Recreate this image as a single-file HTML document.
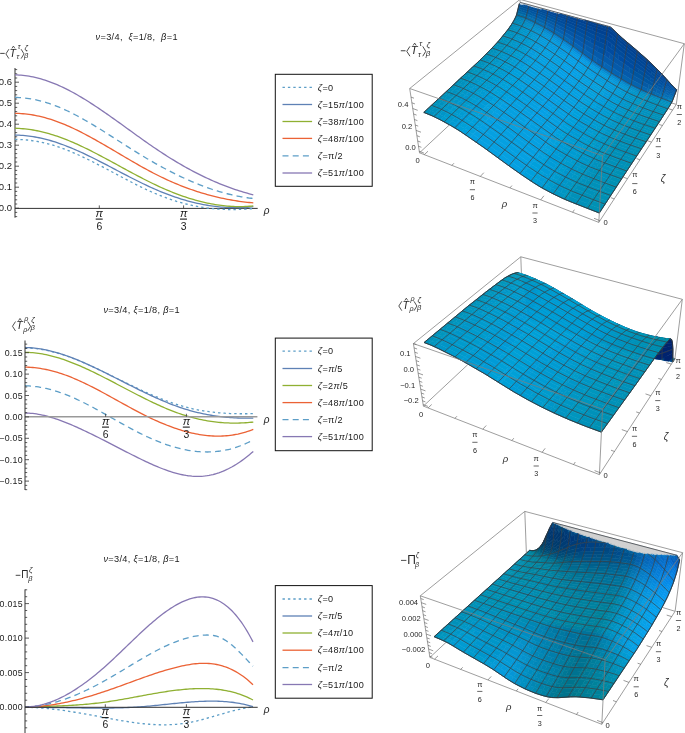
<!DOCTYPE html>
<html><head><meta charset="utf-8"><style>
html,body{margin:0;padding:0;background:#fff;width:685px;height:733px;overflow:hidden}
svg{display:block;will-change:transform}
text{font-family:"Liberation Sans",sans-serif}
</style></head><body>
<svg width="685" height="733" viewBox="0 0 685 733">
<rect width="685" height="733" fill="#fff"/>
<style>path[class]{stroke-width:.6px}.c0{fill:#ebebeb;stroke:#ebebeb}.c1{fill:#004191;stroke:#004191}.c2{fill:#00418c;stroke:#00418c}.c3{fill:#004696;stroke:#004696}.c4{fill:#004b9b;stroke:#004b9b}.c5{fill:#0050a0;stroke:#0050a0}.c6{fill:#004ba0;stroke:#004ba0}.c7{fill:#004691;stroke:#004691}.c8{fill:#00469b;stroke:#00469b}.c9{fill:#004b91;stroke:#004b91}.ca{fill:#004b96;stroke:#004b96}.cb{fill:#004196;stroke:#004196}.cc{fill:#0555a5;stroke:#0555a5}.cd{fill:#055aa5;stroke:#055aa5}.ce{fill:#005096;stroke:#005096}.cf{fill:#00509b;stroke:#00509b}.c10{fill:#0055a5;stroke:#0055a5}.c11{fill:#055faa;stroke:#055faa}.c12{fill:#00559b;stroke:#00559b}.c13{fill:#0055a0;stroke:#0055a0}.c14{fill:#0564af;stroke:#0564af}.c15{fill:#005a9b;stroke:#005a9b}.c16{fill:#005aa0;stroke:#005aa0}.c17{fill:#005aa5;stroke:#005aa5}.c18{fill:#0550a5;stroke:#0550a5}.c19{fill:#056eb4;stroke:#056eb4}.c1a{fill:#0064a0;stroke:#0064a0}.c1b{fill:#0064a5;stroke:#0064a5}.c1c{fill:#0064aa;stroke:#0064aa}.c1d{fill:#0564aa;stroke:#0564aa}.c1e{fill:#055faf;stroke:#055faf}.c1f{fill:#055aaf;stroke:#055aaf}.c20{fill:#055aaa;stroke:#055aaa}.c21{fill:#055fa5;stroke:#055fa5}.c22{fill:#0569af;stroke:#0569af}.c23{fill:#0573b9;stroke:#0573b9}.c24{fill:#006ea5;stroke:#006ea5}.c25{fill:#006eaa;stroke:#006eaa}.c26{fill:#056eaf;stroke:#056eaf}.c27{fill:#0569b4;stroke:#0569b4}.c28{fill:#0564b4;stroke:#0564b4}.c29{fill:#0578b9;stroke:#0578b9}.c2a{fill:#0582be;stroke:#0582be}.c2b{fill:#0073aa;stroke:#0073aa}.c2c{fill:#0078af;stroke:#0078af}.c2d{fill:#0578b4;stroke:#0578b4}.c2e{fill:#0578be;stroke:#0578be}.c2f{fill:#0578c3;stroke:#0578c3}.c30{fill:#0578c8;stroke:#0578c8}.c31{fill:#0573c3;stroke:#0573c3}.c32{fill:#0573be;stroke:#0573be}.c33{fill:#0573b4;stroke:#0573b4}.c34{fill:#057db9;stroke:#057db9}.c35{fill:#0582b9;stroke:#0582b9}.c36{fill:#0587be;stroke:#0587be}.c37{fill:#007daf;stroke:#007daf}.c38{fill:#007db4;stroke:#007db4}.c39{fill:#0582c3;stroke:#0582c3}.c3a{fill:#0587c3;stroke:#0587c3}.c3b{fill:#0587c8;stroke:#0587c8}.c3c{fill:#0587cd;stroke:#0587cd}.c3d{fill:#0587d2;stroke:#0587d2}.c3e{fill:#0587d7;stroke:#0587d7}.c3f{fill:#0087be;stroke:#0087be}.c40{fill:#008cbe;stroke:#008cbe}.c41{fill:#0082b4;stroke:#0082b4}.c42{fill:#0087b9;stroke:#0087b9}.c43{fill:#058cc3;stroke:#058cc3}.c44{fill:#058cc8;stroke:#058cc8}.c45{fill:#058ccd;stroke:#058ccd}.c46{fill:#0591d2;stroke:#0591d2}.c47{fill:#0591d7;stroke:#0591d7}.c48{fill:#0591dc;stroke:#0591dc}.c49{fill:#0596dc;stroke:#0596dc}.c4a{fill:#0596e1;stroke:#0596e1}.c4b{fill:#0596d7;stroke:#0596d7}.c4c{fill:#0591cd;stroke:#0591cd}.c4d{fill:#0591c8;stroke:#0591c8}.c4e{fill:#0091c3;stroke:#0091c3}.c4f{fill:#0091be;stroke:#0091be}.c50{fill:#0087b4;stroke:#0087b4}.c51{fill:#0596d2;stroke:#0596d2}.c52{fill:#059be1;stroke:#059be1}.c53{fill:#059bdc;stroke:#059bdc}.c54{fill:#0596cd;stroke:#0596cd}.c55{fill:#0096c8;stroke:#0096c8}.c56{fill:#0091c8;stroke:#0091c8}.c57{fill:#008cb9;stroke:#008cb9}.c58{fill:#008cc3;stroke:#008cc3}.c59{fill:#059be6;stroke:#059be6}.c5a{fill:#059bd7;stroke:#059bd7}.c5b{fill:#0096cd;stroke:#0096cd}.c5c{fill:#0096c3;stroke:#0096c3}.c5d{fill:#05a0e6;stroke:#05a0e6}.c5e{fill:#0091b9;stroke:#0091b9}.c5f{fill:#05a0e1;stroke:#05a0e1}.c60{fill:#009bd2;stroke:#009bd2}.c61{fill:#059bd2;stroke:#059bd2}.c62{fill:#05a0dc;stroke:#05a0dc}.c63{fill:#009bd7;stroke:#009bd7}.c64{fill:#0096be;stroke:#0096be}.c65{fill:#009bdc;stroke:#009bdc}.c66{fill:#0091b4;stroke:#0091b4}.c67{fill:#009bcd;stroke:#009bcd}.c68{fill:#00a0dc;stroke:#00a0dc}.c69{fill:#00a0d7;stroke:#00a0d7}.c6a{fill:#00a0e1;stroke:#00a0e1}.c6b{fill:#009bc8;stroke:#009bc8}.c6c{fill:#0078a5;stroke:#0078a5}.c6d{fill:#005a91;stroke:#005a91}.c6e{fill:#0096b9;stroke:#0096b9}.c6f{fill:#004182;stroke:#004182}.c70{fill:#00236e;stroke:#00236e}.c71{fill:#004682;stroke:#004682}.c72{fill:#005f96;stroke:#005f96}.c73{fill:#005f91;stroke:#005f91}.c74{fill:#00417d;stroke:#00417d}.c75{fill:#006496;stroke:#006496}.c76{fill:#00649b;stroke:#00649b}.c77{fill:#0069a0;stroke:#0069a0}.c78{fill:#0069a5;stroke:#0069a5}.c79{fill:#007da0;stroke:#007da0}.c7a{fill:#009baf;stroke:#009baf}.c7b{fill:#00a0be;stroke:#00a0be}.c7c{fill:#00a0c3;stroke:#00a0c3}.c7d{fill:#00a5c8;stroke:#00a5c8}.c7e{fill:#00a5cd;stroke:#00a5cd}.c7f{fill:#00a5d2;stroke:#00a5d2}.c80{fill:#00aad2;stroke:#00aad2}.c81{fill:#00aad7;stroke:#00aad7}.c82{fill:#00aadc;stroke:#00aadc}.c83{fill:#00aacd;stroke:#00aacd}.c84{fill:#00a0b9;stroke:#00a0b9}.c85{fill:#009bb9;stroke:#009bb9}.c86{fill:#009bb4;stroke:#009bb4}.c87{fill:#0096af;stroke:#0096af}.c88{fill:#0091aa;stroke:#0091aa}.c89{fill:#009bbe;stroke:#009bbe}.c8a{fill:#00a0c8;stroke:#00a0c8}.c8b{fill:#00a0cd;stroke:#00a0cd}.c8c{fill:#00a5d7;stroke:#00a5d7}.c8d{fill:#0096b4;stroke:#0096b4}.c8e{fill:#0091af;stroke:#0091af}.c8f{fill:#009bc3;stroke:#009bc3}.c90{fill:#00a0d2;stroke:#00a0d2}.c91{fill:#00829b;stroke:#00829b}.c92{fill:#006e87;stroke:#006e87}.c93{fill:#00556e;stroke:#00556e}.c94{fill:#004164;stroke:#004164}.c95{fill:#003764;stroke:#003764}.c96{fill:#003769;stroke:#003769}.c97{fill:#003773;stroke:#003773}.c98{fill:#d0d0d0;stroke:#d0d0d0}.c99{fill:#056ec8;stroke:#056ec8}.c9a{fill:#0082a0;stroke:#0082a0}.c9b{fill:#00738c;stroke:#00738c}.c9c{fill:#005573;stroke:#005573}.c9d{fill:#004664;stroke:#004664}.c9e{fill:#003c64;stroke:#003c64}.c9f{fill:#004b82;stroke:#004b82}.ca0{fill:#0078b9;stroke:#0078b9}.ca1{fill:#055fb9;stroke:#055fb9}.ca2{fill:#0087a0;stroke:#0087a0}.ca3{fill:#005a78;stroke:#005a78}.ca4{fill:#004669;stroke:#004669}.ca5{fill:#00376e;stroke:#00376e}.ca6{fill:#005087;stroke:#005087}.ca7{fill:#055ab9;stroke:#055ab9}.ca8{fill:#007891;stroke:#007891}.ca9{fill:#00647d;stroke:#00647d}.caa{fill:#004b6e;stroke:#004b6e}.cab{fill:#004169;stroke:#004169}.cac{fill:#003c69;stroke:#003c69}.cad{fill:#003c73;stroke:#003c73}.cae{fill:#005f8c;stroke:#005f8c}.caf{fill:#0082c3;stroke:#0082c3}.cb0{fill:#0569be;stroke:#0569be}.cb1{fill:#055fbe;stroke:#055fbe}.cb2{fill:#0087a5;stroke:#0087a5}.cb3{fill:#007d96;stroke:#007d96}.cb4{fill:#006982;stroke:#006982}.cb5{fill:#004678;stroke:#004678}.cb6{fill:#006491;stroke:#006491}.cb7{fill:#0564c8;stroke:#0564c8}.cb8{fill:#00416e;stroke:#00416e}.cb9{fill:#003c6e;stroke:#003c6e}.cba{fill:#0569c3;stroke:#0569c3}.cbb{fill:#0569cd;stroke:#0569cd}.cbc{fill:#0573d2;stroke:#0573d2}.cbd{fill:#008ca5;stroke:#008ca5}.cbe{fill:#007391;stroke:#007391}.cbf{fill:#006482;stroke:#006482}.cc0{fill:#005073;stroke:#005073}.cc1{fill:#00466e;stroke:#00466e}.cc2{fill:#003c78;stroke:#003c78}.cc3{fill:#00558c;stroke:#00558c}.cc4{fill:#0569c8;stroke:#0569c8}.cc5{fill:#0578dc;stroke:#0578dc}.cc6{fill:#008caa;stroke:#008caa}.cc7{fill:#007896;stroke:#007896}.cc8{fill:#006987;stroke:#006987}.cc9{fill:#005a7d;stroke:#005a7d}.cca{fill:#004b73;stroke:#004b73}.ccb{fill:#004673;stroke:#004673}.ccc{fill:#056ecd;stroke:#056ecd}.ccd{fill:#0578d7;stroke:#0578d7}.cce{fill:#057de1;stroke:#057de1}.ccf{fill:#00557d;stroke:#00557d}.cd0{fill:#005078;stroke:#005078}.cd1{fill:#003778;stroke:#003778}.cd2{fill:#00508c;stroke:#00508c}.cd3{fill:#006ea0;stroke:#006ea0}.cd4{fill:#057dbe;stroke:#057dbe}.cd5{fill:#056ec3;stroke:#056ec3}.cd6{fill:#0582e1;stroke:#0582e1}.cd7{fill:#006e8c;stroke:#006e8c}.cd8{fill:#006487;stroke:#006487}.cd9{fill:#004173;stroke:#004173}.cda{fill:#003c7d;stroke:#003c7d}.cdb{fill:#004687;stroke:#004687}.cdc{fill:#004b8c;stroke:#004b8c}.cdd{fill:#005591;stroke:#005591}.cde{fill:#0073a5;stroke:#0073a5}.cdf{fill:#056ebe;stroke:#056ebe}.ce0{fill:#057ddc;stroke:#057ddc}.ce1{fill:#0582e6;stroke:#0582e6}.ce2{fill:#005f82;stroke:#005f82}.ce3{fill:#004b78;stroke:#004b78}.ce4{fill:#004178;stroke:#004178}.ce5{fill:#005a96;stroke:#005a96}.ce6{fill:#00699b;stroke:#00699b}.ce7{fill:#007daa;stroke:#007daa}.ce8{fill:#0569b9;stroke:#0569b9}.ce9{fill:#0587e6;stroke:#0587e6}.cea{fill:#008caf;stroke:#008caf}.ceb{fill:#005a82;stroke:#005a82}.cec{fill:#004b87;stroke:#004b87}.ced{fill:#005f9b;stroke:#005f9b}.cee{fill:#0564b9;stroke:#0564b9}.cef{fill:#0573c8;stroke:#0573c8}.cf0{fill:#0578d2;stroke:#0578d2}.cf1{fill:#006e91;stroke:#006e91}.cf2{fill:#00698c;stroke:#00698c}.cf3{fill:#005f87;stroke:#005f87}.cf4{fill:#004b7d;stroke:#004b7d}.cf5{fill:#0573cd;stroke:#0573cd}.cf6{fill:#057dd7;stroke:#057dd7}.cf7{fill:#0582dc;stroke:#0582dc}.cf8{fill:#058ceb;stroke:#058ceb}.cf9{fill:#007396;stroke:#007396}.cfa{fill:#005582;stroke:#005582}.cfb{fill:#005082;stroke:#005082}.cfc{fill:#0578cd;stroke:#0578cd}.cfd{fill:#0587e1;stroke:#0587e1}.cfe{fill:#058ce6;stroke:#058ce6}.cff{fill:#0591eb;stroke:#0591eb}.c100{fill:#007d9b;stroke:#007d9b}.c101{fill:#005a87;stroke:#005a87}.c102{fill:#005587;stroke:#005587}.c103{fill:#056eb9;stroke:#056eb9}.c104{fill:#057dd2;stroke:#057dd2}.c105{fill:#005a8c;stroke:#005a8c}.c106{fill:#0569aa;stroke:#0569aa}.c107{fill:#057dcd;stroke:#057dcd}.c108{fill:#0582d2;stroke:#0582d2}.c109{fill:#0587dc;stroke:#0587dc}.c10a{fill:#058ce1;stroke:#058ce1}.c10b{fill:#0591e6;stroke:#0591e6}.c10c{fill:#0596eb;stroke:#0596eb}.c10d{fill:#00648c;stroke:#00648c}.c10e{fill:#057dc3;stroke:#057dc3}.c10f{fill:#006991;stroke:#006991}.c110{fill:#0573af;stroke:#0573af}.c111{fill:#057dc8;stroke:#057dc8}.c112{fill:#0582cd;stroke:#0582cd}.c113{fill:#058cdc;stroke:#058cdc}.c114{fill:#0596f0;stroke:#0596f0}.c115{fill:#00789b;stroke:#00789b}.c116{fill:#006e96;stroke:#006e96}.c117{fill:#006996;stroke:#006996}.c118{fill:#006e9b;stroke:#006e9b}.c119{fill:#0582c8;stroke:#0582c8}.c11a{fill:#058cd7;stroke:#058cd7}.c11b{fill:#0591e1;stroke:#0591e1}.c11c{fill:#059bf0;stroke:#059bf0}.c11d{fill:#058cd2;stroke:#058cd2}.c11e{fill:#0596e6;stroke:#0596e6}.c11f{fill:#059beb;stroke:#059beb}.c120{fill:#00739b;stroke:#00739b}.c121{fill:#05a0f0;stroke:#05a0f0}.c122{fill:#0082a5;stroke:#0082a5}.c123{fill:#0087aa;stroke:#0087aa}.c124{fill:#0078a0;stroke:#0078a0}.c125{fill:#05a0eb;stroke:#05a0eb}.c126{fill:#007da5;stroke:#007da5}.c127{fill:#0082af;stroke:#0082af}.c128{fill:#0087af;stroke:#0087af}.c129{fill:#008cb4;stroke:#008cb4}.c12a{fill:#0082aa;stroke:#0082aa}.c12b{fill:#0073a0;stroke:#0073a0}.c12c{fill:#0096d2;stroke:#0096d2}.c12d{fill:#00788c;stroke:#00788c}.c12e{fill:#007d91;stroke:#007d91}.c12f{fill:#008296;stroke:#008296}.c130{fill:#00879b;stroke:#00879b}</style>
<path class="c0" d="M520.2 2.6l3.7 1 3.7 1 3.7 1 3.7 1 3.8 1 3.8 1 3.8 1.1 3.8 1 3.8 1 3.9 1.1 3.8 1 3.9 1.1 3.9 1 3.9 1.1 4 1.1 3.9 1 .1-.1-3.9-1.1-4-1-3.9-1.1-3.9-1-3.9-1.1-3.8-1-3.9-1.1-3.8-1-3.8-1.1-3.8-1-3.8-1-3.8-1-3.7-1-3.7-1.1-3.7-1-3.7-1z"/>
<path class="c1" d="M584.5 20l.8 .3 0-.1z"/>
<path class="c0" d="M581.3 19.1l3.2 .9 .8 .2 .1-.1-4-1.1z"/>
<path class="c1" d="M585.3 20.3l4 1.2 0-.2-4-1.1z"/>
<path class="c0" d="M589.3 21.3l.1-.1-4-1.1-.1 .1z"/>
<path class="c1" d="M589.3 21.5l4 1.2 0-.4-4-1z"/>
<path class="c0" d="M593.3 22.3l.1 0-4-1.1-.1 .1z"/>
<path class="c2" d="M593.3 22.7l4 1.3 .1-.6-4.1-1.1z"/>
<path class="c0" d="M597.4 23.4l0 0-4-1.1-.1 0z"/>
<path class="c2" d="M597.3 24l4 1.2 .1-.7-4-1.1z"/>
<path class="c0" d="M601.4 24.5l.1 0-4.1-1.1 0 0z"/>
<path class="c2" d="M601.3 25.2l4.1 1.3 .1-.9-4.1-1.1z"/>
<path class="c0" d="M605.5 25.6l0 0-4-1.1-.1 0z"/>
<path class="c2" d="M605.4 26.5l4.1 1.2 .1-1-4.1-1.1z"/>
<path class="c0" d="M609.6 26.7l0 0-4.1-1.1 0 0z"/>
<path class="c1" d="M609.5 27.7l4 3.3 .1-1.1-3.9-3.2-.1 0z"/>
<path class="c0" d="M609.7 26.7l-.1 0 0 0z"/>
<path class="c1" d="M613.5 31l3.9 3.7 4 3.7 3.9 3.4 4 3.3 4 3.3 4 3.4 3.9 3.5 4 3.4 4 3.6 3.9 3.8 4 3.8 .1-.7-3.9-3.8-4-3.9-3.9-3.6-4-3.5-4-3.5-3.9-3.4-4-3.3-4-3.4-4-3.4-3.9-3.7-4-3.8z"/>
<path class="c3" d="M657.1 69.9l3.9 3.8 3.9 4.2 .1-.5-3.9-4.3-3.9-3.9z"/>
<path class="c4" d="M664.9 77.9l3.8 4.3 3.9 4.2 .1-.4-3.8-4.3-3.9-4.3z"/>
<path class="c5" d="M672.6 86.4l3.9 3.7 .2-.3-4-3.8z"/>
<path class="c0" d="M520 2.8l3.7 1 3.7 1 3.7 1 3.7 1.1 3.8 1 3.8 1 3.8 1 3.8 1.1 3.8 1 3.9 1 .2-.2-3.9-1.1-3.8-1-3.8-1-3.8-1.1-3.8-1-3.8-1-3.7-1-3.7-1-3.7-1-3.7-1z"/>
<path class="c1" d="M559.7 13.6l1.8 .6 0-.1z"/>
<path class="c0" d="M557.7 13l2 .6 1.8 .5 .2-.3-3.8-1z"/>
<path class="c1" d="M561.5 14.2l3.9 1.3 .1-.4-4-1z"/>
<path class="c0" d="M565.5 15.1l.1-.2-3.9-1.1-.2 .3z"/>
<path class="c1" d="M565.4 15.5l3.9 1.2 .1-.6-3.9-1z"/>
<path class="c0" d="M569.4 16.1l.1-.2-3.9-1-.1 .2z"/>
<path class="c1" d="M569.3 16.7l3.9 1.3 .2-.9-4-1z"/>
<path class="c0" d="M573.4 17.1l0-.1-3.9-1.1-.1 .2z"/>
<path class="c1" d="M573.2 18l3.9 1.3 .2-1.2-3.9-1z"/>
<path class="c0" d="M577.3 18.1l.1 0-4-1.1 0 .1z"/>
<path class="c1" d="M577.1 19.3l4 1.3 .2-1.4-4-1.1z"/>
<path class="c0" d="M581.3 19.2l0-.1-3.9-1-.1 0z"/>
<path class="c1" d="M581.1 20.6l3.9 1.3 .3-1.6-.8-.3-3.2-.8z"/>
<path class="c0" d="M584.5 20l-3.2-.9 0 .1z"/>
<path class="c1" d="M585 21.9l4 1.4 4 1.3 4 1.3 4.1 1.4 .2-2.1-4-1.2-4-1.3-4-1.2-4-1.2z"/>
<path class="c2" d="M601.1 27.3l4 1.3 .3-2.1-4.1-1.3z"/>
<path class="c1" d="M605.1 28.6l4.1 1.3 4 3.2 3.9 3.7 3.9 3.6 4 3.3 4 3.3 4 3.3 3.9 3.3 4 3.4 4 3.3 4 3.5 3.9 3.7 .3-1.4-3.9-3.8-4-3.6-4-3.4-3.9-3.5-4-3.4-4-3.3-4-3.3-3.9-3.4-4-3.7-3.9-3.7-4-3.3-4.1-1.2z"/>
<path class="c3" d="M652.8 67.5l3.9 3.7 4 3.6 3.9 4.1 .3-1-3.9-4.2-3.9-3.8-4-3.8z"/>
<path class="c4" d="M664.6 78.9l3.9 4.1 .2-.8-3.8-4.3z"/>
<path class="c6" d="M668.5 83l3.8 4.1 .3-.7-3.9-4.2z"/>
<path class="c5" d="M672.3 87.1l4 3.6 .2-.6-3.9-3.7z"/>
<path class="c0" d="M519.7 3.2l3.7 1 3.7 1 3.7 1 3.8 1 3.7 1 .3-.3-3.8-1-3.7-1.1-3.7-1-3.7-1-3.7-1z"/>
<path class="c3" d="M541.5 9.1l.6 .2 0-.1z"/>
<path class="c0" d="M538.3 8.2l3.2 .9 .6 .1 .3-.3-3.8-1z"/>
<path class="c3" d="M542.1 9.3l3.8 1.3 .1-.4-3.9-1z"/>
<path class="c0" d="M546 10.2l.2-.3-3.8-1-.3 .3z"/>
<path class="c3" d="M545.9 10.6l3.8 1.2 .2-.7-3.9-.9z"/>
<path class="c0" d="M549.9 11.1l.1-.1-3.8-1.1-.2 .3z"/>
<path class="c3" d="M549.7 11.8l3.8 1.4 .2-1.1-3.8-1z"/>
<path class="c0" d="M553.7 12.1l.1-.1-3.8-1-.1 .1z"/>
<path class="c3" d="M553.5 13.2l3.9 1.3 .2-1.4-3.9-1z"/>
<path class="c0" d="M557.6 13.1l.1-.1-3.9-1-.1 .1z"/>
<path class="c3" d="M557.4 14.5l3.8 1.3 .3-1.6-1.8-.6-2.1-.5z"/>
<path class="c0" d="M559.7 13.6l-2-.6-.1 .1z"/>
<path class="c3" d="M561.2 15.8l3.9 1.4 .3-1.7-3.9-1.3z"/>
<path class="c7" d="M565.1 17.2l3.9 1.4 .3-1.9-3.9-1.2z"/>
<path class="c1" d="M569 18.6l3.9 1.4 3.9 1.4 4 1.4 3.9 1.5 4 1.4 4 1.5 4 1.4 4 1.4 4 1.5 4.1 1.4 3.9 3.1 4 3.6 3.9 3.6 4 3.2 4 3.2 3.9 3.2 4 3.2 4 3.3 3.9 3.2 4 3.4 .5-2.1-4-3.5-4-3.3-4-3.4-3.9-3.3-4-3.3-4-3.3-4-3.3-3.9-3.6-3.9-3.7-4-3.2-4.1-1.3-4-1.3-4.1-1.4-4-1.3-4-1.3-4-1.4-3.9-1.3-4-1.3-3.9-1.3-3.9-1.3z"/>
<path class="c3" d="M648.4 65.9l4 3.5 3.9 3.5 4 3.5 .4-1.6-4-3.6-3.9-3.7-3.9-3.7z"/>
<path class="c8" d="M660.3 76.4l3.9 4 .4-1.5-3.9-4.1z"/>
<path class="c4" d="M664.2 80.4l3.9 3.9 .4-1.3-3.9-4.1z"/>
<path class="c5" d="M668.1 84.3l3.9 3.9 3.9 3.4 .4-.9-4-3.6-3.8-4.1z"/>
<path class="c0" d="M519.4 3.6l3.7 1 .3-.4-3.7-1z"/>
<path class="c9" d="M523.6 4.7l3.2 1 0-.2z"/>
<path class="c0" d="M523.1 4.6l.5 .1 3.2 .8 .3-.3-3.7-1z"/>
<path class="ca" d="M526.8 5.7l3.7 1.3 .1-.5-3.8-1z"/>
<path class="c0" d="M530.6 6.5l.2-.3-3.7-1-.3 .3z"/>
<path class="ca" d="M530.5 7l3.8 1.2 .1-.8-3.8-.9z"/>
<path class="c0" d="M534.4 7.4l.2-.2-3.8-1-.2 .3z"/>
<path class="ca" d="M534.3 8.2l3.7 1.3 .3-1.2-3.9-.9z"/>
<path class="c0" d="M538.3 8.3l0-.1-3.7-1-.2 .2z"/>
<path class="ca" d="M538 9.5l3.8 1.3 .3-1.5-.6-.2-3.2-.8z"/>
<path class="c0" d="M541.5 9.1l-3.2-.9 0 .1z"/>
<path class="ca" d="M541.8 10.8l3.8 1.4 .3-1.6-3.8-1.3z"/>
<path class="c3" d="M545.6 12.2l3.8 1.3 3.8 1.4 3.8 1.5 3.9 1.5 3.9 1.4 3.8 1.5 3.9 1.6 3.9 1.5 4 1.6 3.9 1.6 4 1.6 3.9 1.6 .5-3.1-4-1.5-4-1.4-3.9-1.5-4-1.4-3.9-1.4-3.9-1.4-3.9-1.4-3.9-1.4-3.8-1.3-3.9-1.3-3.8-1.4-3.8-1.2z"/>
<path class="c1" d="M592.2 30.3l4 1.6 4 1.5 4 1.6 4 1.5 .6-3.6-4.1-1.4-4-1.5-4-1.4-4-1.4z"/>
<path class="cb" d="M608.2 36.5l4 3.1 .5-3.6-3.9-3.1z"/>
<path class="c3" d="M612.2 39.6l3.9 3.4 4 3.5 3.9 3.1 4 3.1 4 3.1 4 3.1 3.9 3.2 4 3.1 4 3.2 3.9 3.3 4 3.4 4 3.3 .5-2-4-3.5-3.9-3.5-4-3.5-4-3.4-3.9-3.2-4-3.3-4-3.2-3.9-3.2-4-3.2-4-3.2-3.9-3.6-4-3.6z"/>
<path class="c4" d="M659.8 78.4l3.9 3.7 .5-1.7-3.9-4z"/>
<path class="c6" d="M663.7 82.1l3.9 3.7 .5-1.5-3.9-3.9z"/>
<path class="c5" d="M667.6 85.8l4 3.6 .4-1.2-3.9-3.9z"/>
<path class="cc" d="M671.6 89.4l3.9 3.3 .4-1.1-3.9-3.4z"/>
<path class="ca" d="M519 5l3.7 1.1 .4-1.5-3.8-.9z"/>
<path class="c0" d="M523.1 4.6l0 0-3.7-1-.1 .1z"/>
<path class="ca" d="M522.7 6.1l3.7 1.2 .4-1.6-3.2-1-.5-.1z"/>
<path class="c0" d="M523.6 4.7l-.5-.1 0 0z"/>
<path class="ca" d="M526.4 7.3l3.7 1.2 3.8 1.3 3.7 1.4 3.8 1.4 3.8 1.4 .4-1.8-3.8-1.4-3.8-1.3-3.7-1.3-3.8-1.2-3.7-1.3z"/>
<path class="c4" d="M545.2 14l3.8 1.5 3.8 1.5 3.8 1.6 3.9 1.6 3.8 1.6 .5-2.5-3.9-1.4-3.9-1.5-3.8-1.5-3.8-1.4-3.8-1.3z"/>
<path class="c3" d="M564.3 21.8l3.9 1.7 3.9 1.6 3.9 1.7 3.9 1.8 3.9 1.7 4 1.8 3.9 1.8 4 1.7 4 1.8 3.9 1.7 4.1 1.6 3.9 3 3.9 3.3 4 3.3 3.9 3.1 4 3 4 3 3.9 2.9 4 3 4 3 4 3 3.9 3.1 .6-2.7-3.9-3.3-4-3.2-4-3.1-3.9-3.2-4-3.1-4-3.1-4-3.1-3.9-3.1-4-3.5-3.9-3.4-4-3.1-4-1.5-4-1.6-4-1.5-4-1.6-3.9-1.6-4-1.6-3.9-1.6-4-1.6-3.9-1.5-3.9-1.6-3.8-1.5z"/>
<path class="ca" d="M651.2 74.4l4 3.2 .6-2.5-4-3.4z"/>
<path class="c4" d="M655.2 77.6l4 3.1 3.9 3.4 .6-2-3.9-3.7-4-3.3z"/>
<path class="c5" d="M663.1 84.1l4 3.4 .5-1.7-3.9-3.7z"/>
<path class="cc" d="M667.1 87.5l4 3.4 .5-1.5-4-3.6z"/>
<path class="cd" d="M671.1 90.9l4 3 .4-1.2-3.9-3.3z"/>
<path class="ce" d="M518.6 6.7l3.7 1.1 3.7 1.2 .4-1.7-3.7-1.2-3.7-1.1z"/>
<path class="cf" d="M526 9l3.7 1.3 3.8 1.4 3.7 1.4 3.8 1.5 3.8 1.5 3.8 1.6 3.8 1.7 3.8 1.7 .4-2.5-3.8-1.6-3.8-1.5-3.8-1.5-3.8-1.4-3.8-1.4-3.7-1.4-3.8-1.3-3.7-1.2z"/>
<path class="c4" d="M556.2 21.1l3.8 1.7 3.9 1.8 3.8 1.8 3.9 1.8 3.9 1.9 3.9 2 3.9 1.9 3.9 2 3.9 1.9 4 2 .6-4.3-4-1.7-3.9-1.8-4-1.8-3.9-1.7-3.9-1.8-3.9-1.7-3.9-1.6-3.9-1.7-3.8-1.6-3.9-1.6z"/>
<path class="c8" d="M595.1 39.9l3.9 1.9 .7-4.4-4-1.8z"/>
<path class="c3" d="M599 41.8l4 1.8 4 1.9 .7-4.8-4.1-1.6-3.9-1.7z"/>
<path class="c8" d="M607 45.5l3.9 2.9 .7-4.7-3.9-3z"/>
<path class="c4" d="M610.9 48.4l3.9 3.1 4 3.2 3.9 2.9 4 2.9 3.9 2.8 4 2.9 4 2.8 4 2.8 4 2.8 3.9 2.9 4 2.9 .7-2.8-4-3.2-3.9-3.1-4-3-4-3-4-3-3.9-2.9-4-3-4-3-3.9-3.1-4-3.3-3.9-3.3z"/>
<path class="cf" d="M654.5 80.4l4 2.8 .7-2.5-4-3.1z"/>
<path class="c5" d="M658.5 83.2l4 3.1 .6-2.2-3.9-3.4z"/>
<path class="c10" d="M662.5 86.3l4 3.1 .6-1.9-4-3.4z"/>
<path class="cd" d="M666.5 89.4l4 3.1 .6-1.6-4-3.4z"/>
<path class="c11" d="M670.5 92.5l4 2.8 .6-1.4-4-3z"/>
<path class="c12" d="M518.2 8.5l3.7 1.2 3.7 1.2 3.7 1.4 .4-2-3.7-1.3-3.7-1.2-3.7-1.1z"/>
<path class="c13" d="M529.3 12.3l3.7 1.4 3.8 1.5 3.7 1.6 3.8 1.7 3.8 1.7 3.8 1.8 3.8 1.8 .5-2.7-3.8-1.7-3.8-1.7-3.8-1.6-3.8-1.5-3.8-1.5-3.7-1.4-3.8-1.4z"/>
<path class="c5" d="M555.7 23.8l3.8 1.9 3.9 2 3.8 2 3.9 2 3.8 2.1 3.9 2.1 3.9 2.2 3.9 2.1 3.9 2.2 .6-4.5-3.9-1.9-3.9-2-3.9-1.9-3.9-2-3.9-1.9-3.9-1.8-3.8-1.8-3.9-1.8-3.8-1.7z"/>
<path class="c6" d="M590.5 42.4l3.9 2.1 .7-4.6-4-2z"/>
<path class="c4" d="M594.4 44.5l3.9 2.1 4 2 4 2 .7-5.1-4-1.9-4-1.8-3.9-1.9z"/>
<path class="c6" d="M606.3 50.6l3.9 2.9 3.9 3 .7-5-3.9-3.1-3.9-2.9z"/>
<path class="c5" d="M614.1 56.5l3.9 3 .8-4.8-4-3.2z"/>
<path class="c6" d="M618 59.5l4 2.8 3.9 2.7 4 2.7 3.9 2.7 .8-4.2-4-2.9-3.9-2.8-4-2.9-3.9-2.9z"/>
<path class="c4" d="M633.8 70.4l4 2.7 .8-4.1-4-2.8z"/>
<path class="cf" d="M637.8 73.1l4 2.5 4 2.6 4 2.7 .7-3.4-3.9-2.9-4-2.8-4-2.8z"/>
<path class="c5" d="M649.8 80.9l4 2.6 4 2.5 .7-2.8-4-2.8-4-2.9z"/>
<path class="c10" d="M657.8 86l4 2.8 .7-2.5-4-3.1z"/>
<path class="cd" d="M661.8 88.8l4 2.8 .7-2.2-4-3.1z"/>
<path class="c11" d="M665.8 91.6l4.1 2.8 .6-1.9-4-3.1z"/>
<path class="c14" d="M669.9 94.4l4 2.5 .6-1.6-4-2.8z"/>
<path class="c15" d="M517.7 10.6l3.6 1.1 .6-2-3.7-1.2z"/>
<path class="c16" d="M521.3 11.7l3.7 1.3 3.8 1.4 3.7 1.5 .5-2.2-3.7-1.4-3.7-1.4-3.7-1.2z"/>
<path class="c17" d="M532.5 15.9l3.7 1.7 3.8 1.6 3.8 1.8 .5-2.5-3.8-1.7-3.7-1.6-3.8-1.5z"/>
<path class="cd" d="M543.8 21l3.7 1.8 3.8 2 3.8 2 3.9 2.1 .5-3.2-3.8-1.9-3.8-1.8-3.8-1.8-3.8-1.7z"/>
<path class="cc" d="M559 28.9l3.8 2.1 3.8 2.2 3.9 2.2 3.8 2.3 3.9 2.4 3.8 2.4 3.9 2.4 3.9 2.4 3.9 2.3 .7-5.1-3.9-2.1-3.9-2.2-3.9-2.1-3.9-2.2-3.9-2.1-3.8-2.1-3.9-2-3.8-2-3.9-2z"/>
<path class="c18" d="M593.7 49.6l3.9 2.3 .7-5.3-3.9-2.1z"/>
<path class="c5" d="M597.6 51.9l3.9 2.2 4 2.2 .8-5.7-4-2-4-2z"/>
<path class="c18" d="M605.5 56.3l3.9 2.7 .8-5.5-3.9-2.9z"/>
<path class="cc" d="M609.4 59l3.9 2.8 3.9 2.8 3.9 2.7 4 2.6 3.9 2.6 .9-4.8-4-2.7-3.9-2.7-4-2.8-3.9-3-3.9-3z"/>
<path class="c13" d="M629 72.5l4 2.5 3.9 2.4 4 2.4 4 2.4 4.1 2.3 4 2.3 .8-3.3-4-2.6-4-2.7-4-2.6-4-2.5-4-2.7-3.9-2.7z"/>
<path class="c17" d="M653 86.8l4 2.3 .8-3.1-4-2.5z"/>
<path class="cd" d="M657 89.1l4.1 2.4 .7-2.7-4-2.8z"/>
<path class="c11" d="M661.1 91.5l4 2.5 .7-2.4-4-2.8z"/>
<path class="c14" d="M665.1 94l4.1 2.3 .7-1.9-4.1-2.8z"/>
<path class="c19" d="M669.2 96.3l4.1 2.3 .6-1.7-4-2.5z"/>
<path class="c1a" d="M517.1 12.8l3.7 1.1 .5-2.2-3.6-1.1z"/>
<path class="c1b" d="M520.8 13.9l3.7 1.3 3.7 1.5 .6-2.3-3.8-1.4-3.7-1.3z"/>
<path class="c1c" d="M528.2 16.7l3.7 1.6 .6-2.4-3.7-1.5z"/>
<path class="c1d" d="M531.9 18.3l3.8 1.7 3.7 1.9 3.8 1.8 3.8 2 .5-2.9-3.7-1.8-3.8-1.8-3.8-1.6-3.7-1.7z"/>
<path class="c1e" d="M547 25.7l3.8 2.1 3.8 2.2 3.8 2.3 3.8 2.3 3.8 2.4 3.8 2.4 3.9 2.5 .6-4.2-3.8-2.3-3.9-2.2-3.8-2.2-3.8-2.1-3.9-2.1-3.8-2-3.8-2z"/>
<path class="c1f" d="M573.7 41.9l3.8 2.6 3.8 2.7 3.9 2.6 .7-4.9-3.9-2.4-3.8-2.4-3.9-2.4z"/>
<path class="c20" d="M585.2 49.8l3.9 2.6 3.8 2.6 3.9 2.5 3.9 2.4 3.9 2.4 3.9 2.6 3.9 2.6 3.9 2.7 3.9 2.5 3.9 2.4 4 2.5 4 2.3 .9-4.9-4-2.5-3.9-2.6-4-2.6-3.9-2.7-3.9-2.8-3.9-2.8-3.9-2.7-4-2.2-3.9-2.2-3.9-2.3-3.9-2.3-3.9-2.4z"/>
<path class="cd" d="M632.1 79.9l3.9 2.2 4 2.2 4 2.1 4.1 2.1 .9-4-4.1-2.3-4-2.4-4-2.4-3.9-2.4z"/>
<path class="c21" d="M648.1 88.5l4 2 .9-3.7-4-2.3z"/>
<path class="c11" d="M652.1 90.5l4.1 1.9 .8-3.3-4-2.3z"/>
<path class="c14" d="M656.2 92.4l4.1 2.1 .8-3-4.1-2.4z"/>
<path class="c22" d="M660.3 94.5l4 2 .8-2.5-4-2.5z"/>
<path class="c19" d="M664.3 96.5l4.1 2 .8-2.2-4.1-2.3z"/>
<path class="c23" d="M668.4 98.5l4.2 1.9 .7-1.8-4.1-2.3z"/>
<path class="c24" d="M516.5 15l3.7 1.2 .6-2.3-3.7-1.1z"/>
<path class="c25" d="M520.2 16.2l3.7 1.3 3.7 1.6 .6-2.4-3.7-1.5-3.7-1.3z"/>
<path class="c26" d="M527.6 19.1l3.7 1.7 3.8 1.8 3.7 1.9 .6-2.6-3.7-1.9-3.8-1.7-3.7-1.6z"/>
<path class="c19" d="M538.8 24.5l3.8 2 3.7 2.1 .7-2.9-3.8-2-3.8-1.8z"/>
<path class="c27" d="M546.3 28.6l3.8 2.3 3.8 2.4 3.8 2.4 3.8 2.6 3.8 2.5 3.8 2.6 .7-4-3.8-2.4-3.8-2.4-3.8-2.3-3.8-2.3-3.8-2.2-3.8-2.1z"/>
<path class="c28" d="M569.1 43.4l3.9 2.7 3.8 2.8 3.8 2.9 3.8 2.9 3.9 2.8 3.8 2.8 3.9 2.7 .8-5.5-3.9-2.5-3.8-2.6-3.9-2.6-3.9-2.6-3.8-2.7-3.8-2.6-3.9-2.5z"/>
<path class="c1e" d="M596 63l3.8 2.6 3.9 2.5 .9-5.8-3.9-2.4-3.9-2.4z"/>
<path class="c28" d="M603.7 68.1l3.9 2.5 3.9 2.5 3.9 2.5 3.9 2.4 .9-5.3-3.9-2.5-3.9-2.7-3.9-2.6-3.9-2.6z"/>
<path class="c14" d="M619.3 78l3.9 2.3 3.9 2.3 4 2.1 4 2.1 4 1.9 4 1.9 4 1.7 1-3.8-4.1-2.1-4-2.1-4-2.2-3.9-2.2-4-2.3-4-2.5-3.9-2.4z"/>
<path class="c22" d="M647.1 92.3l4.1 1.7 4.1 1.7 .9-3.3-4.1-1.9-4-2z"/>
<path class="c19" d="M655.3 95.7l4.1 1.7 .9-2.9-4.1-2.1z"/>
<path class="c23" d="M659.4 97.4l4.1 1.6 .8-2.5-4-2z"/>
<path class="c29" d="M663.5 99l4.2 1.7 .7-2.2-4.1-2z"/>
<path class="c2a" d="M667.7 100.7l4.1 1.6 .8-1.9-4.2-1.9z"/>
<path class="c2b" d="M515.9 16.6l3.6 1.1 .7-1.5-3.7-1.2z"/>
<path class="c2c" d="M519.5 17.7l3.7 1.4 .7-1.6-3.7-1.3z"/>
<path class="c2d" d="M523.2 19.1l3.7 1.5 .7-1.5-3.7-1.6z"/>
<path class="c29" d="M526.9 20.6l3.7 1.7 3.8 1.8 3.7 1.9 .7-1.5-3.7-1.9-3.8-1.8-3.7-1.7z"/>
<path class="c2e" d="M538.1 26l3.8 2 3.8 2.1 .6-1.5-3.7-2.1-3.8-2z"/>
<path class="c2f" d="M545.7 30.1l3.7 2.3 3.8 2.4 3.8 2.4 3.8 2.6 3.8 2.5 3.8 2.6 3.9 2.7 3.8 2.8 .7-1.5-3.8-2.8-3.9-2.7-3.8-2.6-3.8-2.5-3.8-2.6-3.8-2.4-3.8-2.4-3.8-2.3z"/>
<path class="c30" d="M576.1 50.4l3.8 2.9 3.8 2.9 .7-1.5-3.8-2.9-3.8-2.9z"/>
<path class="c31" d="M583.7 56.2l3.9 2.8 3.8 2.8 3.9 2.6 .7-1.4-3.9-2.7-3.8-2.8-3.9-2.8z"/>
<path class="c32" d="M595.3 64.4l3.8 2.6 3.9 2.5 3.9 2.5 3.9 2.5 3.9 2.5 3.9 2.4 3.9 2.3 3.9 2.3 .7-1.4-3.9-2.3-3.9-2.3-3.9-2.4-3.9-2.5-3.9-2.5-3.9-2.5-3.9-2.5-3.8-2.6z"/>
<path class="c23" d="M626.4 84l4 2.1 4 2 4 2 .7-1.4-4-1.9-4-2.1-4-2.1z"/>
<path class="c33" d="M638.4 90.1l4 1.8 4.1 1.7 .6-1.3-4-1.7-4-1.9z"/>
<path class="c2d" d="M646.5 93.6l4 1.7 .7-1.3-4.1-1.7z"/>
<path class="c29" d="M650.5 95.3l4.1 1.7 .7-1.3-4.1-1.7z"/>
<path class="c34" d="M654.6 97l4.1 1.6 .7-1.2-4.1-1.7z"/>
<path class="c35" d="M658.7 98.6l4.1 1.6 .7-1.2-4.1-1.6z"/>
<path class="c2a" d="M662.8 100.2l4.2 1.6 .7-1.1-4.2-1.7z"/>
<path class="c36" d="M667 101.8l4.1 1.6 .7-1.1-4.1-1.6z"/>
<path class="c37" d="M515.1 18.1l3.7 1.2 .7-1.6-3.6-1.1z"/>
<path class="c38" d="M518.8 19.3l3.7 1.3 .7-1.5-3.7-1.4z"/>
<path class="c35" d="M522.5 20.6l3.7 1.5 .7-1.5-3.7-1.5z"/>
<path class="c2a" d="M526.2 22.1l3.7 1.7 .7-1.5-3.7-1.7z"/>
<path class="c39" d="M529.9 23.8l3.7 1.8 .8-1.5-3.8-1.8z"/>
<path class="c3a" d="M533.6 25.6l3.8 1.9 .7-1.5-3.7-1.9z"/>
<path class="c3b" d="M537.4 27.5l3.7 2 3.8 2.1 .8-1.5-3.8-2.1-3.8-2z"/>
<path class="c3c" d="M544.9 31.6l3.8 2.3 3.8 2.4 .7-1.5-3.8-2.4-3.7-2.3z"/>
<path class="c3d" d="M552.5 36.3l3.8 2.4 3.8 2.6 3.8 2.5 3.8 2.6 3.8 2.7 .8-1.5-3.9-2.7-3.8-2.6-3.8-2.5-3.8-2.6-3.8-2.4z"/>
<path class="c3e" d="M571.5 49.1l3.8 2.8 3.9 2.9 3.8 2.8 3.8 2.8 3.9 2.8 .7-1.4-3.8-2.8-3.9-2.8-3.8-2.9-3.8-2.9-3.8-2.8z"/>
<path class="c3d" d="M590.7 63.2l3.8 2.7 3.9 2.5 3.9 2.6 .7-1.5-3.9-2.5-3.8-2.6-3.9-2.6z"/>
<path class="c3c" d="M602.3 71l3.8 2.5 3.9 2.5 3.9 2.4 3.9 2.4 4 2.3 .7-1.4-3.9-2.3-3.9-2.4-3.9-2.5-3.9-2.5-3.9-2.5z"/>
<path class="c3b" d="M621.8 83.1l3.9 2.3 4 2.1 .7-1.4-4-2.1-3.9-2.3z"/>
<path class="c3a" d="M629.7 87.5l3.9 2 4 1.9 .8-1.3-4-2-4-2z"/>
<path class="c36" d="M637.6 91.4l4.1 1.8 4 1.8 4.1 1.6 .7-1.3-4-1.7-4.1-1.7-4-1.8z"/>
<path class="c3f" d="M649.8 96.6l4.1 1.7 4.1 1.6 .7-1.3-4.1-1.6-4.1-1.7z"/>
<path class="c40" d="M658 99.9l4.1 1.6 4.2 1.5 4.1 1.6 .7-1.2-4.1-1.6-4.2-1.6-4.1-1.6z"/>
<path class="c41" d="M514.4 19.7l3.6 1.1 .8-1.5-3.7-1.2z"/>
<path class="c42" d="M518 20.8l3.7 1.3 .8-1.5-3.7-1.3z"/>
<path class="c36" d="M521.7 22.1l3.7 1.5 .8-1.5-3.7-1.5z"/>
<path class="c43" d="M525.4 23.6l3.7 1.7 .8-1.5-3.7-1.7z"/>
<path class="c44" d="M529.1 25.3l3.8 1.8 3.7 1.9 .8-1.5-3.8-1.9-3.7-1.8z"/>
<path class="c45" d="M536.6 29l3.8 2 .7-1.5-3.7-2z"/>
<path class="c46" d="M540.4 31l3.7 2.1 3.8 2.3 .8-1.5-3.8-2.3-3.8-2.1z"/>
<path class="c47" d="M547.9 35.4l3.8 2.4 3.8 2.4 3.8 2.6 .8-1.5-3.8-2.6-3.8-2.4-3.8-2.4z"/>
<path class="c48" d="M559.3 42.8l3.8 2.5 3.8 2.6 3.8 2.7 .8-1.5-3.8-2.7-3.8-2.6-3.8-2.5z"/>
<path class="c49" d="M570.7 50.6l3.9 2.8 .7-1.5-3.8-2.8z"/>
<path class="c4a" d="M574.6 53.4l3.8 2.8 3.8 2.9 3.9 2.8 .7-1.5-3.8-2.8-3.8-2.8-3.9-2.9z"/>
<path class="c49" d="M586.1 61.9l3.8 2.7 3.9 2.7 3.8 2.6 3.9 2.5 .8-1.4-3.9-2.6-3.9-2.5-3.8-2.7-3.9-2.8z"/>
<path class="c4b" d="M601.5 72.4l3.9 2.5 3.9 2.5 .7-1.4-3.9-2.5-3.8-2.5z"/>
<path class="c47" d="M609.3 77.4l3.8 2.4 4 2.4 .7-1.4-3.9-2.4-3.9-2.4z"/>
<path class="c46" d="M617.1 82.2l3.9 2.4 3.9 2.2 .8-1.4-3.9-2.3-4-2.3z"/>
<path class="c4c" d="M624.9 86.8l4 2.1 4 2 .7-1.4-3.9-2-4-2.1z"/>
<path class="c4d" d="M632.9 90.9l4 1.9 4 1.8 .8-1.4-4.1-1.8-4-1.9z"/>
<path class="c4e" d="M640.9 94.6l4 1.7 4.1 1.7 .8-1.4-4.1-1.6-4-1.8z"/>
<path class="c4f" d="M649 98l4.1 1.6 4.1 1.6 4.1 1.6 4.2 1.5 4.2 1.5 .7-1.2-4.1-1.6-4.2-1.5-4.1-1.6-4.1-1.6-4.1-1.7z"/>
<path class="c50" d="M513.5 21.2l3.7 1.1 .8-1.5-3.6-1.1z"/>
<path class="c42" d="M517.2 22.3l3.7 1.3 .8-1.5-3.7-1.3z"/>
<path class="c40" d="M520.9 23.6l3.7 1.5 .8-1.5-3.7-1.5z"/>
<path class="c43" d="M524.6 25.1l3.7 1.7 .8-1.5-3.7-1.7z"/>
<path class="c4d" d="M528.3 26.8l3.7 1.8 .9-1.5-3.8-1.8z"/>
<path class="c4c" d="M532 28.6l3.8 1.8 3.7 2 .9-1.4-3.8-2-3.7-1.9z"/>
<path class="c51" d="M539.5 32.4l3.8 2.2 .8-1.5-3.7-2.1z"/>
<path class="c4b" d="M543.3 34.6l3.8 2.2 3.8 2.4 .8-1.4-3.8-2.4-3.8-2.3z"/>
<path class="c49" d="M550.9 39.2l3.8 2.5 3.8 2.6 3.8 2.5 3.8 2.6 .8-1.5-3.8-2.6-3.8-2.5-3.8-2.6-3.8-2.4z"/>
<path class="c4a" d="M566.1 49.4l3.8 2.7 .8-1.5-3.8-2.7z"/>
<path class="c52" d="M569.9 52.1l3.8 2.8 3.9 2.8 3.8 2.8 3.8 2.8 3.9 2.8 3.8 2.6 .9-1.4-3.9-2.7-3.8-2.7-3.9-2.8-3.8-2.9-3.8-2.8-3.9-2.8z"/>
<path class="c53" d="M592.9 68.7l3.9 2.6 3.9 2.5 3.8 2.5 3.9 2.5 .9-1.4-3.9-2.5-3.9-2.5-3.9-2.5-3.8-2.6z"/>
<path class="c49" d="M608.4 78.8l3.9 2.5 .8-1.5-3.8-2.4z"/>
<path class="c4b" d="M612.3 81.3l3.9 2.4 4 2.3 .8-1.4-3.9-2.4-4-2.4z"/>
<path class="c51" d="M620.2 86l3.9 2.2 4 2.2 .8-1.5-4-2.1-3.9-2.2z"/>
<path class="c54" d="M628.1 90.4l3.9 1.9 .9-1.4-4-2z"/>
<path class="c55" d="M632 92.3l4.1 1.9 .8-1.4-4-1.9z"/>
<path class="c56" d="M636.1 94.2l4 1.8 .8-1.4-4-1.8z"/>
<path class="c4e" d="M640.1 96l4 1.7 4.1 1.6 4.1 1.7 .8-1.4-4.1-1.6-4.1-1.7-4-1.7z"/>
<path class="c4f" d="M652.3 101l4.1 1.5 4.1 1.6 4.2 1.5 4.2 1.5 .8-1.3-4.2-1.5-4.2-1.5-4.1-1.6-4.1-1.6z"/>
<path class="c50" d="M512.7 22.7l3.6 1.1 .9-1.5-3.7-1.1z"/>
<path class="c57" d="M516.3 23.8l3.7 1.3 .9-1.5-3.7-1.3z"/>
<path class="c58" d="M520 25.1l3.7 1.5 .9-1.5-3.7-1.5z"/>
<path class="c56" d="M523.7 26.6l3.7 1.7 .9-1.5-3.7-1.7z"/>
<path class="c4d" d="M527.4 28.3l3.8 1.7 .8-1.4-3.7-1.8z"/>
<path class="c4c" d="M531.2 30l3.7 1.9 .9-1.5-3.8-1.8z"/>
<path class="c51" d="M534.9 31.9l3.8 2 3.7 2.1 .9-1.4-3.8-2.2-3.7-2z"/>
<path class="c4b" d="M542.4 36l3.8 2.3 .9-1.5-3.8-2.2z"/>
<path class="c49" d="M546.2 38.3l3.8 2.4 .9-1.5-3.8-2.4z"/>
<path class="c53" d="M550 40.7l3.8 2.5 3.8 2.6 .9-1.5-3.8-2.6-3.8-2.5z"/>
<path class="c52" d="M557.6 45.8l3.8 2.5 3.8 2.6 3.8 2.7 3.9 2.8 .8-1.5-3.8-2.8-3.8-2.7-3.8-2.6-3.8-2.5z"/>
<path class="c59" d="M572.9 56.4l3.8 2.8 3.8 2.8 3.9 2.8 .8-1.5-3.8-2.8-3.8-2.8-3.9-2.8z"/>
<path class="c52" d="M584.4 64.8l3.8 2.8 3.9 2.6 3.8 2.6 .9-1.5-3.9-2.6-3.8-2.6-3.9-2.8z"/>
<path class="c53" d="M595.9 72.8l3.9 2.5 3.9 2.5 3.9 2.5 3.9 2.5 3.9 2.4 .8-1.5-3.9-2.4-3.9-2.5-3.9-2.5-3.8-2.5-3.9-2.5z"/>
<path class="c5a" d="M615.4 85.2l3.9 2.3 .9-1.5-4-2.3z"/>
<path class="c4b" d="M619.3 87.5l3.9 2.2 .9-1.5-3.9-2.2z"/>
<path class="c51" d="M623.2 89.7l4 2.1 .9-1.4-4-2.2z"/>
<path class="c5b" d="M627.2 91.8l4 2 .8-1.5-3.9-1.9z"/>
<path class="c55" d="M631.2 93.8l4 1.8 4 1.8 .9-1.4-4-1.8-4.1-1.9z"/>
<path class="c5c" d="M639.2 97.4l4.1 1.7 .8-1.4-4-1.7z"/>
<path class="c4e" d="M643.3 99.1l4.1 1.6 4 1.7 .9-1.4-4.1-1.7-4.1-1.6z"/>
<path class="c4f" d="M651.4 102.4l4.2 1.5 4.1 1.5 4.2 1.5 4.1 1.5 .9-1.3-4.2-1.5-4.2-1.5-4.1-1.6-4.1-1.5z"/>
<path class="c57" d="M511.7 24.2l3.7 1.1 .9-1.5-3.6-1.1z"/>
<path class="c40" d="M515.4 25.3l3.7 1.3 .9-1.5-3.7-1.3z"/>
<path class="c4e" d="M519.1 26.6l3.7 1.5 .9-1.5-3.7-1.5z"/>
<path class="c56" d="M522.8 28.1l3.7 1.6 .9-1.4-3.7-1.7z"/>
<path class="c4c" d="M526.5 29.7l3.7 1.8 1-1.5-3.8-1.7z"/>
<path class="c54" d="M530.2 31.5l3.8 1.9 .9-1.5-3.7-1.9z"/>
<path class="c51" d="M534 33.4l3.7 2 1-1.5-3.8-2z"/>
<path class="c4b" d="M537.7 35.4l3.8 2.1 .9-1.5-3.7-2.1z"/>
<path class="c5a" d="M541.5 37.5l3.8 2.3 .9-1.5-3.8-2.3z"/>
<path class="c53" d="M545.3 39.8l3.8 2.4 3.8 2.5 .9-1.5-3.8-2.5-3.8-2.4z"/>
<path class="c52" d="M552.9 44.7l3.8 2.6 3.8 2.5 3.8 2.6 3.8 2.7 .9-1.5-3.8-2.7-3.8-2.6-3.8-2.5-3.8-2.6z"/>
<path class="c59" d="M568.1 55.1l3.8 2.8 3.9 2.8 3.8 2.8 .9-1.5-3.8-2.8-3.8-2.8-3.9-2.8z"/>
<path class="c5d" d="M579.6 63.5l3.8 2.8 1-1.5-3.9-2.8z"/>
<path class="c52" d="M583.4 66.3l3.9 2.7 3.8 2.7 3.9 2.5 .9-1.4-3.8-2.6-3.9-2.6-3.8-2.8z"/>
<path class="c53" d="M595 74.2l3.9 2.6 3.9 2.5 3.9 2.5 3.9 2.5 3.9 2.4 .9-1.5-3.9-2.4-3.9-2.5-3.9-2.5-3.9-2.5-3.9-2.5z"/>
<path class="c5a" d="M614.5 86.7l3.9 2.3 3.9 2.2 .9-1.5-3.9-2.2-3.9-2.3z"/>
<path class="c51" d="M622.3 91.2l4 2.1 .9-1.5-4-2.1z"/>
<path class="c5b" d="M626.3 93.3l4 1.9 .9-1.4-4-2z"/>
<path class="c55" d="M630.3 95.2l4 1.9 4 1.8 .9-1.5-4-1.8-4-1.8z"/>
<path class="c5c" d="M638.3 98.9l4.1 1.7 .9-1.5-4.1-1.7z"/>
<path class="c4e" d="M642.4 100.6l4.1 1.6 4.1 1.6 .8-1.4-4-1.7-4.1-1.6z"/>
<path class="c4f" d="M650.6 103.8l4.1 1.5 4.1 1.6 4.2 1.4 .9-1.4-4.2-1.5-4.1-1.5-4.2-1.5z"/>
<path class="c5e" d="M663 108.3l4.2 1.5 .8-1.4-4.1-1.5z"/>
<path class="c57" d="M510.7 25.7l3.7 1.1 1-1.5-3.7-1.1z"/>
<path class="c40" d="M514.4 26.8l3.7 1.3 1-1.5-3.7-1.3z"/>
<path class="c4e" d="M518.1 28.1l3.7 1.5 1-1.5-3.7-1.5z"/>
<path class="c56" d="M521.8 29.6l3.7 1.6 1-1.5-3.7-1.6z"/>
<path class="c5b" d="M525.5 31.2l3.7 1.8 1-1.5-3.7-1.8z"/>
<path class="c54" d="M529.2 33l3.8 1.9 1-1.5-3.8-1.9z"/>
<path class="c51" d="M533 34.9l3.7 2 1-1.5-3.7-2z"/>
<path class="c5a" d="M536.7 36.9l3.8 2.1 1-1.5-3.8-2.1z"/>
<path class="c53" d="M540.5 39l3.8 2.3 3.8 2.4 3.8 2.5 1-1.5-3.8-2.5-3.8-2.4-3.8-2.3z"/>
<path class="c52" d="M551.9 46.2l3.8 2.6 3.8 2.6 3.8 2.6 3.8 2.6 1-1.5-3.8-2.7-3.8-2.6-3.8-2.5-3.8-2.6z"/>
<path class="c5d" d="M567.1 56.6l3.9 2.8 3.8 2.8 3.8 2.8 3.9 2.8 .9-1.5-3.8-2.8-3.8-2.8-3.9-2.8-3.8-2.8z"/>
<path class="c5f" d="M582.5 67.8l3.8 2.7 3.9 2.7 .9-1.5-3.8-2.7-3.9-2.7z"/>
<path class="c52" d="M590.2 73.2l3.9 2.5 3.8 2.6 1-1.5-3.9-2.6-3.9-2.5z"/>
<path class="c53" d="M597.9 78.3l3.9 2.5 3.9 2.5 3.9 2.5 3.9 2.4 1-1.5-3.9-2.4-3.9-2.5-3.9-2.5-3.9-2.5z"/>
<path class="c5a" d="M613.5 88.2l4 2.3 3.9 2.2 .9-1.5-3.9-2.2-3.9-2.3z"/>
<path class="c60" d="M621.4 92.7l4 2.1 .9-1.5-4-2.1z"/>
<path class="c5b" d="M625.4 94.8l4 1.9 .9-1.5-4-1.9z"/>
<path class="c55" d="M629.4 96.7l4 1.9 4 1.7 .9-1.4-4-1.8-4-1.9z"/>
<path class="c5c" d="M637.4 100.3l4.1 1.7 4 1.7 1-1.5-4.1-1.6-4.1-1.7z"/>
<path class="c4f" d="M645.5 103.7l4.1 1.6 4.2 1.5 4.1 1.5 .9-1.4-4.1-1.6-4.1-1.5-4.1-1.6z"/>
<path class="c5e" d="M657.9 108.3l4.2 1.5 4.2 1.4 .9-1.4-4.2-1.5-4.2-1.4z"/>
<path class="c57" d="M509.7 27.2l3.7 1.1 1-1.5-3.7-1.1z"/>
<path class="c4f" d="M513.4 28.3l3.6 1.3 1.1-1.5-3.7-1.3z"/>
<path class="c4e" d="M517 29.6l3.7 1.5 1.1-1.5-3.7-1.5z"/>
<path class="c55" d="M520.7 31.1l3.8 1.6 1-1.5-3.7-1.6z"/>
<path class="c5b" d="M524.5 32.7l3.7 1.8 3.7 1.9 1.1-1.5-3.8-1.9-3.7-1.8z"/>
<path class="c51" d="M531.9 36.4l3.8 2 1-1.5-3.7-2z"/>
<path class="c5a" d="M535.7 38.4l3.8 2.1 1-1.5-3.8-2.1z"/>
<path class="c53" d="M539.5 40.5l3.8 2.3 3.8 2.4 1-1.5-3.8-2.4-3.8-2.3z"/>
<path class="c52" d="M547.1 45.2l3.8 2.6 3.8 2.5 3.8 2.6 3.8 2.6 1-1.5-3.8-2.6-3.8-2.6-3.8-2.6-3.8-2.5z"/>
<path class="c5f" d="M562.3 55.5l3.8 2.7 1-1.6-3.8-2.6z"/>
<path class="c5d" d="M566.1 58.2l3.9 2.7 3.8 2.8 3.8 2.8 3.9 2.8 1-1.5-3.9-2.8-3.8-2.8-3.8-2.8-3.9-2.8z"/>
<path class="c5f" d="M581.5 69.3l3.8 2.8 3.9 2.6 3.9 2.6 1-1.6-3.9-2.5-3.9-2.7-3.8-2.7z"/>
<path class="c52" d="M593.1 77.3l3.8 2.5 1-1.5-3.8-2.6z"/>
<path class="c53" d="M596.9 79.8l3.9 2.5 3.9 2.5 3.9 2.5 4 2.4 .9-1.5-3.9-2.4-3.9-2.5-3.9-2.5-3.9-2.5z"/>
<path class="c5a" d="M612.6 89.7l3.9 2.3 3.9 2.3 1-1.6-3.9-2.2-4-2.3z"/>
<path class="c60" d="M620.4 94.3l4 2 1-1.5-4-2.1z"/>
<path class="c5b" d="M624.4 96.3l4 2 1-1.6-4-1.9z"/>
<path class="c55" d="M628.4 98.3l4 1.8 4 1.8 1-1.6-4-1.7-4-1.9z"/>
<path class="c5c" d="M636.4 101.9l4.1 1.7 4.1 1.6 .9-1.5-4-1.7-4.1-1.7z"/>
<path class="c4f" d="M644.6 105.2l4.1 1.6 4.1 1.5 4.2 1.5 .9-1.5-4.1-1.5-4.2-1.5-4.1-1.6z"/>
<path class="c5e" d="M657 109.8l4.1 1.4 4.2 1.4 1-1.4-4.2-1.4-4.2-1.5z"/>
<path class="c57" d="M508.6 28.7l3.7 1.1 1.1-1.5-3.7-1.1z"/>
<path class="c4f" d="M512.3 29.8l3.6 1.3 1.1-1.5-3.6-1.3z"/>
<path class="c4e" d="M515.9 31.1l3.7 1.5 1.1-1.5-3.7-1.5z"/>
<path class="c55" d="M519.6 32.6l3.8 1.7 1.1-1.6-3.8-1.6z"/>
<path class="c5b" d="M523.4 34.3l3.7 1.7 3.8 1.9 1-1.5-3.7-1.9-3.7-1.8z"/>
<path class="c61" d="M530.9 37.9l3.7 2 1.1-1.5-3.8-2z"/>
<path class="c5a" d="M534.6 39.9l3.8 2.1 1.1-1.5-3.8-2.1z"/>
<path class="c53" d="M538.4 42l3.8 2.3 3.8 2.5 1.1-1.6-3.8-2.4-3.8-2.3z"/>
<path class="c52" d="M546 46.8l3.8 2.5 3.8 2.6 1.1-1.6-3.8-2.5-3.8-2.6z"/>
<path class="c5f" d="M553.6 51.9l3.8 2.5 3.8 2.6 3.9 2.7 1-1.5-3.8-2.7-3.8-2.6-3.8-2.6z"/>
<path class="c5d" d="M565.1 59.7l3.8 2.8 3.8 2.8 3.9 2.8 3.8 2.8 1.1-1.6-3.9-2.8-3.8-2.8-3.8-2.8-3.9-2.7z"/>
<path class="c5f" d="M580.4 70.9l3.9 2.7 3.9 2.7 3.8 2.5 3.9 2.5 1-1.5-3.8-2.5-3.9-2.6-3.9-2.6-3.8-2.8z"/>
<path class="c62" d="M595.9 81.3l3.9 2.6 3.9 2.5 1-1.6-3.9-2.5-3.9-2.5z"/>
<path class="c53" d="M603.7 86.4l3.9 2.5 3.9 2.4 1.1-1.6-4-2.4-3.9-2.5z"/>
<path class="c5a" d="M611.5 91.3l4 2.3 1-1.6-3.9-2.3z"/>
<path class="c63" d="M615.5 93.6l3.9 2.2 1-1.5-3.9-2.3z"/>
<path class="c60" d="M619.4 95.8l4 2.1 1-1.6-4-2z"/>
<path class="c5b" d="M623.4 97.9l4 2 1-1.6-4-2z"/>
<path class="c55" d="M627.4 99.9l4 1.8 4 1.7 1-1.5-4-1.8-4-1.8z"/>
<path class="c5c" d="M635.4 103.4l4.1 1.7 4.1 1.6 1-1.5-4.1-1.6-4.1-1.7z"/>
<path class="c4f" d="M643.6 106.7l4.1 1.6 4.1 1.5 4.2 1.5 1-1.5-4.2-1.5-4.1-1.5-4.1-1.6z"/>
<path class="c5e" d="M656 111.3l4.2 1.5 4.2 1.4 .9-1.6-4.2-1.4-4.1-1.4z"/>
<path class="c5e" d="M507.5 30.2l3.6 1.2 1.2-1.6-3.7-1.1z"/>
<path class="c4f" d="M511.1 31.4l3.7 1.3 1.1-1.6-3.6-1.3z"/>
<path class="c4e" d="M514.8 32.7l3.7 1.5 1.1-1.6-3.7-1.5z"/>
<path class="c55" d="M518.5 34.2l3.7 1.6 1.2-1.5-3.8-1.7z"/>
<path class="c5b" d="M522.2 35.8l3.8 1.8 3.7 1.8 1.2-1.5-3.8-1.9-3.7-1.7z"/>
<path class="c60" d="M529.7 39.4l3.8 2 1.1-1.5-3.7-2z"/>
<path class="c5a" d="M533.5 41.4l3.8 2.2 1.1-1.6-3.8-2.1z"/>
<path class="c53" d="M537.3 43.6l3.8 2.3 3.8 2.4 1.1-1.5-3.8-2.5-3.8-2.3z"/>
<path class="c5f" d="M544.9 48.3l3.8 2.6 3.8 2.5 3.8 2.6 3.8 2.6 3.9 2.7 1.1-1.6-3.9-2.7-3.8-2.6-3.8-2.5-3.8-2.6-3.8-2.5z"/>
<path class="c5d" d="M564 61.3l3.8 2.8 3.8 2.8 3.9 2.8 3.8 2.8 1.1-1.6-3.8-2.8-3.9-2.8-3.8-2.8-3.8-2.8z"/>
<path class="c5f" d="M579.3 72.5l3.9 2.7 3.9 2.6 3.8 2.6 3.9 2.5 1.1-1.6-3.9-2.5-3.8-2.5-3.9-2.7-3.9-2.7z"/>
<path class="c62" d="M594.8 82.9l3.9 2.5 3.9 2.6 3.9 2.5 1.1-1.6-3.9-2.5-3.9-2.5-3.9-2.6z"/>
<path class="c53" d="M606.5 90.5l4 2.4 1-1.6-3.9-2.4z"/>
<path class="c5a" d="M610.5 92.9l3.9 2.3 1.1-1.6-4-2.3z"/>
<path class="c63" d="M614.4 95.2l4 2.3 1-1.7-3.9-2.2z"/>
<path class="c60" d="M618.4 97.5l3.9 2 1.1-1.6-4-2.1z"/>
<path class="c5b" d="M622.3 99.5l4 2 1.1-1.6-4-2z"/>
<path class="c55" d="M626.3 101.5l4.1 1.8 4 1.7 1-1.6-4-1.7-4-1.8z"/>
<path class="c5c" d="M634.4 105l4.1 1.7 4.1 1.6 1-1.6-4.1-1.6-4.1-1.7z"/>
<path class="c4f" d="M642.6 108.3l4.1 1.6 4.1 1.5 1-1.6-4.1-1.5-4.1-1.6z"/>
<path class="c5e" d="M650.8 111.4l4.2 1.5 4.1 1.4 4.2 1.4 1.1-1.5-4.2-1.4-4.2-1.5-4.2-1.5z"/>
<path class="c5e" d="M506.2 31.8l3.7 1.1 1.2-1.5-3.6-1.2z"/>
<path class="c4f" d="M509.9 32.9l3.7 1.3 1.2-1.5-3.7-1.3z"/>
<path class="c4e" d="M513.6 34.2l3.7 1.5 1.2-1.5-3.7-1.5z"/>
<path class="c55" d="M517.3 35.7l3.7 1.6 1.2-1.5-3.7-1.6z"/>
<path class="c5b" d="M521 37.3l3.8 1.8 3.7 1.9 1.2-1.6-3.7-1.8-3.8-1.8z"/>
<path class="c60" d="M528.5 41l3.8 2 1.2-1.6-3.8-2z"/>
<path class="c5a" d="M532.3 43l3.8 2.1 1.2-1.5-3.8-2.2z"/>
<path class="c53" d="M536.1 45.1l3.8 2.4 3.8 2.4 1.2-1.6-3.8-2.4-3.8-2.3z"/>
<path class="c5f" d="M543.7 49.9l3.8 2.5 3.8 2.6 3.8 2.6 3.9 2.6 3.8 2.7 1.2-1.6-3.9-2.7-3.8-2.6-3.8-2.6-3.8-2.5-3.8-2.6z"/>
<path class="c5d" d="M562.8 62.9l3.8 2.8 3.9 2.8 3.8 2.8 3.9 2.8 1.1-1.6-3.8-2.8-3.9-2.8-3.8-2.8-3.8-2.8z"/>
<path class="c5f" d="M578.2 74.1l3.9 2.7 3.8 2.7 3.9 2.5 3.9 2.6 1.1-1.7-3.9-2.5-3.8-2.6-3.9-2.6-3.9-2.7z"/>
<path class="c62" d="M593.7 84.6l3.9 2.5 3.9 2.5 3.9 2.5 1.1-1.6-3.9-2.5-3.9-2.6-3.9-2.5z"/>
<path class="c53" d="M605.4 92.1l4 2.5 1.1-1.7-4-2.4z"/>
<path class="c5a" d="M609.4 94.6l3.9 2.3 1.1-1.7-3.9-2.3z"/>
<path class="c63" d="M613.3 96.9l4 2.2 1.1-1.6-4-2.3z"/>
<path class="c60" d="M617.3 99.1l3.9 2.1 1.1-1.7-3.9-2z"/>
<path class="c5b" d="M621.2 101.2l4 1.9 1.1-1.6-4-2z"/>
<path class="c55" d="M625.2 103.1l4.1 1.8 4 1.8 1.1-1.7-4-1.7-4.1-1.8z"/>
<path class="c5c" d="M633.3 106.7l4.1 1.7 4.1 1.6 1.1-1.7-4.1-1.6-4.1-1.7z"/>
<path class="c4f" d="M641.5 110l4.1 1.5 4.1 1.6 1.1-1.7-4.1-1.5-4.1-1.6z"/>
<path class="c5e" d="M649.7 113.1l4.2 1.4 4.2 1.5 4.2 1.3 1-1.6-4.2-1.4-4.1-1.4-4.2-1.5z"/>
<path class="c5e" d="M505 33.3l3.6 1.2 1.3-1.6-3.7-1.1z"/>
<path class="c4f" d="M508.6 34.5l3.7 1.3 1.3-1.6-3.7-1.3z"/>
<path class="c4e" d="M512.3 35.8l3.7 1.5 1.3-1.6-3.7-1.5z"/>
<path class="c55" d="M516 37.3l3.8 1.6 1.2-1.6-3.7-1.6z"/>
<path class="c5b" d="M519.8 38.9l3.7 1.8 3.8 1.9 1.2-1.6-3.7-1.9-3.8-1.8z"/>
<path class="c60" d="M527.3 42.6l3.7 2 1.3-1.6-3.8-2z"/>
<path class="c5a" d="M531 44.6l3.8 2.1 1.3-1.6-3.8-2.1z"/>
<path class="c53" d="M534.8 46.7l3.8 2.4 1.3-1.6-3.8-2.4z"/>
<path class="c62" d="M538.6 49.1l3.8 2.4 1.3-1.6-3.8-2.4z"/>
<path class="c5f" d="M542.4 51.5l3.9 2.6 3.8 2.5 3.8 2.7 3.8 2.6 3.9 2.7 1.2-1.7-3.8-2.7-3.9-2.6-3.8-2.6-3.8-2.6-3.8-2.5z"/>
<path class="c5d" d="M561.6 64.6l3.8 2.7 3.9 2.8 3.8 2.8 3.9 2.8 1.2-1.6-3.9-2.8-3.8-2.8-3.9-2.8-3.8-2.8z"/>
<path class="c5f" d="M577 75.7l3.9 2.8 3.9 2.6 3.8 2.6 3.9 2.5 1.2-1.6-3.9-2.6-3.9-2.5-3.8-2.7-3.9-2.7z"/>
<path class="c62" d="M592.5 86.2l3.9 2.5 3.9 2.6 4 2.5 1.1-1.7-3.9-2.5-3.9-2.5-3.9-2.5z"/>
<path class="c53" d="M604.3 93.8l3.9 2.4 1.2-1.6-4-2.5z"/>
<path class="c63" d="M608.2 96.2l3.9 2.4 4 2.2 1.2-1.7-4-2.2-3.9-2.3z"/>
<path class="c60" d="M616.1 100.8l4 2.1 1.1-1.7-3.9-2.1z"/>
<path class="c5b" d="M620.1 102.9l4 1.9 1.1-1.7-4-1.9z"/>
<path class="c55" d="M624.1 104.8l4 1.8 4.1 1.8 1.1-1.7-4-1.8-4.1-1.8z"/>
<path class="c5c" d="M632.2 108.4l4.1 1.6 4.1 1.7 1.1-1.7-4.1-1.6-4.1-1.7z"/>
<path class="c4f" d="M640.4 111.7l4.1 1.5 4.1 1.5 1.1-1.6-4.1-1.6-4.1-1.5z"/>
<path class="c5e" d="M648.6 114.7l4.2 1.5 4.2 1.4 4.2 1.4 1.1-1.7-4.2-1.3-4.2-1.5-4.2-1.4z"/>
<path class="c5e" d="M503.7 34.9l3.6 1.2 1.3-1.6-3.6-1.2z"/>
<path class="c4f" d="M507.3 36.1l3.7 1.3 1.3-1.6-3.7-1.3z"/>
<path class="c4e" d="M511 37.4l3.7 1.5 1.3-1.6-3.7-1.5z"/>
<path class="c55" d="M514.7 38.9l3.8 1.6 1.3-1.6-3.8-1.6z"/>
<path class="c5b" d="M518.5 40.5l3.7 1.8 3.8 1.9 1.3-1.6-3.8-1.9-3.7-1.8z"/>
<path class="c60" d="M526 44.2l3.7 2 1.3-1.6-3.7-2z"/>
<path class="c5a" d="M529.7 46.2l3.8 2.2 1.3-1.7-3.8-2.1z"/>
<path class="c53" d="M533.5 48.4l3.8 2.3 1.3-1.6-3.8-2.4z"/>
<path class="c62" d="M537.3 50.7l3.9 2.5 1.2-1.7-3.8-2.4z"/>
<path class="c5f" d="M541.2 53.2l3.8 2.5 3.8 2.6 3.8 2.6 3.9 2.6 3.8 2.7 1.3-1.6-3.9-2.7-3.8-2.6-3.8-2.7-3.8-2.5-3.9-2.6z"/>
<path class="c5d" d="M560.3 66.2l3.9 2.8 3.8 2.8 3.9 2.8 3.9 2.8 1.2-1.7-3.9-2.8-3.8-2.8-3.9-2.8-3.8-2.7z"/>
<path class="c5f" d="M575.8 77.4l3.8 2.7 3.9 2.7 3.9 2.6 3.9 2.5 1.2-1.7-3.9-2.5-3.8-2.6-3.9-2.6-3.9-2.8z"/>
<path class="c62" d="M591.3 87.9l3.9 2.5 3.9 2.6 4 2.5 1.2-1.7-4-2.5-3.9-2.6-3.9-2.5z"/>
<path class="c53" d="M603.1 95.5l3.9 2.5 1.2-1.8-3.9-2.4z"/>
<path class="c63" d="M607 98l4 2.3 3.9 2.2 1.2-1.7-4-2.2-3.9-2.4z"/>
<path class="c60" d="M614.9 102.5l4 2.1 1.2-1.7-4-2.1z"/>
<path class="c5b" d="M618.9 104.6l4 1.9 1.2-1.7-4-1.9z"/>
<path class="c55" d="M622.9 106.5l4.1 1.8 1.1-1.7-4-1.8z"/>
<path class="c5c" d="M627 108.3l4 1.8 4.1 1.7 1.2-1.8-4.1-1.6-4.1-1.8z"/>
<path class="c64" d="M635.1 111.8l4.1 1.6 1.2-1.7-4.1-1.7z"/>
<path class="c4f" d="M639.2 113.4l4.1 1.6 4.2 1.5 1.1-1.8-4.1-1.5-4.1-1.5z"/>
<path class="c5e" d="M647.5 116.5l4.2 1.4 4.2 1.4 4.2 1.4 1.1-1.7-4.2-1.4-4.2-1.4-4.2-1.5z"/>
<path class="c5e" d="M502.3 36.6l3.6 1.2 1.4-1.7-3.6-1.2z"/>
<path class="c4f" d="M505.9 37.8l3.7 1.3 1.4-1.7-3.7-1.3z"/>
<path class="c4e" d="M509.6 39.1l3.8 1.5 1.3-1.7-3.7-1.5z"/>
<path class="c55" d="M513.4 40.6l3.7 1.7 1.4-1.8-3.8-1.6z"/>
<path class="c5b" d="M517.1 42.3l3.7 1.7 3.8 1.9 1.4-1.7-3.8-1.9-3.7-1.8z"/>
<path class="c60" d="M524.6 45.9l3.8 2 1.3-1.7-3.7-2z"/>
<path class="c5a" d="M528.4 47.9l3.8 2.2 1.3-1.7-3.8-2.2z"/>
<path class="c53" d="M532.2 50.1l3.8 2.4 1.3-1.8-3.8-2.3z"/>
<path class="c62" d="M536 52.5l3.8 2.4 1.4-1.7-3.9-2.5z"/>
<path class="c5f" d="M539.8 54.9l3.8 2.6 3.9 2.6 3.8 2.6 3.9 2.6 3.8 2.7 1.3-1.8-3.8-2.7-3.9-2.6-3.8-2.6-3.8-2.6-3.8-2.5z"/>
<path class="c5d" d="M559 68l3.9 2.8 3.8 2.8 3.9 2.8 3.9 2.8 1.3-1.8-3.9-2.8-3.9-2.8-3.8-2.8-3.9-2.8z"/>
<path class="c5f" d="M574.5 79.2l3.9 2.7 3.9 2.7 3.9 2.6 3.9 2.5 1.2-1.8-3.9-2.5-3.9-2.6-3.9-2.7-3.8-2.7z"/>
<path class="c62" d="M590.1 89.7l3.9 2.6 3.9 2.5 3.9 2.5 1.3-1.8-4-2.5-3.9-2.6-3.9-2.5z"/>
<path class="c53" d="M601.8 97.3l4 2.4 1.2-1.7-3.9-2.5z"/>
<path class="c63" d="M605.8 99.7l3.9 2.4 4 2.2 1.2-1.8-3.9-2.2-4-2.3z"/>
<path class="c60" d="M613.7 104.3l4 2.1 1.2-1.8-4-2.1z"/>
<path class="c5b" d="M617.7 106.4l4 1.9 1.2-1.8-4-1.9z"/>
<path class="c55" d="M621.7 108.3l4.1 1.8 1.2-1.8-4.1-1.8z"/>
<path class="c5c" d="M625.8 110.1l4 1.8 4.1 1.6 1.2-1.7-4.1-1.7-4-1.8z"/>
<path class="c64" d="M633.9 113.5l4.1 1.7 1.2-1.8-4.1-1.6z"/>
<path class="c4f" d="M638 115.2l4.2 1.5 4.1 1.5 1.2-1.7-4.2-1.5-4.1-1.6z"/>
<path class="c5e" d="M646.3 118.2l4.2 1.5 4.2 1.4 4.2 1.4 1.2-1.8-4.2-1.4-4.2-1.4-4.2-1.4z"/>
<path class="c5e" d="M500.8 38.4l3.7 1.1 1.4-1.7-3.6-1.2z"/>
<path class="c4f" d="M504.5 39.5l3.7 1.4 1.4-1.8-3.7-1.3z"/>
<path class="c5c" d="M508.2 40.9l3.7 1.5 1.5-1.8-3.8-1.5z"/>
<path class="c55" d="M511.9 42.4l3.8 1.6 1.4-1.7-3.7-1.7z"/>
<path class="c5b" d="M515.7 44l3.7 1.8 3.8 1.9 1.4-1.8-3.8-1.9-3.7-1.7z"/>
<path class="c60" d="M523.2 47.7l3.8 2 1.4-1.8-3.8-2z"/>
<path class="c5a" d="M527 49.7l3.8 2.2 1.4-1.8-3.8-2.2z"/>
<path class="c53" d="M530.8 51.9l3.8 2.3 1.4-1.7-3.8-2.4z"/>
<path class="c62" d="M534.6 54.2l3.8 2.5 1.4-1.8-3.8-2.4z"/>
<path class="c5f" d="M538.4 56.7l3.9 2.6 3.8 2.6 3.8 2.6 3.9 2.6 3.9 2.7 1.3-1.8-3.8-2.7-3.9-2.6-3.8-2.6-3.9-2.6-3.8-2.6z"/>
<path class="c5d" d="M557.7 69.8l3.8 2.8 3.9 2.8 3.9 2.8 3.8 2.8 1.4-1.8-3.9-2.8-3.9-2.8-3.8-2.8-3.9-2.8z"/>
<path class="c5f" d="M573.1 81l3.9 2.7 3.9 2.7 3.9 2.6 3.9 2.6 1.4-1.9-3.9-2.5-3.9-2.6-3.9-2.7-3.9-2.7z"/>
<path class="c62" d="M588.7 91.6l4 2.5 3.9 2.6 3.9 2.5 1.3-1.9-3.9-2.5-3.9-2.5-3.9-2.6z"/>
<path class="c65" d="M600.5 99.2l4 2.4 1.3-1.9-4-2.4z"/>
<path class="c63" d="M604.5 101.6l4 2.3 1.2-1.8-3.9-2.4z"/>
<path class="c60" d="M608.5 103.9l3.9 2.2 4 2.1 1.3-1.8-4-2.1-4-2.2z"/>
<path class="c5b" d="M616.4 108.2l4.1 1.9 1.2-1.8-4-1.9z"/>
<path class="c55" d="M620.5 110.1l4 1.8 1.3-1.8-4.1-1.8z"/>
<path class="c5c" d="M624.5 111.9l4.1 1.8 4.1 1.7 1.2-1.9-4.1-1.6-4-1.8z"/>
<path class="c64" d="M632.7 115.4l4.1 1.6 1.2-1.8-4.1-1.7z"/>
<path class="c4f" d="M636.8 117l4.1 1.5 1.3-1.8-4.2-1.5z"/>
<path class="c5e" d="M640.9 118.5l4.2 1.5 4.2 1.5 4.2 1.4 1.2-1.8-4.2-1.4-4.2-1.5-4.1-1.5z"/>
<path class="c66" d="M653.5 122.9l4.2 1.4 1.2-1.8-4.2-1.4z"/>
<path class="c5e" d="M499.3 40.1l3.7 1.2 1.5-1.8-3.7-1.1z"/>
<path class="c4f" d="M503 41.3l3.7 1.4 1.5-1.8-3.7-1.4z"/>
<path class="c5c" d="M506.7 42.7l3.7 1.5 1.5-1.8-3.7-1.5z"/>
<path class="c55" d="M510.4 44.2l3.8 1.6 1.5-1.8-3.8-1.6z"/>
<path class="c5b" d="M514.2 45.8l3.8 1.8 3.7 1.9 1.5-1.8-3.8-1.9-3.7-1.8z"/>
<path class="c60" d="M521.7 49.5l3.8 2 1.5-1.8-3.8-2z"/>
<path class="c5a" d="M525.5 51.5l3.8 2.2 1.5-1.8-3.8-2.2z"/>
<path class="c53" d="M529.3 53.7l3.9 2.4 1.4-1.9-3.8-2.3z"/>
<path class="c62" d="M533.2 56.1l3.8 2.4 1.4-1.8-3.8-2.5z"/>
<path class="c5f" d="M537 58.5l3.8 2.6 3.9 2.6 3.8 2.6 3.9 2.6 3.8 2.7 1.5-1.8-3.9-2.7-3.9-2.6-3.8-2.6-3.8-2.6-3.9-2.6z"/>
<path class="c5d" d="M556.2 71.6l3.9 2.8 3.9 2.8 3.9 2.8 3.9 2.8 1.3-1.8-3.8-2.8-3.9-2.8-3.9-2.8-3.8-2.8z"/>
<path class="c5f" d="M571.8 82.8l3.9 2.8 3.9 2.6 3.9 2.7 3.9 2.6 1.3-1.9-3.9-2.6-3.9-2.6-3.9-2.7-3.9-2.7z"/>
<path class="c62" d="M587.4 93.5l3.9 2.5 4 2.6 3.9 2.4 1.3-1.8-3.9-2.5-3.9-2.6-4-2.5z"/>
<path class="c65" d="M599.2 101l4 2.4 1.3-1.8-4-2.4z"/>
<path class="c63" d="M603.2 103.4l3.9 2.3 1.4-1.8-4-2.3z"/>
<path class="c60" d="M607.1 105.7l4 2.3 4 2 1.3-1.8-4-2.1-3.9-2.2z"/>
<path class="c5b" d="M615.1 110l4.1 2 1.3-1.9-4.1-1.9z"/>
<path class="c55" d="M619.2 112l4 1.8 1.3-1.9-4-1.8z"/>
<path class="c5c" d="M623.2 113.8l4.1 1.8 4.1 1.6 1.3-1.8-4.1-1.7-4.1-1.8z"/>
<path class="c64" d="M631.4 117.2l4.1 1.6 1.3-1.8-4.1-1.6z"/>
<path class="c4f" d="M635.5 118.8l4.2 1.6 1.2-1.9-4.1-1.5z"/>
<path class="c5e" d="M639.7 120.4l4.1 1.5 4.2 1.5 4.3 1.4 1.2-1.9-4.2-1.4-4.2-1.5-4.2-1.5z"/>
<path class="c66" d="M652.3 124.8l4.2 1.4 1.2-1.9-4.2-1.4z"/>
<path class="c5e" d="M497.8 41.9l3.7 1.2 1.5-1.8-3.7-1.2z"/>
<path class="c4f" d="M501.5 43.1l3.7 1.3 1.5-1.7-3.7-1.4z"/>
<path class="c5c" d="M505.2 44.4l3.7 1.6 1.5-1.8-3.7-1.5z"/>
<path class="c55" d="M508.9 46l3.8 1.6 1.5-1.8-3.8-1.6z"/>
<path class="c5b" d="M512.7 47.6l3.7 1.8 1.6-1.8-3.8-1.8z"/>
<path class="c67" d="M516.4 49.4l3.8 1.9 1.5-1.8-3.7-1.9z"/>
<path class="c60" d="M520.2 51.3l3.8 2.1 1.5-1.9-3.8-2z"/>
<path class="c63" d="M524 53.4l3.8 2.2 1.5-1.9-3.8-2.2z"/>
<path class="c53" d="M527.8 55.6l3.8 2.3 1.6-1.8-3.9-2.4z"/>
<path class="c62" d="M531.6 57.9l3.9 2.5 1.5-1.9-3.8-2.4z"/>
<path class="c5f" d="M535.5 60.4l3.8 2.5 3.9 2.6 3.8 2.7 3.9 2.6 3.9 2.7 1.4-1.9-3.8-2.7-3.9-2.6-3.8-2.6-3.9-2.6-3.8-2.6z"/>
<path class="c5d" d="M554.8 73.5l3.9 2.7 3.8 2.9 3.9 2.8 3.9 2.8 1.5-1.9-3.9-2.8-3.9-2.8-3.9-2.8-3.9-2.8z"/>
<path class="c5f" d="M570.3 84.7l3.9 2.7 3.9 2.7 4 2.7 3.9 2.6 1.4-1.9-3.9-2.6-3.9-2.7-3.9-2.6-3.9-2.8z"/>
<path class="c62" d="M586 95.4l3.9 2.6 4 2.5 3.9 2.5 1.4-2-3.9-2.4-4-2.6-3.9-2.5z"/>
<path class="c63" d="M597.8 103l4 2.3 4 2.3 1.3-1.9-3.9-2.3-4-2.4z"/>
<path class="c60" d="M605.8 107.6l4 2.3 4 2.1 1.3-2-4-2-4-2.3z"/>
<path class="c67" d="M613.8 112l4 1.9 1.4-1.9-4.1-2z"/>
<path class="c55" d="M617.8 113.9l4.1 1.8 1.3-1.9-4-1.8z"/>
<path class="c5c" d="M621.9 115.7l4.1 1.8 4.1 1.6 1.3-1.9-4.1-1.6-4.1-1.8z"/>
<path class="c64" d="M630.1 119.1l4.1 1.6 1.3-1.9-4.1-1.6z"/>
<path class="c4f" d="M634.2 120.7l4.2 1.6 1.3-1.9-4.2-1.6z"/>
<path class="c5e" d="M638.4 122.3l4.2 1.5 4.2 1.5 4.2 1.4 1.3-1.9-4.3-1.4-4.2-1.5-4.1-1.5z"/>
<path class="c66" d="M651 126.7l4.2 1.4 1.3-1.9-4.2-1.4z"/>
<path class="c5e" d="M496.2 43.7l3.6 1.2 1.7-1.8-3.7-1.2z"/>
<path class="c4f" d="M499.8 44.9l3.8 1.4 1.6-1.9-3.7-1.3z"/>
<path class="c5c" d="M503.6 46.3l3.7 1.5 1.6-1.8-3.7-1.6z"/>
<path class="c55" d="M507.3 47.8l3.8 1.7 1.6-1.9-3.8-1.6z"/>
<path class="c5b" d="M511.1 49.5l3.7 1.8 1.6-1.9-3.7-1.8z"/>
<path class="c67" d="M514.8 51.3l3.8 1.9 1.6-1.9-3.8-1.9z"/>
<path class="c60" d="M518.6 53.2l3.8 2 1.6-1.8-3.8-2.1z"/>
<path class="c63" d="M522.4 55.2l3.8 2.2 1.6-1.8-3.8-2.2z"/>
<path class="c53" d="M526.2 57.4l3.9 2.4 1.5-1.9-3.8-2.3z"/>
<path class="c62" d="M530.1 59.8l3.8 2.5 1.6-1.9-3.9-2.5z"/>
<path class="c5f" d="M533.9 62.3l3.9 2.5 3.8 2.6 3.9 2.6 3.9 2.7 3.9 2.7 3.9 2.7 1.5-1.9-3.9-2.7-3.9-2.7-3.9-2.6-3.8-2.7-3.9-2.6-3.8-2.5z"/>
<path class="c5d" d="M557.2 78.1l3.8 2.9 3.9 2.8 3.9 2.8 1.5-1.9-3.9-2.8-3.9-2.8-3.8-2.9z"/>
<path class="c5f" d="M568.8 86.6l4 2.8 3.9 2.7 3.9 2.6 3.9 2.7 1.5-2-3.9-2.6-4-2.7-3.9-2.7-3.9-2.7z"/>
<path class="c62" d="M584.5 97.4l4 2.6 3.9 2.5 1.5-2-4-2.5-3.9-2.6z"/>
<path class="c68" d="M592.4 102.5l4 2.4 1.4-1.9-3.9-2.5z"/>
<path class="c63" d="M596.4 104.9l4 2.4 4 2.3 1.4-2-4-2.3-4-2.3z"/>
<path class="c60" d="M604.4 109.6l4 2.2 4 2.1 1.4-1.9-4-2.1-4-2.3z"/>
<path class="c67" d="M612.4 113.9l4 2 1.4-2-4-1.9z"/>
<path class="c55" d="M616.4 115.9l4.1 1.8 1.4-2-4.1-1.8z"/>
<path class="c5c" d="M620.5 117.7l4.1 1.7 4.1 1.7 1.4-2-4.1-1.6-4.1-1.8z"/>
<path class="c64" d="M628.7 121.1l4.2 1.6 1.3-2-4.1-1.6z"/>
<path class="c4f" d="M632.9 122.7l4.1 1.5 1.4-1.9-4.2-1.6z"/>
<path class="c5e" d="M637 124.2l4.2 1.6 4.2 1.4 4.3 1.5 1.3-2-4.2-1.4-4.2-1.5-4.2-1.5z"/>
<path class="c66" d="M649.7 128.7l4.2 1.4 1.3-2-4.2-1.4z"/>
<path class="c5e" d="M494.5 45.5l3.7 1.2 1.6-1.8-3.6-1.2z"/>
<path class="c4f" d="M498.2 46.7l3.7 1.4 1.7-1.8-3.8-1.4z"/>
<path class="c5c" d="M501.9 48.1l3.7 1.5 1.7-1.8-3.7-1.5z"/>
<path class="c55" d="M505.6 49.6l3.8 1.7 1.7-1.8-3.8-1.7z"/>
<path class="c5b" d="M509.4 51.3l3.8 1.8 1.6-1.8-3.7-1.8z"/>
<path class="c67" d="M513.2 53.1l3.8 2 1.6-1.9-3.8-1.9z"/>
<path class="c60" d="M517 55.1l3.8 2 1.6-1.9-3.8-2z"/>
<path class="c63" d="M520.8 57.1l3.8 2.2 1.6-1.9-3.8-2.2z"/>
<path class="c53" d="M524.6 59.3l3.9 2.4 1.6-1.9-3.9-2.4z"/>
<path class="c62" d="M528.5 61.7l3.8 2.5 1.6-1.9-3.8-2.5z"/>
<path class="c5f" d="M532.3 64.2l3.9 2.5 3.8 2.6 3.9 2.7 3.9 2.6 3.9 2.7 3.9 2.8 1.6-2-3.9-2.7-3.9-2.7-3.9-2.7-3.9-2.6-3.8-2.6-3.9-2.5z"/>
<path class="c5d" d="M555.6 80.1l3.9 2.8 3.9 2.8 3.9 2.8 1.5-1.9-3.9-2.8-3.9-2.8-3.8-2.9z"/>
<path class="c5f" d="M567.3 88.5l3.9 2.8 4 2.7 3.9 2.7 3.9 2.7 1.5-2-3.9-2.7-3.9-2.6-3.9-2.7-4-2.8z"/>
<path class="c62" d="M583 99.4l4 2.6 4 2.5 1.4-2-3.9-2.5-4-2.6z"/>
<path class="c68" d="M591 104.5l3.9 2.4 1.5-2-4-2.4z"/>
<path class="c63" d="M594.9 106.9l4 2.4 4 2.3 1.5-2-4-2.3-4-2.4z"/>
<path class="c60" d="M602.9 111.6l4 2.2 4.1 2.1 1.4-2-4-2.1-4-2.2z"/>
<path class="c67" d="M611 115.9l4 2 1.4-2-4-2z"/>
<path class="c55" d="M615 117.9l4.1 1.8 1.4-2-4.1-1.8z"/>
<path class="c5c" d="M619.1 119.7l4.1 1.8 4.1 1.6 1.4-2-4.1-1.7-4.1-1.7z"/>
<path class="c64" d="M627.3 123.1l4.2 1.6 1.4-2-4.2-1.6z"/>
<path class="c4f" d="M631.5 124.7l4.2 1.6 1.3-2.1-4.1-1.5z"/>
<path class="c5e" d="M635.7 126.3l4.1 1.5 4.3 1.5 4.2 1.4 1.4-2-4.3-1.5-4.2-1.4-4.2-1.6z"/>
<path class="c66" d="M648.3 130.7l4.3 1.4 1.3-2-4.2-1.4z"/>
<path class="c5e" d="M492.7 47.4l3.7 1.2 1.8-1.9-3.7-1.2z"/>
<path class="c4f" d="M496.4 48.6l3.8 1.4 1.7-1.9-3.7-1.4z"/>
<path class="c5c" d="M500.2 50l3.7 1.5 1.7-1.9-3.7-1.5z"/>
<path class="c55" d="M503.9 51.5l3.8 1.7 1.7-1.9-3.8-1.7z"/>
<path class="c5b" d="M507.7 53.2l3.8 1.9 1.7-2-3.8-1.8z"/>
<path class="c67" d="M511.5 55.1l3.8 1.9 1.7-1.9-3.8-2z"/>
<path class="c60" d="M515.3 57l3.8 2 1.7-1.9-3.8-2z"/>
<path class="c63" d="M519.1 59l3.8 2.2 1.7-1.9-3.8-2.2z"/>
<path class="c53" d="M522.9 61.2l3.9 2.4 1.7-1.9-3.9-2.4z"/>
<path class="c62" d="M526.8 63.6l3.8 2.5 1.7-1.9-3.8-2.5z"/>
<path class="c5f" d="M530.6 66.1l3.9 2.6 3.9 2.6 3.9 2.6 3.9 2.7 3.9 2.7 3.9 2.8 1.6-2-3.9-2.8-3.9-2.7-3.9-2.6-3.9-2.7-3.8-2.6-3.9-2.5z"/>
<path class="c5d" d="M554 82.1l3.9 2.8 3.9 2.8 3.9 2.8 1.6-2-3.9-2.8-3.9-2.8-3.9-2.8z"/>
<path class="c5f" d="M565.7 90.5l4 2.8 3.9 2.7 3.9 2.8 4 2.6 1.5-2-3.9-2.7-3.9-2.7-4-2.7-3.9-2.8z"/>
<path class="c62" d="M581.5 101.4l3.9 2.6 1.6-2-4-2.6z"/>
<path class="c68" d="M585.4 104l4 2.5 4 2.5 1.5-2.1-3.9-2.4-4-2.5z"/>
<path class="c63" d="M593.4 109l4 2.3 4 2.3 1.5-2-4-2.3-4-2.4z"/>
<path class="c60" d="M601.4 113.6l4 2.2 1.5-2-4-2.2z"/>
<path class="c67" d="M605.4 115.8l4.1 2.1 4.1 2 1.4-2-4-2-4.1-2.1z"/>
<path class="c55" d="M613.6 119.9l4 1.9 1.5-2.1-4.1-1.8z"/>
<path class="c5c" d="M617.6 121.8l4.2 1.7 1.4-2-4.1-1.8z"/>
<path class="c64" d="M621.8 123.5l4.1 1.7 4.1 1.6 1.5-2.1-4.2-1.6-4.1-1.6z"/>
<path class="c4f" d="M630 126.8l4.2 1.5 1.5-2-4.2-1.6z"/>
<path class="c5e" d="M634.2 128.3l4.2 1.6 4.3 1.4 4.2 1.5 1.4-2.1-4.2-1.4-4.3-1.5-4.1-1.5z"/>
<path class="c66" d="M646.9 132.8l4.3 1.4 1.4-2.1-4.3-1.4z"/>
<path class="c5e" d="M490.9 49.3l3.7 1.2 1.8-1.9-3.7-1.2z"/>
<path class="c4f" d="M494.6 50.5l3.8 1.4 1.8-1.9-3.8-1.4z"/>
<path class="c5c" d="M498.4 51.9l3.7 1.5 1.8-1.9-3.7-1.5z"/>
<path class="c55" d="M502.1 53.4l3.8 1.8 1.8-2-3.8-1.7z"/>
<path class="c5b" d="M505.9 55.2l3.8 1.8 1.8-1.9-3.8-1.9z"/>
<path class="c67" d="M509.7 57l3.8 1.9 1.8-1.9-3.8-1.9z"/>
<path class="c60" d="M513.5 58.9l3.8 2.1 1.8-2-3.8-2z"/>
<path class="c63" d="M517.3 61l3.9 2.2 1.7-2-3.8-2.2z"/>
<path class="c65" d="M521.2 63.2l3.8 2.4 1.8-2-3.9-2.4z"/>
<path class="c62" d="M525 65.6l3.9 2.5 1.7-2-3.8-2.5z"/>
<path class="c5f" d="M528.9 68.1l3.9 2.5 3.9 2.7 3.9 2.6 3.9 2.7 3.9 2.7 3.9 2.8 1.7-2-3.9-2.8-3.9-2.7-3.9-2.7-3.9-2.6-3.9-2.6-3.9-2.6z"/>
<path class="c5d" d="M552.3 84.1l3.9 2.8 4 2.8 3.9 2.9 1.6-2.1-3.9-2.8-3.9-2.8-3.9-2.8z"/>
<path class="c5f" d="M564.1 92.6l3.9 2.8 4 2.7 3.9 2.7 4 2.7 1.6-2.1-4-2.6-3.9-2.8-3.9-2.7-4-2.8z"/>
<path class="c62" d="M579.9 103.5l4 2.6 1.5-2.1-3.9-2.6z"/>
<path class="c68" d="M583.9 106.1l3.9 2.5 1.6-2.1-4-2.5z"/>
<path class="c69" d="M587.8 108.6l4 2.4 1.6-2-4-2.5z"/>
<path class="c63" d="M591.8 111l4 2.4 4.1 2.3 1.5-2.1-4-2.3-4-2.3z"/>
<path class="c60" d="M599.9 115.7l4 2.2 1.5-2.1-4-2.2z"/>
<path class="c67" d="M603.9 117.9l4.1 2.1 4 2 1.6-2.1-4.1-2-4.1-2.1z"/>
<path class="c55" d="M612 122l4.1 1.9 1.5-2.1-4-1.9z"/>
<path class="c5c" d="M616.1 123.9l4.2 1.7 1.5-2.1-4.2-1.7z"/>
<path class="c64" d="M620.3 125.6l4.1 1.7 1.5-2.1-4.1-1.7z"/>
<path class="c4f" d="M624.4 127.3l4.2 1.6 1.4-2.1-4.1-1.6z"/>
<path class="c5e" d="M628.6 128.9l4.2 1.6 4.2 1.5 4.2 1.5 4.3 1.4 1.4-2.1-4.2-1.5-4.3-1.4-4.2-1.6-4.2-1.5z"/>
<path class="c66" d="M645.5 134.9l4.3 1.5 1.4-2.2-4.3-1.4z"/>
<path class="c5e" d="M489.1 51.2l3.7 1.2 1.8-1.9-3.7-1.2z"/>
<path class="c4f" d="M492.8 52.4l3.7 1.4 1.9-1.9-3.8-1.4z"/>
<path class="c5c" d="M496.5 53.8l3.8 1.6 1.8-2-3.7-1.5z"/>
<path class="c55" d="M500.3 55.4l3.8 1.7 1.8-1.9-3.8-1.8z"/>
<path class="c5b" d="M504.1 57.1l3.8 1.9 1.8-2-3.8-1.8z"/>
<path class="c67" d="M507.9 59l3.8 1.9 1.8-2-3.8-1.9z"/>
<path class="c60" d="M511.7 60.9l3.8 2.1 1.8-2-3.8-2.1z"/>
<path class="c63" d="M515.5 63l3.9 2.2 1.8-2-3.9-2.2z"/>
<path class="c65" d="M519.4 65.2l3.8 2.4 1.8-2-3.8-2.4z"/>
<path class="c62" d="M523.2 67.6l3.9 2.5 1.8-2-3.9-2.5z"/>
<path class="c5f" d="M527.1 70.1l3.9 2.6 3.9 2.6 3.9 2.6 3.9 2.7 4 2.7 3.9 2.8 1.7-2-3.9-2.8-3.9-2.7-3.9-2.7-3.9-2.6-3.9-2.7-3.9-2.5z"/>
<path class="c5d" d="M550.6 86.1l3.9 2.8 4 2.9 3.9 2.8 1.7-2-3.9-2.9-4-2.8-3.9-2.8z"/>
<path class="c5f" d="M562.4 94.6l4 2.8 3.9 2.8 4 2.7 3.9 2.8 1.7-2.2-4-2.7-3.9-2.7-4-2.7-3.9-2.8z"/>
<path class="c62" d="M578.2 105.7l4 2.6 1.7-2.2-4-2.6z"/>
<path class="c68" d="M582.2 108.3l4 2.5 1.6-2.2-3.9-2.5z"/>
<path class="c69" d="M586.2 110.8l4 2.4 1.6-2.2-4-2.4z"/>
<path class="c63" d="M590.2 113.2l4 2.3 4.1 2.3 1.6-2.1-4.1-2.3-4-2.4z"/>
<path class="c60" d="M598.3 117.8l4 2.3 1.6-2.2-4-2.2z"/>
<path class="c67" d="M602.3 120.1l4.1 2.1 4.1 2 1.5-2.2-4-2-4.1-2.1z"/>
<path class="c55" d="M610.5 124.2l4.1 1.8 1.5-2.1-4.1-1.9z"/>
<path class="c5c" d="M614.6 126l4.1 1.8 1.6-2.2-4.2-1.7z"/>
<path class="c64" d="M618.7 127.8l4.2 1.7 1.5-2.2-4.1-1.7z"/>
<path class="c4f" d="M622.9 129.5l4.2 1.6 1.5-2.2-4.2-1.6z"/>
<path class="c5e" d="M627.1 131.1l4.2 1.5 4.2 1.6 4.2 1.5 4.3 1.4 1.5-2.2-4.3-1.4-4.2-1.5-4.2-1.5-4.2-1.6z"/>
<path class="c66" d="M644 137.1l4.3 1.5 1.5-2.2-4.3-1.5z"/>
<path class="c5e" d="M487.1 53.1l3.7 1.3 2-2-3.7-1.2z"/>
<path class="c4f" d="M490.8 54.4l3.8 1.4 1.9-2-3.7-1.4z"/>
<path class="c5c" d="M494.6 55.8l3.8 1.6 1.9-2-3.8-1.6z"/>
<path class="c55" d="M498.4 57.4l3.8 1.7 1.9-2-3.8-1.7z"/>
<path class="c5b" d="M502.2 59.1l3.8 1.9 1.9-2-3.8-1.9z"/>
<path class="c67" d="M506 61l3.8 1.9 1.9-2-3.8-1.9z"/>
<path class="c60" d="M509.8 62.9l3.8 2.1 1.9-2-3.8-2.1z"/>
<path class="c63" d="M513.6 65l3.9 2.2 1.9-2-3.9-2.2z"/>
<path class="c68" d="M517.5 67.2l3.9 2.4 1.8-2-3.8-2.4z"/>
<path class="c62" d="M521.4 69.6l3.9 2.5 1.8-2-3.9-2.5z"/>
<path class="c5f" d="M525.3 72.1l3.9 2.6 3.9 2.7 3.9 2.6 3.9 2.7 4 2.7 3.9 2.8 1.8-2.1-3.9-2.8-4-2.7-3.9-2.7-3.9-2.6-3.9-2.6-3.9-2.6z"/>
<path class="c5d" d="M548.8 88.2l4 2.9 3.9 2.8 4 2.9 1.7-2.2-3.9-2.8-4-2.9-3.9-2.8z"/>
<path class="c5f" d="M560.7 96.8l3.9 2.8 4 2.7 4 2.8 3.9 2.7 1.7-2.1-3.9-2.8-4-2.7-3.9-2.8-4-2.8z"/>
<path class="c62" d="M576.5 107.8l4 2.7 1.7-2.2-4-2.6z"/>
<path class="c68" d="M580.5 110.5l4 2.5 1.7-2.2-4-2.5z"/>
<path class="c63" d="M584.5 113l4.1 2.4 4 2.3 4 2.3 1.7-2.2-4.1-2.3-4-2.3-4-2.4z"/>
<path class="c60" d="M596.6 120l4.1 2.3 1.6-2.2-4-2.3z"/>
<path class="c67" d="M600.7 122.3l4.1 2.1 4.1 2 1.6-2.2-4.1-2-4.1-2.1z"/>
<path class="c55" d="M608.9 126.4l4.1 1.9 1.6-2.3-4.1-1.8z"/>
<path class="c5c" d="M613 128.3l4.1 1.7 1.6-2.2-4.1-1.8z"/>
<path class="c64" d="M617.1 130l4.2 1.7 1.6-2.2-4.2-1.7z"/>
<path class="c4f" d="M621.3 131.7l4.2 1.6 1.6-2.2-4.2-1.6z"/>
<path class="c5e" d="M625.5 133.3l4.2 1.6 4.2 1.5 4.3 1.5 4.3 1.5 1.5-2.3-4.3-1.4-4.2-1.5-4.2-1.6-4.2-1.5z"/>
<path class="c66" d="M642.5 139.4l4.3 1.4 1.5-2.2-4.3-1.5z"/>
<path class="c5e" d="M485.1 55.1l3.7 1.3 2-2-3.7-1.3z"/>
<path class="c4f" d="M488.8 56.4l3.8 1.4 2-2-3.8-1.4z"/>
<path class="c5c" d="M492.6 57.8l3.8 1.6 2-2-3.8-1.6z"/>
<path class="c55" d="M496.4 59.4l3.8 1.7 2-2-3.8-1.7z"/>
<path class="c5b" d="M500.2 61.1l3.8 1.9 2-2-3.8-1.9z"/>
<path class="c67" d="M504 63l3.9 2 1.9-2.1-3.8-1.9z"/>
<path class="c60" d="M507.9 65l3.8 2.1 1.9-2.1-3.8-2.1z"/>
<path class="c63" d="M511.7 67.1l3.9 2.2 1.9-2.1-3.9-2.2z"/>
<path class="c68" d="M515.6 69.3l3.9 2.4 3.9 2.5 1.9-2.1-3.9-2.5-3.9-2.4z"/>
<path class="c5f" d="M523.4 74.2l3.9 2.6 3.9 2.7 3.9 2.6 4 2.7 3.9 2.7 4 2.9 1.8-2.2-3.9-2.8-4-2.7-3.9-2.7-3.9-2.6-3.9-2.7-3.9-2.6z"/>
<path class="c5d" d="M547 90.4l3.9 2.8 4 2.9 4 2.8 1.8-2.1-4-2.9-3.9-2.8-4-2.9z"/>
<path class="c5f" d="M558.9 98.9l3.9 2.9 4 2.7 4 2.8 4 2.8 1.7-2.3-3.9-2.7-4-2.8-4-2.7-3.9-2.8z"/>
<path class="c68" d="M574.8 110.1l4 2.6 4 2.5 1.7-2.2-4-2.5-4-2.7z"/>
<path class="c63" d="M582.8 115.2l4.1 2.4 4 2.4 4.1 2.3 1.6-2.3-4-2.3-4-2.3-4.1-2.4z"/>
<path class="c60" d="M595 122.3l4 2.2 1.7-2.2-4.1-2.3z"/>
<path class="c67" d="M599 124.5l4.1 2.2 4.1 1.9 1.7-2.2-4.1-2-4.1-2.1z"/>
<path class="c55" d="M607.2 128.6l4.1 1.9 1.7-2.2-4.1-1.9z"/>
<path class="c5c" d="M611.3 130.5l4.2 1.8 1.6-2.3-4.1-1.7z"/>
<path class="c64" d="M615.5 132.3l4.2 1.7 1.6-2.3-4.2-1.7z"/>
<path class="c4f" d="M619.7 134l4.2 1.6 1.6-2.3-4.2-1.6z"/>
<path class="c5e" d="M623.9 135.6l4.2 1.6 4.3 1.5 4.2 1.5 4.3 1.5 1.6-2.3-4.3-1.5-4.3-1.5-4.2-1.5-4.2-1.6z"/>
<path class="c66" d="M640.9 141.7l4.3 1.5 1.6-2.4-4.3-1.4z"/>
<path class="c5e" d="M483.1 57.2l3.7 1.2 2-2-3.7-1.3z"/>
<path class="c4f" d="M486.8 58.4l3.8 1.5 2-2.1-3.8-1.4z"/>
<path class="c5c" d="M490.6 59.9l3.7 1.6 2.1-2.1-3.8-1.6z"/>
<path class="c55" d="M494.3 61.5l3.9 1.7 2-2.1-3.8-1.7z"/>
<path class="c5b" d="M498.2 63.2l3.8 1.9 2-2.1-3.8-1.9z"/>
<path class="c67" d="M502 65.1l3.8 2 2.1-2.1-3.9-2z"/>
<path class="c60" d="M505.8 67.1l3.9 2.1 2-2.1-3.8-2.1z"/>
<path class="c63" d="M509.7 69.2l3.9 2.2 2-2.1-3.9-2.2z"/>
<path class="c68" d="M513.6 71.4l3.9 2.4 3.9 2.6 2-2.2-3.9-2.5-3.9-2.4z"/>
<path class="c62" d="M521.4 76.4l3.9 2.6 2-2.2-3.9-2.6z"/>
<path class="c5f" d="M525.3 79l4 2.6 3.9 2.7 4 2.7 3.9 2.7 4 2.8 1.9-2.1-4-2.9-3.9-2.7-4-2.7-3.9-2.6-3.9-2.7z"/>
<path class="c5d" d="M545.1 92.5l4 2.9 3.9 2.9 4 2.8 1.9-2.2-4-2.8-4-2.9-3.9-2.8z"/>
<path class="c5f" d="M557 101.1l4 2.9 4 2.8 4 2.8 4 2.7 1.8-2.2-4-2.8-4-2.8-4-2.7-3.9-2.9z"/>
<path class="c68" d="M573 112.3l4 2.7 4 2.5 1.8-2.3-4-2.5-4-2.6z"/>
<path class="c63" d="M581 117.5l4.1 2.4 4 2.3 1.8-2.2-4-2.4-4.1-2.4z"/>
<path class="c60" d="M589.1 122.2l4.1 2.4 4.1 2.2 1.7-2.3-4-2.2-4.1-2.3z"/>
<path class="c67" d="M597.3 126.8l4.1 2.2 4.1 2 1.7-2.4-4.1-1.9-4.1-2.2z"/>
<path class="c55" d="M605.5 131l4.2 1.9 1.6-2.4-4.1-1.9z"/>
<path class="c5c" d="M609.7 132.9l4.1 1.8 1.7-2.4-4.2-1.8z"/>
<path class="c64" d="M613.8 134.7l4.2 1.6 1.7-2.3-4.2-1.7z"/>
<path class="c4f" d="M618 136.3l4.2 1.6 1.7-2.3-4.2-1.6z"/>
<path class="c5e" d="M622.2 137.9l4.3 1.6 4.2 1.6 4.3 1.5 4.3 1.5 1.6-2.4-4.3-1.5-4.2-1.5-4.3-1.5-4.2-1.6z"/>
<path class="c66" d="M639.3 144.1l4.4 1.5 1.5-2.4-4.3-1.5z"/>
<path class="c5e" d="M480.9 59.2l3.8 1.3 2.1-2.1-3.7-1.2z"/>
<path class="c4f" d="M484.7 60.5l3.7 1.4 2.2-2-3.8-1.5z"/>
<path class="c5c" d="M488.4 61.9l3.8 1.7 2.1-2.1-3.7-1.6z"/>
<path class="c55" d="M492.2 63.6l3.9 1.7 2.1-2.1-3.9-1.7z"/>
<path class="c67" d="M496.1 65.3l3.8 1.9 3.9 2 2-2.1-3.8-2-3.8-1.9z"/>
<path class="c60" d="M503.8 69.2l3.9 2.1 2-2.1-3.9-2.1z"/>
<path class="c63" d="M507.7 71.3l3.9 2.3 2-2.2-3.9-2.2z"/>
<path class="c68" d="M511.6 73.6l3.9 2.4 3.9 2.5 2-2.1-3.9-2.6-3.9-2.4z"/>
<path class="c62" d="M519.4 78.5l3.9 2.6 2-2.1-3.9-2.6z"/>
<path class="c5f" d="M523.3 81.1l4 2.7 3.9 2.7 4 2.7 4 2.7 3.9 2.9 2-2.3-4-2.8-3.9-2.7-4-2.7-3.9-2.7-4-2.6z"/>
<path class="c5d" d="M543.1 94.8l4 2.8 4 2.9 4 2.9 1.9-2.3-4-2.8-3.9-2.9-4-2.9z"/>
<path class="c5f" d="M555.1 103.4l4 2.8 4 2.9 4 2.8 4.1 2.8 1.8-2.4-4-2.7-4-2.8-4-2.8-4-2.9z"/>
<path class="c68" d="M571.2 114.7l4 2.6 4 2.5 1.8-2.3-4-2.5-4-2.7z"/>
<path class="c63" d="M579.2 119.8l4.1 2.4 4 2.4 1.8-2.4-4-2.3-4.1-2.4z"/>
<path class="c60" d="M587.3 124.6l4.1 2.3 4.1 2.3 1.8-2.4-4.1-2.2-4.1-2.4z"/>
<path class="c67" d="M595.5 129.2l4.1 2.1 4.2 2 1.7-2.3-4.1-2-4.1-2.2z"/>
<path class="c55" d="M603.8 133.3l4.1 2 1.8-2.4-4.2-1.9z"/>
<path class="c5c" d="M607.9 135.3l4.2 1.8 1.7-2.4-4.1-1.8z"/>
<path class="c64" d="M612.1 137.1l4.2 1.6 1.7-2.4-4.2-1.6z"/>
<path class="c4f" d="M616.3 138.7l4.2 1.6 1.7-2.4-4.2-1.6z"/>
<path class="c5e" d="M620.5 140.3l4.3 1.6 4.3 1.6 4.3 1.5 4.3 1.5 1.6-2.4-4.3-1.5-4.3-1.5-4.2-1.6-4.3-1.6z"/>
<path class="c66" d="M637.7 146.5l4.3 1.5 1.7-2.4-4.4-1.5z"/>
<path class="c5e" d="M478.7 61.3l3.8 1.3 2.2-2.1-3.8-1.3z"/>
<path class="c4f" d="M482.5 62.6l3.8 1.5 2.1-2.2-3.7-1.4z"/>
<path class="c5c" d="M486.3 64.1l3.8 1.6 2.1-2.1-3.8-1.7z"/>
<path class="c55" d="M490.1 65.7l3.8 1.8 2.2-2.2-3.9-1.7z"/>
<path class="c67" d="M493.9 67.5l3.9 1.9 3.8 2 2.2-2.2-3.9-2-3.8-1.9z"/>
<path class="c60" d="M501.6 71.4l3.9 2.1 2.2-2.2-3.9-2.1z"/>
<path class="c63" d="M505.5 73.5l3.9 2.3 2.2-2.2-3.9-2.3z"/>
<path class="c68" d="M509.4 75.8l4 2.4 3.9 2.5 4 2.7 2-2.3-3.9-2.6-3.9-2.5-3.9-2.4z"/>
<path class="c5f" d="M521.3 83.4l3.9 2.7 4 2.6 4 2.7 3.9 2.8 4 2.8 2-2.2-3.9-2.9-4-2.7-4-2.7-3.9-2.7-4-2.7z"/>
<path class="c5d" d="M541.1 97l4 2.9 4 2.9 4 2.9 2-2.3-4-2.9-4-2.9-4-2.8z"/>
<path class="c5f" d="M553.1 105.7l4.1 2.9 4 2.8 4 2.8 4 2.8 2-2.3-4.1-2.8-4-2.8-4-2.9-4-2.8z"/>
<path class="c68" d="M569.2 117l4.1 2.7 4 2.5 1.9-2.4-4-2.5-4-2.6z"/>
<path class="c63" d="M577.3 122.2l4.1 2.4 4.1 2.4 1.8-2.4-4-2.4-4.1-2.4z"/>
<path class="c60" d="M585.5 127l4.1 2.3 4.1 2.3 1.8-2.4-4.1-2.3-4.1-2.3z"/>
<path class="c67" d="M593.7 131.6l4.1 2.1 4.2 2.1 1.8-2.5-4.2-2-4.1-2.1z"/>
<path class="c55" d="M602 135.8l4.2 1.9 1.7-2.4-4.1-2z"/>
<path class="c5c" d="M606.2 137.7l4.1 1.8 1.8-2.4-4.2-1.8z"/>
<path class="c64" d="M610.3 139.5l4.3 1.7 1.7-2.5-4.2-1.6z"/>
<path class="c4f" d="M614.6 141.2l4.2 1.6 1.7-2.5-4.2-1.6z"/>
<path class="c5e" d="M618.8 142.8l4.3 1.6 4.3 1.6 4.3 1.5 4.3 1.5 1.7-2.5-4.3-1.5-4.3-1.5-4.3-1.6-4.3-1.6z"/>
<path class="c66" d="M636 149l4.4 1.5 1.6-2.5-4.3-1.5z"/>
<path class="c5e" d="M476.5 63.5l3.7 1.3 2.3-2.2-3.8-1.3z"/>
<path class="c4f" d="M480.2 64.8l3.8 1.5 2.3-2.2-3.8-1.5z"/>
<path class="c5c" d="M484 66.3l3.8 1.6 2.3-2.2-3.8-1.6z"/>
<path class="c55" d="M487.8 67.9l3.9 1.8 2.2-2.2-3.8-1.8z"/>
<path class="c67" d="M491.7 69.7l3.9 1.9 3.8 2 2.2-2.2-3.8-2-3.9-1.9z"/>
<path class="c60" d="M499.4 73.6l3.9 2.1 2.2-2.2-3.9-2.1z"/>
<path class="c63" d="M503.3 75.7l4 2.3 2.1-2.2-3.9-2.3z"/>
<path class="c69" d="M507.3 78l3.9 2.5 2.2-2.3-4-2.4z"/>
<path class="c68" d="M511.2 80.5l4 2.5 3.9 2.6 2.2-2.2-4-2.7-3.9-2.5z"/>
<path class="c5f" d="M519.1 85.6l4 2.7 4 2.7 4 2.7 4 2.8 4 2.9 4 2.9 2-2.4-4-2.9-4-2.8-3.9-2.8-4-2.7-4-2.6-3.9-2.7z"/>
<path class="c5d" d="M543.1 102.3l4 2.9 4 2.9 2-2.4-4-2.9-4-2.9z"/>
<path class="c5f" d="M551.1 108.1l4.1 2.8 4 2.9 4 2.8 4.1 2.9 1.9-2.5-4-2.8-4-2.8-4-2.8-4.1-2.9z"/>
<path class="c68" d="M567.3 119.5l4 2.7 4.1 2.5 1.9-2.5-4-2.5-4.1-2.7z"/>
<path class="c63" d="M575.4 124.7l4.1 2.4 4.1 2.3 1.9-2.4-4.1-2.4-4.1-2.4z"/>
<path class="c60" d="M583.6 129.4l4.1 2.4 4.1 2.3 1.9-2.5-4.1-2.3-4.1-2.3z"/>
<path class="c67" d="M591.8 134.1l4.2 2.1 4.1 2.1 1.9-2.5-4.2-2.1-4.1-2.1z"/>
<path class="c55" d="M600.1 138.3l4.2 1.9 1.9-2.5-4.2-1.9z"/>
<path class="c5c" d="M604.3 140.2l4.2 1.8 1.8-2.5-4.1-1.8z"/>
<path class="c64" d="M608.5 142l4.3 1.7 1.8-2.5-4.3-1.7z"/>
<path class="c5e" d="M612.8 143.7l4.2 1.6 4.3 1.6 4.3 1.6 4.3 1.6 4.4 1.5 1.7-2.6-4.3-1.5-4.3-1.5-4.3-1.6-4.3-1.6-4.2-1.6z"/>
<path class="c66" d="M634.3 151.6l4.3 1.5 1.8-2.6-4.4-1.5z"/>
<path class="c5e" d="M474.1 65.7l3.8 1.3 2.3-2.2-3.7-1.3z"/>
<path class="c4f" d="M477.9 67l3.8 1.5 2.3-2.2-3.8-1.5z"/>
<path class="c5c" d="M481.7 68.5l3.8 1.6 2.3-2.2-3.8-1.6z"/>
<path class="c55" d="M485.5 70.1l3.9 1.8 2.3-2.2-3.9-1.8z"/>
<path class="c67" d="M489.4 71.9l3.9 1.9 3.9 2.1 2.2-2.3-3.8-2-3.9-1.9z"/>
<path class="c60" d="M497.2 75.9l3.9 2.1 2.2-2.3-3.9-2.1z"/>
<path class="c63" d="M501.1 78l3.9 2.3 2.3-2.3-4-2.3z"/>
<path class="c69" d="M505 80.3l4 2.5 2.2-2.3-3.9-2.5z"/>
<path class="c68" d="M509 82.8l4 2.5 3.9 2.7 2.2-2.4-3.9-2.6-4-2.5z"/>
<path class="c6a" d="M516.9 88l4 2.7 2.2-2.4-4-2.7z"/>
<path class="c5f" d="M520.9 90.7l4 2.7 4 2.7 4 2.8 4.1 2.9 4 2.8 2.1-2.3-4-2.9-4-2.9-4-2.8-4-2.7-4-2.7z"/>
<path class="c5d" d="M541 104.6l4 3 4.1 2.9 2-2.4-4-2.9-4-2.9z"/>
<path class="c5f" d="M549.1 110.5l4 2.9 4.1 2.8 4 2.9 4.1 2.8 2-2.4-4.1-2.9-4-2.8-4-2.9-4.1-2.8z"/>
<path class="c68" d="M565.3 121.9l4.1 2.8 4 2.5 2-2.5-4.1-2.5-4-2.7z"/>
<path class="c63" d="M573.4 127.2l4.1 2.4 4.2 2.4 1.9-2.6-4.1-2.3-4.1-2.4z"/>
<path class="c60" d="M581.7 132l4.1 2.3 4.1 2.3 1.9-2.5-4.1-2.3-4.1-2.4z"/>
<path class="c67" d="M589.9 136.6l4.2 2.2 1.9-2.6-4.2-2.1z"/>
<path class="c6b" d="M594.1 138.8l4.1 2 1.9-2.5-4.1-2.1z"/>
<path class="c55" d="M598.2 140.8l4.2 2 1.9-2.6-4.2-1.9z"/>
<path class="c5c" d="M602.4 142.8l4.3 1.8 1.8-2.6-4.2-1.8z"/>
<path class="c64" d="M606.7 144.6l4.2 1.7 1.9-2.6-4.3-1.7z"/>
<path class="c5e" d="M610.9 146.3l4.3 1.6 4.3 1.6 4.3 1.6 4.3 1.6 4.4 1.5 1.8-2.6-4.4-1.5-4.3-1.6-4.3-1.6-4.3-1.6-4.2-1.6z"/>
<path class="c66" d="M632.5 154.2l4.4 1.6 1.7-2.7-4.3-1.5z"/>
<path class="c5e" d="M471.7 67.9l3.8 1.3 2.4-2.2-3.8-1.3z"/>
<path class="c64" d="M475.5 69.2l3.8 1.5 2.4-2.2-3.8-1.5z"/>
<path class="c5c" d="M479.3 70.7l3.9 1.7 2.3-2.3-3.8-1.6z"/>
<path class="c55" d="M483.2 72.4l3.9 1.8 2.3-2.3-3.9-1.8z"/>
<path class="c67" d="M487.1 74.2l3.8 1.9 4 2.1 2.3-2.3-3.9-2.1-3.9-1.9z"/>
<path class="c60" d="M494.9 78.2l3.9 2.1 2.3-2.3-3.9-2.1z"/>
<path class="c63" d="M498.8 80.3l3.9 2.3 2.3-2.3-3.9-2.3z"/>
<path class="c69" d="M502.7 82.6l4 2.5 2.3-2.3-4-2.5z"/>
<path class="c68" d="M506.7 85.1l4 2.6 4 2.6 2.2-2.3-3.9-2.7-4-2.5z"/>
<path class="c6a" d="M514.7 90.3l4 2.8 4 2.7 2.2-2.4-4-2.7-4-2.7z"/>
<path class="c5f" d="M522.7 95.8l4 2.7 4 2.8 4.1 2.9 4 2.9 2.2-2.5-4-2.8-4.1-2.9-4-2.8-4-2.7z"/>
<path class="c5d" d="M538.8 107.1l4.1 2.9 4 2.9 2.2-2.4-4.1-2.9-4-3z"/>
<path class="c5f" d="M546.9 112.9l4.1 3 4.1 2.8 4 2.9 4.1 2.9 2.1-2.6-4.1-2.8-4-2.9-4.1-2.8-4-2.9z"/>
<path class="c68" d="M563.2 124.5l4.1 2.7 4.1 2.5 2-2.5-4-2.5-4.1-2.8z"/>
<path class="c63" d="M571.4 129.7l4.1 2.5 4.1 2.3 2.1-2.5-4.2-2.4-4.1-2.4z"/>
<path class="c60" d="M579.6 134.5l4.2 2.4 4.1 2.3 2-2.6-4.1-2.3-4.1-2.3z"/>
<path class="c67" d="M587.9 139.2l4.2 2.2 2-2.6-4.2-2.2z"/>
<path class="c6b" d="M592.1 141.4l4.2 2 1.9-2.6-4.1-2z"/>
<path class="c55" d="M596.3 143.4l4.2 2 1.9-2.6-4.2-2z"/>
<path class="c5c" d="M600.5 145.4l4.3 1.8 1.9-2.6-4.3-1.8z"/>
<path class="c64" d="M604.8 147.2l4.2 1.8 1.9-2.7-4.2-1.7z"/>
<path class="c5e" d="M609 149l4.3 1.6 4.3 1.6 4.3 1.6 4.4 1.6 4.4 1.5 1.8-2.7-4.4-1.5-4.3-1.6-4.3-1.6-4.3-1.6-4.3-1.6z"/>
<path class="c66" d="M630.7 156.9l4.4 1.6 1.8-2.7-4.4-1.6z"/>
<path class="c5e" d="M469.3 70.2l3.8 1.3 2.4-2.3-3.8-1.3z"/>
<path class="c64" d="M473.1 71.5l3.8 1.5 2.4-2.3-3.8-1.5z"/>
<path class="c5c" d="M476.9 73l3.8 1.7 2.5-2.3-3.9-1.7z"/>
<path class="c55" d="M480.7 74.7l3.9 1.8 2.5-2.3-3.9-1.8z"/>
<path class="c67" d="M484.6 76.5l3.9 2 4 2 2.4-2.3-4-2.1-3.8-1.9z"/>
<path class="c60" d="M492.5 80.5l3.9 2.2 2.4-2.4-3.9-2.1z"/>
<path class="c63" d="M496.4 82.7l4 2.3 2.3-2.4-3.9-2.3z"/>
<path class="c69" d="M500.4 85l4 2.5 2.3-2.4-4-2.5z"/>
<path class="c68" d="M504.4 87.5l4 2.6 4 2.7 2.3-2.5-4-2.6-4-2.6z"/>
<path class="c6a" d="M512.4 92.8l4 2.7 4 2.7 2.3-2.4-4-2.7-4-2.8z"/>
<path class="c5f" d="M520.4 98.2l4 2.8 4.1 2.8 4 2.9 4.1 2.9 2.2-2.5-4-2.9-4.1-2.9-4-2.8-4-2.7z"/>
<path class="c5d" d="M536.6 109.6l4.1 2.9 4 3 2.2-2.6-4-2.9-4.1-2.9z"/>
<path class="c5f" d="M544.7 115.5l4.1 2.9 4.1 2.9 4.1 2.9 4.1 2.9 2.1-2.6-4.1-2.9-4-2.9-4.1-2.8-4.1-3z"/>
<path class="c68" d="M561.1 127.1l4.1 2.7 4.1 2.6 2.1-2.7-4.1-2.5-4.1-2.7z"/>
<path class="c63" d="M569.3 132.4l4.1 2.4 2.1-2.6-4.1-2.5z"/>
<path class="c60" d="M573.4 134.8l4.2 2.4 4.1 2.3 4.2 2.3 2-2.6-4.1-2.3-4.2-2.4-4.1-2.3z"/>
<path class="c67" d="M585.9 141.8l4.2 2.2 2-2.6-4.2-2.2z"/>
<path class="c6b" d="M590.1 144l4.2 2.1 2-2.7-4.2-2z"/>
<path class="c55" d="M594.3 146.1l4.2 2 2-2.7-4.2-2z"/>
<path class="c5c" d="M598.5 148.1l4.3 1.8 2-2.7-4.3-1.8z"/>
<path class="c64" d="M602.8 149.9l4.3 1.8 1.9-2.7-4.2-1.8z"/>
<path class="c5e" d="M607.1 151.7l4.3 1.6 4.3 1.6 4.4 1.7 4.3 1.5 4.4 1.6 1.9-2.8-4.4-1.5-4.4-1.6-4.3-1.6-4.3-1.6-4.3-1.6z"/>
<path class="c66" d="M628.8 159.7l4.4 1.6 1.9-2.8-4.4-1.6z"/>
<path class="c5e" d="M466.7 72.5l3.8 1.4 2.6-2.4-3.8-1.3z"/>
<path class="c64" d="M470.5 73.9l3.9 1.5 2.5-2.4-3.8-1.5z"/>
<path class="c5c" d="M474.4 75.4l3.8 1.7 2.5-2.4-3.8-1.7z"/>
<path class="c55" d="M478.2 77.1l3.9 1.8 2.5-2.4-3.9-1.8z"/>
<path class="c67" d="M482.1 78.9l4 2 3.9 2.1 2.5-2.5-4-2-3.9-2z"/>
<path class="c60" d="M490 83l4 2.1 2.4-2.4-3.9-2.2z"/>
<path class="c63" d="M494 85.1l3.9 2.4 2.5-2.5-4-2.3z"/>
<path class="c69" d="M497.9 87.5l4 2.4 2.5-2.4-4-2.5z"/>
<path class="c68" d="M501.9 89.9l4.1 2.6 4 2.7 2.4-2.4-4-2.7-4-2.6z"/>
<path class="c6a" d="M510 95.2l4 2.8 4.1 2.7 4 2.8 2.3-2.5-4-2.8-4-2.7-4-2.7z"/>
<path class="c5f" d="M522.1 103.5l4.1 2.8 4 2.9 4.1 2.9 2.3-2.5-4.1-2.9-4-2.9-4.1-2.8z"/>
<path class="c5d" d="M534.3 112.1l4.1 3 4.1 2.9 2.2-2.5-4-3-4.1-2.9z"/>
<path class="c5f" d="M542.5 118l4.1 3 4.1 2.9 4.1 2.9 4.1 2.9 2.2-2.6-4.1-2.9-4.1-2.9-4.1-2.9-4.1-2.9z"/>
<path class="c68" d="M558.9 129.7l4.1 2.8 2.2-2.7-4.1-2.7z"/>
<path class="c69" d="M563 132.5l4.2 2.5 2.1-2.6-4.1-2.6z"/>
<path class="c63" d="M567.2 135l4.1 2.5 2.1-2.7-4.1-2.4z"/>
<path class="c60" d="M571.3 137.5l4.2 2.3 4.2 2.4 4.1 2.3 2.1-2.7-4.2-2.3-4.1-2.3-4.2-2.4z"/>
<path class="c67" d="M583.8 144.5l4.2 2.3 2.1-2.8-4.2-2.2z"/>
<path class="c6b" d="M588 146.8l4.3 2 2-2.7-4.2-2.1z"/>
<path class="c55" d="M592.3 148.8l4.2 2 2-2.7-4.2-2z"/>
<path class="c5c" d="M596.5 150.8l4.3 1.9 2-2.8-4.3-1.8z"/>
<path class="c64" d="M600.8 152.7l4.3 1.7 2-2.7-4.3-1.8z"/>
<path class="c5e" d="M605.1 154.4l4.3 1.7 4.3 1.6 4.4 1.7 4.4 1.6 4.4 1.6 1.9-2.9-4.4-1.6-4.3-1.5-4.4-1.7-4.3-1.6-4.3-1.6z"/>
<path class="c66" d="M626.9 162.6l4.4 1.5 1.9-2.8-4.4-1.6z"/>
<path class="c5e" d="M464.1 74.9l3.8 1.4 2.6-2.4-3.8-1.4z"/>
<path class="c64" d="M467.9 76.3l3.9 1.5 2.6-2.4-3.9-1.5z"/>
<path class="c5c" d="M471.8 77.8l3.9 1.7 2.5-2.4-3.8-1.7z"/>
<path class="c55" d="M475.7 79.5l3.9 1.8 2.5-2.4-3.9-1.8z"/>
<path class="c67" d="M479.6 81.3l3.9 2 4 2.1 2.5-2.4-3.9-2.1-4-2z"/>
<path class="c60" d="M487.5 85.4l4 2.2 2.5-2.5-4-2.1z"/>
<path class="c63" d="M491.5 87.6l3.9 2.3 2.5-2.4-3.9-2.4z"/>
<path class="c69" d="M495.4 89.9l4.1 2.5 2.4-2.5-4-2.4z"/>
<path class="c68" d="M499.5 92.4l4 2.7 4 2.7 2.5-2.6-4-2.7-4.1-2.6z"/>
<path class="c6a" d="M507.5 97.8l4.1 2.7 4 2.8 2.5-2.6-4.1-2.7-4-2.8z"/>
<path class="c5f" d="M515.6 103.3l4.1 2.7 4.1 2.9 4.1 2.9 4.1 2.9 2.3-2.6-4.1-2.9-4-2.9-4.1-2.8-4-2.8z"/>
<path class="c5d" d="M532 114.7l4.1 3 4.1 3 2.3-2.7-4.1-2.9-4.1-3z"/>
<path class="c5f" d="M540.2 120.7l4.1 2.9 4.1 3 4.1 2.9 4.2 2.9 2.2-2.7-4.1-2.9-4.1-2.9-4.1-2.9-4.1-3z"/>
<path class="c68" d="M556.7 132.4l4.1 2.8 2.2-2.7-4.1-2.8z"/>
<path class="c69" d="M560.8 135.2l4.2 2.6 2.2-2.8-4.2-2.5z"/>
<path class="c63" d="M565 137.8l4.1 2.4 2.2-2.7-4.1-2.5z"/>
<path class="c60" d="M569.1 140.2l4.2 2.4 4.2 2.4 4.2 2.3 2.1-2.8-4.1-2.3-4.2-2.4-4.2-2.3z"/>
<path class="c67" d="M581.7 147.3l4.2 2.2 2.1-2.7-4.2-2.3z"/>
<path class="c6b" d="M585.9 149.5l4.3 2.2 2.1-2.9-4.3-2z"/>
<path class="c55" d="M590.2 151.7l4.2 2 2.1-2.9-4.2-2z"/>
<path class="c5c" d="M594.4 153.7l4.3 1.8 2.1-2.8-4.3-1.9z"/>
<path class="c64" d="M598.7 155.5l4.3 1.8 2.1-2.9-4.3-1.7z"/>
<path class="c5e" d="M603 157.3l4.4 1.6 4.3 1.7 4.4 1.6 4.4 1.7 4.4 1.6 2-2.9-4.4-1.6-4.4-1.6-4.4-1.7-4.3-1.6-4.3-1.7z"/>
<path class="c66" d="M624.9 165.5l4.5 1.5 1.9-2.9-4.4-1.5z"/>
<path class="c5e" d="M461.4 77.3l3.9 1.4 2.6-2.4-3.8-1.4z"/>
<path class="c4f" d="M465.3 78.7l3.8 1.5 2.7-2.4-3.9-1.5z"/>
<path class="c5c" d="M469.1 80.2l3.9 1.8 2.7-2.5-3.9-1.7z"/>
<path class="c55" d="M473 82l4 1.8 2.6-2.5-3.9-1.8z"/>
<path class="c67" d="M477 83.8l3.9 2 4 2.1 2.6-2.5-4-2.1-3.9-2z"/>
<path class="c60" d="M484.9 87.9l4 2.2 2.6-2.5-4-2.2z"/>
<path class="c63" d="M488.9 90.1l4 2.4 2.5-2.6-3.9-2.3z"/>
<path class="c69" d="M492.9 92.5l4 2.5 2.6-2.6-4.1-2.5z"/>
<path class="c68" d="M496.9 95l4.1 2.6 4 2.7 2.5-2.5-4-2.7-4-2.7z"/>
<path class="c6a" d="M505 100.3l4.1 2.8 2.5-2.6-4.1-2.7z"/>
<path class="c5f" d="M509.1 103.1l4.1 2.8 4.1 2.8 4.1 2.8 4.1 2.9 4.1 3 2.4-2.7-4.1-2.9-4.1-2.9-4.1-2.9-4.1-2.7-4-2.8z"/>
<path class="c5d" d="M529.6 117.4l4.1 3 4.1 3 2.4-2.7-4.1-3-4.1-3z"/>
<path class="c5f" d="M537.8 123.4l4.2 3 4.1 2.9 4.1 3 4.2 2.9 2.3-2.8-4.2-2.9-4.1-2.9-4.1-3-4.1-2.9z"/>
<path class="c68" d="M554.4 135.2l4.1 2.8 2.3-2.8-4.1-2.8z"/>
<path class="c69" d="M558.5 138l4.2 2.6 2.3-2.8-4.2-2.6z"/>
<path class="c63" d="M562.7 140.6l4.2 2.4 2.2-2.8-4.1-2.4z"/>
<path class="c60" d="M566.9 143l4.2 2.4 4.2 2.4 4.2 2.4 2.2-2.9-4.2-2.3-4.2-2.4-4.2-2.4z"/>
<path class="c67" d="M579.5 150.2l4.3 2.2 2.1-2.9-4.2-2.2z"/>
<path class="c55" d="M583.8 152.4l4.2 2.1 4.3 2 2.1-2.8-4.2-2-4.3-2.2z"/>
<path class="c5c" d="M592.3 156.5l4.3 1.9 2.1-2.9-4.3-1.8z"/>
<path class="c64" d="M596.6 158.4l4.3 1.8 2.1-2.9-4.3-1.8z"/>
<path class="c5e" d="M600.9 160.2l4.4 1.7 4.4 1.6 4.4 1.7 4.4 1.6 4.4 1.6 2-2.9-4.4-1.6-4.4-1.7-4.4-1.6-4.3-1.7-4.4-1.6z"/>
<path class="c66" d="M622.9 168.4l4.5 1.6 2-3-4.5-1.5z"/>
<path class="c5e" d="M458.7 79.8l3.9 1.4 2.7-2.5-3.9-1.4z"/>
<path class="c4f" d="M462.6 81.2l3.8 1.6 2.7-2.6-3.8-1.5z"/>
<path class="c5c" d="M466.4 82.8l3.9 1.7 2.7-2.5-3.9-1.8z"/>
<path class="c55" d="M470.3 84.5l4 1.9 2.7-2.6-4-1.8z"/>
<path class="c67" d="M474.3 86.4l3.9 2 4 2.1 2.7-2.6-4-2.1-3.9-2z"/>
<path class="c60" d="M482.2 90.5l4 2.2 2.7-2.6-4-2.2z"/>
<path class="c63" d="M486.2 92.7l4.1 2.4 2.6-2.6-4-2.4z"/>
<path class="c69" d="M490.3 95.1l4 2.5 2.6-2.6-4-2.5z"/>
<path class="c68" d="M494.3 97.6l4.1 2.7 2.6-2.7-4.1-2.6z"/>
<path class="c62" d="M498.4 100.3l4.1 2.7 2.5-2.7-4-2.7z"/>
<path class="c5f" d="M502.5 103l4 2.8 4.1 2.8 4.1 2.8 4.2 2.9 4.1 2.9 4.1 3 2.5-2.8-4.1-3-4.1-2.9-4.1-2.8-4.1-2.8-4.1-2.8-4.1-2.8z"/>
<path class="c5d" d="M527.1 120.2l4.1 3 2.5-2.8-4.1-3z"/>
<path class="c5f" d="M531.2 123.2l4.2 3 4.1 3 4.2 2.9 4.2 3 4.1 3 2.4-2.9-4.2-2.9-4.1-3-4.1-2.9-4.2-3-4.1-3z"/>
<path class="c68" d="M552 138.1l4.2 2.8 2.3-2.9-4.1-2.8z"/>
<path class="c69" d="M556.2 140.9l4.2 2.6 2.3-2.9-4.2-2.6z"/>
<path class="c63" d="M560.4 143.5l4.2 2.4 2.3-2.9-4.2-2.4z"/>
<path class="c60" d="M564.6 145.9l4.2 2.4 4.2 2.4 4.3 2.4 2.2-2.9-4.2-2.4-4.2-2.4-4.2-2.4z"/>
<path class="c67" d="M577.3 153.1l4.2 2.3 2.3-3-4.3-2.2z"/>
<path class="c55" d="M581.5 155.4l4.3 2.1 4.3 2 2.2-3-4.3-2-4.2-2.1z"/>
<path class="c5c" d="M590.1 159.5l4.3 1.9 2.2-3-4.3-1.9z"/>
<path class="c4f" d="M594.4 161.4l4.4 1.8 2.1-3-4.3-1.8z"/>
<path class="c5e" d="M598.8 163.2l4.4 1.7 4.4 1.7 4.4 1.6 4.4 1.7 2.1-3.1-4.4-1.6-4.4-1.7-4.4-1.6-4.4-1.7z"/>
<path class="c66" d="M616.4 169.9l4.5 1.6 4.5 1.6 2-3.1-4.5-1.6-4.4-1.6z"/>
<path class="c5e" d="M455.9 82.5l3.9 1.4 2.8-2.7-3.9-1.4z"/>
<path class="c4f" d="M459.8 83.9l3.9 1.6 2.7-2.7-3.8-1.6z"/>
<path class="c5c" d="M463.7 85.5l3.9 1.7 2.7-2.7-3.9-1.7z"/>
<path class="c55" d="M467.6 87.2l3.9 1.9 2.8-2.7-4-1.9z"/>
<path class="c5b" d="M471.5 89.1l4 2.1 2.7-2.8-3.9-2z"/>
<path class="c67" d="M475.5 91.2l4 2.1 2.7-2.8-4-2.1z"/>
<path class="c60" d="M479.5 93.3l4 2.2 2.7-2.8-4-2.2z"/>
<path class="c63" d="M483.5 95.5l4.1 2.4 4 2.6 2.7-2.9-4-2.5-4.1-2.4z"/>
<path class="c68" d="M491.6 100.5l4.1 2.6 2.7-2.8-4.1-2.7z"/>
<path class="c62" d="M495.7 103.1l4.1 2.8 2.7-2.9-4.1-2.7z"/>
<path class="c5f" d="M499.8 105.9l4.1 2.8 4.1 2.8 4.2 2.8 4.1 2.9 4.1 3 4.2 2.9 2.5-2.9-4.1-3-4.1-2.9-4.2-2.9-4.1-2.8-4.1-2.8-4-2.8z"/>
<path class="c5d" d="M524.6 123.1l4.1 3.1 2.5-3-4.1-3z"/>
<path class="c5f" d="M528.7 126.2l4.2 3 4.2 3 4.2 2.9 4.1 3 4.2 3 2.4-3-4.1-3-4.2-3-4.2-2.9-4.1-3-4.2-3z"/>
<path class="c62" d="M549.6 141.1l4.2 2.8 2.4-3-4.2-2.8z"/>
<path class="c68" d="M553.8 143.9l4.2 2.7 2.4-3.1-4.2-2.6z"/>
<path class="c63" d="M558 146.6l4.3 2.4 2.3-3.1-4.2-2.4z"/>
<path class="c60" d="M562.3 149l4.2 2.5 4.2 2.4 4.3 2.4 2.3-3.2-4.3-2.4-4.2-2.4-4.2-2.4z"/>
<path class="c67" d="M575 156.3l4.3 2.2 2.2-3.1-4.2-2.3z"/>
<path class="c55" d="M579.3 158.5l4.3 2.1 4.3 2.1 2.2-3.2-4.3-2-4.3-2.1z"/>
<path class="c5c" d="M587.9 162.7l4.3 1.9 2.2-3.2-4.3-1.9z"/>
<path class="c4f" d="M592.2 164.6l4.4 1.8 2.2-3.2-4.4-1.8z"/>
<path class="c5e" d="M596.6 166.4l4.4 1.7 4.4 1.6 4.4 1.7 4.5 1.7 2.1-3.2-4.4-1.7-4.4-1.6-4.4-1.7-4.4-1.7z"/>
<path class="c66" d="M614.3 173.1l4.5 1.6 4.5 1.6 2.1-3.2-4.5-1.6-4.5-1.6z"/>
<path class="c5e" d="M453 85.3l3.9 1.4 2.9-2.8-3.9-1.4z"/>
<path class="c4f" d="M456.9 86.7l3.9 1.6 2.9-2.8-3.9-1.6z"/>
<path class="c5c" d="M460.8 88.3l4 1.7 2.8-2.8-3.9-1.7z"/>
<path class="c55" d="M464.8 90l3.9 1.9 2.8-2.8-3.9-1.9z"/>
<path class="c5b" d="M468.7 91.9l4 2.1 2.8-2.8-4-2.1z"/>
<path class="c67" d="M472.7 94l4 2.1 2.8-2.8-4-2.1z"/>
<path class="c60" d="M476.7 96.1l4.1 2.3 2.7-2.9-4-2.2z"/>
<path class="c63" d="M480.8 98.4l4 2.4 4.1 2.6 2.7-2.9-4-2.6-4.1-2.4z"/>
<path class="c62" d="M488.9 103.4l4.1 2.6 4.1 2.8 2.7-2.9-4.1-2.8-4.1-2.6z"/>
<path class="c5f" d="M497.1 108.8l4.1 2.8 4.2 2.8 4.1 2.9 4.2 2.9 4.1 3 4.2 3 4.2 3 4.2 3 4.2 3.1 4.2 2.9 4.2 3 4.2 3 2.4-3.1-4.2-3-4.1-3-4.2-2.9-4.2-3-4.2-3-4.1-3.1-4.2-2.9-4.1-3-4.1-2.9-4.2-2.8-4.1-2.8-4.1-2.8z"/>
<path class="c62" d="M547.2 144.2l4.2 2.8 2.4-3.1-4.2-2.8z"/>
<path class="c68" d="M551.4 147l4.2 2.7 2.4-3.1-4.2-2.7z"/>
<path class="c63" d="M555.6 149.7l4.2 2.5 2.5-3.2-4.3-2.4z"/>
<path class="c60" d="M559.8 152.2l4.3 2.5 4.3 2.4 4.2 2.4 2.4-3.2-4.3-2.4-4.2-2.4-4.2-2.5z"/>
<path class="c67" d="M572.6 159.5l4.3 2.2 2.4-3.2-4.3-2.2z"/>
<path class="c55" d="M576.9 161.7l4.3 2.2 4.4 2 2.3-3.2-4.3-2.1-4.3-2.1z"/>
<path class="c5c" d="M585.6 165.9l4.3 1.9 2.3-3.2-4.3-1.9z"/>
<path class="c4f" d="M589.9 167.8l4.4 1.8 2.3-3.2-4.4-1.8z"/>
<path class="c5e" d="M594.3 169.6l4.4 1.7 4.5 1.7 4.4 1.7 4.5 1.7 2.2-3.3-4.5-1.7-4.4-1.7-4.4-1.6-4.4-1.7z"/>
<path class="c66" d="M612.1 176.4l4.5 1.6 4.5 1.7 2.2-3.4-4.5-1.6-4.5-1.6z"/>
<path class="c5e" d="M450.1 88.1l3.9 1.4 2.9-2.8-3.9-1.4z"/>
<path class="c4f" d="M454 89.5l3.9 1.6 2.9-2.8-3.9-1.6z"/>
<path class="c5c" d="M457.9 91.1l4 1.8 2.9-2.9-4-1.7z"/>
<path class="c55" d="M461.9 92.9l3.9 1.9 2.9-2.9-3.9-1.9z"/>
<path class="c5b" d="M465.8 94.8l4 2 2.9-2.8-4-2.1z"/>
<path class="c67" d="M469.8 96.8l4.1 2.2 2.8-2.9-4-2.1z"/>
<path class="c60" d="M473.9 99l4 2.3 2.9-2.9-4.1-2.3z"/>
<path class="c63" d="M477.9 101.3l4.1 2.4 4.1 2.6 2.8-2.9-4.1-2.6-4-2.4z"/>
<path class="c62" d="M486.1 106.3l4.1 2.7 4.2 2.8 2.7-3-4.1-2.8-4.1-2.6z"/>
<path class="c5f" d="M494.4 111.8l4.1 2.8 4.2 2.9 4.1 2.8 4.2 2.9 4.2 3 4.2 3.1 4.2 3 4.2 3.1 4.2 3 4.2 3 4.2 3 4.2 3 2.6-3.2-4.2-3-4.2-3-4.2-2.9-4.2-3.1-4.2-3-4.2-3-4.2-3-4.1-3-4.2-2.9-4.1-2.9-4.2-2.8-4.1-2.8z"/>
<path class="c62" d="M544.6 147.4l4.3 2.8 2.5-3.2-4.2-2.8z"/>
<path class="c68" d="M548.9 150.2l4.2 2.7 2.5-3.2-4.2-2.7z"/>
<path class="c63" d="M553.1 152.9l4.3 2.6 2.4-3.3-4.2-2.5z"/>
<path class="c60" d="M557.4 155.5l4.2 2.5 4.3 2.4 4.3 2.4 2.4-3.3-4.2-2.4-4.3-2.4-4.3-2.5z"/>
<path class="c67" d="M570.2 162.8l4.3 2.2 2.4-3.3-4.3-2.2z"/>
<path class="c55" d="M574.5 165l4.4 2.1 2.3-3.2-4.3-2.2z"/>
<path class="c5c" d="M578.9 167.1l4.3 2.1 4.4 1.9 2.3-3.3-4.3-1.9-4.4-2z"/>
<path class="c4f" d="M587.6 171.1l4.4 1.8 2.3-3.3-4.4-1.8z"/>
<path class="c5e" d="M592 172.9l4.4 1.7 4.5 1.7 4.5 1.7 4.5 1.7 2.2-3.3-4.5-1.7-4.4-1.7-4.5-1.7-4.4-1.7z"/>
<path class="c66" d="M609.9 179.7l4.5 1.7 4.5 1.6 2.2-3.3-4.5-1.7-4.5-1.6z"/>
<path class="c5e" d="M447.1 90.9l3.9 1.4 3-2.8-3.9-1.4z"/>
<path class="c4f" d="M451 92.3l3.9 1.7 3-2.9-3.9-1.6z"/>
<path class="c5c" d="M454.9 94l4 1.8 3-2.9-4-1.8z"/>
<path class="c55" d="M458.9 95.8l4 1.9 2.9-2.9-3.9-1.9z"/>
<path class="c5b" d="M462.9 97.7l4 2.1 2.9-3-4-2z"/>
<path class="c67" d="M466.9 99.8l4.1 2.2 2.9-3-4.1-2.2z"/>
<path class="c60" d="M471 102l4 2.2 2.9-2.9-4-2.3z"/>
<path class="c63" d="M475 104.2l4.1 2.5 4.1 2.6 2.9-3-4.1-2.6-4.1-2.4z"/>
<path class="c62" d="M483.2 109.3l4.2 2.7 4.1 2.8 2.9-3-4.2-2.8-4.1-2.7z"/>
<path class="c5f" d="M491.5 114.8l4.2 2.8 4.2 2.9 4.1 2.9 4.2 2.9 4.2 3 4.2 3.1 4.3 3.1 4.2 3 4.2 3.1 4.3 3 4.2 3 4.2 3 2.6-3.2-4.2-3-4.2-3-4.2-3-4.2-3-4.2-3.1-4.2-3-4.2-3.1-4.2-3-4.2-2.9-4.1-2.8-4.2-2.9-4.1-2.8z"/>
<path class="c62" d="M542 150.6l4.3 2.9 2.6-3.3-4.3-2.8z"/>
<path class="c68" d="M546.3 153.5l4.3 2.7 2.5-3.3-4.2-2.7z"/>
<path class="c63" d="M550.6 156.2l4.2 2.6 4.3 2.5 2.5-3.3-4.2-2.5-4.3-2.6z"/>
<path class="c60" d="M559.1 161.3l4.3 2.5 2.5-3.4-4.3-2.4z"/>
<path class="c67" d="M563.4 163.8l4.4 2.3 4.3 2.3 2.4-3.4-4.3-2.2-4.3-2.4z"/>
<path class="c55" d="M572.1 168.4l4.3 2.1 2.5-3.4-4.4-2.1z"/>
<path class="c5c" d="M576.4 170.5l4.4 2 4.4 2 2.4-3.4-4.4-1.9-4.3-2.1z"/>
<path class="c4f" d="M585.2 174.5l4.4 1.8 2.4-3.4-4.4-1.8z"/>
<path class="c5e" d="M589.6 176.3l4.5 1.7 4.4 1.7 4.5 1.7 4.6 1.7 2.3-3.4-4.5-1.7-4.5-1.7-4.5-1.7-4.4-1.7z"/>
<path class="c66" d="M607.6 183.1l4.5 1.7 4.6 1.7 2.2-3.5-4.5-1.6-4.5-1.7z"/>
<path class="c5e" d="M444 93.8l3.9 1.5 3.1-3-3.9-1.4z"/>
<path class="c4f" d="M447.9 95.3l4 1.6 3-2.9-3.9-1.7z"/>
<path class="c5c" d="M451.9 96.9l3.9 1.8 3.1-2.9-4-1.8z"/>
<path class="c55" d="M455.8 98.7l4.1 2 3-3-4-1.9z"/>
<path class="c5b" d="M459.9 100.7l4 2 3-2.9-4-2.1z"/>
<path class="c67" d="M463.9 102.7l4.1 2.2 3-2.9-4.1-2.2z"/>
<path class="c60" d="M468 104.9l4 2.3 3-3-4-2.2z"/>
<path class="c63" d="M472 107.2l4.2 2.5 4.1 2.6 2.9-3-4.1-2.6-4.1-2.5z"/>
<path class="c68" d="M480.3 112.3l4.2 2.8 2.9-3.1-4.2-2.7z"/>
<path class="c62" d="M484.5 115.1l4.1 2.8 2.9-3.1-4.1-2.8z"/>
<path class="c5f" d="M488.6 117.9l4.2 2.9 4.2 2.8 4.2 2.9 4.2 3 4.2 3 4.3 3.1 4.2 3.1 4.3 3.1 4.2 3 4.3 3.1 4.2 3 4.3 3 2.6-3.3-4.2-3-4.2-3-4.3-3-4.2-3.1-4.2-3-4.3-3.1-4.2-3.1-4.2-3-4.2-2.9-4.1-2.9-4.2-2.9-4.2-2.8z"/>
<path class="c62" d="M539.4 153.9l4.3 2.9 2.6-3.3-4.3-2.9z"/>
<path class="c68" d="M543.7 156.8l4.3 2.7 2.6-3.3-4.3-2.7z"/>
<path class="c63" d="M548 159.5l4.3 2.7 4.3 2.5 2.5-3.4-4.3-2.5-4.2-2.6z"/>
<path class="c60" d="M556.6 164.7l4.3 2.5 2.5-3.4-4.3-2.5z"/>
<path class="c67" d="M560.9 167.2l4.3 2.3 2.6-3.4-4.4-2.3z"/>
<path class="c5b" d="M565.2 169.5l4.4 2.3 2.5-3.4-4.3-2.3z"/>
<path class="c55" d="M569.6 171.8l4.3 2.1 2.5-3.4-4.3-2.1z"/>
<path class="c5c" d="M573.9 173.9l4.4 2.1 2.5-3.5-4.4-2z"/>
<path class="c64" d="M578.3 176l4.5 1.9 2.4-3.4-4.4-2z"/>
<path class="c4f" d="M582.8 177.9l4.4 1.8 2.4-3.4-4.4-1.8z"/>
<path class="c5e" d="M587.2 179.7l4.5 1.7 4.5 1.8 4.5 1.7 4.5 1.7 2.4-3.5-4.6-1.7-4.5-1.7-4.4-1.7-4.5-1.7z"/>
<path class="c66" d="M605.2 186.6l4.6 1.7 4.6 1.7 2.3-3.5-4.6-1.7-4.5-1.7z"/>
<path class="c5e" d="M440.8 96.8l4 1.4 3.1-2.9-3.9-1.5z"/>
<path class="c4f" d="M444.8 98.2l3.9 1.7 3.2-3-4-1.6z"/>
<path class="c5c" d="M448.7 99.9l4 1.8 3.1-3-3.9-1.8z"/>
<path class="c55" d="M452.7 101.7l4 2 3.2-3-4.1-2z"/>
<path class="c5b" d="M456.7 103.7l4.1 2.1 3.1-3.1-4-2z"/>
<path class="c67" d="M460.8 105.8l4.1 2.2 3.1-3.1-4.1-2.2z"/>
<path class="c60" d="M464.9 108l4.1 2.3 3-3.1-4-2.3z"/>
<path class="c63" d="M469 110.3l4.1 2.5 3.1-3.1-4.2-2.5z"/>
<path class="c69" d="M473.1 112.8l4.2 2.6 3-3.1-4.1-2.6z"/>
<path class="c68" d="M477.3 115.4l4.2 2.8 3-3.1-4.2-2.8z"/>
<path class="c62" d="M481.5 118.2l4.2 2.8 2.9-3.1-4.1-2.8z"/>
<path class="c5f" d="M485.7 121l4.2 2.9 4.2 2.9 4.2 2.9 4.2 3 4.3 3.1 4.2 3.1 4.3 3.1 4.2 3.1 4.3 3.1 4.3 3 4.3 3 4.3 3 2.7-3.3-4.3-3-4.2-3-4.3-3.1-4.2-3-4.3-3.1-4.2-3.1-4.3-3.1-4.2-3-4.2-3-4.2-2.9-4.2-2.8-4.2-2.9z"/>
<path class="c62" d="M536.7 157.2l4.3 2.9 2.7-3.3-4.3-2.9z"/>
<path class="c68" d="M541 160.1l4.3 2.8 2.7-3.4-4.3-2.7z"/>
<path class="c63" d="M545.3 162.9l4.3 2.7 4.3 2.6 2.7-3.5-4.3-2.5-4.3-2.7z"/>
<path class="c60" d="M553.9 168.2l4.4 2.5 2.6-3.5-4.3-2.5z"/>
<path class="c67" d="M558.3 170.7l4.3 2.3 2.6-3.5-4.3-2.3z"/>
<path class="c5b" d="M562.6 173l4.4 2.3 2.6-3.5-4.4-2.3z"/>
<path class="c55" d="M567 175.3l4.4 2.1 2.5-3.5-4.3-2.1z"/>
<path class="c5c" d="M571.4 177.4l4.4 2.1 2.5-3.5-4.4-2.1z"/>
<path class="c64" d="M575.8 179.5l4.5 1.9 2.5-3.5-4.5-1.9z"/>
<path class="c4f" d="M580.3 181.4l4.4 1.8 2.5-3.5-4.4-1.8z"/>
<path class="c5e" d="M584.7 183.2l4.5 1.8 4.5 1.7 4.5 1.8 4.6 1.7 2.4-3.6-4.5-1.7-4.5-1.7-4.5-1.8-4.5-1.7z"/>
<path class="c66" d="M602.8 190.2l4.6 1.7 4.6 1.7 2.4-3.6-4.6-1.7-4.6-1.7z"/>
<path class="c5e" d="M437.6 99.8l3.9 1.5 3.3-3.1-4-1.4z"/>
<path class="c4f" d="M441.5 101.3l4 1.6 3.2-3-3.9-1.7z"/>
<path class="c5c" d="M445.5 102.9l4 1.9 3.2-3.1-4-1.8z"/>
<path class="c55" d="M449.5 104.8l4.1 1.9 3.1-3-4-2z"/>
<path class="c67" d="M453.6 106.7l4 2.2 4.2 2.2 3.1-3.1-4.1-2.2-4.1-2.1z"/>
<path class="c60" d="M461.8 111.1l4.1 2.3 3.1-3.1-4.1-2.3z"/>
<path class="c63" d="M465.9 113.4l4.1 2.5 3.1-3.1-4.1-2.5z"/>
<path class="c69" d="M470 115.9l4.2 2.7 3.1-3.2-4.2-2.6z"/>
<path class="c68" d="M474.2 118.6l4.2 2.8 3.1-3.2-4.2-2.8z"/>
<path class="c62" d="M478.4 121.4l4.2 2.8 3.1-3.2-4.2-2.8z"/>
<path class="c5f" d="M482.6 124.2l4.2 3 4.3 2.9 4.2 2.9 4.3 3 4.2 3.1 4.3 3.1 4.3 3.1 4.3 3.2 4.3 3.1 4.3 3 4.3 3 4.3 3.1 2.8-3.5-4.3-3-4.3-3-4.3-3-4.3-3.1-4.2-3.1-4.3-3.1-4.2-3.1-4.3-3.1-4.2-3-4.2-2.9-4.2-2.9-4.2-2.9z"/>
<path class="c68" d="M533.9 160.7l4.3 2.9 4.4 2.8 2.7-3.5-4.3-2.8-4.3-2.9z"/>
<path class="c63" d="M542.6 166.4l4.3 2.7 4.3 2.6 2.7-3.5-4.3-2.6-4.3-2.7z"/>
<path class="c60" d="M551.2 171.7l4.4 2.5 2.7-3.5-4.4-2.5z"/>
<path class="c67" d="M555.6 174.2l4.4 2.4 2.6-3.6-4.3-2.3z"/>
<path class="c5b" d="M560 176.6l4.4 2.2 2.6-3.5-4.4-2.3z"/>
<path class="c55" d="M564.4 178.8l4.4 2.2 2.6-3.6-4.4-2.1z"/>
<path class="c5c" d="M568.8 181l4.4 2 2.6-3.5-4.4-2.1z"/>
<path class="c64" d="M573.2 183l4.5 2 2.6-3.6-4.5-1.9z"/>
<path class="c5e" d="M577.7 185l4.5 1.8 4.5 1.8 4.5 1.8 4.6 1.7 4.5 1.8 2.5-3.7-4.6-1.7-4.5-1.8-4.5-1.7-4.5-1.8-4.4-1.8z"/>
<path class="c66" d="M600.3 193.9l4.6 1.7 4.7 1.7 2.4-3.7-4.6-1.7-4.6-1.7z"/>
<path class="c5e" d="M434.3 102.8l3.9 1.5 3.3-3-3.9-1.5z"/>
<path class="c4f" d="M438.2 104.3l4 1.7 3.3-3.1-4-1.6z"/>
<path class="c5c" d="M442.2 106l4.1 1.9 3.2-3.1-4-1.9z"/>
<path class="c55" d="M446.3 107.9l4 2 3.3-3.2-4.1-1.9z"/>
<path class="c67" d="M450.3 109.9l4.1 2.1 4.1 2.3 3.3-3.2-4.2-2.2-4-2.2z"/>
<path class="c60" d="M458.5 114.3l4.2 2.3 3.2-3.2-4.1-2.3z"/>
<path class="c63" d="M462.7 116.6l4.1 2.6 3.2-3.3-4.1-2.5z"/>
<path class="c69" d="M466.8 119.2l4.2 2.6 3.2-3.2-4.2-2.7z"/>
<path class="c68" d="M471 121.8l4.3 2.8 3.1-3.2-4.2-2.8z"/>
<path class="c62" d="M475.3 124.6l4.2 2.9 3.1-3.3-4.2-2.8z"/>
<path class="c5f" d="M479.5 127.5l4.2 2.9 4.3 3 4.3 2.9 4.2 3.1 4.3 3.1 4.3 3.1 4.3 3.1 4.3 3.2 4.4 3.1 4.3 3.1 4.3 3 4.4 3.1 2.8-3.5-4.3-3.1-4.3-3-4.3-3-4.3-3.1-4.3-3.2-4.3-3.1-4.3-3.1-4.2-3.1-4.3-3-4.2-2.9-4.3-2.9-4.2-3z"/>
<path class="c68" d="M531.1 164.2l4.3 2.9 4.3 2.9 2.9-3.6-4.4-2.8-4.3-2.9z"/>
<path class="c63" d="M539.7 170l4.4 2.7 4.4 2.7 2.7-3.7-4.3-2.6-4.3-2.7z"/>
<path class="c60" d="M548.5 175.4l4.4 2.5 2.7-3.7-4.4-2.5z"/>
<path class="c67" d="M552.9 177.9l4.4 2.3 2.7-3.6-4.4-2.4z"/>
<path class="c55" d="M557.3 180.2l4.4 2.3 4.4 2.1 2.7-3.6-4.4-2.2-4.4-2.2z"/>
<path class="c5c" d="M566.1 184.6l4.5 2.1 2.6-3.7-4.4-2z"/>
<path class="c64" d="M570.6 186.7l4.5 2 2.6-3.7-4.5-2z"/>
<path class="c5e" d="M575.1 188.7l4.5 1.8 4.5 1.8 4.5 1.8 4.6 1.7 2.6-3.7-4.6-1.7-4.5-1.8-4.5-1.8-4.5-1.8z"/>
<path class="c66" d="M593.2 195.8l4.6 1.8 4.7 1.8 4.6 1.7 2.5-3.8-4.7-1.7-4.6-1.7-4.5-1.8z"/>
<path class="c5e" d="M430.9 106l3.9 1.5 3.4-3.2-3.9-1.5z"/>
<path class="c4f" d="M434.8 107.5l4.1 1.7 3.3-3.2-4-1.7z"/>
<path class="c5c" d="M438.9 109.2l4 1.8 3.4-3.1-4.1-1.9z"/>
<path class="c55" d="M442.9 111l4.1 2.1 3.3-3.2-4-2z"/>
<path class="c67" d="M447 113.1l4.1 2.1 4.1 2.3 3.3-3.2-4.1-2.3-4.1-2.1z"/>
<path class="c60" d="M455.2 117.5l4.2 2.4 3.3-3.3-4.2-2.3z"/>
<path class="c63" d="M459.4 119.9l4.2 2.5 3.2-3.2-4.1-2.6z"/>
<path class="c69" d="M463.6 122.4l4.2 2.7 3.2-3.3-4.2-2.6z"/>
<path class="c68" d="M467.8 125.1l4.3 2.8 3.2-3.3-4.3-2.8z"/>
<path class="c62" d="M472.1 127.9l4.2 3 3.2-3.4-4.2-2.9z"/>
<path class="c5f" d="M476.3 130.9l4.3 2.9 4.3 3 4.2 3 4.3 3 4.4 3.1 4.3 3.2 4.3 3.1 4.3 3.2 4.4 3.1 4.3 3.1 4.4 3.1 4.3 3 3-3.5-4.4-3.1-4.3-3-4.3-3.1-4.4-3.1-4.3-3.2-4.3-3.1-4.3-3.1-4.3-3.1-4.2-3.1-4.3-2.9-4.3-3-4.2-2.9z"/>
<path class="c68" d="M528.1 167.7l4.4 3 4.4 2.9 2.8-3.6-4.3-2.9-4.3-2.9z"/>
<path class="c69" d="M536.9 173.6l4.4 2.8 2.8-3.7-4.4-2.7z"/>
<path class="c63" d="M541.3 176.4l4.4 2.7 2.8-3.7-4.4-2.7z"/>
<path class="c60" d="M545.7 179.1l4.4 2.5 2.8-3.7-4.4-2.5z"/>
<path class="c67" d="M550.1 181.6l4.4 2.3 2.8-3.7-4.4-2.3z"/>
<path class="c55" d="M554.5 183.9l4.4 2.3 4.5 2.2 2.7-3.8-4.4-2.1-4.4-2.3z"/>
<path class="c5c" d="M563.4 188.4l4.5 2 2.7-3.7-4.5-2.1z"/>
<path class="c64" d="M567.9 190.4l4.5 2 2.7-3.7-4.5-2z"/>
<path class="c5e" d="M572.4 192.4l4.5 1.9 4.5 1.8 4.6 1.8 4.6 1.8 2.6-3.9-4.6-1.7-4.5-1.8-4.5-1.8-4.5-1.8z"/>
<path class="c66" d="M590.6 199.7l4.6 1.7 4.7 1.8 4.7 1.8 2.5-3.9-4.6-1.7-4.7-1.8-4.6-1.8z"/>
<path class="c5e" d="M427.4 109.2l4 1.5 3.4-3.2-3.9-1.5z"/>
<path class="c4f" d="M431.4 110.7l4 1.7 3.5-3.2-4.1-1.7z"/>
<path class="c5c" d="M435.4 112.4l4.1 1.9 3.4-3.3-4-1.8z"/>
<path class="c55" d="M439.5 114.3l4.1 2 3.4-3.2-4.1-2.1z"/>
<path class="c67" d="M443.6 116.3l4.1 2.2 4.2 2.3 3.3-3.3-4.1-2.3-4.1-2.1z"/>
<path class="c60" d="M451.9 120.8l4.2 2.4 3.3-3.3-4.2-2.4z"/>
<path class="c63" d="M456.1 123.2l4.2 2.6 3.3-3.4-4.2-2.5z"/>
<path class="c69" d="M460.3 125.8l4.2 2.7 3.3-3.4-4.2-2.7z"/>
<path class="c68" d="M464.5 128.5l4.3 2.8 3.3-3.4-4.3-2.8z"/>
<path class="c62" d="M468.8 131.3l4.2 3 3.3-3.4-4.2-3z"/>
<path class="c5f" d="M473 134.3l4.3 2.9 4.3 3 4.3 3 4.4 3.1 4.3 3.1 4.3 3.2 4.4 3.2 4.4 3.2 4.3 3.1 4.4 3.2 4.4 3 4.4 3.1 2.9-3.7-4.3-3-4.4-3.1-4.3-3.1-4.4-3.1-4.3-3.2-4.3-3.1-4.3-3.2-4.4-3.1-4.3-3-4.2-3-4.3-3-4.3-2.9z"/>
<path class="c68" d="M525.2 171.4l4.3 3 4.4 2.9 3-3.7-4.4-2.9-4.4-3z"/>
<path class="c69" d="M533.9 177.3l4.5 2.8 2.9-3.7-4.4-2.8z"/>
<path class="c63" d="M538.4 180.1l4.4 2.7 2.9-3.7-4.4-2.7z"/>
<path class="c60" d="M542.8 182.8l4.4 2.5 2.9-3.7-4.4-2.5z"/>
<path class="c67" d="M547.2 185.3l4.4 2.4 2.9-3.8-4.4-2.3z"/>
<path class="c55" d="M551.6 187.7l4.5 2.3 4.5 2.2 2.8-3.8-4.5-2.2-4.4-2.3z"/>
<path class="c5c" d="M560.6 192.2l4.5 2.1 2.8-3.9-4.5-2z"/>
<path class="c64" d="M565.1 194.3l4.5 2 2.8-3.9-4.5-2z"/>
<path class="c5e" d="M569.6 196.3l4.6 1.8 4.5 1.8 4.6 1.8 4.6 1.9 2.7-3.9-4.6-1.8-4.6-1.8-4.5-1.8-4.5-1.9z"/>
<path class="c66" d="M587.9 203.6l4.7 1.8 4.7 1.8 4.7 1.8 2.6-4-4.7-1.8-4.7-1.8-4.6-1.7z"/>
<path class="c5e" d="M423.8 112.4l4 1.6 3.6-3.3-4-1.5z"/>
<path class="c4f" d="M427.8 114l4.1 1.7 3.5-3.3-4-1.7z"/>
<path class="c5c" d="M431.9 115.7l4.1 1.9 3.5-3.3-4.1-1.9z"/>
<path class="c55" d="M436 117.6l4.1 2.1 3.5-3.4-4.1-2z"/>
<path class="c67" d="M440.1 119.7l4.1 2.2 4.2 2.3 3.5-3.4-4.2-2.3-4.1-2.2z"/>
<path class="c60" d="M448.4 124.2l4.2 2.4 3.5-3.4-4.2-2.4z"/>
<path class="c63" d="M452.6 126.6l4.3 2.6 3.4-3.4-4.2-2.6z"/>
<path class="c69" d="M456.9 129.2l4.2 2.7 3.4-3.4-4.2-2.7z"/>
<path class="c68" d="M461.1 131.9l4.3 2.9 3.4-3.5-4.3-2.8z"/>
<path class="c62" d="M465.4 134.8l4.3 2.9 3.3-3.4-4.2-3z"/>
<path class="c5f" d="M469.7 137.7l4.3 3 4.3 3.1 4.4 3 4.3 3.1 4.4 3.1 4.3 3.2 4.4 3.2 4.4 3.2 4.4 3.2 4.4 3.2 4.4 3 4.4 3.1 3.1-3.7-4.4-3.1-4.4-3-4.4-3.2-4.3-3.1-4.4-3.2-4.4-3.2-4.3-3.2-4.3-3.1-4.4-3.1-4.3-3-4.3-3-4.3-2.9z"/>
<path class="c68" d="M522.1 175.1l4.4 3 4.4 3 3-3.8-4.4-2.9-4.3-3z"/>
<path class="c69" d="M530.9 181.1l4.5 2.9 3-3.9-4.5-2.8z"/>
<path class="c63" d="M535.4 184l4.4 2.7 3-3.9-4.4-2.7z"/>
<path class="c60" d="M539.8 186.7l4.5 2.5 2.9-3.9-4.4-2.5z"/>
<path class="c67" d="M544.3 189.2l4.4 2.4 2.9-3.9-4.4-2.4z"/>
<path class="c55" d="M548.7 191.6l4.5 2.3 2.9-3.9-4.5-2.3z"/>
<path class="c5c" d="M553.2 193.9l4.5 2.2 4.5 2.1 2.9-3.9-4.5-2.1-4.5-2.2z"/>
<path class="c64" d="M562.2 198.2l4.6 2 2.8-3.9-4.5-2z"/>
<path class="c5e" d="M566.8 200.2l4.6 1.9 4.6 1.8 4.6 1.8 4.6 1.8 2.7-3.9-4.6-1.9-4.6-1.8-4.5-1.8-4.6-1.8z"/>
<path class="c66" d="M585.2 207.5l4.7 1.9 4.7 1.8 4.7 1.8 2.7-4-4.7-1.8-4.7-1.8-4.7-1.8z"/>
<path d="M423.8 112.4l55.5-51.6 10.7-10.6 8.4-9 9.5-11.6 3.4-4.8 2.5-4.2 1.7-3.1 1.2-2.9 2.6-10.9 M423.8 112.4l8.1 3.3 8.2 4 10.4 5.7 8.5 5.1 8.5 5.8 16.3 11.2 25.1 18.3 13.2 9.3 11.1 7.4 7.7 4.8 12.3 6.6 11.3 5.3 8 3.3 26.8 10.5 M433.9 116.6l54.8-52.3 10.6-10.7 8.9-9.8 9.3-11.5 3.3-4.8 2.5-4.2 2.6-5.4 2.8-11.8 M431.6 105.3l8 3.2 8.1 3.9 9.3 5 8.3 5 9.6 6.3 16 11.1 24.8 18 14.2 9.9 10.9 7.2 7.7 4.6 11 5.9 12.3 5.7 15.9 6.4 17.4 6.7 M444.2 121.9l54.1-53.1 11.1-11.5 8.7-9.9 9.9-12.6 3.1-4.7 2.4-4.1 1.7-3.8 3-13.5 M439.2 98.3l7.9 3.1 8 3.8 10.2 5.5 8.3 5 8.4 5.5 15.8 11 24.6 17.7 13.9 9.8 9.7 6.4 8.7 5.2 11 5.8 12.1 5.7 15.8 6.2 17.2 6.5 M454.7 127.9l54.8-55.4 10.7-11.5 8.9-10.5 5.9-7.6 3.5-4.8 2.9-4.6 2.5-4.7 .7-1.7 3.3-16.2 M446.5 91.5l7.9 3 7.9 3.7 9.1 4.9 8.2 4.8 9.3 6 15.7 10.8 24.2 17.5 14.9 10.5 8.5 5.4 9.7 5.7 10.8 5.7 11 5.1 15.5 6.2 17 6.3 M465.4 134.8l56.7-59.2 11.8-13.3 9.8-12.4 3.1-4.4 2.8-4.2 2.4-4.1 1.8-3.7 3.7-19.9 M453.7 84.7l7.7 3 7.9 3.6 9 4.8 8.1 4.7 9.3 6 15.4 10.6 38.7 27.6 7.4 4.7 11.7 6.7 10.7 5.7 10.8 5 15.5 6 15.7 5.8 M476.2 142.2l57.1-61.5 11.4-13.3 9.7-12.7 5.4-8.1 3.5-6.8 4.1-24.1 M460.6 78.1l6.7 2.5 7.9 3.5 9.9 5.1 8 4.7 9.1 5.9 15.3 10.4 38.3 27.3 7.3 4.6 13.6 7.8 9.6 5 9.6 4.5 15.3 5.9 15.6 5.7 M487 149.9l18.3-20.2 14.1-16 16.1-17.6 8.9-10.2 11.5-13.8 9.7-13.1 4-6.4 3.3-6.2 4.4-28.1 M467.4 71.9l7.6 2.9 7.8 3.5 8.8 4.6 8 4.5 9 5.9 15.1 10.2 37.8 26.9 7.3 4.6 13.5 7.7 9.4 4.9 9.6 4.4 15.1 5.8 15.4 5.6 M497.9 157.8l17.9-20.5 13.9-16.2 14.4-16.2 11.4-13.4 11.1-13.7 6.2-8.5 3.8-5.5 4-6.7 1.8-3.6 .3-.9 4.6-31.7 M473.9 65.9l7.6 2.8 7.7 3.4 8.8 4.5 7.8 4.5 9 5.7 14.9 10.2 37.4 26.5 7.2 4.5 13.4 7.7 9.3 4.8 9.5 4.3 15 5.8 15.2 5.4 M508.9 165.8l17.6-20.8 13.5-16.4 14.9-17.3 11.1-13.4 11.2-14.5 6.1-8.3 4.2-6.4 3.3-5.6 1.2-2.6 .3-.9 5.1-36 M480.2 59.9l7.6 2.7 7.6 3.4 8.7 4.4 7.8 4.5 8.8 5.6 14.9 10.1 22.9 16.4 14.1 9.8 8.1 5 12.2 7 9.3 4.8 10.4 4.7 14.9 5.6 14 4.9 M519.9 173.6l30.5-37.6 15.3-18.4 10.2-12.9 11.1-14.7 6.7-9.5 4.4-6.9 3.1-5.5 .7-2 5.7-39.9 M486.3 53.9l7.5 2.7 7.6 3.3 8.6 4.4 7.7 4.4 8.8 5.6 14.7 9.9 22.7 16.2 13.9 9.7 9.1 5.6 12.1 6.9 9.2 4.7 9.3 4.1 14.7 5.6 14 4.8 M530.9 181.1l30-38.2 16.3-20.4 9.8-12.8 7.4-10 6.7-9.5 7-10.9 2.8-5 .7-1.9 6-38.7 M492.1 48l7.5 2.6 7.5 3.3 8.5 4.2 7.7 4.4 7.7 4.9 14.6 9.8 23.5 16.8 12.8 8.8 10 6.3 12 6.9 8.1 4.1 10.3 4.6 14.6 5.5 13.8 4.7 M542 188l29.4-39.1 16-20.5 11.9-15.7 11.2-15.8 7.1-11 2.8-5.1 1-2.4 6.1-35.9 M497.7 42l7.4 2.6 7.4 3.2 8.5 4.2 7.7 4.3 7.6 4.8 14.5 9.8 22.4 16 11.7 8 12.8 8.2 11 6.3 9 4.6 10.2 4.5 13.5 5.1 13.7 4.6 M553.2 193.9l28.8-39.2 16.3-21.6 11.6-15.7 10.1-14.4 7.5-11.6 2.8-5 1-2.3 6.1-33.2 M502.9 35.9l7.4 2.5 7.4 3.1 8.5 4.1 7.6 4.3 7.6 4.8 14.4 9.8 20.2 14.6 7.8 5.3 18.6 12.1 10.9 6.4 8 4.1 12.1 5.3 12.4 4.7 13.7 4.7 M564.5 199.2l55-76.3 11-15.9 7.3-11.4 2.7-4.8 .8-1.7 6.1-29.4 M507.8 29.7l7.4 2.5 7.4 3.1 9.4 4.6 7.5 4.3 7.6 4.9 13.4 9 20.2 14.5 7.7 5.4 19.5 12.6 10.8 6.3 8 4 11.1 4.9 12.3 4.7 13.6 4.7 M576 203.9l55.9-79.8 9.2-13.5 6.8-10.8 3.5-6.3 5.8-24.3 M512.4 23.1l7.4 2.4 7.4 3.2 9.3 4.6 7.6 4.3 7.5 4.8 13.4 8.9 20.1 14.6 7.7 5.3 18.4 12 11.8 6.9 8 4.1 11 4.9 12.3 4.8 13.5 4.9 M587.5 208.5l27.1-40.1 30.1-44 7.1-10.6 6.1-9.5 3.7-6.5 5.3-18.2 M516.6 14.9l7.4 2.5 7.4 3.2 11.2 5.7 7.6 4.4 7.6 4.9 11.4 7.7 21.1 15.5 7.7 5.4 16.5 10.6 12.7 7.6 8 4.2 9 4.3 14.2 6 13.5 5.3 M599.3 213l26.5-40.5 33.8-51 9.3-14.4 3.1-5.1 4.7-12.2 M610.7 27.1l11.8 11.2 12.9 10.9 13 11.4 12.7 12.5 11.6 12.9 4 3.8" fill="none" stroke="#3a3f44" stroke-width=".7" stroke-linejoin="round"/>
<path d="M423.8 112.4l8.1 3.3 8.2 4 10.4 5.7 8.5 5.1 8.5 5.8 16.3 11.2 25.1 18.3 13.2 9.3 11.1 7.4 7.7 4.8 12.3 6.6 11.3 5.3 8 3.3 26.8 10.5 M599.3 213l26.5-40.5 33.8-51 9.3-14.4 3.1-5.1 4.7-12.2 M520.3 2.4l89.3 24.3 1.1 .4 11.8 11.2 12.9 10.9 13 11.4 12.7 12.5 11.6 12.9 4 3.8 M423.8 112.4l55.5-51.6 10.7-10.6 9-9.6 9.3-11.5 3-4.3 2.5-4.2 2.6-5.3 2.9-11.6 1-1.3" fill="none" stroke="#2a3038" stroke-width=".7"/>
<path d="M419.5 152.8l179.3 69.6 M598.8 222.4l77.5-118 M676.3 104.4l-4.3-1.3 M449.1 125.2l-29.6 27.6 M409.7 88.5l192.8 67.2 M602.5 155.7l81.8-112 M684.3 43.7l-164.3-44.3 M520 -.6l-110.3 89.1 M419.5 152.8l-9.8-64.3 M598.8 222.4l3.7-66.7 M676.3 104.4l8-60.7 M520.1 2.2l-.1-2.8" fill="none" stroke="#7d7d7d" stroke-width=".75"/>
<path d="M424.3 154.7L428.0 151.2M451.8 165.4L454.0 163.2M480.3 176.4L483.8 172.7M510.0 187.9L511.9 185.6M540.7 199.9L543.9 195.8M572.6 212.3L574.4 209.7M599.9 220.7L594.0 218.3M614.2 198.9L610.7 197.6M627.5 178.7L621.8 176.6M639.9 159.8L636.6 158.6M651.5 142.1L646.1 140.3M662.4 125.5L659.2 124.5M672.6 110.0L667.5 108.4M419.2 151.3L424.1 153.2M418.4 146.2L421.4 147.3M417.7 141.0L420.6 142.1M416.9 135.7L419.8 136.8M416.0 130.4L421.0 132.2M415.2 125.0L418.2 126.1M414.4 119.5L417.4 120.6M413.6 114.0L416.6 115.1M412.7 108.5L417.7 110.3M411.8 102.8L414.9 103.9M411.0 97.1L414.0 98.2" stroke="#555" stroke-width=".6" fill="none"/>
<path class="c66" d="M532.3 316l3.3 .9 3.2 1 3.3 1 3.3 1 3.4 1 3.3 1 3.3 1 3.4 1 3.4 1 3.4 1.1 3.4 1 3.4 1 3.4 1 3.5 1.1 3.4 1 3.5 1.1 3.5 1 3.5 1.1 3.6 1 3.5 1.1 3.6 1.1 3.6 1.1 3.6 1 3.6 1.1 3.6 1.1 3.6 1.1 3.7 1.1 3.7 1.1 3.7 1.1 3.7 1.1 3.7 1.2 3.8 1.1 3.7 1.1 3.8 1.2 3.8 1.1 3.8 1.2 3.9 1.1 3.8 1.2 3.9 1.1 3.9 1.2 .1-.1-3.9-1.2-3.9-1.2-3.8-1.1-3.9-1.2-3.8-1.1-3.8-1.2-3.8-1.1-3.7-1.1-3.8-1.2-3.7-1.1-3.7-1.1-3.7-1.1-3.7-1.1-3.6-1.1-3.7-1.1-3.6-1.1-3.6-1.1-3.6-1.1-3.6-1.1-3.6-1-3.5-1.1-3.5-1-3.6-1.1-3.5-1.1-3.4-1-3.5-1-3.5-1.1-3.4-1-3.4-1-3.4-1.1-3.4-1-3.4-1-3.3-1-3.4-1-3.3-1-3.3-1-3.3-1-3.3-1-3.3-1-3.3-1z"/>
<path class="c66" d="M532.1 316.2l3.2 1 3.3 1 3.3 1 3.3 1 3.3 1 3.3 1 3.4 1 3.3 1 3.4 1 3.4 1 3.4 1.1 3.4 1 3.5 1 3.4 1.1 3.5 1 3.5 1 3.5 1.1 3.5 1.1 3.5 1 3.6 1.1 3.6 1.1 3.5 1 3.6 1.1 3.6 1.1 3.7 1.1 3.6 1.1 3.7 1.1 3.7 1.1 3.7 1.1 3.7 1.1 3.7 1.2 3.8 1.1 3.7 1.1 3.8 1.2 3.8 1.1 3.8 1.2 3.9 1.1 3.8 1.2 3.9 1.1 3.9 1.2 .2-.3-3.9-1.2-3.9-1.1-3.8-1.2-3.9-1.1-3.8-1.2-3.8-1.1-3.8-1.2-3.7-1.1-3.8-1.1-3.7-1.2-3.7-1.1-3.7-1.1-3.7-1.1-3.7-1.1-3.6-1.1-3.6-1.1-3.6-1.1-3.6-1-3.6-1.1-3.6-1.1-3.5-1.1-3.6-1-3.5-1.1-3.5-1-3.5-1.1-3.4-1-3.5-1.1-3.4-1-3.4-1-3.4-1-3.4-1.1-3.4-1-3.4-1-3.3-1-3.3-1-3.4-1-3.3-1-3.3-1-3.2-1-3.3-.9z"/>
<path class="c66" d="M531.7 316.6l3.3 .9 3.2 1 3.3 1 3.3 1 3.4 1 3.3 1 3.3 1 3.4 1 3.4 1.1 3.4 1 3.4 1 3.4 1 3.4 1.1 3.5 1 3.5 1.1 3.5 1 3.5 1.1 3.5 1 3.5 1.1 3.6 1.1 3.5 1 3.6 1.1 3.6 1.1 3.6 1.1 3.7 1.1 3.6 1.1 3.7 1.1 3.7 1.1 3.7 1.1 3.7 1.1 3.7 1.2 3.8 1.1 3.7 1.1 3.8 1.2 3.8 1.1 3.9 1.2 3.8 1.1 3.9 1.2 3.8 1.1 3.9 1.2 .3-.4-3.9-1.2-3.9-1.1-3.8-1.2-3.9-1.1-3.8-1.2-3.8-1.1-3.8-1.2-3.7-1.1-3.8-1.1-3.7-1.2-3.7-1.1-3.7-1.1-3.7-1.1-3.7-1.1-3.6-1.1-3.7-1.1-3.6-1.1-3.6-1.1-3.5-1-3.6-1.1-3.6-1.1-3.5-1-3.5-1.1-3.5-1.1-3.5-1-3.5-1-3.4-1.1-3.5-1-3.4-1-3.4-1.1-3.4-1-3.4-1-3.3-1-3.4-1-3.3-1-3.3-1-3.3-1-3.3-1-3.3-1-3.2-1z"/>
<path class="c66" d="M531.3 317l3.2 1 3.3 1 3.3 1 3.3 .9 3.3 1.1 3.4 1 3.3 1 3.4 1 3.4 1 3.4 1 3.4 1.1 3.4 1 3.4 1 3.5 1.1 3.5 1 3.5 1.1 3.5 1 3.5 1.1 3.5 1.1 3.6 1 3.5 1.1 3.6 1.1 3.6 1.1 3.7 1.1 3.6 1.1 3.6 1.1 3.7 1.1 3.7 1.1 3.7 1.1 3.7 1.1 3.8 1.1 3.7 1.2 3.8 1.1 3.8 1.2 3.8 1.1 3.8 1.2 3.9 1.1 3.8 1.2 3.9 1.2 3.9 1.1 .3-.5-3.9-1.2-3.8-1.1-3.9-1.2-3.8-1.1-3.9-1.2-3.8-1.1-3.8-1.2-3.7-1.1-3.8-1.1-3.7-1.2-3.7-1.1-3.7-1.1-3.7-1.1-3.7-1.1-3.6-1.1-3.7-1.1-3.6-1.1-3.6-1.1-3.6-1.1-3.5-1-3.6-1.1-3.5-1.1-3.5-1-3.5-1.1-3.5-1-3.5-1.1-3.5-1-3.4-1.1-3.4-1-3.4-1-3.4-1-3.4-1.1-3.4-1-3.3-1-3.3-1-3.4-1-3.3-1-3.3-1-3.2-1-3.3-.9z"/>
<path class="c66" d="M530.7 317.5l3.3 1 3.3 1 3.3 .9 3.3 1 3.3 1.1 3.4 1 3.3 1 3.4 1 3.4 1 3.4 1 3.4 1.1 3.4 1 3.5 1 3.4 1.1 3.5 1 3.5 1.1 3.5 1.1 3.5 1 3.6 1.1 3.5 1.1 3.6 1 3.6 1.1 3.6 1.1 3.6 1.1 3.6 1.1 3.7 1.1 3.7 1.1 3.7 1.1 3.7 1.2 3.7 1.1 3.7 1.1 3.8 1.1 3.8 1.2 3.8 1.1 3.8 1.2 3.8 1.1 3.9 1.2 3.8 1.2 3.9 1.1 3.9 1.2 .4-.6-3.9-1.1-3.9-1.2-3.8-1.2-3.9-1.1-3.8-1.2-3.8-1.1-3.8-1.2-3.8-1.1-3.7-1.2-3.8-1.1-3.7-1.1-3.7-1.1-3.7-1.1-3.7-1.1-3.6-1.1-3.6-1.1-3.7-1.1-3.6-1.1-3.6-1.1-3.5-1.1-3.6-1-3.5-1.1-3.5-1.1-3.5-1-3.5-1.1-3.5-1-3.5-1.1-3.4-1-3.4-1-3.4-1.1-3.4-1-3.4-1-3.4-1-3.3-1-3.4-1-3.3-1.1-3.3-.9-3.3-1-3.3-1-3.2-1z"/>
<path class="c66" d="M530.2 318l3.2 1 3.3 1 3.3 1 3.3 1 3.4 1 3.3 1 3.4 1 3.3 1.1 3.4 1 3.4 1 3.4 1.1 3.5 1 3.4 1 3.5 1.1 3.5 1 3.5 1.1 3.5 1.1 3.5 1 3.5 1.1 3.6 1.1 3.6 1.1 3.6 1 3.6 1.1 3.6 1.1 3.7 1.1 3.6 1.1 3.7 1.1 3.7 1.2 3.7 1.1 3.7 1.1 3.8 1.1 3.7 1.2 3.8 1.1 3.8 1.2 3.8 1.1 3.9 1.2 3.8 1.2 3.9 1.1 3.9 1.2 3.9 1.2 .4-.7-3.9-1.2-3.9-1.1-3.8-1.2-3.9-1.2-3.8-1.1-3.8-1.2-3.8-1.1-3.8-1.2-3.8-1.1-3.7-1.1-3.7-1.1-3.7-1.2-3.7-1.1-3.7-1.1-3.7-1.1-3.6-1.1-3.6-1.1-3.6-1.1-3.6-1.1-3.6-1-3.5-1.1-3.6-1.1-3.5-1-3.5-1.1-3.5-1.1-3.5-1-3.4-1.1-3.5-1-3.4-1-3.4-1.1-3.4-1-3.4-1-3.4-1-3.3-1-3.4-1-3.3-1.1-3.3-1-3.3-.9-3.3-1-3.3-1z"/>
<path class="c66" d="M529.5 318.6l3.3 1 3.3 1 3.3 1 3.3 1 3.3 1.1 3.4 1 3.3 1 3.4 1 3.4 1 3.4 1.1 3.4 1 3.5 1 3.4 1.1 3.5 1 3.5 1.1 3.5 1.1 3.5 1 3.5 1.1 3.6 1.1 3.5 1 3.6 1.1 3.6 1.1 3.6 1.1 3.7 1.1 3.6 1.1 3.7 1.1 3.6 1.1 3.7 1.2 3.8 1.1 3.7 1.1 3.7 1.2 3.8 1.1 3.8 1.1 3.8 1.2 3.8 1.2 3.9 1.1 3.8 1.2 3.9 1.2 3.9 1.1 .5-.7-3.9-1.2-3.9-1.1-3.8-1.2-3.9-1.2-3.8-1.1-3.8-1.2-3.8-1.1-3.7-1.2-3.8-1.1-3.7-1.1-3.7-1.1-3.7-1.2-3.7-1.1-3.6-1.1-3.7-1.1-3.6-1.1-3.6-1.1-3.6-1-3.6-1.1-3.6-1.1-3.5-1.1-3.5-1-3.5-1.1-3.5-1.1-3.5-1-3.5-1.1-3.4-1-3.5-1-3.4-1.1-3.4-1-3.4-1-3.3-1.1-3.4-1-3.3-1-3.4-1-3.3-1-3.3-1-3.3-1-3.2-1z"/>
<path class="c6c" d="M668.8 360.8l3.9 1.2 .5-.7-3.9-1.2z"/>
<path class="c6d" d="M528.8 319.3l3.3 1 3.3 1 3.3 1 3.3 1 3.4 1 .6-.6-3.3-1.1-3.3-1-3.3-1-3.3-1-3.3-1z"/>
<path class="c6c" d="M545.4 324.3l3.3 1.1 .7-.7-3.4-1z"/>
<path class="c6e" d="M548.7 325.4l3.4 1 .6-.7-3.3-1z"/>
<path class="c66" d="M552.1 326.4l3.3 1 3.4 1 3.5 1.1 3.4 1 3.4 1.1 3.5 1 3.4 1.1 3.5 1 3.5 1.1 3.6 1 3.5 1.1 3.5 1.1 3.6 1.1 3.6 1.1 3.6 1.1 3.6 1.1 3.6 1.1 3.7 1.1 3.7 1.1 3.7 1.1 3.7 1.1 3.7 1.2 3.7 1.1 3.8 1.1 3.7 1.2 3.8 1.1 3.8 1.2 3.9 1.1 3.8 1.2 3.9 1.2 .5-.8-3.8-1.2-3.9-1.1-3.8-1.2-3.8-1.2-3.8-1.1-3.8-1.1-3.7-1.2-3.7-1.1-3.8-1.1-3.7-1.2-3.6-1.1-3.7-1.1-3.6-1.1-3.7-1.1-3.6-1.1-3.6-1.1-3.6-1.1-3.5-1-3.6-1.1-3.5-1.1-3.5-1-3.5-1.1-3.5-1.1-3.5-1-3.4-1.1-3.5-1-3.4-1-3.4-1.1-3.4-1-3.4-1z"/>
<path class="c6c" d="M660.5 359.3l3.9 1.2 .5-.8-3.9-1.2z"/>
<path class="c6d" d="M664.4 360.5l3.9 .5 .5-.2-3.9-1.1z"/>
<path class="c6f" d="M668.3 361l4.5-3.2-.1 4.2-3.9-1.2z"/>
<path class="c70" d="M527.8 312.8l3.3 1.3 3.4 1.7 3.3 2.1 3.4 2.2 3.4 2.2 .8 2-3.4-1-3.3-1-3.3-1-3.3-1-3.3-1z"/>
<path class="c71" d="M544.6 322.3l3.3 2.2 .8 .9-3.3-1.1z"/>
<path class="c72" d="M547.9 324.5l3.4 1.8 .8 .1-3.4-1z"/>
<path class="c73" d="M551.3 326.3l3.4 1.6 .7-.5-3.3-1z"/>
<path class="c6d" d="M554.7 327.9l3.4 1.3 3.4 1 3.5 1.1 3.4 1 3.5 1.1 3.4 1 3.5 1.1 3.5 1.1 3.6 1 3.5 1.1 3.6 1.1 3.5 1.1 3.6 1.1 3.6 1.1 .7-.8-3.6-1.1-3.6-1.1-3.6-1.1-3.5-1.1-3.5-1.1-3.6-1-3.5-1.1-3.5-1-3.4-1.1-3.5-1-3.4-1.1-3.4-1-3.5-1.1-3.4-1z"/>
<path class="c6c" d="M603.7 343.1l3.7 1.1 .6-.8-3.6-1.1z"/>
<path class="c6e" d="M607.4 344.2l3.6 1.1 .6-.8-3.6-1.1z"/>
<path class="c66" d="M611 345.3l3.6 1.1 3.7 1.1 3.7 1.1 3.7 1.2 3.7 1.1 3.8 1.1 3.7 1.2 3.8 1.1 3.8 1.2 .6-.9-3.8-1.1-3.7-1.2-3.8-1.1-3.7-1.1-3.7-1.2-3.7-1.1-3.7-1.1-3.7-1.1-3.7-1.1z"/>
<path class="c6e" d="M644.5 355.5l3.8 1.1 .6-.8-3.8-1.2z"/>
<path class="c6c" d="M648.3 356.6l3.9 1.2 .6-.9-3.9-1.1z"/>
<path class="c6d" d="M652.2 357.8l3.8 1.2 4 .4 .5-.1-3.9-1.2-3.8-1.2z"/>
<path class="c6f" d="M660 359.4l4.2-2 .2 3.1-3.9-1.2z"/>
<path class="c70" d="M664.2 357.4l4.3-2.1 4.4-2.4-.1 4.9-4.5 3.2-3.9-.5z"/>
<path class="c70" d="M526.6 303l3.4 1.2 3.3 1.6 3.4 1.8 3.4 2 3.5 2.1 3.4 2 3.4 1.8 3.4 1.6 3.5 1.6 3.5 1.6 3.4 1.5 3.5 1.6 3.5 1.5 3.5 1.7 3.5 1.7 3.6 1.8 3.5 1.9 3.5 1.8 3.6 1.9 3.6 1.9 3.5 1.9 3.6 2 .6 1.6-3.6-1.1-3.6-1.1-3.5-1.1-3.6-1.1-3.5-1.1-3.6-1-3.5-1.1-3.5-1.1-3.4-1-3.5-1.1-3.4-1-3.5-1.1-3.4-1-3.4-1.3-3.4-1.6-3.4-1.8-3.3-2.2-3.4-2.2-3.4-2.2-3.3-2.1-3.4-1.7-3.3-1.3z"/>
<path class="c6f" d="M603.1 341.5l3.6 2.2 .7 .5-3.7-1.1z"/>
<path class="c73" d="M606.7 343.7l3.6 2.2 .7-.6-3.6-1.1z"/>
<path class="c6d" d="M610.3 345.9l3.7 1.4 3.6 1.1 3.7 1.1 3.7 1.1 3.8 1.2 3.7 1.1 3.8 1.2 3.8 1.1 3.8 1.2 .6-.9-3.8-1.2-3.8-1.1-3.7-1.2-3.8-1.1-3.7-1.1-3.7-1.2-3.7-1.1-3.7-1.1-3.6-1.1z"/>
<path class="c73" d="M643.9 356.4l3.9-.2 .5 .4-3.8-1.1z"/>
<path class="c6f" d="M647.8 356.2l4.1-.8 .3 2.4-3.9-1.2z"/>
<path class="c70" d="M651.9 355.4l4-.9 4.2-1.1 4.2-1.3 4.3-1.5 4.3-1.7 0 4-4.4 2.4-4.3 2.1-4.2 2-4-.4-3.8-1.2z"/>
<path class="c70" d="M525.4 294.6l3.4 1.2 3.4 1.4 3.4 1.7 3.5 1.8 3.4 1.9 3.5 1.8 3.4 1.8 3.5 1.7 3.5 1.7 3.5 1.7 3.5 1.8 3.5 1.7 3.6 1.8 3.5 1.8 3.6 1.9 3.5 1.9 3.6 2 3.6 1.9 3.6 2 3.6 2 3.6 1.9 3.6 2 3.7 2.1 3.6 2.1 3.7 2.1 3.6 2 3.7 1.7 3.7 1.6 3.8 1.3 3.7 1.2 3.9 .9 3.8 .6 3.9 .2 4-.1 4.1-.3 4-.4 4.1-.6 4.2-.8 4.3-.9 4.2-1.1 .2 3.3-4.3 1.7-4.3 1.5-4.2 1.3-4.2 1.1-4 .9-4.1 .8-3.9 .2-3.8-1.2-3.8-1.1-3.8-1.2-3.7-1.1-3.8-1.2-3.7-1.1-3.7-1.1-3.6-1.1-3.7-1.4-3.6-2.2-3.6-2.2-3.6-2-3.5-1.9-3.6-1.9-3.6-1.9-3.5-1.8-3.5-1.9-3.6-1.8-3.5-1.7-3.5-1.7-3.5-1.5-3.5-1.6-3.4-1.5-3.5-1.6-3.5-1.6-3.4-1.6-3.4-1.8-3.4-2-3.5-2.1-3.4-2-3.4-1.8-3.3-1.6-3.4-1.2z"/>
<path class="c70" d="M524.1 287.5l3.5 1.1 3.4 1.3 3.5 1.5 3.4 1.6 3.5 1.8 3.5 1.7 3.5 1.8 3.5 1.7 3.6 1.9 3.5 1.8 3.6 1.9 3.5 2 3.6 1.9 3.6 2 3.5 2 3.6 2 3.7 2.1 3.6 2 3.6 2.1 3.6 2 3.7 2 3.6 2 3.7 2 3.7 2 3.7 2 3.7 1.8 3.7 1.8 3.8 1.5 3.8 1.4 3.8 1.3 3.8 1.1 3.9 .9 3.9 .5 4 .3 4 .1 4.1 0 4.1-.1 4.1-.3 4.2-.4 4.3-.6 .2 2.6-4.2 1.1-4.3 .9-4.2 .8-4.1 .6-4 .4-4.1 .3-4 .1-3.9-.2-3.8-.6-3.9-.9-3.7-1.2-3.8-1.3-3.7-1.6-3.7-1.7-3.6-2-3.7-2.1-3.6-2.1-3.7-2.1-3.6-2-3.6-1.9-3.6-2-3.6-2-3.6-1.9-3.6-2-3.5-1.9-3.6-1.9-3.5-1.8-3.6-1.8-3.5-1.7-3.5-1.8-3.5-1.7-3.5-1.7-3.5-1.7-3.4-1.8-3.5-1.8-3.4-1.9-3.5-1.8-3.4-1.7-3.4-1.4-3.4-1.2z"/>
<path class="c70" d="M522.9 281.4l3.4 1 3.5 1.2 3.5 1.4 3.5 1.5 3.5 1.6 3.5 1.7 3.5 1.7 3.6 1.8 3.6 1.9 3.5 2 3.6 2.1 3.6 2.1 3.6 2.1 3.6 2.1 3.6 2.1 3.7 2.1 3.6 2.2 3.7 2.1 3.6 2.1 3.7 2.1 3.7 2 3.6 2 3.7 2 3.8 1.9 3.7 1.9 3.7 1.8 3.8 1.6 3.8 1.6 3.8 1.5 3.8 1.4 3.9 1.2 3.9 1.1 3.9 .8 4 .6 4 .5 4.1 .4 4.1 .3 4.1 .1 4.2 .1 4.2-.1 .4 2-4.3 .6-4.2 .4-4.1 .3-4.1 .1-4.1 0-4-.1-4-.3-3.9-.5-3.9-.9-3.8-1.1-3.8-1.3-3.8-1.4-3.8-1.5-3.7-1.8-3.7-1.8-3.7-2-3.7-2-3.7-2-3.6-2-3.7-2-3.6-2-3.6-2.1-3.6-2-3.7-2.1-3.6-2-3.5-2-3.6-2-3.6-1.9-3.5-2-3.6-1.9-3.5-1.8-3.6-1.9-3.5-1.7-3.5-1.8-3.5-1.7-3.5-1.8-3.4-1.6-3.5-1.5-3.4-1.3-3.5-1.1z"/>
<path class="c70" d="M521.6 276.5l3.4 1.1 3.5 1.1 3.5 1.3 3.6 1.4 3.5 1.5 3.5 1.6 3.6 1.7 3.6 1.8 3.6 2 3.6 2.1 3.6 2.2 3.6 2.2 3.7 2.2 3.6 2.2 3.6 2.2 3.7 2.2 3.7 2.2 3.6 2.2 3.7 2.2 3.7 2.2 3.7 2 3.7 2 3.8 1.9 3.7 1.9 3.8 1.8 3.8 1.7 3.8 1.7 3.8 1.6 3.8 1.5 3.9 1.5 3.9 1.3 3.9 1.3 3.9 1 4 .9 4 .9 4.1 .7 4.1 .6 4.1 .4 4.1 .4 4.2 .3 .5 1.5-4.2 .1-4.2-.1-4.1-.1-4.1-.3-4.1-.4-4-.5-4-.6-3.9-.8-3.9-1.1-3.9-1.2-3.8-1.4-3.8-1.5-3.8-1.6-3.8-1.6-3.7-1.8-3.7-1.9-3.8-1.9-3.7-2-3.6-2-3.7-2-3.7-2.1-3.6-2.1-3.7-2.1-3.6-2.2-3.7-2.1-3.6-2.1-3.6-2.1-3.6-2.1-3.6-2.1-3.6-2.1-3.5-2-3.6-1.9-3.6-1.8-3.5-1.7-3.5-1.7-3.5-1.6-3.5-1.5-3.5-1.4-3.5-1.2-3.4-1z"/>
<path class="c70" d="M520.3 274.7l3.5 1 3.5 1.2 3.5 1.3 3.6 1.4 3.5 1.5 3.6 1.6 3.6 1.7 3.6 1.8 3.6 2 3.6 2 3.7 2.2 3.6 2.1 3.6 2.2 3.7 2.2 3.7 2.1 3.6 2.3 3.7 2.2 3.7 2.3 3.7 2.2 3.7 2.2 3.8 2.1 3.7 2 3.8 1.9 3.7 1.9 3.8 1.9 3.8 1.8 3.8 1.7 3.8 1.7 3.9 1.6 3.9 1.5 3.9 1.4 3.9 1.3 4 1.2 3.9 1 4.1 .9 4 .8 4.1 .7 4.1 .6 4.2 .5 4.2 .4 .6 .4-4.2-.3-4.1-.4-4.1-.4-4.1-.6-4.1-.7-4-.9-4-.9-3.9-1-3.9-1.3-3.9-1.3-3.9-1.5-3.8-1.5-3.8-1.6-3.8-1.7-3.8-1.7-3.8-1.8-3.7-1.9-3.8-1.9-3.7-2-3.7-2-3.7-2.2-3.7-2.2-3.6-2.2-3.7-2.2-3.7-2.2-3.6-2.2-3.6-2.2-3.7-2.2-3.6-2.2-3.6-2.2-3.6-2.1-3.6-2-3.6-1.8-3.6-1.7-3.5-1.6-3.5-1.5-3.6-1.4-3.5-1.3-3.5-1.1-3.4-1.1z"/>
<path class="c70" d="M519 273.2l3.5 1.1 3.5 1.2 3.6 1.3 3.5 1.4 3.6 1.5 3.6 1.7 3.6 1.6 3.6 1.8 3.6 1.9 3.7 2 3.6 2.1 3.7 2.2 3.7 2.1 3.6 2.1 3.7 2.2 3.7 2.3 3.7 2.2 3.7 2.3 3.8 2.3 3.7 2.2 3.7 2.1 3.8 2.1 3.8 2 3.7 1.9 3.8 1.9 3.9 1.9 3.8 1.7 3.8 1.7 3.9 1.7 3.9 1.6 3.9 1.5 3.9 1.3 4 1.2 4 1.1 4 1 4.1 .9 4.1 .8 .7 .5-4.1-.7-4-.8-4.1-.9-3.9-1-4-1.2-3.9-1.3-3.9-1.4-3.9-1.5-3.9-1.6-3.8-1.7-3.8-1.7-3.8-1.8-3.8-1.9-3.7-1.9-3.8-1.9-3.7-2-3.8-2.1-3.7-2.2-3.7-2.2-3.7-2.3-3.7-2.2-3.6-2.3-3.7-2.1-3.7-2.2-3.6-2.2-3.6-2.1-3.7-2.2-3.6-2-3.6-2-3.6-1.8-3.6-1.7-3.6-1.6-3.5-1.5-3.6-1.4-3.5-1.3-3.5-1.2-3.5-1z"/>
<path class="c74" d="M657.8 337.1l4.1 .7 .7 .4-4.1-.6z"/>
<path class="c73" d="M661.9 337.8l4.2 .7 4.2 .5 .7 .1-4.2-.4-4.2-.5z"/>
<path class="c75" d="M517.7 272.6l3.5 1 3.6 1.2 1.2 .7-3.5-1.2-3.5-1.1z"/>
<path class="c76" d="M524.8 274.8l3.5 1.3 3.6 1.5 3.6 1.5 3.6 1.7 1.2 .6-3.6-1.7-3.6-1.5-3.5-1.4-3.6-1.3z"/>
<path class="c1a" d="M539.1 280.8l3.6 1.6 3.6 1.8 1.2 .6-3.6-1.8-3.6-1.6z"/>
<path class="c77" d="M546.3 284.2l3.7 1.9 3.6 2 3.7 2.1 3.6 2.1 1.2 .7-3.7-2.2-3.6-2.1-3.7-2-3.6-1.9z"/>
<path class="c78" d="M560.9 292.3l3.7 2.1 3.7 2.1 3.7 2.2 3.7 2.2 3.8 2.3 3.7 2.3 3.7 2.3 3.8 2.2 1 .7-3.7-2.2-3.8-2.3-3.7-2.3-3.7-2.2-3.7-2.3-3.7-2.2-3.6-2.1-3.7-2.1z"/>
<path class="c77" d="M590.7 310l3.7 2.1 3.8 2.1 3.8 2 3.8 2 3.8 2 3.8 1.9 1 .5-3.9-1.9-3.8-1.9-3.7-1.9-3.8-2-3.8-2.1-3.7-2.1z"/>
<path class="c1a" d="M613.4 322.1l3.9 1.8 .9 .4-3.8-1.7z"/>
<path class="c76" d="M617.3 323.9l3.8 1.7 3.9 1.7 3.9 1.6 3.9 1.5 .9 .4-3.9-1.5-3.9-1.6-3.9-1.7-3.8-1.7z"/>
<path class="c75" d="M632.8 330.4l4 1.5 4 1.2 4 1.2 .8 .1-4-1.1-4-1.2-3.9-1.3z"/>
<path class="c73" d="M644.8 334.3l4 1 4.1 1 4.1 .9 .8-.1-4.1-.8-4.1-.9-4-1z"/>
<path class="c79" d="M657 337.2l4.1 .8 .8-.2-4.1-.7z"/>
<path class="c7a" d="M661.1 338l4.2 .7 4.2 .7 .8-.4-4.2-.5-4.2-.7z"/>
<path class="c7b" d="M516.4 272.8l3.5 1 1.3-.2-3.5-1z"/>
<path class="c7c" d="M519.9 273.8l3.5 1.2 3.6 1.4 1.3-.3-3.5-1.3-3.6-1.2z"/>
<path class="c7d" d="M527 276.4l3.6 1.4 3.6 1.6 1.3-.3-3.6-1.5-3.6-1.5z"/>
<path class="c7e" d="M534.2 279.4l3.6 1.6 3.6 1.7 3.7 1.8 1.2-.3-3.6-1.8-3.6-1.6-3.6-1.7z"/>
<path class="c7f" d="M545.1 284.5l3.6 1.9 1.3-.3-3.7-1.9z"/>
<path class="c80" d="M548.7 286.4l3.7 2 1.2-.3-3.6-2z"/>
<path class="c81" d="M552.4 288.4l3.7 2 3.6 2.1 3.7 2.1 3.7 2.2 3.8 2.1 3.7 2.3 1.1-.3-3.7-2.2-3.7-2.2-3.7-2.1-3.7-2.1-3.6-2.1-3.7-2.1z"/>
<path class="c82" d="M574.6 301.2l3.7 2.2 3.8 2.3 1.1-.2-3.7-2.3-3.8-2.3z"/>
<path class="c81" d="M582.1 305.7l3.7 2.3 3.8 2.2 3.7 2.1 3.8 2.1 1.1-.2-3.8-2.1-3.7-2.1-3.8-2.2-3.7-2.3z"/>
<path class="c80" d="M597.1 314.4l3.8 2.1 3.8 2 3.9 2 1-.3-3.8-2-3.8-2-3.8-2z"/>
<path class="c83" d="M608.6 320.5l3.8 1.9 1-.3-3.8-1.9z"/>
<path class="c7e" d="M612.4 322.4l3.9 1.9 3.8 1.7 1-.4-3.8-1.7-3.9-1.8z"/>
<path class="c7d" d="M620.1 326l3.9 1.7 3.9 1.6 1-.4-3.9-1.6-3.9-1.7z"/>
<path class="c7c" d="M627.9 329.3l4 1.6 3.9 1.4 1-.4-4-1.5-3.9-1.5z"/>
<path class="c7b" d="M635.8 332.3l4 1.3 1-.5-4-1.2z"/>
<path class="c84" d="M639.8 333.6l4.1 1.2 .9-.5-4-1.2z"/>
<path class="c85" d="M643.9 334.8l4 1.1 .9-.6-4-1z"/>
<path class="c86" d="M647.9 335.9l4.1 1 4.1 1 .9-.7-4.1-.9-4.1-1z"/>
<path class="c87" d="M656.1 337.9l4.1 .9 4.2 .8 .9-.9-4.2-.7-4.1-.8z"/>
<path class="c88" d="M664.4 339.6l4.2 .7 .9-.9-4.2-.7z"/>
<path class="c89" d="M515 273.1l3.5 1.1 3.6 1.2 1.3-.4-3.5-1.2-3.5-1z"/>
<path class="c7c" d="M522.1 275.4l3.6 1.3 1.3-.3-3.6-1.4z"/>
<path class="c8a" d="M525.7 276.7l3.5 1.5 3.7 1.6 3.6 1.6 1.3-.4-3.6-1.6-3.6-1.6-3.6-1.4z"/>
<path class="c8b" d="M536.5 281.4l3.6 1.8 3.7 1.7 1.3-.4-3.7-1.8-3.6-1.7z"/>
<path class="c7f" d="M543.8 284.9l3.6 1.9 3.7 2 3.7 2 1.3-.4-3.7-2-3.7-2-3.6-1.9z"/>
<path class="c8c" d="M554.8 290.8l3.7 2.1 3.7 2.2 3.7 2.1 3.7 2.1 3.8 2.2 1.2-.3-3.7-2.3-3.8-2.1-3.7-2.2-3.7-2.1-3.6-2.1z"/>
<path class="c81" d="M573.4 301.5l3.7 2.3 3.8 2.3 3.7 2.2 3.8 2.2 1.2-.3-3.8-2.2-3.7-2.3-3.8-2.3-3.7-2.2z"/>
<path class="c8c" d="M588.4 310.5l3.8 2.2 1.1-.4-3.7-2.1z"/>
<path class="c7f" d="M592.2 312.7l3.8 2.1 3.8 2.1 3.8 2 3.9 2 1.1-.4-3.9-2-3.8-2-3.8-2.1-3.8-2.1z"/>
<path class="c7e" d="M607.5 320.9l3.8 2 1.1-.5-3.8-1.9z"/>
<path class="c8b" d="M611.3 322.9l3.9 1.9 1.1-.5-3.9-1.9z"/>
<path class="c8a" d="M615.2 324.8l3.9 1.7 3.9 1.8 3.9 1.6 1-.6-3.9-1.6-3.9-1.7-3.8-1.7z"/>
<path class="c7c" d="M626.9 329.9l4 1.5 1-.5-4-1.6z"/>
<path class="c89" d="M630.9 331.4l3.9 1.5 4 1.3 1-.6-4-1.3-3.9-1.4z"/>
<path class="c85" d="M638.8 334.2l4.1 1.3 4 1.1 1-.7-4-1.1-4.1-1.2z"/>
<path class="c8d" d="M646.9 336.6l4.1 1.1 4.1 1 1-.8-4.1-1-4.1-1z"/>
<path class="c87" d="M655.1 338.7l4.2 1 .9-.9-4.1-.9z"/>
<path class="c8e" d="M659.3 339.7l4.2 .8 .9-.9-4.2-.8z"/>
<path class="c88" d="M663.5 340.5l4.2 .8 .9-1-4.2-.7z"/>
<path class="c85" d="M513.6 273.6l3.5 1 1.4-.4-3.5-1.1z"/>
<path class="c89" d="M517.1 274.6l3.6 1.3 1.4-.5-3.6-1.2z"/>
<path class="c8f" d="M520.7 275.9l3.6 1.3 3.6 1.5 1.3-.5-3.5-1.5-3.6-1.3z"/>
<path class="c8a" d="M527.9 278.7l3.6 1.6 3.6 1.7 1.4-.6-3.6-1.6-3.7-1.6z"/>
<path class="c8b" d="M535.1 282l3.7 1.7 3.6 1.8 1.4-.6-3.7-1.7-3.6-1.8z"/>
<path class="c90" d="M542.4 285.5l3.7 1.9 3.7 1.9 1.3-.5-3.7-2-3.6-1.9z"/>
<path class="c7f" d="M549.8 289.3l3.7 2.1 1.3-.6-3.7-2z"/>
<path class="c8c" d="M553.5 291.4l3.7 2.1 3.7 2.1 3.7 2.1 3.8 2.1 3.7 2.3 3.8 2.2 3.8 2.3 3.7 2.2 3.8 2.2 3.8 2.2 1.2-.5-3.8-2.2-3.8-2.2-3.7-2.2-3.8-2.3-3.7-2.3-3.8-2.2-3.7-2.1-3.7-2.1-3.7-2.2-3.7-2.1z"/>
<path class="c7f" d="M591 313.2l3.8 2.1 3.9 2.1 3.8 2.1 3.8 2 1.2-.6-3.9-2-3.8-2-3.8-2.1-3.8-2.1z"/>
<path class="c8b" d="M606.3 321.5l3.9 2 3.9 1.9 1.1-.6-3.9-1.9-3.8-2z"/>
<path class="c8a" d="M614.1 325.4l3.9 1.8 3.9 1.7 1.1-.6-3.9-1.8-3.9-1.7z"/>
<path class="c7c" d="M621.9 328.9l3.9 1.7 1.1-.7-3.9-1.6z"/>
<path class="c8f" d="M625.8 330.6l4 1.5 1.1-.7-4-1.5z"/>
<path class="c89" d="M629.8 332.1l4 1.5 4 1.4 1-.8-4-1.3-3.9-1.5z"/>
<path class="c85" d="M637.8 335l4.1 1.2 1-.7-4.1-1.3z"/>
<path class="c6e" d="M641.9 336.2l4 1.2 1-.8-4-1.1z"/>
<path class="c8d" d="M645.9 337.4l4.1 1.2 4.1 1 1-.9-4.1-1-4.1-1.1z"/>
<path class="c87" d="M654.1 339.6l4.2 1 1-.9-4.2-1z"/>
<path class="c8e" d="M658.3 340.6l4.2 1 1-1.1-4.2-.8z"/>
<path class="c88" d="M662.5 341.6l4.2 .8 1-1.1-4.2-.8z"/>
<path class="c85" d="M512.1 274.1l3.5 1.1 1.5-.6-3.5-1z"/>
<path class="c89" d="M515.6 275.2l3.6 1.3 1.5-.6-3.6-1.3z"/>
<path class="c8f" d="M519.2 276.5l3.6 1.3 3.6 1.6 1.5-.7-3.6-1.5-3.6-1.3z"/>
<path class="c6b" d="M526.4 279.4l3.6 1.6 1.5-.7-3.6-1.6z"/>
<path class="c8a" d="M530 281l3.7 1.6 1.4-.6-3.6-1.7z"/>
<path class="c8b" d="M533.7 282.6l3.7 1.7 3.6 1.8 1.4-.6-3.6-1.8-3.7-1.7z"/>
<path class="c90" d="M541 286.1l3.7 1.9 3.7 2 3.7 2.1 1.4-.7-3.7-2.1-3.7-1.9-3.7-1.9z"/>
<path class="c8c" d="M552.1 292.1l3.7 2 3.8 2.1 3.7 2.2 3.8 2.1 3.7 2.2 3.8 2.2 3.8 2.3 3.8 2.2 3.8 2.2 3.8 2.2 1.2-.6-3.8-2.2-3.8-2.2-3.7-2.2-3.8-2.3-3.8-2.2-3.7-2.3-3.8-2.1-3.7-2.1-3.7-2.1-3.7-2.1z"/>
<path class="c7f" d="M589.8 313.8l3.8 2.1 3.9 2.2 3.8 2.1 1.2-.7-3.8-2.1-3.9-2.1-3.8-2.1z"/>
<path class="c90" d="M601.3 320.2l3.9 2 3.8 2 1.2-.7-3.9-2-3.8-2z"/>
<path class="c8b" d="M609 324.2l3.9 2 3.9 1.8 1.2-.8-3.9-1.8-3.9-1.9z"/>
<path class="c8a" d="M616.8 328l4 1.7 1.1-.8-3.9-1.7z"/>
<path class="c8f" d="M620.8 329.7l3.9 1.7 4 1.6 1.1-.9-4-1.5-3.9-1.7z"/>
<path class="c89" d="M628.7 333l4 1.5 4 1.3 1.1-.8-4-1.4-4-1.5z"/>
<path class="c6e" d="M636.7 335.8l4.1 1.3 4.1 1.3 1-1-4-1.2-4.1-1.2z"/>
<path class="c8d" d="M644.9 338.4l4.1 1.2 4.1 1.1 1-1.1-4.1-1-4.1-1.2z"/>
<path class="c8e" d="M653.1 340.7l4.2 1 4.2 1 4.2 .9 1-1.2-4.2-.8-4.2-1-4.2-1z"/>
<path class="c6e" d="M510.5 274.8l3.6 1.1 1.5-.7-3.5-1.1z"/>
<path class="c89" d="M514.1 275.9l3.6 1.3 1.5-.7-3.6-1.3z"/>
<path class="c8f" d="M517.7 277.2l3.6 1.4 3.6 1.5 1.5-.7-3.6-1.6-3.6-1.3z"/>
<path class="c6b" d="M524.9 280.1l3.7 1.6 3.6 1.7 1.5-.8-3.7-1.6-3.6-1.6z"/>
<path class="c8b" d="M532.2 283.4l3.7 1.7 3.7 1.8 1.4-.8-3.6-1.8-3.7-1.7z"/>
<path class="c90" d="M539.6 286.9l3.7 1.9 3.7 2 3.7 2 1.4-.7-3.7-2.1-3.7-2-3.7-1.9z"/>
<path class="c69" d="M550.7 292.8l3.7 2.1 3.8 2.1 3.7 2.1 1.4-.7-3.7-2.2-3.8-2.1-3.7-2z"/>
<path class="c8c" d="M561.9 299.1l3.8 2.2 3.8 2.2 3.8 2.2 3.8 2.2 3.8 2.3 3.8 2.2 3.8 2.2 1.3-.8-3.8-2.2-3.8-2.2-3.8-2.2-3.8-2.3-3.8-2.2-3.7-2.2-3.8-2.1z"/>
<path class="c7f" d="M588.5 314.6l3.9 2.1 3.8 2.1 1.3-.7-3.9-2.2-3.8-2.1z"/>
<path class="c90" d="M596.2 318.8l3.9 2.2 3.8 2.1 3.9 2 1.2-.9-3.8-2-3.9-2-3.8-2.1z"/>
<path class="c8b" d="M607.8 325.1l3.9 2 4 1.8 1.1-.9-3.9-1.8-3.9-2z"/>
<path class="c6b" d="M615.7 328.9l3.9 1.8 1.2-1-4-1.7z"/>
<path class="c8f" d="M619.6 330.7l4 1.6 4 1.6 1.1-.9-4-1.6-3.9-1.7z"/>
<path class="c89" d="M627.6 333.9l4 1.5 1.1-.9-4-1.5z"/>
<path class="c64" d="M631.6 335.4l4 1.4 1.1-1-4-1.3z"/>
<path class="c6e" d="M635.6 336.8l4.1 1.4 4.1 1.2 1.1-1-4.1-1.3-4.1-1.3z"/>
<path class="c8d" d="M643.8 339.4l4.1 1.3 4.1 1.1 1.1-1.1-4.1-1.1-4.1-1.2z"/>
<path class="c66" d="M652 341.8l4.2 1.1 1.1-1.2-4.2-1z"/>
<path class="c8e" d="M656.2 342.9l4.2 1.1 4.2 .9 1.1-1.3-4.2-.9-4.2-1z"/>
<path class="c6e" d="M509 275.6l3.5 1.1 1.6-.8-3.6-1.1z"/>
<path class="c64" d="M512.5 276.7l3.6 1.3 1.6-.8-3.6-1.3z"/>
<path class="c8f" d="M516.1 278l3.6 1.4 1.6-.8-3.6-1.4z"/>
<path class="c6b" d="M519.7 279.4l3.7 1.5 3.6 1.6 3.7 1.7 1.5-.8-3.6-1.7-3.7-1.6-3.6-1.5z"/>
<path class="c67" d="M530.7 284.2l3.7 1.8 1.5-.9-3.7-1.7z"/>
<path class="c8b" d="M534.4 286l3.7 1.8 1.5-.9-3.7-1.8z"/>
<path class="c90" d="M538.1 287.8l3.7 1.9 3.7 1.9 3.8 2.1 3.7 2.1 1.4-.9-3.7-2.1-3.7-2-3.7-2-3.7-1.9z"/>
<path class="c69" d="M553 295.8l3.8 2.1 3.7 2.1 3.8 2.1 3.8 2.2 1.4-.8-3.8-2.2-3.8-2.2-3.7-2.1-3.8-2.1z"/>
<path class="c8c" d="M568.1 304.3l3.8 2.2 3.8 2.3 3.8 2.2 3.8 2.2 1.4-.8-3.8-2.2-3.8-2.3-3.8-2.2-3.8-2.2z"/>
<path class="c69" d="M583.3 313.2l3.9 2.2 3.8 2.2 1.4-.9-3.9-2.1-3.8-2.2z"/>
<path class="c90" d="M591 317.6l3.9 2.1 3.9 2.2 3.9 2.1 3.9 2.1 1.2-1-3.9-2-3.8-2.1-3.9-2.2-3.8-2.1z"/>
<path class="c8b" d="M606.6 326.1l3.9 2 3.9 1.8 1.3-1-4-1.8-3.9-2z"/>
<path class="c6b" d="M614.4 329.9l4 1.8 1.2-1-3.9-1.8z"/>
<path class="c8f" d="M618.4 331.7l4 1.7 4 1.6 1.2-1.1-4-1.6-4-1.6z"/>
<path class="c89" d="M626.4 335l4 1.5 1.2-1.1-4-1.5z"/>
<path class="c64" d="M630.4 336.5l4 1.4 1.2-1.1-4-1.4z"/>
<path class="c6e" d="M634.4 337.9l4.1 1.4 4.1 1.3 4.1 1.2 1.2-1.1-4.1-1.3-4.1-1.2-4.1-1.4z"/>
<path class="c8d" d="M646.7 341.8l4.2 1.3 1.1-1.3-4.1-1.1z"/>
<path class="c66" d="M650.9 343.1l4.2 1.1 1.1-1.3-4.2-1.1z"/>
<path class="c8e" d="M655.1 344.2l4.2 1.1 4.2 1 1.1-1.4-4.2-.9-4.2-1.1z"/>
<path class="c6e" d="M507.3 276.5l3.6 1.1 1.6-.9-3.5-1.1z"/>
<path class="c64" d="M510.9 277.6l3.6 1.2 1.6-.8-3.6-1.3z"/>
<path class="c8f" d="M514.5 278.8l3.6 1.5 1.6-.9-3.6-1.4z"/>
<path class="c6b" d="M518.1 280.3l3.7 1.5 3.7 1.6 3.6 1.8 1.6-1-3.7-1.7-3.6-1.6-3.7-1.5z"/>
<path class="c67" d="M529.1 285.2l3.7 1.7 3.7 1.8 1.6-.9-3.7-1.8-3.7-1.8z"/>
<path class="c90" d="M536.5 288.7l3.8 1.9 3.7 2 3.7 2 3.8 2.1 1.5-.9-3.7-2.1-3.8-2.1-3.7-1.9-3.7-1.9z"/>
<path class="c69" d="M551.5 296.7l3.8 2.1 3.8 2.2 3.7 2.1 3.8 2.2 3.9 2.2 3.8 2.2 3.8 2.3 3.9 2.2 3.8 2.2 3.9 2.1 3.8 2.2 1.4-1-3.9-2.1-3.8-2.2-3.9-2.2-3.8-2.2-3.8-2.2-3.8-2.3-3.8-2.2-3.8-2.2-3.8-2.1-3.7-2.1-3.8-2.1z"/>
<path class="c90" d="M593.5 320.7l3.9 2.2 3.9 2.1 3.9 2.1 1.4-1-3.9-2.1-3.9-2.1-3.9-2.2z"/>
<path class="c8b" d="M605.2 327.1l4 2 1.3-1-3.9-2z"/>
<path class="c67" d="M609.2 329.1l3.9 1.9 1.3-1.1-3.9-1.8z"/>
<path class="c6b" d="M613.1 331l4 1.8 1.3-1.1-4-1.8z"/>
<path class="c8f" d="M617.1 332.8l4 1.7 4 1.6 1.3-1.1-4-1.6-4-1.7z"/>
<path class="c64" d="M625.1 336.1l4.1 1.5 4 1.5 1.2-1.2-4-1.4-4-1.5z"/>
<path class="c6e" d="M633.2 339.1l4.1 1.4 4.1 1.3 4.1 1.3 1.2-1.3-4.1-1.2-4.1-1.3-4.1-1.4z"/>
<path class="c8d" d="M645.5 343.1l4.2 1.3 1.2-1.3-4.2-1.3z"/>
<path class="c66" d="M649.7 344.4l4.2 1.2 4.2 1.1 1.2-1.4-4.2-1.1-4.2-1.1z"/>
<path class="c8e" d="M658.1 346.7l4.3 1.1 1.1-1.5-4.2-1z"/>
<path class="c6e" d="M505.6 277.4l3.6 1.1 1.7-.9-3.6-1.1z"/>
<path class="c64" d="M509.2 278.5l3.7 1.3 1.6-1-3.6-1.2z"/>
<path class="c8f" d="M512.9 279.8l3.6 1.4 1.6-.9-3.6-1.5z"/>
<path class="c6b" d="M516.5 281.2l3.6 1.6 3.7 1.7 3.7 1.7 1.6-1-3.6-1.8-3.7-1.6-3.7-1.5z"/>
<path class="c67" d="M527.5 286.2l3.7 1.7 3.7 1.8 1.6-1-3.7-1.8-3.7-1.7z"/>
<path class="c90" d="M534.9 289.7l3.8 1.9 3.7 2 3.8 2.1 3.8 2.1 1.5-1.1-3.8-2.1-3.7-2-3.7-2-3.8-1.9z"/>
<path class="c69" d="M550 297.8l3.7 2.1 3.8 2.1 3.8 2.1 3.8 2.2 3.9 2.3 3.8 2.2 3.9 2.2 3.8 2.3 3.9 2.1 3.9 2.2 3.8 2.2 3.9 2.2 1.4-1.1-3.9-2.2-3.8-2.2-3.9-2.1-3.8-2.2-3.9-2.2-3.8-2.3-3.8-2.2-3.9-2.2-3.8-2.2-3.7-2.1-3.8-2.2-3.8-2.1z"/>
<path class="c90" d="M596 324l4 2.2 3.9 2.1 1.3-1.2-3.9-2.1-3.9-2.1z"/>
<path class="c8b" d="M603.9 328.3l3.9 2 1.4-1.2-4-2z"/>
<path class="c67" d="M607.8 330.3l4 1.9 1.3-1.2-3.9-1.9z"/>
<path class="c6b" d="M611.8 332.2l4 1.8 1.3-1.2-4-1.8z"/>
<path class="c8f" d="M615.8 334l4 1.7 4 1.6 1.3-1.2-4-1.6-4-1.7z"/>
<path class="c64" d="M623.8 337.3l4.1 1.6 4.1 1.5 4 1.4 1.3-1.3-4.1-1.4-4-1.5-4.1-1.5z"/>
<path class="c6e" d="M636 341.8l4.2 1.3 4.1 1.4 4.2 1.3 1.2-1.4-4.2-1.3-4.1-1.3-4.1-1.3z"/>
<path class="c66" d="M648.5 345.8l4.2 1.2 4.2 1.2 1.2-1.5-4.2-1.1-4.2-1.2z"/>
<path class="c8e" d="M656.9 348.2l4.3 1.1 1.2-1.5-4.3-1.1z"/>
<path class="c6e" d="M503.9 278.5l3.6 1.1 1.7-1.1-3.6-1.1z"/>
<path class="c64" d="M507.5 279.6l3.6 1.3 1.8-1.1-3.7-1.3z"/>
<path class="c5c" d="M511.1 280.9l3.7 1.5 1.7-1.2-3.6-1.4z"/>
<path class="c6b" d="M514.8 282.4l3.7 1.5 3.6 1.7 1.7-1.1-3.7-1.7-3.6-1.6z"/>
<path class="c67" d="M522.1 285.6l3.7 1.7 3.8 1.8 3.7 1.8 1.6-1.2-3.7-1.8-3.7-1.7-3.7-1.7z"/>
<path class="c60" d="M533.3 290.9l3.7 1.9 1.7-1.2-3.8-1.9z"/>
<path class="c90" d="M537 292.8l3.8 2 3.8 2.1 3.8 2.1 1.6-1.2-3.8-2.1-3.8-2.1-3.7-2z"/>
<path class="c69" d="M548.4 299l3.8 2.1 3.8 2.1 3.8 2.2 3.8 2.1 3.8 2.3 3.9 2.2 3.9 2.3 3.8 2.2 3.9 2.2 3.9 2.2 3.9 2.2 3.9 2.2 1.4-1.3-3.9-2.2-3.8-2.2-3.9-2.2-3.9-2.1-3.8-2.3-3.9-2.2-3.8-2.2-3.9-2.3-3.8-2.2-3.8-2.1-3.8-2.1-3.7-2.1z"/>
<path class="c90" d="M594.6 325.3l3.9 2.2 4 2.1 3.9 2.1 1.4-1.4-3.9-2-3.9-2.1-4-2.2z"/>
<path class="c67" d="M606.4 331.7l4 1.9 1.4-1.4-4-1.9z"/>
<path class="c6b" d="M610.4 333.6l4 1.8 4 1.7 1.4-1.4-4-1.7-4-1.8z"/>
<path class="c5c" d="M618.4 337.1l4.1 1.6 1.3-1.4-4-1.6z"/>
<path class="c64" d="M622.5 338.7l4 1.6 4.1 1.5 4.2 1.4 1.2-1.4-4-1.4-4.1-1.5-4.1-1.6z"/>
<path class="c6e" d="M634.8 343.2l4.1 1.4 4.1 1.4 4.2 1.3 1.3-1.5-4.2-1.3-4.1-1.4-4.2-1.3z"/>
<path class="c66" d="M647.2 347.3l4.2 1.3 4.3 1.2 1.2-1.6-4.2-1.2-4.2-1.2z"/>
<path class="c8e" d="M655.7 349.8l4.3 1.1 1.2-1.6-4.3-1.1z"/>
<path class="c6e" d="M502.1 279.8l3.6 1.1 1.8-1.3-3.6-1.1z"/>
<path class="c64" d="M505.7 280.9l3.7 1.3 1.7-1.3-3.6-1.3z"/>
<path class="c5c" d="M509.4 282.2l3.6 1.5 1.8-1.3-3.7-1.5z"/>
<path class="c6b" d="M513 283.7l3.7 1.5 3.7 1.7 1.7-1.3-3.6-1.7-3.7-1.5z"/>
<path class="c67" d="M520.4 286.9l3.7 1.7 3.8 1.8 3.7 1.8 1.7-1.3-3.7-1.8-3.8-1.8-3.7-1.7z"/>
<path class="c60" d="M531.6 292.2l3.8 2 1.6-1.4-3.7-1.9z"/>
<path class="c90" d="M535.4 294.2l3.7 2 3.8 2 1.7-1.3-3.8-2.1-3.8-2z"/>
<path class="c69" d="M542.9 298.2l3.8 2.1 3.8 2.2 3.8 2.1 3.9 2.1 3.8 2.3 3.9 2.2 3.8 2.3 3.9 2.2 3.9 2.3 3.9 2.2 3.9 2.1 3.9 2.3 3.9 2.2 4 2.2 1.4-1.5-3.9-2.2-3.9-2.2-3.9-2.2-3.9-2.2-3.9-2.2-3.8-2.2-3.9-2.3-3.9-2.2-3.8-2.3-3.8-2.1-3.8-2.2-3.8-2.1-3.8-2.1-3.8-2.1z"/>
<path class="c90" d="M597.1 329l3.9 2.1 1.5-1.5-4-2.1z"/>
<path class="c60" d="M601 331.1l4 2 1.4-1.4-3.9-2.1z"/>
<path class="c67" d="M605 333.1l4 2 1.4-1.5-4-1.9z"/>
<path class="c6b" d="M609 335.1l4 1.8 4 1.7 1.4-1.5-4-1.7-4-1.8z"/>
<path class="c5c" d="M617 338.6l4.1 1.6 1.4-1.5-4.1-1.6z"/>
<path class="c64" d="M621.1 340.2l4.1 1.6 4.1 1.5 4.1 1.5 1.4-1.6-4.2-1.4-4.1-1.5-4-1.6z"/>
<path class="c6e" d="M633.4 344.8l4.2 1.4 4.1 1.4 1.3-1.6-4.1-1.4-4.1-1.4z"/>
<path class="c5e" d="M641.7 347.6l4.2 1.3 1.3-1.6-4.2-1.3z"/>
<path class="c66" d="M645.9 348.9l4.2 1.3 4.3 1.2 4.3 1.2 1.3-1.7-4.3-1.1-4.3-1.2-4.2-1.3z"/>
<path class="c6e" d="M500.3 281.1l3.6 1.2 1.8-1.4-3.6-1.1z"/>
<path class="c64" d="M503.9 282.3l3.7 1.3 1.8-1.4-3.7-1.3z"/>
<path class="c5c" d="M507.6 283.6l3.6 1.4 1.8-1.3-3.6-1.5z"/>
<path class="c6b" d="M511.2 285l3.7 1.6 3.7 1.7 1.8-1.4-3.7-1.7-3.7-1.5z"/>
<path class="c67" d="M518.6 288.3l3.8 1.7 3.7 1.8 3.8 1.8 1.7-1.4-3.7-1.8-3.8-1.8-3.7-1.7z"/>
<path class="c60" d="M529.9 293.6l3.7 2 3.8 2 1.7-1.4-3.7-2-3.8-2z"/>
<path class="c90" d="M537.4 297.6l3.8 2 1.7-1.4-3.8-2z"/>
<path class="c69" d="M541.2 299.6l3.8 2.2 3.8 2.1 3.9 2.1 3.8 2.2 3.9 2.2 3.8 2.3 3.9 2.3 3.9 2.2 3.9 2.3 3.9 2.2 3.9 2.2 4 2.2 3.9 2.2 1.5-1.5-3.9-2.2-3.9-2.3-3.9-2.1-3.9-2.2-3.9-2.3-3.9-2.2-3.8-2.3-3.9-2.2-3.8-2.3-3.9-2.1-3.8-2.1-3.8-2.2-3.8-2.1z"/>
<path class="c90" d="M591.6 328.3l4 2.2 3.9 2.1 1.5-1.5-3.9-2.1-4-2.2z"/>
<path class="c60" d="M599.5 332.6l4 2.1 1.5-1.6-4-2z"/>
<path class="c67" d="M603.5 334.7l4 1.9 1.5-1.5-4-2z"/>
<path class="c6b" d="M607.5 336.6l4 1.8 4.1 1.8 1.4-1.6-4-1.7-4-1.8z"/>
<path class="c5c" d="M615.6 340.2l4.1 1.6 4.1 1.6 1.4-1.6-4.1-1.6-4.1-1.6z"/>
<path class="c64" d="M623.8 343.4l4.1 1.5 4.1 1.5 1.4-1.6-4.1-1.5-4.1-1.5z"/>
<path class="c6e" d="M632 346.4l4.2 1.5 4.2 1.4 1.3-1.7-4.1-1.4-4.2-1.4z"/>
<path class="c5e" d="M640.4 349.3l4.2 1.3 1.3-1.7-4.2-1.3z"/>
<path class="c66" d="M644.6 350.6l4.2 1.3 4.3 1.3 4.3 1.2 1.3-1.8-4.3-1.2-4.3-1.2-4.2-1.3z"/>
<path class="c6e" d="M498.4 282.5l3.6 1.2 1.9-1.4-3.6-1.2z"/>
<path class="c64" d="M502 283.7l3.7 1.3 1.9-1.4-3.7-1.3z"/>
<path class="c5c" d="M505.7 285l3.7 1.4 1.8-1.4-3.6-1.4z"/>
<path class="c55" d="M509.4 286.4l3.7 1.6 1.8-1.4-3.7-1.6z"/>
<path class="c6b" d="M513.1 288l3.7 1.7 1.8-1.4-3.7-1.7z"/>
<path class="c67" d="M516.8 289.7l3.7 1.8 3.8 1.7 3.8 1.9 1.8-1.5-3.8-1.8-3.7-1.8-3.8-1.7z"/>
<path class="c60" d="M528.1 295.1l3.7 1.9 3.8 2 1.8-1.4-3.8-2-3.7-2z"/>
<path class="c90" d="M535.6 299l3.9 2.1 1.7-1.5-3.8-2z"/>
<path class="c69" d="M539.5 301.1l3.8 2.2 3.8 2.1 3.9 2.1 3.8 2.2 3.9 2.3 3.9 2.2 3.8 2.3 3.9 2.3 4 2.3 3.9 2.2 3.9 2.2 4 2.2 3.9 2.2 1.6-1.6-3.9-2.2-4-2.2-3.9-2.2-3.9-2.2-3.9-2.3-3.9-2.2-3.9-2.3-3.8-2.3-3.9-2.2-3.8-2.2-3.9-2.1-3.8-2.1-3.8-2.2z"/>
<path class="c90" d="M590 329.9l4 2.2 1.6-1.6-4-2.2z"/>
<path class="c60" d="M594 332.1l4 2.2 4 2 1.5-1.6-4-2.1-3.9-2.1z"/>
<path class="c67" d="M602 336.3l4 2 1.5-1.7-4-1.9z"/>
<path class="c6b" d="M606 338.3l4 1.8 4.1 1.7 1.5-1.6-4.1-1.8-4-1.8z"/>
<path class="c5c" d="M614.1 341.8l4.1 1.7 4.1 1.6 1.5-1.7-4.1-1.6-4.1-1.6z"/>
<path class="c64" d="M622.3 345.1l4.1 1.5 4.2 1.5 1.4-1.7-4.1-1.5-4.1-1.5z"/>
<path class="c6e" d="M630.6 348.1l4.1 1.5 4.2 1.4 1.5-1.7-4.2-1.4-4.2-1.5z"/>
<path class="c5e" d="M638.9 351l4.3 1.4 4.2 1.3 1.4-1.8-4.2-1.3-4.2-1.3z"/>
<path class="c66" d="M647.4 353.7l4.3 1.3 4.3 1.2 1.4-1.8-4.3-1.2-4.3-1.3z"/>
<path class="c6e" d="M496.5 284l3.6 1.1 1.9-1.4-3.6-1.2z"/>
<path class="c64" d="M500.1 285.1l3.7 1.3 1.9-1.4-3.7-1.3z"/>
<path class="c5c" d="M503.8 286.4l3.7 1.5 1.9-1.5-3.7-1.4z"/>
<path class="c55" d="M507.5 287.9l3.7 1.6 1.9-1.5-3.7-1.6z"/>
<path class="c6b" d="M511.2 289.5l3.7 1.7 1.9-1.5-3.7-1.7z"/>
<path class="c67" d="M514.9 291.2l3.8 1.8 3.7 1.8 3.8 1.8 1.9-1.5-3.8-1.9-3.8-1.7-3.7-1.8z"/>
<path class="c60" d="M526.2 296.6l3.8 2 3.8 2 1.8-1.6-3.8-2-3.7-1.9z"/>
<path class="c90" d="M533.8 300.6l3.8 2.1 1.9-1.6-3.9-2.1z"/>
<path class="c69" d="M537.6 302.7l3.9 2.1 3.8 2.2 3.9 2.1 3.9 2.2 3.8 2.3 3.9 2.2 3.9 2.3 3.9 2.3 4 2.3 3.9 2.3 4 2.2 3.9 2.2 4 2.2 1.6-1.7-3.9-2.2-4-2.2-3.9-2.2-3.9-2.2-4-2.3-3.9-2.3-3.8-2.3-3.9-2.2-3.9-2.3-3.8-2.2-3.9-2.1-3.8-2.1-3.8-2.2z"/>
<path class="c90" d="M588.4 331.6l4 2.2 1.6-1.7-4-2.2z"/>
<path class="c60" d="M592.4 333.8l4 2.1 4 2.1 1.6-1.7-4-2-4-2.2z"/>
<path class="c67" d="M600.4 338l4 2 1.6-1.7-4-2z"/>
<path class="c6b" d="M604.4 340l4.1 1.8 4.1 1.8 1.5-1.8-4.1-1.7-4-1.8z"/>
<path class="c5c" d="M612.6 343.6l4.1 1.6 4.1 1.6 1.5-1.7-4.1-1.6-4.1-1.7z"/>
<path class="c64" d="M620.8 346.8l4.1 1.6 4.2 1.5 4.2 1.5 1.4-1.8-4.1-1.5-4.2-1.5-4.1-1.5z"/>
<path class="c6e" d="M633.3 351.4l4.2 1.4 1.4-1.8-4.2-1.4z"/>
<path class="c5e" d="M637.5 352.8l4.2 1.4 4.3 1.4 1.4-1.9-4.2-1.3-4.3-1.4z"/>
<path class="c66" d="M646 355.6l4.3 1.3 4.3 1.3 1.4-2-4.3-1.2-4.3-1.3z"/>
<path class="c6e" d="M494.5 285.5l3.6 1.1 2-1.5-3.6-1.1z"/>
<path class="c64" d="M498.1 286.6l3.7 1.3 2-1.5-3.7-1.3z"/>
<path class="c5c" d="M501.8 287.9l3.7 1.5 2-1.5-3.7-1.5z"/>
<path class="c55" d="M505.5 289.4l3.7 1.6 2-1.5-3.7-1.6z"/>
<path class="c6b" d="M509.2 291l3.8 1.7 1.9-1.5-3.7-1.7z"/>
<path class="c67" d="M513 292.7l3.7 1.8 3.8 1.8 3.8 1.9 1.9-1.6-3.8-1.8-3.7-1.8-3.8-1.8z"/>
<path class="c60" d="M524.3 298.2l3.8 1.9 3.8 2.1 3.9 2.1 1.8-1.6-3.8-2.1-3.8-2-3.8-2z"/>
<path class="c69" d="M535.8 304.3l3.8 2.1 3.9 2.2 3.9 2.2 3.9 2.2 3.8 2.2 4 2.3 3.9 2.3 3.9 2.3 3.9 2.3 4 2.3 4 2.2 3.9 2.2 4 2.3 1.7-1.8-4-2.2-3.9-2.2-4-2.2-3.9-2.3-4-2.3-3.9-2.3-3.9-2.3-3.9-2.2-3.8-2.3-3.9-2.2-3.9-2.1-3.8-2.2-3.9-2.1z"/>
<path class="c90" d="M586.7 333.4l4 2.2 1.7-1.8-4-2.2z"/>
<path class="c60" d="M590.7 335.6l4 2.1 4.1 2.1 1.6-1.8-4-2.1-4-2.1z"/>
<path class="c67" d="M598.8 339.8l4 1.9 1.6-1.7-4-2z"/>
<path class="c6b" d="M602.8 341.7l4.1 1.9 1.6-1.8-4.1-1.8z"/>
<path class="c55" d="M606.9 343.6l4.1 1.7 1.6-1.7-4.1-1.8z"/>
<path class="c5c" d="M611 345.3l4.1 1.7 4.1 1.7 1.6-1.9-4.1-1.6-4.1-1.6z"/>
<path class="c64" d="M619.2 348.7l4.2 1.5 4.2 1.6 4.2 1.5 1.5-1.9-4.2-1.5-4.2-1.5-4.1-1.6z"/>
<path class="c6e" d="M631.8 353.3l4.2 1.4 1.5-1.9-4.2-1.4z"/>
<path class="c5e" d="M636 354.7l4.3 1.5 4.2 1.3 1.5-1.9-4.3-1.4-4.2-1.4z"/>
<path class="c66" d="M644.5 357.5l4.3 1.4 4.4 1.2 1.4-1.9-4.3-1.3-4.3-1.3z"/>
<path class="c5e" d="M492.4 287l3.7 1.2 2-1.6-3.6-1.1z"/>
<path class="c64" d="M496.1 288.2l3.7 1.3 2-1.6-3.7-1.3z"/>
<path class="c5c" d="M499.8 289.5l3.7 1.5 2-1.6-3.7-1.5z"/>
<path class="c55" d="M503.5 291l3.7 1.6 2-1.6-3.7-1.6z"/>
<path class="c6b" d="M507.2 292.6l3.8 1.8 2-1.7-3.8-1.7z"/>
<path class="c67" d="M511 294.4l3.8 1.7 3.8 1.8 3.8 1.9 1.9-1.6-3.8-1.9-3.8-1.8-3.7-1.8z"/>
<path class="c60" d="M522.4 299.8l3.8 2 3.8 2 3.9 2.1 1.9-1.6-3.9-2.1-3.8-2.1-3.8-1.9z"/>
<path class="c69" d="M533.9 305.9l3.8 2.2 3.9 2.2 3.9 2.1 3.9 2.3 3.9 2.2 3.9 2.3 4 2.4 3.9 2.3 4 2.3 3.9 2.3 4 2.2 4 2.2 4 2.3 1.7-1.8-4-2.3-3.9-2.2-4-2.2-4-2.3-3.9-2.3-3.9-2.3-3.9-2.3-4-2.3-3.8-2.2-3.9-2.2-3.9-2.2-3.9-2.2-3.8-2.1z"/>
<path class="c60" d="M585 335.2l4 2.2 4 2.1 4.1 2.1 1.7-1.8-4.1-2.1-4-2.1-4-2.2z"/>
<path class="c67" d="M597.1 341.6l4.1 2 1.6-1.9-4-1.9z"/>
<path class="c6b" d="M601.2 343.6l4 1.8 1.7-1.8-4.1-1.9z"/>
<path class="c55" d="M605.2 345.4l4.1 1.8 1.7-1.9-4.1-1.7z"/>
<path class="c5c" d="M609.3 347.2l4.2 1.7 4.1 1.7 1.6-1.9-4.1-1.7-4.1-1.7z"/>
<path class="c64" d="M617.6 350.6l4.2 1.5 4.2 1.6 4.2 1.5 1.6-1.9-4.2-1.5-4.2-1.6-4.2-1.5z"/>
<path class="c6e" d="M630.2 355.2l4.3 1.5 1.5-2-4.2-1.4z"/>
<path class="c5e" d="M634.5 356.7l4.2 1.4 4.3 1.4 1.5-2-4.2-1.3-4.3-1.5z"/>
<path class="c66" d="M643 359.5l4.3 1.4 4.4 1.3 1.5-2.1-4.4-1.2-4.3-1.4z"/>
<path class="c5e" d="M490.3 288.6l3.7 1.2 2.1-1.6-3.7-1.2z"/>
<path class="c64" d="M494 289.8l3.7 1.4 2.1-1.7-3.7-1.3z"/>
<path class="c5c" d="M497.7 291.2l3.7 1.5 2.1-1.7-3.7-1.5z"/>
<path class="c55" d="M501.4 292.7l3.8 1.6 2-1.7-3.7-1.6z"/>
<path class="c6b" d="M505.2 294.3l3.7 1.7 2.1-1.6-3.8-1.8z"/>
<path class="c67" d="M508.9 296l3.8 1.8 3.8 1.8 3.9 1.9 2-1.7-3.8-1.9-3.8-1.8-3.8-1.7z"/>
<path class="c60" d="M520.4 301.5l3.8 2 3.8 2 3.9 2.2 2-1.8-3.9-2.1-3.8-2-3.8-2z"/>
<path class="c69" d="M531.9 307.7l3.9 2.1 3.9 2.2 3.9 2.2 3.9 2.2 3.9 2.3 3.9 2.3 4 2.4 4 2.3 3.9 2.3 4 2.3 4 2.3 4 2.2 4 2.2 1.8-1.8-4-2.3-4-2.2-4-2.2-3.9-2.3-4-2.3-3.9-2.3-4-2.4-3.9-2.3-3.9-2.2-3.9-2.3-3.9-2.1-3.9-2.2-3.8-2.2z"/>
<path class="c60" d="M583.2 337l4.1 2.2 4 2.2 1.7-1.9-4-2.1-4-2.2z"/>
<path class="c67" d="M591.3 341.4l4.1 2.1 4 2 1.8-1.9-4.1-2-4.1-2.1z"/>
<path class="c6b" d="M599.4 345.5l4.1 1.8 1.7-1.9-4-1.8z"/>
<path class="c55" d="M603.5 347.3l4.2 1.8 1.6-1.9-4.1-1.8z"/>
<path class="c5c" d="M607.7 349.1l4.1 1.8 4.2 1.6 1.6-1.9-4.1-1.7-4.2-1.7z"/>
<path class="c64" d="M616 352.5l4.2 1.6 4.2 1.6 4.2 1.5 1.6-2-4.2-1.5-4.2-1.6-4.2-1.5z"/>
<path class="c6e" d="M628.6 357.2l4.3 1.5 1.6-2-4.3-1.5z"/>
<path class="c5e" d="M632.9 358.7l4.3 1.5 4.3 1.4 1.5-2.1-4.3-1.4-4.2-1.4z"/>
<path class="c66" d="M641.5 361.6l4.3 1.4 4.4 1.3 1.5-2.1-4.4-1.3-4.3-1.4z"/>
<path class="c5e" d="M488.2 290.3l3.6 1.2 2.2-1.7-3.7-1.2z"/>
<path class="c64" d="M491.8 291.5l3.8 1.3 2.1-1.6-3.7-1.4z"/>
<path class="c5c" d="M495.6 292.8l3.7 1.6 2.1-1.7-3.7-1.5z"/>
<path class="c55" d="M499.3 294.4l3.8 1.6 2.1-1.7-3.8-1.6z"/>
<path class="c6b" d="M503.1 296l3.7 1.7 2.1-1.7-3.7-1.7z"/>
<path class="c67" d="M506.8 297.7l3.8 1.8 3.9 1.9 3.8 1.8 2.1-1.7-3.9-1.9-3.8-1.8-3.8-1.8z"/>
<path class="c60" d="M518.3 303.2l3.8 2 3.9 2.1 3.9 2.1 2-1.7-3.9-2.2-3.8-2-3.8-2z"/>
<path class="c69" d="M529.9 309.4l3.9 2.2 3.9 2.2 3.9 2.2 3.9 2.3 4 2.3 3.9 2.3 4 2.4 4 2.3 3.9 2.4 4 2.2 4 2.3 4.1 2.2 4 2.3 1.8-2-4-2.2-4-2.2-4-2.3-4-2.3-3.9-2.3-4-2.3-4-2.4-3.9-2.3-3.9-2.3-3.9-2.2-3.9-2.2-3.9-2.2-3.9-2.1z"/>
<path class="c60" d="M581.4 339l4.1 2.2 4 2.2 1.8-2-4-2.2-4.1-2.2z"/>
<path class="c67" d="M589.5 343.4l4.1 2 4.1 2 1.7-1.9-4-2-4.1-2.1z"/>
<path class="c6b" d="M597.7 347.4l4.1 1.9 1.7-2-4.1-1.8z"/>
<path class="c55" d="M601.8 349.3l4.1 1.8 1.8-2-4.2-1.8z"/>
<path class="c5c" d="M605.9 351.1l4.2 1.8 4.2 1.6 1.7-2-4.2-1.6-4.1-1.8z"/>
<path class="c64" d="M614.3 354.5l4.2 1.7 4.2 1.5 4.3 1.6 1.6-2.1-4.2-1.5-4.2-1.6-4.2-1.6z"/>
<path class="c6e" d="M627 359.3l4.2 1.5 1.7-2.1-4.3-1.5z"/>
<path class="c5e" d="M631.2 360.8l4.3 1.5 4.4 1.5 1.6-2.2-4.3-1.4-4.3-1.5z"/>
<path class="c66" d="M639.9 363.8l4.3 1.3 4.4 1.4 1.6-2.2-4.4-1.3-4.3-1.4z"/>
<path class="c5e" d="M485.9 292l3.7 1.2 2.2-1.7-3.6-1.2z"/>
<path class="c64" d="M489.6 293.2l3.8 1.4 2.2-1.8-3.8-1.3z"/>
<path class="c5c" d="M493.4 294.6l3.7 1.5 2.2-1.7-3.7-1.6z"/>
<path class="c55" d="M497.1 296.1l3.8 1.7 2.2-1.8-3.8-1.6z"/>
<path class="c6b" d="M500.9 297.8l3.8 1.7 2.1-1.8-3.7-1.7z"/>
<path class="c67" d="M504.7 299.5l3.8 1.8 3.8 1.8 3.9 1.9 2.1-1.8-3.8-1.8-3.9-1.9-3.8-1.8z"/>
<path class="c60" d="M516.2 305l3.8 2 3.9 2.1 3.9 2.2 2.1-1.9-3.9-2.1-3.9-2.1-3.8-2z"/>
<path class="c69" d="M527.8 311.3l3.9 2.2 3.9 2.2 4 2.2 3.9 2.2 4 2.4 3.9 2.3 4 2.4 4 2.4 4 2.3 4 2.3 4 2.3 4.1 2.2 1.9-2-4.1-2.2-4-2.3-4-2.2-3.9-2.4-4-2.3-4-2.4-3.9-2.3-4-2.3-3.9-2.3-3.9-2.2-3.9-2.2-3.9-2.2z"/>
<path class="c60" d="M575.5 338.7l4 2.3 4.1 2.2 4.1 2.2 1.8-2-4-2.2-4.1-2.2-4-2.3z"/>
<path class="c67" d="M587.7 345.4l4.1 2.1 4.1 2 1.8-2.1-4.1-2-4.1-2z"/>
<path class="c6b" d="M595.9 349.5l4.1 1.9 1.8-2.1-4.1-1.9z"/>
<path class="c55" d="M600 351.4l4.2 1.8 1.7-2.1-4.1-1.8z"/>
<path class="c5c" d="M604.2 353.2l4.1 1.7 4.2 1.7 1.8-2.1-4.2-1.6-4.2-1.8z"/>
<path class="c64" d="M612.5 356.6l4.3 1.7 4.2 1.6 4.3 1.5 4.3 1.6 1.6-2.2-4.2-1.5-4.3-1.6-4.2-1.5-4.2-1.7z"/>
<path class="c5e" d="M629.6 363l4.3 1.5 4.3 1.5 4.4 1.4 1.6-2.3-4.3-1.3-4.4-1.5-4.3-1.5z"/>
<path class="c66" d="M642.6 367.4l4.4 1.3 1.6-2.2-4.4-1.4z"/>
<path class="c5e" d="M483.7 293.8l3.7 1.2 2.2-1.8-3.7-1.2z"/>
<path class="c64" d="M487.4 295l3.7 1.4 2.3-1.8-3.8-1.4z"/>
<path class="c5c" d="M491.1 296.4l3.8 1.5 2.2-1.8-3.7-1.5z"/>
<path class="c55" d="M494.9 297.9l3.8 1.7 2.2-1.8-3.8-1.7z"/>
<path class="c6b" d="M498.7 299.6l3.8 1.7 2.2-1.8-3.8-1.7z"/>
<path class="c67" d="M502.5 301.3l3.8 1.8 3.8 1.9 3.9 1.9 2.2-1.9-3.9-1.9-3.8-1.8-3.8-1.8z"/>
<path class="c60" d="M514 306.9l3.9 2 3.9 2.1 3.9 2.2 2.1-1.9-3.9-2.2-3.9-2.1-3.8-2z"/>
<path class="c63" d="M525.7 313.2l3.9 2.2 2.1-1.9-3.9-2.2z"/>
<path class="c69" d="M529.6 315.4l3.9 2.2 4 2.2 3.9 2.3 4 2.3 4 2.4 4 2.4 4 2.4 4 2.3 4 2.3 4.1 2.3 4 2.3 2-2.1-4.1-2.2-4-2.3-4-2.3-4-2.3-4-2.4-4-2.4-3.9-2.3-4-2.4-3.9-2.2-4-2.2-3.9-2.2z"/>
<path class="c60" d="M573.5 340.8l4.1 2.2 4.1 2.3 4.1 2.2 1.9-2.1-4.1-2.2-4.1-2.2-4-2.3z"/>
<path class="c67" d="M585.8 347.5l4.1 2.1 4.1 2 1.9-2.1-4.1-2-4.1-2.1z"/>
<path class="c6b" d="M594 351.6l4.2 1.9 1.8-2.1-4.1-1.9z"/>
<path class="c55" d="M598.2 353.5l4.2 1.8 1.8-2.1-4.2-1.8z"/>
<path class="c5c" d="M602.4 355.3l4.1 1.8 4.3 1.7 1.7-2.2-4.2-1.7-4.1-1.7z"/>
<path class="c64" d="M610.8 358.8l4.2 1.7 4.3 1.6 4.2 1.6 4.3 1.5 1.8-2.2-4.3-1.6-4.3-1.5-4.2-1.6-4.3-1.7z"/>
<path class="c5e" d="M627.8 365.2l4.4 1.5 4.3 1.5 4.4 1.5 1.7-2.3-4.4-1.4-4.3-1.5-4.3-1.5z"/>
<path class="c66" d="M640.9 369.7l4.4 1.4 1.7-2.4-4.4-1.3z"/>
<path class="c5e" d="M481.3 295.6l3.7 1.2 2.4-1.8-3.7-1.2z"/>
<path class="c64" d="M485 296.8l3.8 1.4 2.3-1.8-3.7-1.4z"/>
<path class="c5c" d="M488.8 298.2l3.8 1.6 2.3-1.9-3.8-1.5z"/>
<path class="c55" d="M492.6 299.8l3.8 1.6 2.3-1.8-3.8-1.7z"/>
<path class="c6b" d="M496.4 301.4l3.8 1.8 2.3-1.9-3.8-1.7z"/>
<path class="c67" d="M500.2 303.2l3.8 1.8 3.9 1.9 3.9 1.9 2.2-1.9-3.9-1.9-3.8-1.9-3.8-1.8z"/>
<path class="c60" d="M511.8 308.8l3.9 2.1 3.9 2.1 3.9 2.1 2.2-1.9-3.9-2.2-3.9-2.1-3.9-2z"/>
<path class="c63" d="M523.5 315.1l3.9 2.2 2.2-1.9-3.9-2.2z"/>
<path class="c69" d="M527.4 317.3l4 2.3 3.9 2.2 4 2.3 4 2.3 4 2.4 4 2.4 4 2.4 4.1 2.4 4 2.3 4.1 2.3 2-2.1-4.1-2.3-4-2.3-4-2.3-4-2.4-4-2.4-4-2.4-4-2.3-3.9-2.3-4-2.2-3.9-2.2z"/>
<path class="c63" d="M567.5 340.6l4.1 2.3 1.9-2.1-4-2.3z"/>
<path class="c60" d="M571.6 342.9l4 2.3 4.1 2.2 4.1 2.2 2-2.1-4.1-2.2-4.1-2.3-4.1-2.2z"/>
<path class="c67" d="M583.8 349.6l4.2 2.1 4.1 2 1.9-2.1-4.1-2-4.1-2.1z"/>
<path class="c6b" d="M592.1 353.7l4.2 2 1.9-2.2-4.2-1.9z"/>
<path class="c55" d="M596.3 355.7l4.2 1.8 1.9-2.2-4.2-1.8z"/>
<path class="c5c" d="M600.5 357.5l4.2 1.8 4.2 1.7 1.9-2.2-4.3-1.7-4.1-1.8z"/>
<path class="c64" d="M608.9 361l4.3 1.7 4.3 1.6 4.3 1.6 4.3 1.6 1.7-2.3-4.3-1.5-4.2-1.6-4.3-1.6-4.2-1.7z"/>
<path class="c5e" d="M626.1 367.5l4.3 1.6 4.4 1.5 4.4 1.4 1.7-2.3-4.4-1.5-4.3-1.5-4.4-1.5z"/>
<path class="c66" d="M639.2 372l4.4 1.4 1.7-2.3-4.4-1.4z"/>
<path class="c5e" d="M478.9 297.5l3.7 1.2 2.4-1.9-3.7-1.2z"/>
<path class="c64" d="M482.6 298.7l3.8 1.4 2.4-1.9-3.8-1.4z"/>
<path class="c5c" d="M486.4 300.1l3.8 1.6 2.4-1.9-3.8-1.6z"/>
<path class="c55" d="M490.2 301.7l3.8 1.7 2.4-2-3.8-1.6z"/>
<path class="c6b" d="M494 303.4l3.9 1.8 2.3-2-3.8-1.8z"/>
<path class="c67" d="M497.9 305.2l3.8 1.8 3.9 1.9 3.9 1.9 2.3-2-3.9-1.9-3.9-1.9-3.8-1.8z"/>
<path class="c60" d="M509.5 310.8l3.9 2 3.9 2.2 3.9 2.1 2.3-2-3.9-2.1-3.9-2.1-3.9-2.1z"/>
<path class="c63" d="M521.2 317.1l4 2.3 2.2-2.1-3.9-2.2z"/>
<path class="c69" d="M525.2 319.4l4 2.2 3.9 2.3 4 2.3 4 2.3 4.1 2.4 4 2.5 4 2.4 4.1 2.4 4 2.3 4.1 2.3 2.1-2.2-4.1-2.3-4-2.3-4.1-2.4-4-2.4-4-2.4-4-2.4-4-2.3-4-2.3-3.9-2.2-4-2.3z"/>
<path class="c63" d="M565.4 342.8l4.1 2.3 2.1-2.2-4.1-2.3z"/>
<path class="c60" d="M569.5 345.1l4.1 2.3 4.1 2.2 4.2 2.2 1.9-2.2-4.1-2.2-4.1-2.2-4-2.3z"/>
<path class="c67" d="M581.9 351.8l4.1 2.1 4.2 2.1 1.9-2.3-4.1-2-4.2-2.1z"/>
<path class="c6b" d="M590.2 356l4.2 1.9 1.9-2.2-4.2-2z"/>
<path class="c55" d="M594.4 357.9l4.2 1.9 1.9-2.3-4.2-1.8z"/>
<path class="c5c" d="M598.6 359.8l4.2 1.8 4.2 1.7 1.9-2.3-4.2-1.7-4.2-1.8z"/>
<path class="c64" d="M607 363.3l4.3 1.7 4.3 1.7 4.3 1.6 4.4 1.6 1.8-2.4-4.3-1.6-4.3-1.6-4.3-1.6-4.3-1.7z"/>
<path class="c5e" d="M624.3 369.9l4.3 1.6 4.4 1.5 4.4 1.5 1.8-2.5-4.4-1.4-4.4-1.5-4.3-1.6z"/>
<path class="c66" d="M637.4 374.5l4.5 1.4 1.7-2.5-4.4-1.4z"/>
<path class="c5e" d="M476.5 299.5l3.7 1.2 2.4-2-3.7-1.2z"/>
<path class="c64" d="M480.2 300.7l3.8 1.4 2.4-2-3.8-1.4z"/>
<path class="c5c" d="M484 302.1l3.8 1.6 2.4-2-3.8-1.6z"/>
<path class="c55" d="M487.8 303.7l3.8 1.7 2.4-2-3.8-1.7z"/>
<path class="c6b" d="M491.6 305.4l3.9 1.7 2.4-1.9-3.9-1.8z"/>
<path class="c67" d="M495.5 307.1l3.8 1.9 3.9 1.9 3.9 1.9 2.4-2-3.9-1.9-3.9-1.9-3.8-1.8z"/>
<path class="c60" d="M507.1 312.8l3.9 2.1 4 2.1 3.9 2.2 2.3-2.1-3.9-2.1-3.9-2.2-3.9-2z"/>
<path class="c63" d="M518.9 319.2l4 2.2 2.3-2-4-2.3z"/>
<path class="c69" d="M522.9 321.4l4 2.3 4 2.3 4 2.3 4 2.4 4.1 2.4 4 2.4 4.1 2.5 4 2.4 4.1 2.3 4.1 2.3 2.1-2.2-4.1-2.3-4-2.3-4.1-2.4-4-2.4-4-2.5-4.1-2.4-4-2.3-4-2.3-3.9-2.3-4-2.2z"/>
<path class="c63" d="M563.3 345l4.1 2.3 2.1-2.2-4.1-2.3z"/>
<path class="c60" d="M567.4 347.3l4.1 2.3 4.2 2.3 4.1 2.2 2.1-2.3-4.2-2.2-4.1-2.2-4.1-2.3z"/>
<path class="c67" d="M579.8 354.1l4.2 2.1 4.2 2.1 2-2.3-4.2-2.1-4.1-2.1z"/>
<path class="c6b" d="M588.2 358.3l4.2 2 2-2.4-4.2-1.9z"/>
<path class="c55" d="M592.4 360.3l4.2 1.8 2-2.3-4.2-1.9z"/>
<path class="c5c" d="M596.6 362.1l4.2 1.8 4.3 1.8 1.9-2.4-4.2-1.7-4.2-1.8z"/>
<path class="c64" d="M605.1 365.7l4.3 1.7 4.3 1.7 4.3 1.6 4.4 1.6 1.9-2.4-4.4-1.6-4.3-1.6-4.3-1.7-4.3-1.7z"/>
<path class="c5e" d="M622.4 372.3l4.4 1.6 4.4 1.6 4.4 1.5 1.8-2.5-4.4-1.5-4.4-1.5-4.3-1.6z"/>
<path class="c66" d="M635.6 377l4.5 1.4 1.8-2.5-4.5-1.4z"/>
<path class="c5e" d="M473.9 301.5l3.8 1.2 2.5-2-3.7-1.2z"/>
<path class="c64" d="M477.7 302.7l3.8 1.4 2.5-2-3.8-1.4z"/>
<path class="c5c" d="M481.5 304.1l3.8 1.6 2.5-2-3.8-1.6z"/>
<path class="c55" d="M485.3 305.7l3.8 1.7 2.5-2-3.8-1.7z"/>
<path class="c6b" d="M489.1 307.4l3.9 1.8 2.5-2.1-3.9-1.7z"/>
<path class="c67" d="M493 309.2l3.9 1.9 3.9 1.9 3.9 1.9 2.4-2.1-3.9-1.9-3.9-1.9-3.8-1.9z"/>
<path class="c60" d="M504.7 314.9l4 2.1 3.9 2.1 4 2.2 2.3-2.1-3.9-2.2-4-2.1-3.9-2.1z"/>
<path class="c63" d="M516.6 321.3l4 2.3 2.3-2.2-4-2.2z"/>
<path class="c69" d="M520.6 323.6l4 2.3 4 2.3 4 2.3 4.1 2.4 4 2.4 4.1 2.5 4 2.4 4.1 2.5 4.1 2.3 2.2-2.3-4.1-2.3-4-2.4-4.1-2.5-4-2.4-4.1-2.4-4-2.4-4-2.3-4-2.3-4-2.3z"/>
<path class="c63" d="M557 345l4.1 2.3 4.2 2.4 2.1-2.4-4.1-2.3-4.1-2.3z"/>
<path class="c60" d="M565.3 349.7l4.1 2.3 4.2 2.2 4.1 2.3 2.1-2.4-4.1-2.2-4.2-2.3-4.1-2.3z"/>
<path class="c67" d="M577.7 356.5l4.2 2.1 4.2 2.1 2.1-2.4-4.2-2.1-4.2-2.1z"/>
<path class="c6b" d="M586.1 360.7l4.2 1.9 2.1-2.3-4.2-2z"/>
<path class="c55" d="M590.3 362.6l4.3 1.9 2-2.4-4.2-1.8z"/>
<path class="c5c" d="M594.6 364.5l4.2 1.9 4.3 1.7 2-2.4-4.3-1.8-4.2-1.8z"/>
<path class="c64" d="M603.1 368.1l4.3 1.8 4.3 1.7 4.4 1.6 4.4 1.7 1.9-2.6-4.4-1.6-4.3-1.6-4.3-1.7-4.3-1.7z"/>
<path class="c6e" d="M620.5 374.9l4.4 1.6 1.9-2.6-4.4-1.6z"/>
<path class="c5e" d="M624.9 376.5l4.4 1.5 4.5 1.6 1.8-2.6-4.4-1.5-4.4-1.6z"/>
<path class="c66" d="M633.8 379.6l4.4 1.4 1.9-2.6-4.5-1.4z"/>
<path class="c5e" d="M471.3 303.5l3.8 1.3 2.6-2.1-3.8-1.2z"/>
<path class="c64" d="M475.1 304.8l3.8 1.4 2.6-2.1-3.8-1.4z"/>
<path class="c5c" d="M478.9 306.2l3.8 1.6 2.6-2.1-3.8-1.6z"/>
<path class="c55" d="M482.7 307.8l3.9 1.7 2.5-2.1-3.8-1.7z"/>
<path class="c6b" d="M486.6 309.5l3.9 1.8 2.5-2.1-3.9-1.8z"/>
<path class="c67" d="M490.5 311.3l3.9 1.9 3.9 1.9 3.9 2 2.5-2.2-3.9-1.9-3.9-1.9-3.9-1.9z"/>
<path class="c60" d="M502.2 317.1l4 2.1 4 2.1 4 2.2 2.4-2.2-4-2.2-3.9-2.1-4-2.1z"/>
<path class="c63" d="M514.2 323.5l4 2.3 4 2.3 2.4-2.2-4-2.3-4-2.3z"/>
<path class="c69" d="M522.2 328.1l4 2.3 4.1 2.3 4 2.5 4.1 2.4 4.1 2.5 4.1 2.5 4.1 2.4 4.1 2.4 2.2-2.4-4.1-2.3-4.1-2.5-4-2.4-4.1-2.5-4-2.4-4.1-2.4-4-2.3-4-2.3z"/>
<path class="c63" d="M554.8 347.4l4.1 2.3 2.2-2.4-4.1-2.3z"/>
<path class="c60" d="M558.9 349.7l4.2 2.3 4.1 2.4 4.2 2.2 4.2 2.3 2.1-2.4-4.1-2.3-4.2-2.2-4.1-2.3-4.2-2.4z"/>
<path class="c67" d="M575.6 358.9l4.2 2.1 4.2 2.1 2.1-2.4-4.2-2.1-4.2-2.1z"/>
<path class="c6b" d="M584 363.1l4.2 2 2.1-2.5-4.2-1.9z"/>
<path class="c55" d="M588.2 365.1l4.3 1.9 2.1-2.5-4.3-1.9z"/>
<path class="c5c" d="M592.5 367l4.3 1.9 4.3 1.8 2-2.6-4.3-1.7-4.2-1.9z"/>
<path class="c64" d="M601.1 370.7l4.3 1.7 4.3 1.7 4.4 1.7 4.4 1.6 2-2.5-4.4-1.7-4.4-1.6-4.3-1.7-4.3-1.8z"/>
<path class="c6e" d="M618.5 377.4l4.4 1.7 2-2.6-4.4-1.6z"/>
<path class="c5e" d="M622.9 379.1l4.5 1.6 4.5 1.5 4.5 1.5 1.8-2.7-4.4-1.4-4.5-1.6-4.4-1.5z"/>
<path class="c5e" d="M468.7 305.6l3.8 1.3 2.6-2.1-3.8-1.3z"/>
<path class="c64" d="M472.5 306.9l3.8 1.4 2.6-2.1-3.8-1.4z"/>
<path class="c5c" d="M476.3 308.3l3.8 1.6 2.6-2.1-3.8-1.6z"/>
<path class="c55" d="M480.1 309.9l3.9 1.8 2.6-2.2-3.9-1.7z"/>
<path class="c6b" d="M484 311.7l3.9 1.8 2.6-2.2-3.9-1.8z"/>
<path class="c67" d="M487.9 313.5l3.9 1.9 4 1.9 3.9 2 2.5-2.2-3.9-2-3.9-1.9-3.9-1.9z"/>
<path class="c60" d="M499.7 319.3l4 2.1 4 2.2 4 2.2 2.5-2.3-4-2.2-4-2.1-4-2.1z"/>
<path class="c63" d="M511.7 325.8l4 2.3 4 2.3 2.5-2.3-4-2.3-4-2.3z"/>
<path class="c69" d="M519.7 330.4l4.1 2.3 4 2.4 4.1 2.4 4.1 2.5 4.1 2.5 4.1 2.4 4.1 2.5 4.2 2.4 2.3-2.4-4.1-2.4-4.1-2.4-4.1-2.5-4.1-2.5-4.1-2.4-4-2.5-4.1-2.3-4-2.3z"/>
<path class="c63" d="M552.5 349.8l4.1 2.4 2.3-2.5-4.1-2.3z"/>
<path class="c60" d="M556.6 352.2l4.2 2.3 4.2 2.3 4.2 2.3 4.2 2.3 2.2-2.5-4.2-2.3-4.2-2.2-4.1-2.4-4.2-2.3z"/>
<path class="c67" d="M573.4 361.4l4.2 2.1 4.2 2.1 2.2-2.5-4.2-2.1-4.2-2.1z"/>
<path class="c6b" d="M581.8 365.6l4.3 2 2.1-2.5-4.2-2z"/>
<path class="c55" d="M586.1 367.6l4.3 2 2.1-2.6-4.3-1.9z"/>
<path class="c5c" d="M590.4 369.6l4.3 1.8 4.3 1.8 2.1-2.5-4.3-1.8-4.3-1.9z"/>
<path class="c64" d="M599 373.2l4.3 1.8 4.4 1.7 4.4 1.7 4.4 1.7 2-2.7-4.4-1.6-4.4-1.7-4.3-1.7-4.3-1.7z"/>
<path class="c6e" d="M616.5 380.1l4.4 1.7 2-2.7-4.4-1.7z"/>
<path class="c5e" d="M620.9 381.8l4.5 1.6 4.5 1.5 4.5 1.5 2-2.7-4.5-1.5-4.5-1.5-4.5-1.6z"/>
<path class="c5e" d="M466 307.8l3.8 1.3 2.7-2.2-3.8-1.3z"/>
<path class="c64" d="M469.8 309.1l3.8 1.5 2.7-2.3-3.8-1.4z"/>
<path class="c5c" d="M473.6 310.6l3.9 1.6 2.6-2.3-3.8-1.6z"/>
<path class="c55" d="M477.5 312.2l3.9 1.7 2.6-2.2-3.9-1.8z"/>
<path class="c6b" d="M481.4 313.9l3.9 1.9 2.6-2.3-3.9-1.8z"/>
<path class="c67" d="M485.3 315.8l3.9 1.9 3.9 1.9 4 2 2.6-2.3-3.9-2-4-1.9-3.9-1.9z"/>
<path class="c60" d="M497.1 321.6l4 2.1 4 2.2 4 2.2 2.6-2.3-4-2.2-4-2.2-4-2.1z"/>
<path class="c63" d="M509.1 328.1l4.1 2.3 4 2.4 4.1 2.3 2.5-2.4-4.1-2.3-4-2.3-4-2.3z"/>
<path class="c69" d="M521.3 335.1l4.1 2.4 4.1 2.4 4.1 2.5 4.1 2.5 4.1 2.5 4.2 2.5 4.1 2.4 2.4-2.5-4.2-2.4-4.1-2.5-4.1-2.4-4.1-2.5-4.1-2.5-4.1-2.4-4-2.4z"/>
<path class="c63" d="M550.1 352.3l4.2 2.4 2.3-2.5-4.1-2.4z"/>
<path class="c60" d="M554.3 354.7l4.2 2.3 4.2 2.4 4.2 2.3 4.2 2.2 2.3-2.5-4.2-2.3-4.2-2.3-4.2-2.3-4.2-2.3z"/>
<path class="c67" d="M571.1 363.9l4.2 2.2 4.3 2.1 2.2-2.6-4.2-2.1-4.2-2.1z"/>
<path class="c6b" d="M579.6 368.2l4.3 2 2.2-2.6-4.3-2z"/>
<path class="c55" d="M583.9 370.2l4.3 2 2.2-2.6-4.3-2z"/>
<path class="c5c" d="M588.2 372.2l4.3 1.9 4.3 1.8 2.2-2.7-4.3-1.8-4.3-1.8z"/>
<path class="c64" d="M596.8 375.9l4.4 1.7 4.4 1.8 4.4 1.7 4.4 1.7 2.1-2.7-4.4-1.7-4.4-1.7-4.4-1.7-4.3-1.8z"/>
<path class="c6e" d="M614.4 382.8l4.5 1.7 2-2.7-4.4-1.7z"/>
<path class="c5e" d="M618.9 384.5l4.5 1.6 4.5 1.6 4.5 1.5 2-2.8-4.5-1.5-4.5-1.5-4.5-1.6z"/>
<path class="c5e" d="M463.2 310.1l3.8 1.3 2.8-2.3-3.8-1.3z"/>
<path class="c64" d="M467 311.4l3.9 1.5 2.7-2.3-3.8-1.5z"/>
<path class="c5c" d="M470.9 312.9l3.8 1.6 2.8-2.3-3.9-1.6z"/>
<path class="c55" d="M474.7 314.5l3.9 1.8 4 1.8 2.7-2.3-3.9-1.9-3.9-1.7z"/>
<path class="c67" d="M482.6 318.1l3.9 2 4 1.9 4 2 2.6-2.4-4-2-3.9-1.9-3.9-1.9z"/>
<path class="c60" d="M494.5 324l4 2.1 4 2.2 4 2.3 2.6-2.5-4-2.2-4-2.2-4-2.1z"/>
<path class="c63" d="M506.5 330.6l4.1 2.3 4.1 2.3 4 2.4 2.6-2.5-4.1-2.3-4-2.4-4.1-2.3z"/>
<path class="c69" d="M518.7 337.6l4.1 2.4 4.2 2.4 4.1 2.5 4.1 2.6 4.2 2.5 4.1 2.5 4.2 2.4 2.4-2.6-4.1-2.4-4.2-2.5-4.1-2.5-4.1-2.5-4.1-2.5-4.1-2.4-4.1-2.4z"/>
<path class="c63" d="M547.7 354.9l4.2 2.4 2.4-2.6-4.2-2.4z"/>
<path class="c60" d="M551.9 357.3l4.2 2.3 4.2 2.4 4.2 2.3 4.3 2.2 2.3-2.6-4.2-2.2-4.2-2.3-4.2-2.4-4.2-2.3z"/>
<path class="c67" d="M568.8 366.5l4.2 2.2 4.3 2.2 2.3-2.7-4.3-2.1-4.2-2.2z"/>
<path class="c6b" d="M577.3 370.9l4.3 2 2.3-2.7-4.3-2z"/>
<path class="c55" d="M581.6 372.9l4.3 1.9 2.3-2.6-4.3-2z"/>
<path class="c5c" d="M585.9 374.8l4.4 1.9 4.3 1.9 2.2-2.7-4.3-1.8-4.3-1.9z"/>
<path class="c64" d="M594.6 378.6l4.4 1.7 4.4 1.8 4.4 1.7 4.5 1.7 2.1-2.7-4.4-1.7-4.4-1.7-4.4-1.8-4.4-1.7z"/>
<path class="c6e" d="M612.3 385.5l4.5 1.7 2.1-2.7-4.5-1.7z"/>
<path class="c5e" d="M616.8 387.2l4.5 1.6 4.5 1.6 4.6 1.6 2-2.8-4.5-1.5-4.5-1.6-4.5-1.6z"/>
<path class="c5e" d="M460.4 312.5l3.8 1.3 2.8-2.4-3.8-1.3z"/>
<path class="c64" d="M464.2 313.8l3.8 1.5 2.9-2.4-3.9-1.5z"/>
<path class="c5c" d="M468 315.3l3.9 1.6 2.8-2.4-3.8-1.6z"/>
<path class="c55" d="M471.9 316.9l3.9 1.8 4 1.9 2.8-2.5-4-1.8-3.9-1.8z"/>
<path class="c67" d="M479.8 320.6l4 1.9 3.9 2 4 2 2.8-2.5-4-2-4-1.9-3.9-2z"/>
<path class="c60" d="M491.7 326.5l4.1 2.1 4 2.2 4.1 2.3 4 2.3 2.7-2.5-4.1-2.3-4-2.3-4-2.2-4-2.1z"/>
<path class="c63" d="M507.9 335.4l4.1 2.3 4.1 2.4 2.6-2.5-4-2.4-4.1-2.3z"/>
<path class="c69" d="M516.1 340.1l4.1 2.4 4.2 2.5 4.1 2.5 4.2 2.6 4.2 2.5 4.1 2.5 2.5-2.6-4.1-2.5-4.2-2.5-4.1-2.6-4.1-2.5-4.2-2.4-4.1-2.4z"/>
<path class="c63" d="M541 355.1l4.2 2.5 4.2 2.3 2.5-2.6-4.2-2.4-4.2-2.4z"/>
<path class="c60" d="M549.4 359.9l4.3 2.4 4.2 2.4 4.2 2.3 4.3 2.2 2.4-2.7-4.3-2.2-4.2-2.3-4.2-2.4-4.2-2.3z"/>
<path class="c67" d="M566.4 369.2l4.3 2.2 4.3 2.2 2.3-2.7-4.3-2.2-4.2-2.2z"/>
<path class="c6b" d="M575 373.6l4.3 2 2.3-2.7-4.3-2z"/>
<path class="c55" d="M579.3 375.6l4.3 2 2.3-2.8-4.3-1.9z"/>
<path class="c5c" d="M583.6 377.6l4.4 1.9 4.4 1.8 2.2-2.7-4.3-1.9-4.4-1.9z"/>
<path class="c64" d="M592.4 381.3l4.4 1.8 4.4 1.8 4.5 1.7 4.4 1.7 2.2-2.8-4.5-1.7-4.4-1.7-4.4-1.8-4.4-1.7z"/>
<path class="c6e" d="M610.1 388.3l4.5 1.7 2.2-2.8-4.5-1.7z"/>
<path class="c5e" d="M614.6 390l4.6 1.7 4.5 1.6 2.1-2.9-4.5-1.6-4.5-1.6z"/>
<path class="c66" d="M623.7 393.3l4.6 1.5 2.1-2.8-4.6-1.6z"/>
<path class="c5e" d="M457.4 314.9l3.9 1.3 2.9-2.4-3.8-1.3z"/>
<path class="c64" d="M461.3 316.2l3.8 1.5 2.9-2.4-3.8-1.5z"/>
<path class="c5c" d="M465.1 317.7l4 1.7 2.8-2.5-3.9-1.6z"/>
<path class="c55" d="M469.1 319.4l3.9 1.8 4 1.9 2.8-2.5-4-1.9-3.9-1.8z"/>
<path class="c67" d="M477 323.1l3.9 1.9 4 2 4 2 2.8-2.5-4-2-3.9-2-4-1.9z"/>
<path class="c60" d="M488.9 329l4.1 2.2 4 2.2 4.1 2.3 4.1 2.3 2.7-2.6-4-2.3-4.1-2.3-4-2.2-4.1-2.1z"/>
<path class="c63" d="M505.2 338l4.1 2.3 4.1 2.4 2.7-2.6-4.1-2.4-4.1-2.3z"/>
<path class="c69" d="M513.4 342.7l4.2 2.4 4.1 2.5 4.2 2.6 4.2 2.6 4.2 2.5 4.2 2.5 2.5-2.7-4.1-2.5-4.2-2.5-4.2-2.6-4.1-2.5-4.2-2.5-4.1-2.4z"/>
<path class="c63" d="M538.5 357.8l4.2 2.5 4.2 2.4 2.5-2.8-4.2-2.3-4.2-2.5z"/>
<path class="c60" d="M546.9 362.7l4.2 2.4 4.3 2.3 4.3 2.4 4.3 2.2 2.4-2.8-4.3-2.2-4.2-2.3-4.2-2.4-4.3-2.4z"/>
<path class="c67" d="M564 372l4.3 2.2 4.3 2.2 2.4-2.8-4.3-2.2-4.3-2.2z"/>
<path class="c6b" d="M572.6 376.4l4.3 2 2.4-2.8-4.3-2z"/>
<path class="c55" d="M576.9 378.4l4.4 2 2.3-2.8-4.3-2z"/>
<path class="c5c" d="M581.3 380.4l4.3 1.9 4.5 1.9 2.3-2.9-4.4-1.8-4.4-1.9z"/>
<path class="c64" d="M590.1 384.2l4.4 1.8 4.4 1.8 4.5 1.7 4.5 1.7 2.2-2.9-4.4-1.7-4.5-1.7-4.4-1.8-4.4-1.8z"/>
<path class="c6e" d="M607.9 391.2l4.5 1.7 2.2-2.9-4.5-1.7z"/>
<path class="c5e" d="M612.4 392.9l4.6 1.7 4.6 1.6 2.1-2.9-4.5-1.6-4.6-1.7z"/>
<path class="c66" d="M621.6 396.2l4.6 1.5 2.1-2.9-4.6-1.5z"/>
<path class="c5e" d="M454.5 317.4l3.8 1.3 3-2.5-3.9-1.3z"/>
<path class="c64" d="M458.3 318.7l3.9 1.5 2.9-2.5-3.8-1.5z"/>
<path class="c5c" d="M462.2 320.2l3.9 1.7 3-2.5-4-1.7z"/>
<path class="c55" d="M466.1 321.9l4 1.8 3.9 1.9 3-2.5-4-1.9-3.9-1.8z"/>
<path class="c67" d="M474 325.6l4 2 4.1 2 4 2 2.8-2.6-4-2-4-2-3.9-1.9z"/>
<path class="c60" d="M486.1 331.6l4 2.2 4.1 2.2 4.1 2.3 4.1 2.3 2.8-2.6-4.1-2.3-4.1-2.3-4-2.2-4.1-2.2z"/>
<path class="c63" d="M502.4 340.6l4.2 2.4 4.1 2.4 2.7-2.7-4.1-2.4-4.1-2.3z"/>
<path class="c69" d="M510.7 345.4l4.2 2.4 4.1 2.5 4.2 2.6 4.2 2.6 4.2 2.6 4.2 2.5 2.7-2.8-4.2-2.5-4.2-2.5-4.2-2.6-4.2-2.6-4.1-2.5-4.2-2.4z"/>
<path class="c63" d="M535.8 360.6l4.3 2.5 2.6-2.8-4.2-2.5z"/>
<path class="c60" d="M540.1 363.1l4.2 2.4 4.3 2.4 4.3 2.4 4.2 2.3 2.6-2.8-4.3-2.4-4.3-2.3-4.2-2.4-4.2-2.4z"/>
<path class="c67" d="M557.1 372.6l4.4 2.3 4.3 2.2 4.3 2.1 2.5-2.8-4.3-2.2-4.3-2.2-4.3-2.2z"/>
<path class="c6b" d="M570.1 379.2l4.4 2.1 2.4-2.9-4.3-2z"/>
<path class="c55" d="M574.5 381.3l4.4 2 2.4-2.9-4.4-2z"/>
<path class="c5c" d="M578.9 383.3l4.4 1.9 4.4 1.9 2.4-2.9-4.5-1.9-4.3-1.9z"/>
<path class="c64" d="M587.7 387.1l4.4 1.8 4.5 1.8 4.5 1.8 4.5 1.7 2.3-3-4.5-1.7-4.5-1.7-4.4-1.8-4.4-1.8z"/>
<path class="c5e" d="M605.6 394.2l4.6 1.7 4.5 1.7 4.6 1.6 2.3-3-4.6-1.6-4.6-1.7-4.5-1.7z"/>
<path class="c66" d="M619.3 399.2l4.7 1.6 2.2-3.1-4.6-1.5z"/>
<path class="c5e" d="M451.4 319.9l3.9 1.4 3-2.6-3.8-1.3z"/>
<path class="c64" d="M455.3 321.3l3.9 1.5 3-2.6-3.9-1.5z"/>
<path class="c5c" d="M459.2 322.8l3.9 1.7 3-2.6-3.9-1.7z"/>
<path class="c55" d="M463.1 324.5l4 1.8 4 1.9 2.9-2.6-3.9-1.9-4-1.8z"/>
<path class="c67" d="M471.1 328.2l4 2 4 2 4.1 2.1 4 2.2 2.9-2.7-4-2.2-4-2-4.1-2-4-2z"/>
<path class="c60" d="M487.2 336.5l4.1 2.2 4.1 2.3 4.2 2.3 2.8-2.7-4.1-2.3-4.1-2.3-4.1-2.2z"/>
<path class="c63" d="M499.6 343.3l4.1 2.4 4.2 2.4 2.8-2.7-4.1-2.4-4.2-2.4z"/>
<path class="c69" d="M507.9 348.1l4.2 2.5 4.1 2.5 4.3 2.6 4.2 2.6 4.2 2.6 4.3 2.6 2.6-2.9-4.2-2.5-4.2-2.6-4.2-2.6-4.2-2.6-4.1-2.5-4.2-2.4z"/>
<path class="c63" d="M533.2 363.5l4.2 2.5 2.7-2.9-4.3-2.5z"/>
<path class="c60" d="M537.4 366l4.3 2.4 4.3 2.4 4.3 2.4 4.3 2.3 2.5-2.9-4.2-2.3-4.3-2.4-4.3-2.4-4.2-2.4z"/>
<path class="c67" d="M554.6 375.5l4.3 2.3 4.3 2.2 4.4 2.2 2.5-3-4.3-2.1-4.3-2.2-4.4-2.3z"/>
<path class="c55" d="M567.6 382.2l4.4 2.1 4.4 2 2.5-3-4.4-2-4.4-2.1z"/>
<path class="c5c" d="M576.4 386.3l4.4 1.9 4.4 1.9 2.5-3-4.4-1.9-4.4-1.9z"/>
<path class="c64" d="M585.2 390.1l4.5 1.8 4.5 1.8 4.5 1.8 4.6 1.8 2.3-3.1-4.5-1.7-4.5-1.8-4.5-1.8-4.4-1.8z"/>
<path class="c5e" d="M603.3 397.3l4.5 1.7 4.6 1.7 4.7 1.6 2.2-3.1-4.6-1.6-4.5-1.7-4.6-1.7z"/>
<path class="c66" d="M617.1 402.3l4.6 1.6 2.3-3.1-4.7-1.6z"/>
<path class="c5e" d="M448.3 322.5l3.8 1.4 3.2-2.6-3.9-1.4z"/>
<path class="c64" d="M452.1 323.9l4 1.5 3.1-2.6-3.9-1.5z"/>
<path class="c5c" d="M456.1 325.4l3.9 1.7 3.1-2.6-3.9-1.7z"/>
<path class="c55" d="M460 327.1l4 1.9 4 1.9 3.1-2.7-4-1.9-4-1.8z"/>
<path class="c67" d="M468 330.9l4 2 4.1 2.1 4.1 2 4.1 2.2 2.9-2.7-4-2.2-4.1-2.1-4-2-4-2z"/>
<path class="c60" d="M484.3 339.2l4.1 2.2 4.1 2.3 4.1 2.4 3-2.8-4.2-2.3-4.1-2.3-4.1-2.2z"/>
<path class="c63" d="M496.6 346.1l4.2 2.4 4.2 2.4 2.9-2.8-4.2-2.4-4.1-2.4z"/>
<path class="c69" d="M505 350.9l4.2 2.5 4.2 2.6 4.2 2.6 4.3 2.6 4.2 2.6 4.3 2.6 2.8-2.9-4.3-2.6-4.2-2.6-4.2-2.6-4.3-2.6-4.1-2.5-4.2-2.5z"/>
<path class="c63" d="M530.4 366.4l4.3 2.5 2.7-2.9-4.2-2.5z"/>
<path class="c60" d="M534.7 368.9l4.3 2.4 4.3 2.5 4.3 2.3 4.3 2.4 2.7-3-4.3-2.3-4.3-2.4-4.3-2.4-4.3-2.4z"/>
<path class="c67" d="M551.9 378.5l4.4 2.3 4.3 2.2 4.4 2.2 2.6-3-4.4-2.2-4.3-2.2-4.3-2.3z"/>
<path class="c55" d="M565 385.2l4.4 2.1 4.4 2 2.6-3-4.4-2-4.4-2.1z"/>
<path class="c5c" d="M573.8 389.3l4.5 2 4.4 1.9 2.5-3.1-4.4-1.9-4.4-1.9z"/>
<path class="c64" d="M582.7 393.2l4.5 1.8 4.5 1.9 4.6 1.8 4.6 1.7 2.4-3.1-4.6-1.8-4.5-1.8-4.5-1.8-4.5-1.8z"/>
<path class="c5e" d="M600.9 400.4l4.5 1.7 4.7 1.7 4.6 1.7 2.4-3.2-4.7-1.6-4.6-1.7-4.5-1.7z"/>
<path class="c66" d="M614.7 405.5l4.7 1.6 2.3-3.2-4.6-1.6z"/>
<path class="c5e" d="M445 325.2l3.9 1.4 3.2-2.7-3.8-1.4z"/>
<path class="c64" d="M448.9 326.6l4 1.5 3.2-2.7-4-1.5z"/>
<path class="c5c" d="M452.9 328.1l3.9 1.8 3.2-2.8-3.9-1.7z"/>
<path class="c55" d="M456.8 329.9l4 1.8 4.1 2 3.1-2.8-4-1.9-4-1.9z"/>
<path class="c67" d="M464.9 333.7l4 2 4.1 2 4.1 2.1 4.1 2.2 3.1-2.8-4.1-2.2-4.1-2-4.1-2.1-4-2z"/>
<path class="c60" d="M481.2 342l4.1 2.3 4.2 2.3 4.1 2.4 4.2 2.4 3-2.9-4.2-2.4-4.1-2.4-4.1-2.3-4.1-2.2z"/>
<path class="c63" d="M497.8 351.4l4.2 2.4 3-2.9-4.2-2.4z"/>
<path class="c69" d="M502 353.8l4.3 2.5 4.2 2.6 4.2 2.6 4.3 2.7 4.3 2.6 4.3 2.6 2.8-3-4.3-2.6-4.2-2.6-4.3-2.6-4.2-2.6-4.2-2.6-4.2-2.5z"/>
<path class="c63" d="M527.6 369.4l4.3 2.5 2.8-3-4.3-2.5z"/>
<path class="c60" d="M531.9 371.9l4.3 2.5 4.3 2.4 4.3 2.4 4.4 2.4 2.7-3.1-4.3-2.4-4.3-2.3-4.3-2.5-4.3-2.4z"/>
<path class="c67" d="M549.2 381.6l4.4 2.3 4.4 2.2 2.6-3.1-4.3-2.2-4.4-2.3z"/>
<path class="c6b" d="M558 386.1l4.4 2.2 2.6-3.1-4.4-2.2z"/>
<path class="c55" d="M562.4 388.3l4.4 2.1 4.4 2.1 2.6-3.2-4.4-2-4.4-2.1z"/>
<path class="c5c" d="M571.2 392.5l4.5 1.9 4.5 2 2.5-3.2-4.4-1.9-4.5-2z"/>
<path class="c64" d="M580.2 396.4l4.5 1.8 4.5 1.9 4.6 1.8 2.5-3.2-4.6-1.8-4.5-1.9-4.5-1.8z"/>
<path class="c6e" d="M593.8 401.9l4.6 1.8 2.5-3.3-4.6-1.7z"/>
<path class="c5e" d="M598.4 403.7l4.6 1.7 4.6 1.7 2.5-3.3-4.7-1.7-4.5-1.7z"/>
<path class="c66" d="M607.6 407.1l4.7 1.6 4.7 1.6 2.4-3.2-4.7-1.6-4.6-1.7z"/>
<path class="c5e" d="M441.8 327.9l3.9 1.4 3.2-2.7-3.9-1.4z"/>
<path class="c64" d="M445.7 329.3l3.9 1.6 3.3-2.8-4-1.5z"/>
<path class="c5c" d="M449.6 330.9l4 1.7 3.2-2.7-3.9-1.8z"/>
<path class="c55" d="M453.6 332.6l4 1.9 4.1 2 3.2-2.8-4.1-2-4-1.8z"/>
<path class="c67" d="M461.7 336.5l4 2 4.1 2.1 4.1 2.1 4.2 2.2 3.1-2.9-4.1-2.2-4.1-2.1-4.1-2-4-2z"/>
<path class="c60" d="M478.1 344.9l4.1 2.2 4.2 2.4 4.2 2.4 4.2 2.4 3-2.9-4.2-2.4-4.1-2.4-4.2-2.3-4.1-2.3z"/>
<path class="c63" d="M494.8 354.3l4.2 2.4 3-2.9-4.2-2.4z"/>
<path class="c69" d="M499 356.7l4.2 2.6 4.3 2.6 4.3 2.6 4.3 2.7 4.3 2.7 4.3 2.6 2.9-3.1-4.3-2.6-4.3-2.6-4.3-2.7-4.2-2.6-4.2-2.6-4.3-2.5z"/>
<path class="c63" d="M524.7 372.5l4.3 2.5 2.9-3.1-4.3-2.5z"/>
<path class="c60" d="M529 375l4.3 2.5 4.4 2.4 4.3 2.4 4.4 2.4 2.8-3.1-4.4-2.4-4.3-2.4-4.3-2.4-4.3-2.5z"/>
<path class="c67" d="M546.4 384.7l4.4 2.3 4.4 2.3 2.8-3.2-4.4-2.2-4.4-2.3z"/>
<path class="c6b" d="M555.2 389.3l4.4 2.2 2.8-3.2-4.4-2.2z"/>
<path class="c55" d="M559.6 391.5l4.5 2.1 2.7-3.2-4.4-2.1z"/>
<path class="c5c" d="M564.1 393.6l4.5 2.1 4.4 2 4.6 1.9 2.6-3.2-4.5-2-4.5-1.9-4.4-2.1z"/>
<path class="c64" d="M577.6 399.6l4.5 1.9 4.6 1.9 4.5 1.8 2.6-3.3-4.6-1.8-4.5-1.9-4.5-1.8z"/>
<path class="c6e" d="M591.2 405.2l4.7 1.8 2.5-3.3-4.6-1.8z"/>
<path class="c5e" d="M595.9 407l4.6 1.7 4.7 1.7 2.4-3.3-4.6-1.7-4.6-1.7z"/>
<path class="c66" d="M605.2 410.4l4.7 1.7 4.7 1.6 2.4-3.4-4.7-1.6-4.7-1.6z"/>
<path class="c5e" d="M438.4 330.7l3.9 1.4 3.4-2.8-3.9-1.4z"/>
<path class="c64" d="M442.3 332.1l4 1.6 3.3-2.8-3.9-1.6z"/>
<path class="c5c" d="M446.3 333.7l4 1.8 3.3-2.9-4-1.7z"/>
<path class="c55" d="M450.3 335.5l4 1.9 4.1 2 3.3-2.9-4.1-2-4-1.9z"/>
<path class="c67" d="M458.4 339.4l4.1 2 4.1 2.1 4.1 2.1 4.2 2.2 3.2-2.9-4.2-2.2-4.1-2.1-4.1-2.1-4-2z"/>
<path class="c60" d="M474.9 347.8l4.1 2.3 4.2 2.4 4.2 2.4 4.3 2.4 3.1-3-4.2-2.4-4.2-2.4-4.2-2.4-4.1-2.2z"/>
<path class="c63" d="M491.7 357.3l4.2 2.5 4.3 2.5 3-3-4.2-2.6-4.2-2.4z"/>
<path class="c69" d="M500.2 362.3l4.2 2.6 4.3 2.7 3.1-3.1-4.3-2.6-4.3-2.6z"/>
<path class="c68" d="M508.7 367.6l4.4 2.7 3-3.1-4.3-2.7z"/>
<path class="c69" d="M513.1 370.3l4.3 2.7 4.3 2.6 3-3.1-4.3-2.6-4.3-2.7z"/>
<path class="c63" d="M521.7 375.6l4.3 2.6 3-3.2-4.3-2.5z"/>
<path class="c60" d="M526 378.2l4.4 2.5 4.4 2.4 4.4 2.5 4.4 2.3 2.8-3.2-4.4-2.4-4.3-2.4-4.4-2.4-4.3-2.5z"/>
<path class="c67" d="M543.6 387.9l4.4 2.4 4.4 2.3 2.8-3.3-4.4-2.3-4.4-2.3z"/>
<path class="c6b" d="M552.4 392.6l4.5 2.2 2.7-3.3-4.4-2.2z"/>
<path class="c55" d="M556.9 394.8l4.4 2.1 2.8-3.3-4.5-2.1z"/>
<path class="c5c" d="M561.3 396.9l4.5 2.1 4.5 2 4.6 2 2.7-3.4-4.6-1.9-4.4-2-4.5-2.1z"/>
<path class="c64" d="M574.9 403l4.5 1.9 4.6 1.8 4.6 1.9 2.6-3.4-4.5-1.8-4.6-1.9-4.5-1.9z"/>
<path class="c5e" d="M588.6 408.6l4.7 1.8 4.6 1.8 4.7 1.7 2.6-3.5-4.7-1.7-4.6-1.7-4.7-1.8z"/>
<path class="c66" d="M602.6 413.9l4.7 1.7 4.8 1.6 2.5-3.5-4.7-1.6-4.7-1.7z"/>
<path class="c5e" d="M434.9 333.5l4 1.5 3.4-2.9-3.9-1.4z"/>
<path class="c64" d="M438.9 335l4 1.6 3.4-2.9-4-1.6z"/>
<path class="c5c" d="M442.9 336.6l4 1.8 3.4-2.9-4-1.8z"/>
<path class="c55" d="M446.9 338.4l4 1.9 4.1 2 3.4-2.9-4.1-2-4-1.9z"/>
<path class="c67" d="M455 342.3l4.1 2.1 4.2 2.1 4.1 2.1 4.2 2.2 3.3-3-4.2-2.2-4.1-2.1-4.1-2.1-4.1-2z"/>
<path class="c60" d="M471.6 350.8l4.2 2.3 4.2 2.4 4.2 2.4 4.3 2.5 3.2-3.1-4.3-2.4-4.2-2.4-4.2-2.4-4.1-2.3z"/>
<path class="c63" d="M488.5 360.4l4.2 2.5 4.3 2.5 3.2-3.1-4.3-2.5-4.2-2.5z"/>
<path class="c69" d="M497 365.4l4.3 2.7 4.3 2.7 3.1-3.2-4.3-2.7-4.2-2.6z"/>
<path class="c68" d="M505.6 370.8l4.4 2.7 3.1-3.2-4.4-2.7z"/>
<path class="c69" d="M510 373.5l4.3 2.7 4.4 2.7 3-3.3-4.3-2.6-4.3-2.7z"/>
<path class="c63" d="M518.7 378.9l4.3 2.5 3-3.2-4.3-2.6z"/>
<path class="c60" d="M523 381.4l4.4 2.5 4.4 2.5 4.4 2.5 4.4 2.4 3-3.4-4.4-2.3-4.4-2.5-4.4-2.4-4.4-2.5z"/>
<path class="c67" d="M540.6 391.3l4.5 2.3 4.4 2.3 2.9-3.3-4.4-2.3-4.4-2.4z"/>
<path class="c6b" d="M549.5 395.9l4.5 2.2 2.9-3.3-4.5-2.2z"/>
<path class="c55" d="M554 398.1l4.5 2.2 2.8-3.4-4.4-2.1z"/>
<path class="c5c" d="M558.5 400.3l4.5 2.1 4.5 2 4.6 2 2.8-3.4-4.6-2-4.5-2-4.5-2.1z"/>
<path class="c64" d="M572.1 406.4l4.6 1.9 4.6 1.9 4.6 1.9 2.7-3.5-4.6-1.9-4.6-1.8-4.5-1.9z"/>
<path class="c5e" d="M585.9 412.1l4.7 1.8 4.7 1.8 4.7 1.7 2.6-3.5-4.7-1.7-4.6-1.8-4.7-1.8z"/>
<path class="c66" d="M600 417.4l4.7 1.7 4.8 1.7 2.6-3.6-4.8-1.6-4.7-1.7z"/>
<path class="c5e" d="M431.4 336.5l4 1.4 3.5-2.9-4-1.5z"/>
<path class="c64" d="M435.4 337.9l4 1.6 3.5-2.9-4-1.6z"/>
<path class="c5c" d="M439.4 339.5l4 1.8 3.5-2.9-4-1.8z"/>
<path class="c55" d="M443.4 341.3l4.1 2 4.1 2 3.4-3-4.1-2-4-1.9z"/>
<path class="c67" d="M451.6 345.3l4.1 2.1 4.1 2.1 4.2 2.2 4.2 2.2 3.4-3.1-4.2-2.2-4.1-2.1-4.2-2.1-4.1-2.1z"/>
<path class="c60" d="M468.2 353.9l4.2 2.3 4.2 2.4 4.3 2.5 4.3 2.4 3.3-3.1-4.3-2.5-4.2-2.4-4.2-2.4-4.2-2.3z"/>
<path class="c63" d="M485.2 363.5l4.3 2.5 4.3 2.6 3.2-3.2-4.3-2.5-4.2-2.5z"/>
<path class="c69" d="M493.8 368.6l4.3 2.7 4.3 2.7 3.2-3.2-4.3-2.7-4.3-2.7z"/>
<path class="c68" d="M502.4 374l4.4 2.7 3.2-3.2-4.4-2.7z"/>
<path class="c69" d="M506.8 376.7l4.4 2.8 4.3 2.7 3.2-3.3-4.4-2.7-4.3-2.7z"/>
<path class="c63" d="M515.5 382.2l4.4 2.6 3.1-3.4-4.3-2.5z"/>
<path class="c60" d="M519.9 384.8l4.4 2.5 4.5 2.5 4.4 2.4 3-3.3-4.4-2.5-4.4-2.5-4.4-2.5z"/>
<path class="c67" d="M533.2 392.2l4.4 2.5 4.5 2.3 4.5 2.3 2.9-3.4-4.4-2.3-4.5-2.3-4.4-2.4z"/>
<path class="c6b" d="M546.6 399.3l4.5 2.3 2.9-3.5-4.5-2.2z"/>
<path class="c55" d="M551.1 401.6l4.5 2.1 2.9-3.4-4.5-2.2z"/>
<path class="c5c" d="M555.6 403.7l4.5 2.2 4.6 2 4.6 2 2.8-3.5-4.6-2-4.5-2-4.5-2.1z"/>
<path class="c64" d="M569.3 409.9l4.6 2 4.6 1.9 4.7 1.8 2.7-3.5-4.6-1.9-4.6-1.9-4.6-1.9z"/>
<path class="c5e" d="M583.2 415.6l4.7 1.9 4.7 1.8 4.7 1.8 2.7-3.7-4.7-1.7-4.7-1.8-4.7-1.8z"/>
<path class="c66" d="M597.3 421.1l4.8 1.7 4.8 1.6 2.6-3.6-4.8-1.7-4.7-1.7z"/>
<path class="c5e" d="M427.8 339.5l4 1.4 3.6-3-4-1.4z"/>
<path class="c64" d="M431.8 340.9l4 1.7 3.6-3.1-4-1.6z"/>
<path class="c5c" d="M435.8 342.6l4 1.8 3.6-3.1-4-1.8z"/>
<path class="c55" d="M439.8 344.4l4.1 2 4.1 2 3.6-3.1-4.1-2-4.1-2z"/>
<path class="c67" d="M448 348.4l4.2 2.1 4.2 2.1 4.1 2.2 4.3 2.3 3.4-3.2-4.2-2.2-4.2-2.2-4.1-2.1-4.1-2.1z"/>
<path class="c60" d="M464.8 357.1l4.2 2.3 4.2 2.4 4.3 2.5 4.3 2.5 3.4-3.3-4.3-2.4-4.3-2.5-4.2-2.4-4.2-2.3z"/>
<path class="c63" d="M481.8 366.8l4.3 2.5 4.4 2.6 3.3-3.3-4.3-2.6-4.3-2.5z"/>
<path class="c69" d="M490.5 371.9l4.3 2.7 4.4 2.7 3.2-3.3-4.3-2.7-4.3-2.7z"/>
<path class="c68" d="M499.2 377.3l4.4 2.8 3.2-3.4-4.4-2.7z"/>
<path class="c69" d="M503.6 380.1l4.3 2.7 4.5 2.8 3.1-3.4-4.3-2.7-4.4-2.8z"/>
<path class="c63" d="M512.4 385.6l4.4 2.6 3.1-3.4-4.4-2.6z"/>
<path class="c60" d="M516.8 388.2l4.4 2.5 4.4 2.5 4.5 2.5 3.1-3.5-4.4-2.4-4.5-2.5-4.4-2.5z"/>
<path class="c67" d="M530.1 395.7l4.5 2.4 4.4 2.4 4.5 2.3 3.1-3.5-4.5-2.3-4.5-2.3-4.4-2.5z"/>
<path class="c6b" d="M543.5 402.8l4.6 2.3 3-3.5-4.5-2.3z"/>
<path class="c55" d="M548.1 405.1l4.5 2.2 3-3.6-4.5-2.1z"/>
<path class="c5c" d="M552.6 407.3l4.6 2.1 4.6 2.1 4.6 2 2.9-3.6-4.6-2-4.6-2-4.5-2.2z"/>
<path class="c64" d="M566.4 413.5l4.6 2 4.7 1.9 4.6 1.9 2.9-3.7-4.7-1.8-4.6-1.9-4.6-2z"/>
<path class="c5e" d="M580.3 419.3l4.8 1.9 4.7 1.8 4.8 1.8 2.7-3.7-4.7-1.8-4.7-1.8-4.7-1.9z"/>
<path class="c66" d="M594.6 424.8l4.8 1.7 4.8 1.7 2.7-3.8-4.8-1.6-4.8-1.7z"/>
<path class="c5e" d="M424.1 342.5l4 1.5 3.7-3.1-4-1.4z"/>
<path class="c64" d="M428.1 344l4 1.7 3.7-3.1-4-1.7z"/>
<path class="c5c" d="M432.1 345.7l4.1 1.8 3.6-3.1-4-1.8z"/>
<path class="c55" d="M436.2 347.5l4.1 2 4.1 2.1 3.6-3.2-4.1-2-4.1-2z"/>
<path class="c67" d="M444.4 351.6l4.2 2.1 4.2 2.1 4.2 2.2 4.2 2.3 3.6-3.2-4.3-2.3-4.1-2.2-4.2-2.1-4.2-2.1z"/>
<path class="c60" d="M461.2 360.3l4.3 2.4 4.3 2.4 4.2 2.5 4.4 2.5 3.4-3.3-4.3-2.5-4.3-2.5-4.2-2.4-4.2-2.3z"/>
<path class="c63" d="M478.4 370.1l4.3 2.5 4.4 2.6 3.4-3.3-4.4-2.6-4.3-2.5z"/>
<path class="c69" d="M487.1 375.2l4.3 2.8 4.4 2.7 3.4-3.4-4.4-2.7-4.3-2.7z"/>
<path class="c68" d="M495.8 380.7l4.4 2.8 3.4-3.4-4.4-2.8z"/>
<path class="c69" d="M500.2 383.5l4.4 2.8 4.5 2.7 3.3-3.4-4.5-2.8-4.3-2.7z"/>
<path class="c63" d="M509.1 389l4.4 2.7 3.3-3.5-4.4-2.6z"/>
<path class="c60" d="M513.5 391.7l4.5 2.5 4.4 2.6 4.5 2.5 3.2-3.6-4.5-2.5-4.4-2.5-4.4-2.5z"/>
<path class="c67" d="M526.9 399.3l4.5 2.4 4.5 2.4 4.5 2.4 3.1-3.7-4.5-2.3-4.4-2.4-4.5-2.4z"/>
<path class="c6b" d="M540.4 406.5l4.6 2.2 3.1-3.6-4.6-2.3z"/>
<path class="c55" d="M545 408.7l4.6 2.2 3-3.6-4.5-2.2z"/>
<path class="c5c" d="M549.6 410.9l4.5 2.2 4.7 2.1 4.6 2 3-3.7-4.6-2-4.6-2.1-4.6-2.1z"/>
<path class="c64" d="M563.4 417.2l4.6 2 4.7 2 4.7 1.9 2.9-3.8-4.6-1.9-4.7-1.9-4.6-2z"/>
<path class="c5e" d="M577.4 423.1l4.8 1.9 4.8 1.8 4.7 1.8 2.9-3.8-4.8-1.8-4.7-1.8-4.8-1.9z"/>
<path class="c66" d="M591.7 428.6l4.9 1.8 4.8 1.7 2.8-3.9-4.8-1.7-4.8-1.7z"/>
<path d="M424.1 342.5l43.6-36.1 18.2-14.4 13.1-9.9 5.7-4.1 5.2-2.9 2.7-1.2 2.5-.8 2.4-.5 .9 .1 M424.1 342.5l7 2.7 7.1 3.3 14.6 7.3 9.5 5.1 22.6 13 28.6 17.8 14.5 8.2 13.6 7.1 13.7 6.6 13.9 6.1 16.6 6.7 15.6 5.7 M434.1 346.6l43.2-36.7 18.7-15.2 13.4-10.4 4.3-3.2 6.8-3.7 2.5-1.1 2.4-.7 1.4-.2 .9 .6 M432.2 335.8l6.9 2.7 7.1 3.2 14.4 7.2 9.4 4.9 22.3 12.8 28.3 17.4 14.3 8.1 13.4 7.1 12.4 5.9 14.9 6.5 16.4 6.5 15.5 5.5 M444.4 351.6l42.6-37.3 16.9-14.2 12.2-9.8 6.8-5.3 4.5-2.7 5.1-2.4 2.3-.7 .9-.1 .5 .1 M440 329.3l6.9 2.6 7 3.1 14.3 7.1 8.2 4.3 23.1 13.1 21.5 13.3 7.6 4.5 15.2 8.5 12.2 6.3 13.4 6.3 13.6 5.8 16.2 6.3 14.1 5 M454.9 356.9l41.9-37.8 17.4-15 12.5-10.4 5.5-4.3 6-3.7 2.9-1.4 2.3-.7 1.3-.3 .9 .5 M447.7 323l6.8 2.5 6.9 3.1 14.1 6.9 8.2 4.2 22.9 13 28.6 17.4 15.1 8.4 12 6.2 12.2 5.7 13.4 5.7 17.1 6.6 14 5 M465.5 362.7l41.3-38.3 16.4-14.6 11.7-10.1 6.6-5.5 4.4-2.8 4.9-2.5 2.6-.8 .9 .1 M455.1 316.9l6.8 2.4 6.8 3 12 5.7 10.1 5.2 22.6 12.8 28.3 17.1 16 8.9 11.9 6.1 12 5.5 13.3 5.6 15.8 6.1 13.8 4.8 M476.2 368.8l40.6-38.8 17.6-16.1 12.5-11.1 4.1-3.4 3.7-2.5 3-1.7 2.3-1.1 2.2-.7 .8-.1 .4 .1 .4 .5 M462.3 310.9l6.7 2.3 6.8 2.9 9.9 4.7 10.9 5.6 23.4 13.1 28 16.8 15.8 8.8 11.7 6.1 10.8 5 13.1 5.4 16.7 6.5 13.7 4.7 M487.1 375.2l39.9-39.3 17.9-17.1 12.2-11.1 3.9-3.3 3.2-2.2 2.9-1.7 2.2-1.1 2.1-.6 .9-.2 .3 .2 .4 .5 M469.4 305.1l6.6 2.3 6.7 2.8 9.8 4.6 10.8 5.5 23.1 13 28.7 17.1 14.6 8.1 11.6 6 10.7 4.9 12.9 5.4 16.5 6.3 13.5 4.6 M498 382.1l39.2-40 17.6-17.4 12.5-11.9 3.8-3.3 5.4-3.4 2.2-1.1 2.1-.6 .7-.1 .8 .6 M476.2 299.6l6.6 2.3 6.7 2.8 9.6 4.5 10.8 5.3 22.8 12.8 21.2 12.7 9.2 5.2 13.4 7.5 10.4 5.3 10.6 4.8 12.8 5.2 16.3 6.1 13.3 4.5 M509.1 389l38.4-40.7 17.3-17.8 11.7-11.6 3.2-3 5.4-3.7 3.8-1.8 1.6-.4 .7 .1 M482.9 294.4l6.5 2.2 6.6 2.7 9.6 4.4 10.6 5.3 22.6 12.6 21 12.4 11.1 6.3 12.2 6.7 9.3 4.7 10.4 4.8 12.7 5.1 16.1 5.9 13.2 4.3 M520.2 395.5l38.5-42.2 16.1-17.1 11.4-11.8 3.2-3.1 5.3-3.8 3.7-1.9 1.5-.3 .7 0 M489.5 289.3l6.4 2.2 6.5 2.6 9.5 4.4 10.5 5.2 22.3 12.3 21.8 12.8 14 7.9 10.1 5.5 8.1 4 10.4 4.6 12.5 4.9 14.9 5.3 13 4.2 M531.4 401.7l39.3-44.3 13.6-14.9 10.2-10.9 4.7-4.7 4.2-3.5 4.2-2.5 1.8-.7 .7 .1 M495.8 284.5l6.4 2.1 6.5 2.6 9.3 4.3 10.4 5.1 22.1 12.2 21.5 12.5 15.8 8.9 9 4.8 7.1 3.5 10.2 4.5 12.4 4.8 14.7 5.1 12.9 3.9 M542.7 407.6l40-46.5 20.7-23.1 5.7-6 4.1-3.6 4-2.8 1.8-.8 .7 0 M502 279.9l6.3 2.1 6.5 2.5 9.2 4.2 10.3 5.1 21.8 12 21.3 12.3 17.6 9.9 7.9 4.2 6 3 10.1 4.3 12.2 4.7 14.6 4.8 12.8 3.7 M554.1 413.1l41.4-49.6 18-21 5.6-6.1 4-3.7 3.9-2.9 1.8-.8 .6-.1 M508.1 276.1l6.3 2 6.3 2.5 9.2 4.1 9.2 4.5 22.5 12.4 21 12.2 15.4 8.6 8.8 4.7 6.9 3.4 11 4.7 11.1 4 14.5 4.6 12.6 3.3 M565.7 418.2l43.2-53.7 16.9-20.3 4.3-4.8 5-4.5 2.2-1.6 1.7-.8 .3 0 .5 .4 M514 273.4l6.2 2 7.2 2.8 9.1 4 8.2 4 8.3 4.5 13.9 7.9 25.5 14.9 15.3 8.3 10.7 5.2 11.8 4.9 10 3.5 13.2 3.7 13.6 3 M577.4 423.1l44.2-56.9 14.1-17.7 3.8-4.6 5-5.2 3.5-2.9 1-.6 .6 .2 M664.5 338.4l1.1 .1M668.7 338.9l2.1 .2 M589.3 427.7l46.2-61.7 11.2-14.7 4.1-5.1 4.4-5 3.4-3.2 .6-.5 .6 0M662.1 348.7l-.1 11.3 .2 .2 .4-.6 M658 354.5l7.4-2.3 7.5-2.9 M601.4 432.1l32.3-44.7 23.2-32.4 7.3-9.5 5.2-6 .8-.5 .8 .1 .6 .4 .8 3 .5 7.1-.2 12.4 2.2-3.3 M673.9 358.4l1 .3" fill="none" stroke="#3a3f44" stroke-width=".7" stroke-linejoin="round"/>
<path d="M424.1 342.5l7 2.7 7.1 3.3 14.6 7.3 9.5 5.1 22.6 13 28.6 17.8 14.5 8.2 13.6 7.1 13.7 6.6 13.9 6.1 16.6 6.7 15.6 5.7 M601.4 432.1l32.3-44.7 23.2-32.4 7.3-9.5 5.2-6 .8-.5 .8 .1 .6 .4 .8 3 .5 7.1-.2 12.4 2.2-3.3 M673.9 358.4l1 .3 M424.1 342.5l43.6-36.1 18.2-14.4 13.1-9.9 5.7-4.1 5.2-2.9 2.7-1.2 2.5-.8 2.4-.5 .9 .1" fill="none" stroke="#2a3038" stroke-width=".7"/>
<path d="M423.4 406.1l176 68.5 M599.4 474.6l75.5-115.9 M674.9 358.7l-1.7-.6 M467.7 364.7l-44.3 41.4 M413.4 343.6l189.1 65.5 M602.5 409.1l79.8-109.8 M682.3 299.3l-161.5-42.5 M520.8 256.8l-107.4 86.8 M423.4 406.1l-10-62.5 M599.4 474.6l3.1-65.5 M674.9 358.7l7.4-59.4 M521.4 273.2l-.6-16.4" fill="none" stroke="#7d7d7d" stroke-width=".75"/>
<path d="M428.1 407.9L431.7 404.5M454.9 418.3L457.0 416.2M482.8 429.2L486.2 425.5M511.9 440.5L513.8 438.2M542.1 452.3L545.2 448.3M573.6 464.5L575.3 462.0M600.5 472.9L594.6 470.6M614.5 451.5L611.0 450.2M627.4 431.6L621.8 429.6M639.5 413.0L636.2 411.9M650.8 395.7L645.5 393.9M661.4 379.4L658.3 378.4M671.3 364.1L666.3 362.6M423.2 404.6L427.9 406.4M422.5 400.8L425.4 401.9M421.9 396.9L424.8 398.0M421.3 393.1L424.2 394.1M420.7 389.1L425.5 390.9M420.1 385.2L422.9 386.3M419.4 381.2L422.3 382.3M418.8 377.2L421.7 378.2M418.1 373.1L423.0 374.9M417.5 369.0L420.4 370.1M416.8 364.9L419.8 365.9M416.1 360.7L419.1 361.7M415.5 356.5L420.4 358.2M414.8 352.2L417.8 353.3M414.1 347.9L417.1 349.0M413.4 343.6L416.4 344.6" stroke="#555" stroke-width=".6" fill="none"/>
<path class="c91" d="M529.6 550.4l3.3 .5 .1-.2-3.3-.4z"/>
<path class="c92" d="M532.9 550.9l3.3-.8 .1-.3-3.3 .9z"/>
<path class="c93" d="M536.2 550.1l3.3-2.3 .1-.4-3.3 2.4z"/>
<path class="c94" d="M539.5 547.8l3.2-4.2 .2-.8-3.3 4.6z"/>
<path class="c95" d="M542.7 543.6l3.3-6.5 .1-1.3-3.2 7z"/>
<path class="c96" d="M546 537.1l3.4-7 .1-1.9-3.4 7.6z"/>
<path class="c97" d="M549.4 530.1l3.4-5.9 .1-1.7-.3-.1-3.1 5.8z"/>
<path class="c98" d="M552.9 522.5l.1 0-.4-.1z"/>
<path class="c73" d="M552.8 524.2l.8-1.4-.7-.3z"/>
<path class="c98" d="M553.6 522.8l2.8 .8 .1-.1-3.5-1-.1 0z"/>
<path class="c98" d="M556.4 523.6l3.6 .9 3.5 1 3.7 .9 3.6 1 3.6 .9 3.7 1 3.7 1 3.7 1 3.7 .9 3.7 1 3.8 1 3.7 1 3.8 1 3.8 1 3.8 1 3.9 1.1 3.9 1 3.8 1 4 1 3.9 1.1 3.9 1 4 1.1 4 1 4 1.1 4 1.1 4.1 1 4 1.1 4.1 1.1 4.1 1.1 4.2 1.1 4.1 1.1 .1-.2-4.1-1.1-4.2-1.1-4.1-1-4.1-1.1-4-1.1-4.1-1.1-4-1-4-1.1-4-1.1-4-1-3.9-1-3.9-1.1-3.9-1-3.9-1-3.9-1.1-3.8-1-3.9-1-3.8-1-3.8-1-3.7-1-3.8-1-3.7-1-3.7-1-3.7-.9-3.7-1-3.7-1-3.6-.9-3.6-1-3.6-1-3.6-.9-3.6-.9z"/>
<path class="c99" d="M676.3 555.3l3.1 5.7 .2-.9-2.5-4.8z"/>
<path class="c98" d="M675.8 555.2l.5 .1 .8 0-1.2-.3z"/>
<path class="c9a" d="M529.3 550.7l3.3 .4 .3-.2-3.3-.5z"/>
<path class="c9b" d="M532.6 551.1l3.3-.6 .3-.4-3.3 .8z"/>
<path class="c9c" d="M535.9 550.5l3.3-1.9 .3-.8-3.3 2.3z"/>
<path class="c9d" d="M539.2 548.6l3.3-3.6 .2-1.4-3.2 4.2z"/>
<path class="c9e" d="M542.5 545l3.3-5.5 .2-2.4-3.3 6.5z"/>
<path class="c96" d="M545.8 539.5l3.4-6.1 .2-3.3-3.4 7z"/>
<path class="c97" d="M549.2 533.4l3.4-5.1 .2-4.1-3.4 5.9z"/>
<path class="c9f" d="M552.6 528.3l3.1-4.6-2.1-.9-.8 1.4z"/>
<path class="c98" d="M555.7 523.7l.4 .1 .3-.2-2.8-.8z"/>
<path class="c98" d="M556.1 523.8l3.6 .9 3.6 1 3.6 .9 3.6 1 3.7 1 3.6 .9 3.7 1 3.7 1 3.7 1 3.8 1 3.7 1 3.8 1 3.8 1 3.8 1 3.8 1 3.9 1 3.8 1 3.9 1.1 3.9 1 4 1 3.9 1.1 4 1 4 1.1 4 1 4 1.1 4.1 1.1 4 1.1 4.1 1 4.1 1.1 4.2 1.1 .2-.2-4.2-1.1-4.1-1.1-4.1-1.1-4-1.1-4.1-1-4-1.1-4-1.1-4-1-4-1.1-3.9-1-3.9-1.1-4-1-3.8-1-3.9-1-3.9-1.1-3.8-1-3.8-1-3.8-1-3.7-1-3.8-1-3.7-1-3.7-.9-3.7-1-3.7-1-3.7-1-3.6-.9-3.6-1-3.7-.9-3.5-1-3.6-.9z"/>
<path class="ca0" d="M674.8 555.2l.7 1.2 .2-1.1z"/>
<path class="c98" d="M671.5 554.3l3.3 .9 .9 .1 .1-.1-4.1-1.1z"/>
<path class="ca1" d="M675.5 556.4l3.5 6.4 .4-1.8-3.1-5.7-.6 0z"/>
<path class="c98" d="M676.3 555.3l-.5-.1-.1 .1z"/>
<path class="ca2" d="M529 551l3.3 .5 .3-.4-3.3-.4z"/>
<path class="c9b" d="M532.3 551.5l3.3-.4 .3-.6-3.3 .6z"/>
<path class="ca3" d="M535.6 551.1l3.3-1.5 .3-1-3.3 1.9z"/>
<path class="ca4" d="M538.9 549.6l3.3-3 .3-1.6-3.3 3.6z"/>
<path class="c9e" d="M542.2 546.6l3.3-4.5 .3-2.6-3.3 5.5z"/>
<path class="c96" d="M545.5 542.1l3.4-5 .3-3.7-3.4 6.1z"/>
<path class="ca5" d="M548.9 537.1l3.4-4.2 .3-4.6-3.4 5.1z"/>
<path class="c97" d="M552.3 532.9l3.5-4.6 .3-4.5-.4-.1-3.1 4.6z"/>
<path class="c98" d="M556.1 523.8l0 0-.4-.1z"/>
<path class="ca6" d="M555.8 528.3l1.9-3.7-1.6-.8z"/>
<path class="c98" d="M557.7 524.6l1.7 .5 .3-.4-3.6-.9 0 0z"/>
<path class="c98" d="M559.4 525.1l3.6 .9 3.6 1 3.6 .9 3.6 1 3.7 1 3.7 .9 3.7 1 3.7 1 3.7 1 3.8 1 3.8 1 3.8 1 3.8 1 3.8 1 3.9 1 3.8 1.1 3.9 1 3.9 1 4 1.1 3.9 1 4 1.1 4 1 4 1.1 4 1.1 4.1 1 4 1.1 4.1 1.1 4.2 1.1 4.1 1.1 .3-.4-4.2-1.1-4.1-1.1-4.1-1-4-1.1-4.1-1.1-4-1.1-4-1-4-1.1-4-1-3.9-1.1-4-1-3.9-1-3.9-1.1-3.8-1-3.9-1-3.8-1-3.8-1-3.8-1-3.8-1-3.7-1-3.8-1-3.7-1-3.7-1-3.7-1-3.6-.9-3.7-1-3.6-1-3.6-.9-3.6-1z"/>
<path class="c32" d="M672.8 555.1l2.2 3.8 .5-2.5-.7-1.2z"/>
<path class="c98" d="M671.2 554.7l1.6 .4 2 .1-3.3-.9z"/>
<path class="ca7" d="M675 558.9l3.5 6.1 .5-2.2-3.5-6.4z"/>
<path class="ca2" d="M528.5 551.4l3.4 .5 .4-.4-3.3-.5z"/>
<path class="ca8" d="M531.9 551.9l3.3-.2 .4-.6-3.3 .4z"/>
<path class="ca9" d="M535.2 551.7l3.3-1.2 .4-.9-3.3 1.5z"/>
<path class="caa" d="M538.5 550.5l3.3-2.2 .4-1.7-3.3 3z"/>
<path class="cab" d="M541.8 548.3l3.3-3.6 .4-2.6-3.3 4.5z"/>
<path class="cac" d="M545.1 544.7l3.4-4 .4-3.6-3.4 5z"/>
<path class="ca5" d="M548.5 540.7l3.4-3.5 .4-4.3-3.4 4.2z"/>
<path class="c97" d="M551.9 537.2l3.5-3.8 .4-5.1-3.5 4.6z"/>
<path class="cad" d="M555.4 533.4l3.5-5.6 .2-2.5-1.4-.7-1.9 3.7z"/>
<path class="c98" d="M559.1 525.3l.3-.2-1.7-.5z"/>
<path class="cae" d="M558.9 527.8l1.1-2.1-.9-.4z"/>
<path class="c98" d="M560 525.7l2.5 .7 .5-.4-3.6-.9-.3 .2z"/>
<path class="c98" d="M562.5 526.4l3.6 .9 3.7 1 3.6 1 3.7 1 3.7 .9 3.7 1 3.7 1 3.7 1 3.8 1 3.8 1 3.8 1 3.8 1 3.8 1 3.9 1.1 3.9 1 3.8 1 4 1.1 3.9 1 3.9 1 4 1.1 4 1.1 4 1 4.1 1.1 4 1.1 4.1 1.1 4.1 1 4.1 1.1 .4-.4-4.2-1.1-4.1-1.1-4-1.1-4.1-1-4-1.1-4-1.1-4-1-4-1.1-3.9-1-4-1.1-3.9-1-3.9-1-3.8-1.1-3.9-1-3.8-1-3.8-1-3.8-1-3.8-1-3.8-1-3.7-1-3.7-1-3.7-1-3.7-.9-3.7-1-3.6-1-3.6-.9-3.6-1z"/>
<path class="caf" d="M670.2 555l.6 .8 .1-.8z"/>
<path class="c98" d="M666.7 554l3.5 1 .7 0 .3-.3-4.1-1.1z"/>
<path class="cb0" d="M670.8 555.8l3.6 5.9 .6-2.8-2.2-3.8-1.9-.1z"/>
<path class="c98" d="M672.8 555.1l-1.6-.4-.3 .3z"/>
<path class="cb1" d="M674.4 561.7l3.5 5.9 .6-2.6-3.5-6.1z"/>
<path class="cb2" d="M528 551.8l3.4 .6 .5-.5-3.4-.5z"/>
<path class="cb3" d="M531.4 552.4l3.3 0 .5-.7-3.3 .2z"/>
<path class="cb4" d="M534.7 552.4l3.3-.9 .5-1-3.3 1.2z"/>
<path class="c9c" d="M538 551.5l3.3-1.7 .5-1.5-3.3 2.2z"/>
<path class="ca4" d="M541.3 549.8l3.4-2.7 .4-2.4-3.3 3.6z"/>
<path class="cac" d="M544.7 547.1l3.4-3.1 .4-3.3-3.4 4z"/>
<path class="ca5" d="M548.1 544l3.4-2.9 3.5-3.1 3.5-4.5 .4-5.7-3.5 5.6-3.5 3.8-3.4 3.5z"/>
<path class="cb5" d="M558.5 533.5l3.5-5.7 .1-1-2.1-1.1-1.1 2.1z"/>
<path class="c98" d="M562.1 526.8l.4-.4-2.5-.7z"/>
<path class="cb6" d="M562 527.8l.6-.8-.5-.2z"/>
<path class="c98" d="M562.6 527l3.1 .8 .4-.5-3.6-.9-.4 .4z"/>
<path class="c98" d="M565.7 527.8l3.6 1 3.6 .9 3.7 1 3.7 1 3.7 1 3.7 1 3.8 1 3.7 1 3.8 1 3.8 1 3.8 1 3.9 1 3.8 1 3.9 1.1 3.9 1 3.9 1 4 1.1 3.9 1 4 1.1 4 1.1 4 1 4.1 1.1 4 1.1 4.1 1.1 4.1 1.1 4.1 1.1 .4-.6-4.1-1.1-4.1-1-4.1-1.1-4-1.1-4.1-1.1-4-1-4-1.1-4-1.1-3.9-1-3.9-1-4-1.1-3.8-1-3.9-1-3.9-1.1-3.8-1-3.8-1-3.8-1-3.8-1-3.8-1-3.7-1-3.7-1-3.7-1-3.7-.9-3.7-1-3.6-1-3.7-1z"/>
<path class="c32" d="M667.2 554.8l2.9 4.3 .7-3.3-.6-.8z"/>
<path class="c98" d="M666.3 554.6l.9 .2 3 .2-3.5-1z"/>
<path class="cb1" d="M670.1 559.1l3.6 5.6 .7-3-3.6-5.9z"/>
<path class="cb7" d="M673.7 564.7l3.6 5.7 .6-2.8-3.5-5.9z"/>
<path class="cb2" d="M527.5 552.3l3.3 .7 .6-.6-3.4-.6z"/>
<path class="c91" d="M530.8 553l3.3 0 .6-.6-3.3 0z"/>
<path class="c92" d="M534.1 553l3.4-.5 .5-1-3.3 .9z"/>
<path class="ca3" d="M537.5 552.5l3.3-1.3 .5-1.4-3.3 1.7z"/>
<path class="caa" d="M540.8 551.2l3.3-2 .6-2.1-3.4 2.7z"/>
<path class="cb8" d="M544.1 549.2l3.4-2.3 .6-2.9-3.4 3.1z"/>
<path class="cb9" d="M547.5 546.9l3.5-2.3 3.4-2.5 .6-4.1-3.5 3.1-3.4 2.9z"/>
<path class="ca5" d="M554.4 542.1l3.5-3.6 3.6-4.5 .5-6.2-3.5 5.7-3.5 4.5z"/>
<path class="cb5" d="M561.5 534l3.6-4.2 .1-1.6-2.6-1.2-.6 .8z"/>
<path class="c98" d="M565.2 528.2l.5-.4-3.1-.8z"/>
<path class="c73" d="M565.1 529.8l1.1-1.2-1-.4z"/>
<path class="c98" d="M566.2 528.6l2.5 .7 .6-.5-3.6-1-.5 .4z"/>
<path class="c98" d="M568.7 529.3l3.7 1 3.7 .9 3.7 1 3.7 1 3.7 1 3.8 1 3.7 1 3.8 1 3.8 1 3.8 1 3.9 1.1 3.8 1 3.9 1 3.9 1.1 3.9 1 4 1 3.9 1.1 4 1.1 4 1 4 1.1 4.1 1.1 4.1 1.1 4 1 4.2 1.1 .4-.5-4.1-1.1-4.1-1.1-4-1.1-4.1-1.1-4-1-4-1.1-4-1.1-3.9-1-4-1.1-3.9-1-3.9-1-3.9-1.1-3.8-1-3.9-1-3.8-1-3.8-1-3.8-1-3.7-1-3.8-1-3.7-1-3.7-1-3.7-1-3.7-1-3.6-.9z"/>
<path class="c39" d="M664.2 554.7l1.5 2 .5-1.9z"/>
<path class="c98" d="M661.8 554l2.4 .7 2 .1 .1-.2-4.1-1.1z"/>
<path class="cba" d="M665.7 556.7l3.7 5.1 .7-2.7-2.9-4.3-1 0z"/>
<path class="c98" d="M667.2 554.8l-.9-.2-.1 .2z"/>
<path class="cbb" d="M669.4 561.8l3.7 5.3 .6-2.4-3.6-5.6z"/>
<path class="cbc" d="M673.1 567.1l3.6 5.4 .6-2.1-3.6-5.7z"/>
<path class="cbd" d="M526.9 552.9l3.3 .7 .6-.6-3.3-.7z"/>
<path class="c91" d="M530.2 553.6l3.3 .2 .6-.8-3.3 0z"/>
<path class="cbe" d="M533.5 553.8l3.3-.4 .7-.9-3.4 .5z"/>
<path class="cbf" d="M536.8 553.4l3.4-.8 .6-1.4-3.3 1.3z"/>
<path class="cc0" d="M540.2 552.6l3.4-1.4 .5-2-3.3 2z"/>
<path class="cc1" d="M543.6 551.2l3.4-1.7 .5-2.6-3.4 2.3z"/>
<path class="cb8" d="M547 549.5l3.4-1.8 .6-3.1-3.5 2.3z"/>
<path class="cb9" d="M550.4 547.7l3.4-2 3.5-2.9 .6-4.3-3.5 3.6-3.4 2.5z"/>
<path class="ca5" d="M557.3 542.8l3.6-3.4 3.6-3.3 .6-6.3-3.6 4.2-3.6 4.5z"/>
<path class="cc2" d="M564.5 536.1l3.6-3.2 .3-3.3-2.2-1-1.1 1.2z"/>
<path class="c98" d="M568.4 529.6l.3-.3-2.5-.7z"/>
<path class="cc3" d="M568.1 532.9l2.9-2.3-2.6-1z"/>
<path class="c98" d="M571 530.6l.8 .2 .6-.5-3.7-1-.3 .3z"/>
<path class="c98" d="M571.8 530.8l3.7 1 3.7 1 3.7 1 3.7 1 3.8 1 3.7 1 3.8 1 3.8 1 3.9 1 3.8 1.1 3.9 1 3.9 1 3.9 1.1 3.9 1 3.9 1.1 4 1 4 1.1 4 1.1 4 1 4.1 1.1 4.1 1.1 4 1.1 .5-.7-4-1-4.1-1.1-4.1-1.1-4-1.1-4-1-4-1.1-3.9-1.1-4-1-3.9-1-3.9-1.1-3.9-1-3.8-1-3.9-1.1-3.8-1-3.8-1-3.8-1-3.7-1-3.8-1-3.7-1-3.7-1-3.7-1-3.7-.9z"/>
<path class="c40" d="M661 554.6l.2 .3 .1-.3z"/>
<path class="c98" d="M657.1 553.6l3.9 1 .3 0 .5-.6-4.2-1.1z"/>
<path class="c30" d="M661.2 554.9l3.8 4.6 .7-2.8-1.5-2-2.9-.1z"/>
<path class="c98" d="M664.2 554.7l-2.4-.7-.5 .6z"/>
<path class="cc4" d="M665 559.5l3.7 4.8 .7-2.5-3.7-5.1z"/>
<path class="cbc" d="M668.7 564.3l3.7 5.1 .7-2.3-3.7-5.3z"/>
<path class="cc5" d="M672.4 569.4l3.6 5.3 .7-2.2-3.6-5.4z"/>
<path class="cc6" d="M526.2 553.5l3.3 .7 .7-.6-3.3-.7z"/>
<path class="ca2" d="M529.5 554.2l3.3 .3 .7-.7-3.3-.2z"/>
<path class="cc7" d="M532.8 554.5l3.4-.1 .6-1-3.3 .4z"/>
<path class="cc8" d="M536.2 554.4l3.3-.5 .7-1.3-3.4 .8z"/>
<path class="cc9" d="M539.5 553.9l3.4-.9 .7-1.8-3.4 1.4z"/>
<path class="cca" d="M542.9 553l3.4-1.2 .7-2.3-3.4 1.7z"/>
<path class="ccb" d="M546.3 551.8l3.4-1.4 .7-2.7-3.4 1.8z"/>
<path class="cb8" d="M549.7 550.4l3.5-1.6 .6-3.1-3.4 2z"/>
<path class="cb9" d="M553.2 548.8l3.5-2.2 3.5-2.6 .7-4.6-3.6 3.4-3.5 2.9z"/>
<path class="ca5" d="M560.2 544l3.6-2.5 .7-5.4-3.6 3.3z"/>
<path class="c97" d="M563.8 541.5l3.6-2.5 .7-6.1-3.6 3.2z"/>
<path class="cc2" d="M567.4 539l3.7-2.3 .6-5.8-.7-.3-2.9 2.3z"/>
<path class="c98" d="M571.7 530.9l.1-.1-.8-.2z"/>
<path class="c71" d="M571.1 536.7l3.7-2 .2-2.5-3.3-1.3z"/>
<path class="c98" d="M575 532.2l.5-.4-3.7-1-.1 .1z"/>
<path class="c6d" d="M574.8 534.7l3.2-1.4-3-1.1z"/>
<path class="c98" d="M578 533.3l.5 .1 .7-.6-3.7-1-.5 .4z"/>
<path class="c98" d="M578.5 533.4l3.7 1 3.8 1 3.7 1 3.8 1 3.8 1 3.8 1.1 3.9 1 3.8 1 3.9 1 3.9 1.1 3.9 1 3.9 1.1 4 1 3.9 1.1 4 1.1 4 1 4.1 1.1 4 1.1 4.1 1.1 4.1 1.1 .5-.7-4-1.1-4.1-1.1-4.1-1.1-4-1-4-1.1-4-1.1-4-1-3.9-1.1-3.9-1-3.9-1.1-3.9-1-3.9-1-3.8-1.1-3.9-1-3.8-1-3.8-1-3.7-1-3.8-1-3.7-1-3.7-1z"/>
<path class="c2e" d="M657.3 554.5l3.2 3.4 .7-3-.2-.3z"/>
<path class="c98" d="M656.6 554.3l.7 .2 3.7 .1-3.9-1z"/>
<path class="cc4" d="M660.5 557.9l3.7 4.4 .8-2.8-3.8-4.6z"/>
<path class="ccc" d="M664.2 562.3l3.8 4.6 .7-2.6-3.7-4.8z"/>
<path class="ccd" d="M668 566.9l3.7 5 .7-2.5-3.7-5.1z"/>
<path class="cce" d="M671.7 571.9l3.6 5 .7-2.2-3.6-5.3z"/>
<path class="cc6" d="M525.4 554.2l3.4 .7 .7-.7-3.3-.7z"/>
<path class="ca2" d="M528.8 554.9l3.3 .4 .7-.8-3.3-.3z"/>
<path class="cb3" d="M532.1 555.3l3.4 0 .7-.9-3.4 .1z"/>
<path class="cbe" d="M535.5 555.3l3.3-.2 .7-1.2-3.3 .5z"/>
<path class="cbf" d="M538.8 555.1l3.4-.4 .7-1.7-3.4 .9z"/>
<path class="ccf" d="M542.2 554.7l3.4-.8 .7-2.1-3.4 1.2z"/>
<path class="cd0" d="M545.6 553.9l3.4-1 .7-2.5-3.4 1.4z"/>
<path class="ccb" d="M549 552.9l3.5-1.3 .7-2.8-3.5 1.6z"/>
<path class="cb8" d="M552.5 551.6l3.5-1.7 .7-3.3-3.5 2.2z"/>
<path class="cb9" d="M556 549.9l3.5-1.8 .7-4.1-3.5 2.6z"/>
<path class="cad" d="M559.5 548.1l3.6-1.9 3.6-1.9 .7-5.3-3.6 2.5-3.6 2.5z"/>
<path class="c97" d="M566.7 544.3l3.6-1.7 .8-5.9-3.7 2.3z"/>
<path class="cd1" d="M570.3 542.6l3.7-1.5 .8-6.4-3.7 2z"/>
<path class="cc2" d="M574 541.1l3.7-1.3 .8-6.3-.5-.2-3.2 1.4z"/>
<path class="c98" d="M578.5 533.5l0-.1-.5-.1z"/>
<path class="c6f" d="M577.7 539.8l3.8-1.1 .5-4-3.5-1.2z"/>
<path class="c98" d="M582 534.7l.2-.3-3.7-1 0 .1z"/>
<path class="cd2" d="M581.5 538.7l3.7-.8 .3-2-3.5-1.2z"/>
<path class="c98" d="M585.5 535.9l.5-.5-3.8-1-.2 .3z"/>
<path class="c72" d="M585.2 537.9l3.8-.6 .1-.2-3.6-1.2z"/>
<path class="c98" d="M589.1 537.1l.6-.7-3.7-1-.5 .5z"/>
<path class="cd3" d="M589 537.3l.8 0-.7-.2z"/>
<path class="c98" d="M589.8 537.3l3 .8 .7-.7-3.8-1-.6 .7z"/>
<path class="c98" d="M592.8 538.1l3.8 1 3.8 1.1 3.9 1 3.8 1 3.9 1.1 3.9 1 3.9 1.1 4 1 3.9 1.1 4 1 4 1.1 4 1.1 4.1 1.1 4 1 4.1 1.1 .6-.7-4.1-1.1-4-1.1-4.1-1.1-4-1-4-1.1-3.9-1.1-4-1-3.9-1.1-3.9-1-3.9-1.1-3.9-1-3.8-1-3.9-1-3.8-1.1-3.8-1z"/>
<path class="cd4" d="M652.9 554.2l2.9 2.7 .7-2.5z"/>
<path class="c98" d="M651.9 553.9l1 .3 3.6 .2 .1-.1-4.1-1.1z"/>
<path class="cd5" d="M655.8 556.9l3.8 3.9 .9-2.9-3.2-3.4-.8-.1z"/>
<path class="c98" d="M657.3 554.5l-.7-.2-.1 .1z"/>
<path class="c99" d="M659.6 560.8l3.8 4.2 .8-2.7-3.7-4.4z"/>
<path class="cbc" d="M663.4 565l3.8 4.5 .8-2.6-3.8-4.6z"/>
<path class="cc5" d="M667.2 569.5l3.7 4.8 .8-2.4-3.7-5z"/>
<path class="cd6" d="M670.9 574.3l3.7 4.9 .7-2.3-3.6-5z"/>
<path class="cc6" d="M524.6 554.9l3.4 .8 .8-.8-3.4-.7z"/>
<path class="cb2" d="M528 555.7l3.3 .4 .8-.8-3.3-.4z"/>
<path class="c91" d="M531.3 556.1l3.4 .2 .8-1-3.4 0z"/>
<path class="cc7" d="M534.7 556.3l3.4 0 .7-1.2-3.3 .2z"/>
<path class="cd7" d="M538.1 556.3l3.3-.3 .8-1.3-3.4 .4z"/>
<path class="cd8" d="M541.4 556l3.5-.5 .7-1.6-3.4 .8z"/>
<path class="cc9" d="M544.9 555.5l3.4-.7 .7-1.9-3.4 1z"/>
<path class="cd0" d="M548.3 554.8l3.5-.9 .7-2.3-3.5 1.3z"/>
<path class="cca" d="M551.8 553.9l3.4-1.1 .8-2.9-3.5 1.7z"/>
<path class="ccb" d="M555.2 552.8l3.6-1.4 .7-3.3-3.5 1.8z"/>
<path class="cd9" d="M558.8 551.4l3.5-1.5 .8-3.7-3.6 1.9z"/>
<path class="cad" d="M562.3 549.9l3.6-1.5 3.7-1.6 .7-4.2-3.6 1.7-3.6 1.9z"/>
<path class="cc2" d="M569.6 546.8l3.6-1.3 3.7-1.1 3.7-.8 .9-4.9-3.8 1.1-3.7 1.3-3.7 1.5z"/>
<path class="cda" d="M580.6 543.6l3.8-.6 .8-5.1-3.7 .8z"/>
<path class="c74" d="M584.4 543l3.8-.4 .8-5.3-3.8 .6z"/>
<path class="cdb" d="M588.2 542.6l3.8-.1 .7-4.2-2.9-1-.8 0z"/>
<path class="c98" d="M592.7 538.3l.1-.2-3-.8z"/>
<path class="cdc" d="M592 542.5l3.8 .1 .5-3.1-3.6-1.2z"/>
<path class="c98" d="M596.3 539.5l.3-.4-3.8-1-.1 .2z"/>
<path class="cdd" d="M595.8 542.6l3.9 .2 .3-2.2-3.7-1.1z"/>
<path class="c98" d="M600 540.6l.4-.4-3.8-1.1-.3 .4z"/>
<path class="c72" d="M599.7 542.8l3.8 .2 .2-1.2-3.7-1.2z"/>
<path class="c98" d="M603.7 541.8l.6-.6-3.9-1-.4 .4z"/>
<path class="c77" d="M603.5 543l3.9 .2 .1-.3-3.8-1.1z"/>
<path class="c98" d="M607.5 542.9l.6-.7-3.8-1-.6 .6z"/>
<path class="cde" d="M607.4 543.2l1.4 .1-1.3-.4z"/>
<path class="c98" d="M608.8 543.3l2.5 .7 .7-.7-3.9-1.1-.6 .7z"/>
<path class="c98" d="M611.3 544l3.9 1.1 3.9 1 4 1.1 3.9 1 4 1.1 4 1.1 4.1 1.1 4 1.1 4.1 1.1 .6-.9-4-1-4.1-1.1-4-1.1-4-1.1-4-1-3.9-1.1-4-1-3.9-1.1-3.9-1z"/>
<path class="c29" d="M647.5 553.7l3.6 2.9 .6-2.5z"/>
<path class="c98" d="M647.2 553.7l.3 0 4.2 .4 .2-.2-4.1-1.1z"/>
<path class="cdf" d="M651.1 556.6l3.9 3.3 .8-3-2.9-2.7-1.2-.1z"/>
<path class="c98" d="M652.9 554.2l-1-.3-.2 .2z"/>
<path class="cba" d="M655 559.9l3.8 3.8 .8-2.9-3.8-3.9z"/>
<path class="ccc" d="M658.8 563.7l3.8 4 .8-2.7-3.8-4.2z"/>
<path class="ccd" d="M662.6 567.7l3.8 4.4 .8-2.6-3.8-4.5z"/>
<path class="ce0" d="M666.4 572.1l3.7 4.5 .8-2.3-3.7-4.8z"/>
<path class="ce1" d="M670.1 576.6l3.7 4.8 .8-2.2-3.7-4.9z"/>
<path class="cc6" d="M523.8 555.6l3.3 .9 .9-.8-3.4-.8z"/>
<path class="cb2" d="M527.1 556.5l3.4 .5 .8-.9-3.3-.4z"/>
<path class="c9a" d="M530.5 557l3.4 .3 .8-1-3.4-.2z"/>
<path class="cb3" d="M533.9 557.3l3.3 .1 .9-1.1-3.4 0z"/>
<path class="ca8" d="M537.2 557.4l3.4-.2 .8-1.2-3.3 .3z"/>
<path class="cd7" d="M540.6 557.2l3.4-.3 .9-1.4-3.5 .5z"/>
<path class="cc8" d="M544 556.9l3.5-.4 .8-1.7-3.4 .7z"/>
<path class="ce2" d="M547.5 556.5l3.5-.6 .8-2-3.5 .9z"/>
<path class="ccf" d="M551 555.9l3.4-.6 .8-2.5-3.4 1.1z"/>
<path class="ce3" d="M554.4 555.3l3.6-1 .8-2.9-3.6 1.4z"/>
<path class="ccb" d="M558 554.3l3.5-1.1 .8-3.3-3.5 1.5z"/>
<path class="cd9" d="M561.5 553.2l3.6-1.4 3.6-1.3 .9-3.7-3.7 1.6-3.6 1.5z"/>
<path class="ce4" d="M568.7 550.5l3.7-1.1 3.7-.8 3.7-.7 .8-4.3-3.7 .8-3.7 1.1-3.6 1.3z"/>
<path class="cda" d="M579.8 547.9l3.7-.3 3.8-.2 .9-4.8-3.8 .4-3.8 .6z"/>
<path class="c6f" d="M587.3 547.4l3.8 0 3.8 .2 3.8 .1 1-4.9-3.9-.2-3.8-.1-3.8 .1z"/>
<path class="c71" d="M598.7 547.7l3.9-.1 .9-4.6-3.8-.2z"/>
<path class="cdb" d="M602.6 547.6l3.9-.1 .9-4.3-3.9-.2z"/>
<path class="cd2" d="M606.5 547.5l3.9-.1 .8-3.2-2.4-.9-1.4-.1z"/>
<path class="c98" d="M611.2 544.2l.1-.2-2.5-.7z"/>
<path class="ce5" d="M610.4 547.4l4 .2 .5-2.2-3.7-1.2z"/>
<path class="c98" d="M614.9 545.4l.3-.3-3.9-1.1-.1 .2z"/>
<path class="ce6" d="M614.4 547.6l3.9 .3 .3-1.2-3.7-1.3z"/>
<path class="c98" d="M618.6 546.7l.5-.6-3.9-1-.3 .3z"/>
<path class="cd3" d="M618.3 547.9l4 .6 .2-.6-3.9-1.2z"/>
<path class="c98" d="M622.5 547.9l.6-.7-4-1.1-.5 .6z"/>
<path class="c6c" d="M622.3 548.5l4 .7 0-.1-3.8-1.2z"/>
<path class="c98" d="M626.3 549.1l.7-.9-3.9-1-.6 .7z"/>
<path class="ce7" d="M626.3 549.2l.7 .1-.7-.2z"/>
<path class="c98" d="M627 549.3l3.3 .9 .7-.9-4-1.1-.7 .9z"/>
<path class="c98" d="M630.3 550.2l4 1 4 1.1 .8-.8-4.1-1.1-4-1.1z"/>
<path class="c38" d="M639.3 552.6l3 1.5 .3-.9z"/>
<path class="c98" d="M638.3 552.3l1 .3 3.3 .6 .5-.6-4-1.1z"/>
<path class="c33" d="M642.3 554.1l4 2.6 .8-3-4.5-.5z"/>
<path class="c98" d="M647.1 553.7l.1 0-4.1-1.1-.5 .6z"/>
<path class="ce8" d="M646.3 556.7l3.9 2.9 .9-3-3.6-2.9-.4 0z"/>
<path class="c98" d="M647.5 553.7l-.3 0-.1 0z"/>
<path class="cb0" d="M650.2 559.6l3.9 3.3 .9-3-3.9-3.3z"/>
<path class="c99" d="M654.1 562.9l3.8 3.6 .9-2.8-3.8-3.8z"/>
<path class="cbc" d="M657.9 566.5l3.9 3.9 .8-2.7-3.8-4z"/>
<path class="ccd" d="M661.8 570.4l3.7 4.2 .9-2.5-3.8-4.4z"/>
<path class="cd6" d="M665.5 574.6l3.8 4.4 .8-2.4-3.7-4.5z"/>
<path class="ce9" d="M669.3 579l3.7 4.5 .8-2.1-3.7-4.8z"/>
<path class="cea" d="M522.9 556.5l3.3 .8 .9-.8-3.3-.9z"/>
<path class="cbd" d="M526.2 557.3l3.4 .6 .9-.9-3.4-.5z"/>
<path class="ca2" d="M529.6 557.9l3.4 .4 .9-1-3.4-.3z"/>
<path class="c91" d="M533 558.3l3.4 .2 .8-1.1-3.3-.1z"/>
<path class="cc7" d="M536.4 558.5l3.4 0 .8-1.3-3.4 .2z"/>
<path class="cbe" d="M539.8 558.5l3.4-.2 .8-1.4-3.4 .3z"/>
<path class="cd7" d="M543.2 558.3l3.4-.2 .9-1.6-3.5 .4z"/>
<path class="cd8" d="M546.6 558.1l3.5-.2 .9-2-3.5 .6z"/>
<path class="ceb" d="M550.1 557.9l3.5-.3 .8-2.3-3.4 .6z"/>
<path class="ccf" d="M553.6 557.6l3.5-.6 .9-2.7-3.6 1z"/>
<path class="ce3" d="M557.1 557l3.6-.9 3.6-1.1 .8-3.2-3.6 1.4-3.5 1.1z"/>
<path class="cb5" d="M564.3 555l3.6-1.1 3.6-1 3.7-.6 .9-3.7-3.7 .8-3.7 1.1-3.6 1.3z"/>
<path class="c74" d="M575.2 552.3l3.7-.4 3.7-.2 .9-4.1-3.7 .3-3.7 .7z"/>
<path class="c6f" d="M582.6 551.7l3.8-.2 3.8-.1 .9-4-3.8 0-3.8 .2z"/>
<path class="c71" d="M590.2 551.4l3.8 0 3.8-.1 3.9-.1 3.9-.1 3.9 0 .9-3.7-3.9 .1-3.9 .1-3.9 .1-3.8-.1-3.8-.2z"/>
<path class="cec" d="M609.5 551.1l3.9 .1 4 .3 .9-3.6-3.9-.3-4-.2z"/>
<path class="cd2" d="M617.4 551.5l4 .5 .9-3.5-4-.6z"/>
<path class="cdd" d="M621.4 552l4 .7 .9-3.5-4-.7z"/>
<path class="ce5" d="M625.4 552.7l4 .6 .8-3-3.2-1-.7-.1z"/>
<path class="c98" d="M630.2 550.3l.1-.1-3.3-.9z"/>
<path class="ced" d="M629.4 553.3l4 .8 .8-2.7-4-1.1z"/>
<path class="c98" d="M634.2 551.4l.1-.2-4-1-.1 .1z"/>
<path class="c1b" d="M633.4 554.1l4 1.3 .9-3-4.1-1z"/>
<path class="c98" d="M638.3 552.4l0-.1-4-1.1-.1 .2z"/>
<path class="c1d" d="M637.4 555.4l4 1.9 .9-3.2-3-1.5-1-.2z"/>
<path class="c98" d="M639.3 552.6l-1-.3 0 .1z"/>
<path class="c28" d="M641.4 557.3l3.9 2.5 1-3.1-4-2.6z"/>
<path class="cee" d="M645.3 559.8l4 2.8 .9-3-3.9-2.9z"/>
<path class="cba" d="M649.3 562.6l3.9 3.2 .9-2.9-3.9-3.3z"/>
<path class="cef" d="M653.2 565.8l3.8 3.4 .9-2.7-3.8-3.6z"/>
<path class="cf0" d="M657 569.2l3.9 3.8 .9-2.6-3.9-3.9z"/>
<path class="ce0" d="M660.9 573l3.8 4.1 .8-2.5-3.7-4.2z"/>
<path class="cd6" d="M664.7 577.1l3.8 4.2 .8-2.3-3.8-4.4z"/>
<path class="ce9" d="M668.5 581.3l3.7 4.4 .8-2.2-3.7-4.5z"/>
<path class="cea" d="M522 557.3l3.3 .9 .9-.9-3.3-.8z"/>
<path class="cc6" d="M525.3 558.2l3.4 .6 .9-.9-3.4-.6z"/>
<path class="ca2" d="M528.7 558.8l3.3 .5 1-1-3.4-.4z"/>
<path class="c91" d="M532 559.3l3.4 .3 1-1.1-3.4-.2z"/>
<path class="cb3" d="M535.4 559.6l3.4 .1 1-1.2-3.4 0z"/>
<path class="cc7" d="M538.8 559.7l3.5-.1 .9-1.3-3.4 .2z"/>
<path class="cbe" d="M542.3 559.6l3.4-.1 .9-1.4-3.4 .2z"/>
<path class="cf1" d="M545.7 559.5l3.5 .1 .9-1.7-3.5 .2z"/>
<path class="cf2" d="M549.2 559.6l3.5 0 .9-2-3.5 .3z"/>
<path class="cf3" d="M552.7 559.6l3.5-.3 .9-2.3-3.5 .6z"/>
<path class="ccf" d="M556.2 559.3l3.6-.6 .9-2.6-3.6 .9z"/>
<path class="cd0" d="M559.8 558.7l3.6-1 3.6-.9 .9-2.9-3.6 1.1-3.6 1.1z"/>
<path class="ce3" d="M567 556.8l3.6-.8 .9-3.1-3.6 1z"/>
<path class="cf4" d="M570.6 556l3.7-.5 3.7-.4 .9-3.2-3.7 .4-3.7 .6z"/>
<path class="c9f" d="M578 555.1l3.7-.2 3.8-.1 3.7-.1 3.8 0 3.9-.1 3.8 0 3.9-.1 3.9 0 1-3.4-3.9 0-3.9 .1-3.9 .1-3.8 .1-3.8 0-3.8 .1-3.8 .2-3.7 .2z"/>
<path class="cec" d="M608.5 554.5l4 .1 3.9 .3 1-3.4-4-.3-3.9-.1z"/>
<path class="cdc" d="M616.4 554.9l4 .5 1-3.4-4-.5z"/>
<path class="cd2" d="M620.4 555.4l4 .6 4 .6 1-3.3-4-.6-4-.7z"/>
<path class="cdd" d="M628.4 556.6l4 .7 1-3.2-4-.8z"/>
<path class="c12" d="M632.4 557.3l4.1 1.3 .9-3.2-4-1.3z"/>
<path class="c21" d="M636.5 558.6l3.9 1.8 1-3.1-4-1.9z"/>
<path class="c28" d="M640.4 560.4l4 2.4 .9-3-3.9-2.5z"/>
<path class="ce8" d="M644.4 562.8l3.9 2.7 1-2.9-4-2.8z"/>
<path class="cd5" d="M648.3 565.5l3.9 3.1 1-2.8-3.9-3.2z"/>
<path class="cf5" d="M652.2 568.6l3.9 3.3 .9-2.7-3.8-3.4z"/>
<path class="cf6" d="M656.1 571.9l3.9 3.7 .9-2.6-3.9-3.8z"/>
<path class="cf7" d="M660 575.6l3.8 3.9 .9-2.4-3.8-4.1z"/>
<path class="ce9" d="M663.8 579.5l3.8 4.1 .9-2.3-3.8-4.2z"/>
<path class="cf8" d="M667.6 583.6l3.8 4.3 .8-2.2-3.7-4.4z"/>
<path class="cea" d="M521 558.2l3.3 .9 1-.9-3.3-.9z"/>
<path class="cc6" d="M524.3 559.1l3.4 .7 1-1-3.4-.6z"/>
<path class="cb2" d="M527.7 559.8l3.4 .5 .9-1-3.3-.5z"/>
<path class="c9a" d="M531.1 560.3l3.4 .4 .9-1.1-3.4-.3z"/>
<path class="c91" d="M534.5 560.7l3.4 .1 .9-1.1-3.4-.1z"/>
<path class="cb3" d="M537.9 560.8l3.4 0 1-1.2-3.5 .1z"/>
<path class="cc7" d="M541.3 560.8l3.5 .1 3.4 .1 1-1.4-3.5-.1-3.4 .1z"/>
<path class="cf9" d="M548.2 561l3.6 .2 .9-1.6-3.5 0z"/>
<path class="cd7" d="M551.8 561.2l3.5-.1 .9-1.8-3.5 .3z"/>
<path class="cd8" d="M555.3 561.1l3.5-.5 1-1.9-3.6 .6z"/>
<path class="ce2" d="M558.8 560.6l3.6-.7 1-2.2-3.6 1z"/>
<path class="cc9" d="M562.4 559.9l3.6-.7 1-2.4-3.6 .9z"/>
<path class="ccf" d="M566 559.2l3.7-.6 .9-2.6-3.6 .8z"/>
<path class="cfa" d="M569.7 558.6l3.6-.3 1-2.8-3.7 .5z"/>
<path class="cfb" d="M573.3 558.3l3.7-.3 3.7-.1 3.8-.1 1-3-3.8 .1-3.7 .2-3.7 .4z"/>
<path class="ca6" d="M584.5 557.8l3.8-.1 3.8 .1 3.8 0 1-3.2-3.9 .1-3.8 0-3.7 .1z"/>
<path class="cfb" d="M595.9 557.8l3.8-.1 3.9 0 1-3.2-3.9 .1-3.8 0z"/>
<path class="ca6" d="M603.6 557.7l3.9 0 4 .2 3.9 .3 1-3.3-3.9-.3-4-.1-3.9 0z"/>
<path class="cd2" d="M615.4 558.2l4 .4 1-3.2-4-.5z"/>
<path class="cc3" d="M619.4 558.6l4 .6 1-3.2-4-.6z"/>
<path class="cdd" d="M623.4 559.2l4 .5 4 .7 1-3.1-4-.7-4-.6z"/>
<path class="c15" d="M631.4 560.4l4.1 1.2 1-3-4.1-1.3z"/>
<path class="c11" d="M635.5 561.6l4 1.8 .9-3-3.9-1.8z"/>
<path class="c27" d="M639.5 563.4l3.9 2.3 1-2.9-4-2.4z"/>
<path class="cdf" d="M643.4 565.7l4 2.6 .9-2.8-3.9-2.7z"/>
<path class="cef" d="M647.4 568.3l3.9 3 .9-2.7-3.9-3.1z"/>
<path class="cfc" d="M651.3 571.3l3.9 3.2 .9-2.6-3.9-3.3z"/>
<path class="cf6" d="M655.2 574.5l3.8 3.6 1-2.5-3.9-3.7z"/>
<path class="cfd" d="M659 578.1l3.9 3.8 .9-2.4-3.8-3.9z"/>
<path class="cfe" d="M662.9 581.9l3.8 3.9 .9-2.2-3.8-4.1z"/>
<path class="cff" d="M666.7 585.8l3.8 4.2 .9-2.1-3.8-4.3z"/>
<path class="cea" d="M519.9 559.1l3.4 .9 1-.9-3.3-.9z"/>
<path class="cc6" d="M523.3 560l3.4 .8 1-1-3.4-.7z"/>
<path class="cb2" d="M526.7 560.8l3.3 .5 1.1-1-3.4-.5z"/>
<path class="ca2" d="M530 561.3l3.4 .4 1.1-1-3.4-.4z"/>
<path class="c91" d="M533.4 561.7l3.5 .3 3.4 .1 1-1.3-3.4 0-3.4-.1z"/>
<path class="c100" d="M540.3 562.1l3.5 .1 3.5 .3 .9-1.5-3.4-.1-3.5-.1z"/>
<path class="cc7" d="M547.3 562.5l3.5 .2 1-1.5-3.6-.2z"/>
<path class="cbe" d="M550.8 562.7l3.5 0 1-1.6-3.5 .1z"/>
<path class="cd7" d="M554.3 562.7l3.5-.3 1-1.8-3.5 .5z"/>
<path class="cd8" d="M557.8 562.4l3.6-.4 1-2.1-3.6 .7z"/>
<path class="ce2" d="M561.4 562l3.6-.5 3.7-.4 1-2.5-3.7 .6-3.6 .7z"/>
<path class="ceb" d="M568.7 561.1l3.6-.2 1-2.6-3.6 .3z"/>
<path class="c101" d="M572.3 560.9l3.7-.2 3.7-.1 1-2.7-3.7 .1-3.7 .3z"/>
<path class="c102" d="M579.7 560.6l3.8 0 3.8 0 3.8 0 3.8 .1 3.8 0 3.9 0 3.9 .1 4 .1 1-3-4-.2-3.9 0-3.9 0-3.8 .1-3.8 0-3.8-.1-3.8 .1-3.8 .1z"/>
<path class="cc3" d="M610.5 560.9l3.9 .3 4 .5 1-3.1-4-.4-3.9-.3z"/>
<path class="cdd" d="M618.4 561.7l4 .6 1-3.1-4-.6z"/>
<path class="c6d" d="M622.4 562.3l4 .5 1-3.1-4-.5z"/>
<path class="ce5" d="M626.4 562.8l4 .6 1-3-4-.7z"/>
<path class="ced" d="M630.4 563.4l4.1 1.1 1-2.9-4.1-1.2z"/>
<path class="c1d" d="M634.5 564.5l4 1.8 1-2.9-4-1.8z"/>
<path class="c103" d="M638.5 566.3l3.9 2.2 1-2.8-3.9-2.3z"/>
<path class="c31" d="M642.4 568.5l4 2.6 1-2.8-4-2.6z"/>
<path class="c30" d="M646.4 571.1l3.9 2.8 1-2.6-3.9-3z"/>
<path class="c104" d="M650.3 573.9l3.9 3.2 1-2.6-3.9-3.2z"/>
<path class="cf7" d="M654.2 577.1l3.9 3.4 .9-2.4-3.8-3.6z"/>
<path class="cfd" d="M658.1 580.5l3.9 3.7 .9-2.3-3.9-3.8z"/>
<path class="cfe" d="M662 584.2l3.8 3.9 .9-2.3-3.8-3.9z"/>
<path class="cff" d="M665.8 588.1l3.8 4 .9-2.1-3.8-4.2z"/>
<path class="cea" d="M518.8 560.1l3.4 .9 1.1-1-3.4-.9z"/>
<path class="cc6" d="M522.2 561l3.4 .8 1.1-1-3.4-.8z"/>
<path class="cbd" d="M525.6 561.8l3.4 .6 1-1.1-3.3-.5z"/>
<path class="ca2" d="M529 562.4l3.4 .5 1-1.2-3.4-.4z"/>
<path class="c9a" d="M532.4 562.9l3.4 .3 1.1-1.2-3.5-.3z"/>
<path class="c91" d="M535.8 563.2l3.5 .1 3.4 .2 1.1-1.3-3.5-.1-3.4-.1z"/>
<path class="c100" d="M542.7 563.5l3.5 .4 3.5 .3 1.1-1.5-3.5-.2-3.5-.3z"/>
<path class="cc7" d="M549.7 564.2l3.6 .1 1-1.6-3.5 0z"/>
<path class="cbe" d="M553.3 564.3l3.5-.1 1-1.8-3.5 .3z"/>
<path class="cd7" d="M556.8 564.2l3.6-.2 1-2-3.6 .4z"/>
<path class="cc8" d="M560.4 564l3.6-.3 1-2.2-3.6 .5z"/>
<path class="cd8" d="M564 563.7l3.6-.2 1.1-2.4-3.7 .4z"/>
<path class="cf3" d="M567.6 563.5l3.7-.1 3.7-.1 3.7 0 1-2.7-3.7 .1-3.7 .2-3.6 .2z"/>
<path class="cae" d="M578.7 563.3l3.8 0 3.7 0 1.1-2.7-3.8 0-3.8 0z"/>
<path class="c105" d="M586.2 563.3l3.8 .1 3.8 .1 3.9 0 1-2.8-3.8 0-3.8-.1-3.8 0z"/>
<path class="c101" d="M597.7 563.5l3.9 .1 1-2.9-3.9 0z"/>
<path class="c105" d="M601.6 563.6l3.9 .1 3.9 .2 4 .3 1-3-3.9-.3-4-.1-3.9-.1z"/>
<path class="c6d" d="M613.4 564.2l3.9 .4 4 .6 1.1-2.9-4-.6-4-.5z"/>
<path class="c73" d="M621.3 565.2l4 .5 1.1-2.9-4-.5z"/>
<path class="c72" d="M625.3 565.7l4.1 .6 1-2.9-4-.6z"/>
<path class="c1a" d="M629.4 566.3l4 1.1 1.1-2.9-4.1-1.1z"/>
<path class="c106" d="M633.4 567.4l4 1.6 1.1-2.7-4-1.8z"/>
<path class="c23" d="M637.4 569l4 2.2 1-2.7-3.9-2.2z"/>
<path class="c2f" d="M641.4 571.2l4 2.5 1-2.6-4-2.6z"/>
<path class="c107" d="M645.4 573.7l3.9 2.8 1-2.6-3.9-2.8z"/>
<path class="c108" d="M649.3 576.5l3.9 3.1 1-2.5-3.9-3.2z"/>
<path class="c109" d="M653.2 579.6l3.9 3.3 1-2.4-3.9-3.4z"/>
<path class="c10a" d="M657.1 582.9l3.9 3.6 1-2.3-3.9-3.7z"/>
<path class="c10b" d="M661 586.5l3.8 3.8 1-2.2-3.8-3.9z"/>
<path class="c10c" d="M664.8 590.3l3.9 3.9 .9-2.1-3.8-4z"/>
<path class="c8e" d="M517.7 561.2l3.4 .9 1.1-1.1-3.4-.9z"/>
<path class="cc6" d="M521.1 562.1l3.4 .8 3.4 .6 1.1-1.1-3.4-.6-3.4-.8z"/>
<path class="cb2" d="M527.9 563.5l3.4 .5 1.1-1.1-3.4-.5z"/>
<path class="ca2" d="M531.3 564l3.4 .4 1.1-1.2-3.4-.3z"/>
<path class="c91" d="M534.7 564.4l3.5 .2 3.4 .3 3.5 .4 1.1-1.4-3.5-.4-3.4-.2-3.5-.1z"/>
<path class="c100" d="M545.1 565.3l3.5 .3 3.6 .3 1.1-1.6-3.6-.1-3.5-.3z"/>
<path class="cc7" d="M552.2 565.9l3.5 .1 1.1-1.8-3.5 .1z"/>
<path class="cbe" d="M555.7 566l3.6-.1 1.1-1.9-3.6 .2z"/>
<path class="cd7" d="M559.3 565.9l3.6-.1 1.1-2.1-3.6 .3z"/>
<path class="cf2" d="M562.9 565.8l3.7-.1 1-2.2-3.6 .2z"/>
<path class="c10d" d="M566.6 565.7l3.6 0 3.7 0 3.7 .1 3.8 0 3.8 .1 3.8 .1 1-2.6-3.8-.1-3.7 0-3.8 0-3.7 0-3.7 .1-3.7 .1z"/>
<path class="cae" d="M589 566l3.8 .1 3.8 .1 3.9 .1 3.9 .1 3.9 .3 1.1-2.8-3.9-.2-3.9-.1-3.9-.1-3.9 0-3.8-.1z"/>
<path class="c73" d="M608.3 566.7l4 .3 4 .5 4 .5 1-2.8-4-.6-3.9-.4-4-.3z"/>
<path class="c75" d="M620.3 568l4 .5 4 .6 1.1-2.8-4.1-.6-4-.5z"/>
<path class="c77" d="M628.3 569.1l4 1 1.1-2.7-4-1.1z"/>
<path class="c26" d="M632.3 570.1l4.1 1.6 1-2.7-4-1.6z"/>
<path class="c23" d="M636.4 571.7l3.9 2.2 1.1-2.7-4-2.2z"/>
<path class="c10e" d="M640.3 573.9l4 2.4 1.1-2.6-4-2.5z"/>
<path class="c107" d="M644.3 576.3l4 2.7 1-2.5-3.9-2.8z"/>
<path class="c3e" d="M648.3 579l3.9 3 1-2.4-3.9-3.1z"/>
<path class="c109" d="M652.2 582l3.9 3.3 1-2.4-3.9-3.3z"/>
<path class="cfe" d="M656.1 585.3l3.9 3.5 1-2.3-3.9-3.6z"/>
<path class="cff" d="M660 588.8l3.9 3.7 .9-2.2-3.8-3.8z"/>
<path class="c10c" d="M663.9 592.5l3.8 3.8 1-2.1-3.9-3.9z"/>
<path class="c8e" d="M516.5 562.2l3.4 1 1.2-1.1-3.4-.9z"/>
<path class="cea" d="M519.9 563.2l3.4 .8 1.2-1.1-3.4-.8z"/>
<path class="cc6" d="M523.3 564l3.4 .6 1.2-1.1-3.4-.6z"/>
<path class="cb2" d="M526.7 564.6l3.4 .6 1.2-1.2-3.4-.5z"/>
<path class="ca2" d="M530.1 565.2l3.4 .4 1.2-1.2-3.4-.4z"/>
<path class="c9a" d="M533.5 565.6l3.5 .3 3.5 .3 3.5 .5 3.5 .4 1.1-1.5-3.5-.3-3.5-.4-3.4-.3-3.5-.2z"/>
<path class="c100" d="M547.5 567.1l3.6 .4 1.1-1.6-3.6-.3z"/>
<path class="cc7" d="M551.1 567.5l3.5 .2 3.6 .1 1.1-1.9-3.6 .1-3.5-.1z"/>
<path class="cbe" d="M558.2 567.8l3.6 .1 1.1-2.1-3.6 .1z"/>
<path class="cf1" d="M561.8 567.9l3.7 0 3.6 .1 1.1-2.3-3.6 0-3.7 .1z"/>
<path class="c10f" d="M569.1 568l3.7 .1 3.7 0 3.8 .1 3.8 .2 3.7 .1 1.2-2.5-3.8-.1-3.8-.1-3.8 0-3.7-.1-3.7 0z"/>
<path class="cb6" d="M587.8 568.5l3.9 .2 3.8 .1 3.9 .1 3.9 .2 3.9 .3 4 .3 1.1-2.7-4-.3-3.9-.3-3.9-.1-3.9-.1-3.8-.1-3.8-.1z"/>
<path class="c75" d="M611.2 569.7l4 .5 3.9 .5 4.1 .5 1.1-2.7-4-.5-4-.5-4-.5z"/>
<path class="ce6" d="M623.2 571.2l4 .6 1.1-2.7-4-.6z"/>
<path class="c24" d="M627.2 571.8l4.1 1 1-2.7-4-1z"/>
<path class="c110" d="M631.3 572.8l4 1.6 1.1-2.7-4.1-1.6z"/>
<path class="c2e" d="M635.3 574.4l4 2.1 1-2.6-3.9-2.2z"/>
<path class="c111" d="M639.3 576.5l3.9 2.4 1.1-2.6-4-2.4z"/>
<path class="c112" d="M643.2 578.9l4 2.6 1.1-2.5-4-2.7z"/>
<path class="c3e" d="M647.2 581.5l3.9 3 1.1-2.5-3.9-3z"/>
<path class="c113" d="M651.1 584.5l4 3.1 1-2.3-3.9-3.3z"/>
<path class="c10b" d="M655.1 587.6l3.9 3.5 1-2.3-3.9-3.5z"/>
<path class="c10c" d="M659 591.1l3.9 3.5 1-2.1-3.9-3.7z"/>
<path class="c114" d="M662.9 594.6l3.8 3.8 1-2.1-3.8-3.8z"/>
<path class="c8e" d="M515.3 563.3l3.4 1 1.2-1.1-3.4-1z"/>
<path class="cea" d="M518.7 564.3l3.4 .8 1.2-1.1-3.4-.8z"/>
<path class="cc6" d="M522.1 565.1l3.4 .7 1.2-1.2-3.4-.6z"/>
<path class="cb2" d="M525.5 565.8l3.4 .6 1.2-1.2-3.4-.6z"/>
<path class="ca2" d="M528.9 566.4l3.5 .5 3.4 .3 1.2-1.3-3.5-.3-3.4-.4z"/>
<path class="c9a" d="M535.8 567.2l3.5 .4 3.5 .5 3.5 .5 3.6 .5 1.2-1.6-3.6-.4-3.5-.4-3.5-.5-3.5-.3z"/>
<path class="c100" d="M549.9 569.1l3.6 .3 1.1-1.7-3.5-.2z"/>
<path class="c115" d="M553.5 569.4l3.5 .2 1.2-1.8-3.6-.1z"/>
<path class="cc7" d="M557 569.6l3.7 .2 1.1-1.9-3.6-.1z"/>
<path class="cf9" d="M560.7 569.8l3.6 .2 1.2-2.1-3.7 0z"/>
<path class="c116" d="M564.3 570l3.7 .2 1.1-2.2-3.6-.1z"/>
<path class="cf1" d="M568 570.2l3.7 .1 3.7 .1 3.7 .2 3.8 .1 1.2-2.3-3.8-.2-3.8-.1-3.7 0-3.7-.1z"/>
<path class="c10f" d="M582.9 570.7l3.8 .2 3.8 .2 3.9 .2 3.9 .2 3.9 .2 3.9 .3 1.1-2.6-3.9-.3-3.9-.2-3.9-.1-3.8-.1-3.9-.2-3.7-.1z"/>
<path class="c117" d="M606.1 572l3.9 .4 4 .5 4 .5 4 .4 1.2-2.6-4.1-.5-3.9-.5-4-.5-4-.3z"/>
<path class="c118" d="M622 573.8l4.1 .6 1.1-2.6-4-.6z"/>
<path class="c24" d="M626.1 574.4l4 1 1.2-2.6-4.1-1z"/>
<path class="c2d" d="M630.1 575.4l4.1 1.5 1.1-2.5-4-1.6z"/>
<path class="cd4" d="M634.2 576.9l4 2.1 1.1-2.5-4-2.1z"/>
<path class="c119" d="M638.2 579l3.9 2.4 1.1-2.5-3.9-2.4z"/>
<path class="c3d" d="M642.1 581.4l4 2.6 1.1-2.5-4-2.6z"/>
<path class="c11a" d="M646.1 584l4 2.8 1-2.3-3.9-3z"/>
<path class="c11b" d="M650.1 586.8l3.9 3.2 1.1-2.4-4-3.1z"/>
<path class="c10b" d="M654 590l3.9 3.3 1.1-2.2-3.9-3.5z"/>
<path class="c10c" d="M657.9 593.3l3.9 3.5 1.1-2.2-3.9-3.5z"/>
<path class="c11c" d="M661.8 596.8l3.9 3.6 1-2-3.8-3.8z"/>
<path class="c8e" d="M514 564.5l3.4 1 1.3-1.2-3.4-1z"/>
<path class="cea" d="M517.4 565.5l3.4 .8 1.3-1.2-3.4-.8z"/>
<path class="cc6" d="M520.8 566.3l3.4 .7 1.3-1.2-3.4-.7z"/>
<path class="cbd" d="M524.2 567l3.5 .7 1.2-1.3-3.4-.6z"/>
<path class="cb2" d="M527.7 567.7l3.4 .4 1.3-1.2-3.5-.5z"/>
<path class="ca2" d="M531.1 568.1l3.5 .5 3.5 .4 3.5 .5 3.5 .6 1.2-1.5-3.5-.5-3.5-.5-3.5-.4-3.4-.3z"/>
<path class="c9a" d="M545.1 570.1l3.6 .5 3.6 .5 1.2-1.7-3.6-.3-3.6-.5z"/>
<path class="c100" d="M552.3 571.1l3.5 .4 1.2-1.9-3.5-.2z"/>
<path class="c115" d="M555.8 571.5l3.7 .3 1.2-2-3.7-.2z"/>
<path class="cc7" d="M559.5 571.8l3.6 .3 1.2-2.1-3.6-.2z"/>
<path class="cf9" d="M563.1 572.1l3.7 .2 3.7 .2 3.7 .2 1.2-2.3-3.7-.1-3.7-.1-3.7-.2z"/>
<path class="c116" d="M574.2 572.7l3.8 .2 3.7 .2 3.8 .2 3.9 .2 3.8 .2 3.9 .3 3.9 .2 3.9 .3 4 .4 1.1-2.5-3.9-.4-3.9-.3-3.9-.2-3.9-.2-3.9-.2-3.8-.2-3.8-.2-3.8-.1-3.7-.2z"/>
<path class="c118" d="M608.9 574.9l4 .5 3.9 .6 4.1 .4 4 .6 1.2-2.6-4.1-.6-4-.4-4-.5-4-.5z"/>
<path class="cde" d="M624.9 577l4.1 1 1.1-2.6-4-1z"/>
<path class="c2d" d="M629 578l4 1.5 1.2-2.6-4.1-1.5z"/>
<path class="c39" d="M633 579.5l4 2 1.2-2.5-4-2.1z"/>
<path class="c3c" d="M637 581.5l4 2.3 1.1-2.4-3.9-2.4z"/>
<path class="c11d" d="M641 583.8l4 2.6 1.1-2.4-4-2.6z"/>
<path class="c113" d="M645 586.4l4 2.8 1.1-2.4-4-2.8z"/>
<path class="c11b" d="M649 589.2l3.9 3 1.1-2.2-3.9-3.2z"/>
<path class="c11e" d="M652.9 592.2l4 3.3 1-2.2-3.9-3.3z"/>
<path class="c11f" d="M656.9 595.5l3.9 3.4 1-2.1-3.9-3.5z"/>
<path class="c11c" d="M660.8 598.9l3.9 3.6 1-2.1-3.9-3.6z"/>
<path class="c66" d="M512.7 565.7l3.4 1 1.3-1.2-3.4-1z"/>
<path class="cea" d="M516.1 566.7l3.4 .8 1.3-1.2-3.4-.8z"/>
<path class="cc6" d="M519.5 567.5l3.4 .8 1.3-1.3-3.4-.7z"/>
<path class="cbd" d="M522.9 568.3l3.5 .6 1.3-1.2-3.5-.7z"/>
<path class="cb2" d="M526.4 568.9l3.4 .6 1.3-1.4-3.4-.4z"/>
<path class="ca2" d="M529.8 569.5l3.5 .4 3.5 .5 1.3-1.4-3.5-.4-3.5-.5z"/>
<path class="cb2" d="M536.8 570.4l3.5 .6 3.6 .6 3.5 .6 1.3-1.6-3.6-.5-3.5-.6-3.5-.5z"/>
<path class="c9a" d="M547.4 572.2l3.6 .6 3.6 .5 1.2-1.8-3.5-.4-3.6-.5z"/>
<path class="c100" d="M554.6 573.3l3.6 .4 1.3-1.9-3.7-.3z"/>
<path class="c115" d="M558.2 573.7l3.7 .4 3.7 .3 1.2-2.1-3.7-.2-3.6-.3z"/>
<path class="cc7" d="M565.6 574.4l3.7 .2 1.2-2.1-3.7-.2z"/>
<path class="cf9" d="M569.3 574.6l3.7 .3 3.7 .2 3.8 .2 3.8 .3 3.8 .3 3.9 .2 3.9 .3 1.2-2.4-3.9-.3-3.8-.2-3.9-.2-3.8-.2-3.7-.2-3.8-.2-3.7-.2z"/>
<path class="c116" d="M595.9 576.4l3.9 .3 3.9 .3 4 .4 1.2-2.5-4-.4-3.9-.3-3.9-.2z"/>
<path class="c118" d="M607.7 577.4l4 .6 4 .5 4 .5 1.2-2.6-4.1-.4-3.9-.6-4-.5z"/>
<path class="c120" d="M619.7 579l4 .6 1.2-2.6-4-.6z"/>
<path class="cde" d="M623.7 579.6l4.1 .9 1.2-2.5-4.1-1z"/>
<path class="c38" d="M627.8 580.5l4 1.5 1.2-2.5-4-1.5z"/>
<path class="c39" d="M631.8 582l4.1 2 1.1-2.5-4-2z"/>
<path class="c3c" d="M635.9 584l4 2.2 1.1-2.4-4-2.3z"/>
<path class="c11d" d="M639.9 586.2l4 2.5 1.1-2.3-4-2.6z"/>
<path class="c48" d="M643.9 588.7l3.9 2.7 1.2-2.2-4-2.8z"/>
<path class="c4a" d="M647.8 591.4l4 3 1.1-2.2-3.9-3z"/>
<path class="c11e" d="M651.8 594.4l4 3.2 1.1-2.1-4-3.3z"/>
<path class="c11f" d="M655.8 597.6l3.9 3.4 1.1-2.1-3.9-3.4z"/>
<path class="c11c" d="M659.7 601l3.9 3.5 1.1-2-3.9-3.6z"/>
<path class="c66" d="M511.3 566.9l3.4 1 1.4-1.2-3.4-1z"/>
<path class="cea" d="M514.7 567.9l3.4 .9 1.4-1.3-3.4-.8z"/>
<path class="cc6" d="M518.1 568.8l3.5 .8 3.4 .7 1.4-1.4-3.5-.6-3.4-.8z"/>
<path class="cb2" d="M525 570.3l3.5 .5 3.5 .5 3.5 .5 3.5 .6 3.5 .7 3.6 .7 3.6 .6 1.3-1.6-3.6-.6-3.5-.6-3.6-.6-3.5-.6-3.5-.5-3.5-.4-3.4-.6z"/>
<path class="c9a" d="M549.7 574.4l3.6 .6 1.3-1.7-3.6-.5z"/>
<path class="c79" d="M553.3 575l3.7 .6 1.2-1.9-3.6-.4z"/>
<path class="c100" d="M557 575.6l3.6 .5 1.3-2-3.7-.4z"/>
<path class="c115" d="M560.6 576.1l3.7 .3 3.7 .3 1.3-2.1-3.7-.2-3.7-.3z"/>
<path class="cc7" d="M568 576.7l3.7 .3 3.8 .3 1.2-2.2-3.7-.2-3.7-.3z"/>
<path class="cf9" d="M575.5 577.3l3.8 .2 3.8 .3 3.8 .4 3.8 .3 3.9 .3 3.9 .4 4 .4 1.2-2.6-3.9-.3-3.9-.3-3.9-.3-3.9-.2-3.8-.3-3.8-.3-3.8-.2z"/>
<path class="c120" d="M602.5 579.6l3.9 .5 4 .5 4 .6 4.1 .5 4 .6 1.2-2.7-4-.6-4-.5-4-.5-4-.6-4-.4z"/>
<path class="c6c" d="M622.5 582.3l4.1 .8 1.2-2.6-4.1-.9z"/>
<path class="c38" d="M626.6 583.1l4 1.4 1.2-2.5-4-1.5z"/>
<path class="c39" d="M630.6 584.5l4.1 1.9 1.2-2.4-4.1-2z"/>
<path class="c45" d="M634.7 586.4l4 2.2 1.2-2.4-4-2.2z"/>
<path class="c46" d="M638.7 588.6l4 2.4 1.2-2.3-4-2.5z"/>
<path class="c48" d="M642.7 591l4 2.7 1.1-2.3-3.9-2.7z"/>
<path class="c4a" d="M646.7 593.7l4 2.9 1.1-2.2-4-3z"/>
<path class="c59" d="M650.7 596.6l4 3.2 1.1-2.2-4-3.2z"/>
<path class="c11f" d="M654.7 599.8l3.9 3.3 1.1-2.1-3.9-3.4z"/>
<path class="c121" d="M658.6 603.1l3.9 3.5 1.1-2.1-3.9-3.5z"/>
<path class="c66" d="M509.9 568.2l3.4 1 1.4-1.3-3.4-1z"/>
<path class="cea" d="M513.3 569.2l3.4 .9 1.4-1.3-3.4-.9z"/>
<path class="cc6" d="M516.7 570.1l3.5 .8 3.4 .7 1.4-1.3-3.4-.7-3.5-.8z"/>
<path class="cb2" d="M523.6 571.6l3.5 .6 3.5 .5 3.5 .6 3.5 .6 3.6 .8 3.6 .7 3.6 .7 1.3-1.7-3.6-.6-3.6-.7-3.5-.7-3.5-.6-3.5-.5-3.5-.5-3.5-.5z"/>
<path class="c122" d="M548.4 576.1l3.6 .7 1.3-1.8-3.6-.6z"/>
<path class="c9a" d="M552 576.8l3.6 .7 1.4-1.9-3.7-.6z"/>
<path class="c79" d="M555.6 577.5l3.7 .5 1.3-1.9-3.6-.5z"/>
<path class="c100" d="M559.3 578l3.7 .5 3.7 .3 1.3-2.1-3.7-.3-3.7-.3z"/>
<path class="c115" d="M566.7 578.8l3.7 .4 3.8 .3 3.8 .3 3.8 .4 1.3-2.4-3.8-.3-3.8-.2-3.8-.3-3.7-.3z"/>
<path class="c120" d="M581.8 580.2l3.8 .4 3.9 .4 1.2-2.5-3.8-.3-3.8-.4z"/>
<path class="cf9" d="M589.5 581l3.8 .4 1.3-2.6-3.9-.3z"/>
<path class="c120" d="M593.3 581.4l4 .4 3.9 .4 4 .5 3.9 .6 4 .5 4.1 .5 4.1 .6 1.2-2.6-4-.6-4.1-.5-4-.6-4-.5-3.9-.5-4-.4-3.9-.4z"/>
<path class="c6c" d="M621.3 584.9l4 .8 1.3-2.6-4.1-.8z"/>
<path class="c38" d="M625.3 585.7l4.1 1.3 1.2-2.5-4-1.4z"/>
<path class="c36" d="M629.4 587l4 1.9 1.3-2.5-4.1-1.9z"/>
<path class="c45" d="M633.4 588.9l4.1 2.1 1.2-2.4-4-2.2z"/>
<path class="c46" d="M637.5 591l4 2.3 1.2-2.3-4-2.4z"/>
<path class="c49" d="M641.5 593.3l4 2.7 1.2-2.3-4-2.7z"/>
<path class="c4a" d="M645.5 596l4 2.8 1.2-2.2-4-2.9z"/>
<path class="c59" d="M649.5 598.8l4 3.1 1.2-2.1-4-3.2z"/>
<path class="c11f" d="M653.5 601.9l4 3.3 1.1-2.1-3.9-3.3z"/>
<path class="c121" d="M657.5 605.2l3.9 3.5 1.1-2.1-3.9-3.5z"/>
<path class="c66" d="M508.4 569.5l3.5 1 1.4-1.3-3.4-1z"/>
<path class="cea" d="M511.9 570.5l3.4 1 3.4 .8 1.5-1.4-3.5-.8-3.4-.9z"/>
<path class="cc6" d="M518.7 572.3l3.5 .7 1.4-1.4-3.4-.7z"/>
<path class="cb2" d="M522.2 573l3.5 .7 3.5 .6 3.5 .6 3.5 .7 3.6 .8 1.4-1.7-3.6-.8-3.5-.6-3.5-.6-3.5-.5-3.5-.6z"/>
<path class="c123" d="M539.8 576.4l3.6 .7 1.4-1.7-3.6-.7z"/>
<path class="cb2" d="M543.4 577.1l3.6 .8 3.6 .8 1.4-1.9-3.6-.7-3.6-.7z"/>
<path class="c122" d="M550.6 578.7l3.7 .7 1.3-1.9-3.6-.7z"/>
<path class="c9a" d="M554.3 579.4l3.6 .6 1.4-2-3.7-.5z"/>
<path class="c79" d="M557.9 580l3.7 .5 1.4-2-3.7-.5z"/>
<path class="c100" d="M561.6 580.5l3.7 .5 1.4-2.2-3.7-.3z"/>
<path class="c115" d="M565.3 581l3.8 .4 3.7 .4 3.8 .4 3.8 .4 3.9 .5 1.3-2.5-3.8-.4-3.8-.4-3.8-.3-3.8-.3-3.7-.4z"/>
<path class="c120" d="M584.3 583.1l3.8 .4 3.9 .4 3.9 .4 4 .5 3.9 .5 4 .6 4 .5 4.1 .5 1.3-2.6-4.1-.5-4-.5-3.9-.6-4-.5-3.9-.4-4-.4-3.8-.4-3.9-.4z"/>
<path class="c124" d="M615.9 586.9l4.1 .5 1.3-2.5-4.1-.6z"/>
<path class="c6c" d="M620 587.4l4 .8 1.3-2.5-4-.8z"/>
<path class="c41" d="M624 588.2l4.1 1.3 1.3-2.5-4.1-1.3z"/>
<path class="c36" d="M628.1 589.5l4.1 1.8 1.2-2.4-4-1.9z"/>
<path class="c45" d="M632.2 591.3l4 2 1.3-2.3-4.1-2.1z"/>
<path class="c46" d="M636.2 593.3l4.1 2.3 1.2-2.3-4-2.3z"/>
<path class="c49" d="M640.3 595.6l4 2.6 1.2-2.2-4-2.7z"/>
<path class="c52" d="M644.3 598.2l4 2.8 1.2-2.2-4-2.8z"/>
<path class="c59" d="M648.3 601l4 3.1 1.2-2.2-4-3.1z"/>
<path class="c125" d="M652.3 604.1l4 3.2 1.2-2.1-4-3.3z"/>
<path class="c121" d="M656.3 607.3l4 3.4 1.1-2-3.9-3.5z"/>
<path class="c66" d="M506.9 570.9l3.4 1 1.6-1.4-3.5-1z"/>
<path class="c8e" d="M510.3 571.9l3.5 .9 1.5-1.3-3.4-1z"/>
<path class="cea" d="M513.8 572.8l3.5 .9 1.4-1.4-3.4-.8z"/>
<path class="cc6" d="M517.3 573.7l3.4 .8 3.5 .7 1.5-1.5-3.5-.7-3.5-.7z"/>
<path class="cb2" d="M524.2 575.2l3.5 .7 3.5 .6 3.6 .8 1.4-1.7-3.5-.7-3.5-.6-3.5-.6z"/>
<path class="c123" d="M534.8 577.3l3.6 .8 3.6 .8 3.6 .9 3.6 .8 1.4-1.9-3.6-.8-3.6-.8-3.6-.7-3.6-.8z"/>
<path class="c122" d="M549.2 580.6l3.7 .7 3.6 .7 1.4-2-3.6-.6-3.7-.7z"/>
<path class="c9a" d="M556.5 582l3.7 .6 1.4-2.1-3.7-.5z"/>
<path class="c79" d="M560.2 582.6l3.7 .5 1.4-2.1-3.7-.5z"/>
<path class="c100" d="M563.9 583.1l3.8 .5 3.8 .5 1.3-2.3-3.7-.4-3.8-.4z"/>
<path class="c115" d="M571.5 584.1l3.7 .4 3.9 .5 3.8 .5 3.9 .5 3.9 .4 3.9 .5 3.9 .4 4 .5 4 .6 4 .6 4.1 .5 1.3-2.6-4.1-.5-4-.5-4-.6-3.9-.5-4-.5-3.9-.4-3.9-.4-3.8-.4-3.9-.5-3.8-.4-3.8-.4z"/>
<path class="c124" d="M614.6 589.5l4 .5 1.4-2.6-4.1-.5z"/>
<path class="c126" d="M618.6 590l4.1 .8 1.3-2.6-4-.8z"/>
<path class="c127" d="M622.7 590.8l4.1 1.2 1.3-2.5-4.1-1.3z"/>
<path class="c36" d="M626.8 592l4.1 1.7 1.3-2.4-4.1-1.8z"/>
<path class="c4d" d="M630.9 593.7l4 2 1.3-2.4-4-2z"/>
<path class="c46" d="M634.9 595.7l4.1 2.2 1.3-2.3-4.1-2.3z"/>
<path class="c49" d="M639 597.9l4 2.6 1.3-2.3-4-2.6z"/>
<path class="c52" d="M643 600.5l4.1 2.7 1.2-2.2-4-2.8z"/>
<path class="c59" d="M647.1 603.2l4 3 1.2-2.1-4-3.1z"/>
<path class="c125" d="M651.1 606.2l4 3.3 4 3.4 1.2-2.2-4-3.4-4-3.2z"/>
<path class="c66" d="M505.4 572.3l3.4 1 1.5-1.4-3.4-1z"/>
<path class="c8e" d="M508.8 573.3l3.5 1 1.5-1.5-3.5-.9z"/>
<path class="cea" d="M512.3 574.3l3.4 .9 1.6-1.5-3.5-.9z"/>
<path class="cc6" d="M515.7 575.2l3.5 .8 3.5 .8 1.5-1.6-3.5-.7-3.4-.8z"/>
<path class="cb2" d="M522.7 576.8l3.5 .7 3.6 .7 1.4-1.7-3.5-.6-3.5-.7z"/>
<path class="c123" d="M529.8 578.2l3.5 .8 3.6 .9 3.6 .8 3.6 .9 3.7 .9 1.4-1.9-3.6-.8-3.6-.9-3.6-.8-3.6-.8-3.6-.8z"/>
<path class="cb2" d="M547.8 582.5l3.6 .8 1.5-2-3.7-.7z"/>
<path class="c122" d="M551.4 583.3l3.7 .7 1.4-2-3.6-.7z"/>
<path class="c9a" d="M555.1 584l3.7 .6 3.7 .6 1.4-2.1-3.7-.5-3.7-.6z"/>
<path class="c79" d="M562.5 585.2l3.8 .6 3.7 .5 3.8 .5 3.8 .6 1.5-2.4-3.9-.5-3.7-.4-3.8-.5-3.8-.5z"/>
<path class="c100" d="M577.6 587.4l3.9 .5 1.4-2.4-3.8-.5z"/>
<path class="c115" d="M581.5 587.9l3.9 .5 3.9 .5 3.9 .5 3.9 .4 4 .6 1.4-2.6-4-.5-3.9-.4-3.9-.5-3.9-.4-3.9-.5z"/>
<path class="c124" d="M601.1 590.4l4 .6 1.4-2.6-4-.6z"/>
<path class="c115" d="M605.1 591l4 .5 4.1 .5 1.4-2.5-4.1-.5-4-.6z"/>
<path class="c124" d="M613.2 592l4.1 .5 1.3-2.5-4-.5z"/>
<path class="c126" d="M617.3 592.5l4.1 .8 1.3-2.5-4.1-.8z"/>
<path class="c127" d="M621.4 593.3l4.1 1.1 1.3-2.4-4.1-1.2z"/>
<path class="c40" d="M625.5 594.4l4.1 1.7 1.3-2.4-4.1-1.7z"/>
<path class="c4d" d="M629.6 596.1l4 1.9 1.3-2.3-4-2z"/>
<path class="c51" d="M633.6 598l4.1 2.3 1.3-2.4-4.1-2.2z"/>
<path class="c49" d="M637.7 600.3l4.1 2.4 1.2-2.2-4-2.6z"/>
<path class="c52" d="M641.8 602.7l4 2.8 1.3-2.3-4.1-2.7z"/>
<path class="c59" d="M645.8 605.5l4 2.9 1.3-2.2-4-3z"/>
<path class="c125" d="M649.8 608.4l4.1 3.2 4 3.4 1.2-2.1-4-3.4-4-3.3z"/>
<path class="c66" d="M503.8 573.7l3.4 1.1 1.6-1.5-3.4-1z"/>
<path class="c8e" d="M507.2 574.8l3.5 1 1.6-1.5-3.5-1z"/>
<path class="cea" d="M510.7 575.8l3.4 .9 3.5 .9 1.6-1.6-3.5-.8-3.4-.9z"/>
<path class="cc6" d="M517.6 577.6l3.5 .8 3.6 .7 3.5 .8 3.6 .9 3.6 .9 3.6 .9 1.5-1.9-3.6-.8-3.6-.9-3.5-.8-3.6-.7-3.5-.7-3.5-.8z"/>
<path class="c123" d="M539 582.6l3.6 .9 3.6 .9 3.7 .8 1.5-1.9-3.6-.8-3.7-.9-3.6-.9z"/>
<path class="cb2" d="M549.9 585.2l3.7 .8 1.5-2-3.7-.7z"/>
<path class="c122" d="M553.6 586l3.7 .7 1.5-2.1-3.7-.6z"/>
<path class="c9a" d="M557.3 586.7l3.7 .6 3.8 .7 1.5-2.2-3.8-.6-3.7-.6z"/>
<path class="c79" d="M564.8 588l3.8 .6 3.8 .5 3.8 .6 3.8 .6 3.9 .5 1.5-2.4-3.9-.5-3.9-.5-3.8-.6-3.8-.5-3.7-.5z"/>
<path class="c100" d="M583.9 590.8l3.9 .5 1.5-2.4-3.9-.5z"/>
<path class="c115" d="M587.8 591.3l4 .5 3.9 .5 1.4-2.5-3.9-.4-3.9-.5z"/>
<path class="c100" d="M595.7 592.3l4 .6 1.4-2.5-4-.6z"/>
<path class="c79" d="M599.7 592.9l4 .6 4 .6 1.4-2.6-4-.5-4-.6z"/>
<path class="c115" d="M607.7 594.1l4.1 .4 1.4-2.5-4.1-.5z"/>
<path class="c79" d="M611.8 594.5l4.1 .5 1.4-2.5-4.1-.5z"/>
<path class="c126" d="M615.9 595l4.1 .8 1.4-2.5-4.1-.8z"/>
<path class="c127" d="M620 595.8l4.1 1.1 1.4-2.5-4.1-1.1z"/>
<path class="c40" d="M624.1 596.9l4.1 1.6 1.4-2.4-4.1-1.7z"/>
<path class="c4d" d="M628.2 598.5l4.1 1.9 1.3-2.4-4-1.9z"/>
<path class="c51" d="M632.3 600.4l4.1 2.2 1.3-2.3-4.1-2.3z"/>
<path class="c4b" d="M636.4 602.6l4.1 2.4 1.3-2.3-4.1-2.4z"/>
<path class="c52" d="M640.5 605l4 2.7 1.3-2.2-4-2.8z"/>
<path class="c59" d="M644.5 607.7l4.1 3 1.2-2.3-4-2.9z"/>
<path class="c125" d="M648.6 610.7l4 3.1 4 3.4 1.3-2.2-4-3.4-4.1-3.2z"/>
<path class="c66" d="M502.1 575.2l3.5 1.1 3.4 1 1.7-1.5-3.5-1-3.4-1.1z"/>
<path class="cea" d="M509 577.3l3.5 1 3.5 .9 1.6-1.6-3.5-.9-3.4-.9z"/>
<path class="cc6" d="M516 579.2l3.5 .8 3.6 .8 3.5 .9 3.6 .8 3.6 1 1.6-1.8-3.6-.9-3.6-.9-3.5-.8-3.6-.7-3.5-.8z"/>
<path class="cea" d="M533.8 583.5l3.6 .9 3.6 1 1.6-1.9-3.6-.9-3.6-.9z"/>
<path class="c123" d="M541 585.4l3.7 .9 3.7 .9 1.5-2-3.7-.8-3.6-.9z"/>
<path class="cb2" d="M548.4 587.2l3.7 .8 3.7 .8 1.5-2.1-3.7-.7-3.7-.8z"/>
<path class="c122" d="M555.8 588.8l3.7 .7 1.5-2.2-3.7-.6z"/>
<path class="c9a" d="M559.5 589.5l3.8 .6 3.8 .7 3.8 .6 1.5-2.3-3.8-.5-3.8-.6-3.8-.7z"/>
<path class="c79" d="M570.9 591.4l3.8 .7 3.9 .6 3.8 .6 4 .5 1.4-2.5-3.9-.5-3.9-.5-3.8-.6-3.8-.6z"/>
<path class="c100" d="M586.4 593.8l3.9 .5 4 .5 1.4-2.5-3.9-.5-4-.5z"/>
<path class="c79" d="M594.3 594.8l3.9 .6 4.1 .6 4 .6 1.4-2.5-4-.6-4-.6-4-.6z"/>
<path class="c100" d="M606.3 596.6l4.1 .4 4.1 .5 1.4-2.5-4.1-.5-4.1-.4z"/>
<path class="c126" d="M614.5 597.5l4.1 .7 1.4-2.4-4.1-.8z"/>
<path class="c128" d="M618.6 598.2l4.1 1.1 1.4-2.4-4.1-1.1z"/>
<path class="c40" d="M622.7 599.3l4.1 1.6 1.4-2.4-4.1-1.6z"/>
<path class="c4d" d="M626.8 600.9l4.1 1.9 1.4-2.4-4.1-1.9z"/>
<path class="c51" d="M630.9 602.8l4.1 2.1 1.4-2.3-4.1-2.2z"/>
<path class="c4b" d="M635 604.9l4.1 2.4 1.4-2.3-4.1-2.4z"/>
<path class="c52" d="M639.1 607.3l4.1 2.7 1.3-2.3-4-2.7z"/>
<path class="c59" d="M643.2 610l4.1 2.9 1.3-2.2-4.1-3z"/>
<path class="c125" d="M647.3 612.9l4 3.1 4 3.4 1.3-2.2-4-3.4-4-3.1z"/>
<path class="c66" d="M500.4 576.8l3.5 1 3.5 1.1 1.6-1.6-3.4-1-3.5-1.1z"/>
<path class="c8e" d="M507.4 578.9l3.4 .9 1.7-1.5-3.5-1z"/>
<path class="cea" d="M510.8 579.8l3.6 1 3.5 .9 1.6-1.7-3.5-.8-3.5-.9z"/>
<path class="cc6" d="M517.9 581.7l3.5 .8 3.6 .9 1.6-1.7-3.5-.9-3.6-.8z"/>
<path class="cea" d="M525 583.4l3.6 .9 3.6 1 3.6 1 3.7 1 3.6 .9 1.6-1.9-3.7-.9-3.6-1-3.6-.9-3.6-1-3.6-.8z"/>
<path class="c123" d="M543.1 588.2l3.7 1 3.7 .8 1.6-2-3.7-.8-3.7-.9z"/>
<path class="cb2" d="M550.5 590l3.7 .8 3.8 .8 1.5-2.1-3.7-.7-3.7-.8z"/>
<path class="c122" d="M558 591.6l3.7 .7 3.8 .7 1.6-2.2-3.8-.7-3.8-.6z"/>
<path class="c9a" d="M565.5 593l3.8 .7 3.9 .7 3.8 .7 1.6-2.4-3.9-.6-3.8-.7-3.8-.6z"/>
<path class="c79" d="M577 595.1l3.9 .6 3.9 .5 4 .6 4 .5 3.9 .6 4.1 .6 4 .6 1.5-2.5-4-.6-4.1-.6-3.9-.6-4-.5-3.9-.5-4-.5-3.8-.6z"/>
<path class="c100" d="M604.8 599.1l4.1 .5 4.1 .4 1.5-2.5-4.1-.5-4.1-.4z"/>
<path class="c122" d="M613 600l4.1 .7 1.5-2.5-4.1-.7z"/>
<path class="c128" d="M617.1 600.7l4.2 1.1 1.4-2.5-4.1-1.1z"/>
<path class="c57" d="M621.3 601.8l4.1 1.5 1.4-2.4-4.1-1.6z"/>
<path class="c56" d="M625.4 603.3l4.1 1.9 1.4-2.4-4.1-1.9z"/>
<path class="c51" d="M629.5 605.2l4.1 2.1 1.4-2.4-4.1-2.1z"/>
<path class="c5a" d="M633.6 607.3l4.1 2.4 1.4-2.4-4.1-2.4z"/>
<path class="c53" d="M637.7 609.7l4.1 2.6 1.4-2.3-4.1-2.7z"/>
<path class="c5d" d="M641.8 612.3l4.1 2.9 4.1 3.1 1.3-2.3-4-3.1-4.1-2.9z"/>
<path class="c125" d="M650 618.3l4 3.3 1.3-2.2-4-3.4z"/>
<path class="c66" d="M498.7 578.4l3.4 1 3.5 1.1 1.8-1.6-3.5-1.1-3.5-1z"/>
<path class="c8e" d="M505.6 580.5l3.5 1 1.7-1.7-3.4-.9z"/>
<path class="cea" d="M509.1 581.5l3.5 1 3.6 .9 3.5 .9 3.6 .9 3.6 1 3.6 1 3.7 1 3.6 1 3.7 1 1.6-2-3.6-.9-3.7-1-3.6-1-3.6-1-3.6-.9-3.6-.9-3.5-.8-3.5-.9-3.6-1z"/>
<path class="cc6" d="M541.5 590.2l3.7 1 1.6-2-3.7-1z"/>
<path class="c123" d="M545.2 591.2l3.7 .9 3.7 .8 1.6-2.1-3.7-.8-3.7-.8z"/>
<path class="cb2" d="M552.6 592.9l3.8 .8 3.7 .8 1.6-2.2-3.7-.7-3.8-.8z"/>
<path class="c122" d="M560.1 594.5l3.8 .8 3.9 .7 3.8 .8 1.6-2.4-3.9-.7-3.8-.7-3.8-.7z"/>
<path class="c9a" d="M571.6 596.8l3.9 .6 3.9 .7 1.5-2.4-3.9-.6-3.8-.7z"/>
<path class="c79" d="M579.4 598.1l3.9 .6 3.9 .5 4 .6 4 .6 4 .6 4.1 .6 1.5-2.5-4-.6-4.1-.6-3.9-.6-4-.5-4-.6-3.9-.5z"/>
<path class="c100" d="M603.3 601.6l4.1 .5 4.1 .5 1.5-2.6-4.1-.4-4.1-.5z"/>
<path class="c9a" d="M611.5 602.6l4.1 .6 1.5-2.5-4.1-.7z"/>
<path class="c123" d="M615.6 603.2l4.2 1.1 1.5-2.5-4.2-1.1z"/>
<path class="c57" d="M619.8 604.3l4.1 1.4 1.5-2.4-4.1-1.5z"/>
<path class="c56" d="M623.9 605.7l4.2 1.9 1.4-2.4-4.1-1.9z"/>
<path class="c54" d="M628.1 607.6l4.1 2.1 1.4-2.4-4.1-2.1z"/>
<path class="c5a" d="M632.2 609.7l4.1 2.3 1.4-2.3-4.1-2.4z"/>
<path class="c53" d="M636.3 612l4.1 2.6 1.4-2.3-4.1-2.6z"/>
<path class="c5f" d="M640.4 614.6l4.1 2.9 1.4-2.3-4.1-2.9z"/>
<path class="c5d" d="M644.5 617.5l4.1 3 1.4-2.2-4.1-3.1z"/>
<path class="c125" d="M648.6 620.5l4.1 3.3 1.3-2.2-4-3.3z"/>
<path class="c66" d="M496.9 580l3.5 1.1 3.4 1 3.6 1.1 1.7-1.7-3.5-1-3.5-1.1-3.4-1z"/>
<path class="cea" d="M507.4 583.2l3.5 1 3.5 .9 3.6 1 3.6 .9 3.6 1 3.6 1.1 3.7 1 3.6 1.1 3.7 1 3.7 1 1.7-2-3.7-1-3.7-1-3.6-1-3.7-1-3.6-1-3.6-1-3.6-.9-3.5-.9-3.6-.9-3.5-1z"/>
<path class="cc6" d="M543.5 593.2l3.7 .9 1.7-2-3.7-.9z"/>
<path class="c123" d="M547.2 594.1l3.8 .9 3.7 .9 1.7-2.2-3.8-.8-3.7-.8z"/>
<path class="cb2" d="M554.7 595.9l3.8 .8 3.8 .9 1.6-2.3-3.8-.8-3.7-.8z"/>
<path class="c122" d="M562.3 597.6l3.8 .7 3.9 .8 1.6-2.3-3.8-.8-3.9-.7z"/>
<path class="c9a" d="M570 599.1l3.9 .7 3.9 .7 3.9 .6 4 .6 3.9 .6 4.1 .6 4 .6 1.5-2.5-4-.6-4-.6-4-.6-3.9-.5-3.9-.6-3.9-.7-3.9-.6z"/>
<path class="c79" d="M597.7 603.5l4.1 .6 1.5-2.5-4.1-.6z"/>
<path class="c100" d="M601.8 604.1l4 .5 4.2 .5 1.5-2.5-4.1-.5-4.1-.5z"/>
<path class="c9a" d="M610 605.1l4.1 .6 1.5-2.5-4.1-.6z"/>
<path class="c123" d="M614.1 605.7l4.2 1 1.5-2.4-4.2-1.1z"/>
<path class="c57" d="M618.3 606.7l4.1 1.5 1.5-2.5-4.1-1.4z"/>
<path class="c4e" d="M622.4 608.2l4.2 1.8 1.5-2.4-4.2-1.9z"/>
<path class="c54" d="M626.6 610l4.1 2.1 1.5-2.4-4.1-2.1z"/>
<path class="c5a" d="M630.7 612.1l4.2 2.3 1.4-2.4-4.1-2.3z"/>
<path class="c53" d="M634.9 614.4l4.1 2.6 1.4-2.4-4.1-2.6z"/>
<path class="c5f" d="M639 617l4.1 2.8 1.4-2.3-4.1-2.9z"/>
<path class="c5d" d="M643.1 619.8l4.1 3 1.4-2.3-4.1-3z"/>
<path class="c125" d="M647.2 622.8l4.1 3.3 1.4-2.3-4.1-3.3z"/>
<path class="c66" d="M495 581.6l3.5 1.1 3.5 1.1 3.5 1.1 1.9-1.7-3.6-1.1-3.4-1-3.5-1.1z"/>
<path class="c8e" d="M505.5 584.9l3.6 1 1.8-1.7-3.5-1z"/>
<path class="cea" d="M509.1 585.9l3.5 1 3.6 1 3.6 1 3.6 1 3.7 1.1 3.6 1.1 3.7 1 3.7 1.1 3.7 1 1.7-2-3.7-1-3.7-1-3.6-1.1-3.7-1-3.6-1.1-3.6-1-3.6-.9-3.6-1-3.5-.9z"/>
<path class="cc6" d="M541.8 595.2l3.7 1 1.7-2.1-3.7-.9z"/>
<path class="c123" d="M545.5 596.2l3.8 1 3.7 .9 3.8 .9 1.7-2.3-3.8-.8-3.7-.9-3.8-.9z"/>
<path class="cb2" d="M556.8 599l3.8 .8 3.9 .9 1.6-2.4-3.8-.7-3.8-.9z"/>
<path class="c122" d="M564.5 600.7l3.8 .8 3.9 .7 1.7-2.4-3.9-.7-3.9-.8z"/>
<path class="c9a" d="M572.2 602.2l3.9 .7 4 .6 3.9 .7 4 .6 4 .6 4.1 .6 4.1 .7 1.6-2.6-4.1-.6-4-.6-4.1-.6-3.9-.6-4-.6-3.9-.6-3.9-.7z"/>
<path class="c100" d="M600.2 606.7l4.1 .4 4.1 .5 1.6-2.5-4.2-.5-4-.5z"/>
<path class="c9a" d="M608.4 607.6l4.2 .7 1.5-2.6-4.1-.6z"/>
<path class="c123" d="M612.6 608.3l4.1 .9 1.6-2.5-4.2-1z"/>
<path class="c57" d="M616.7 609.2l4.2 1.5 1.5-2.5-4.1-1.5z"/>
<path class="c4e" d="M620.9 610.7l4.1 1.7 1.6-2.4-4.2-1.8z"/>
<path class="c5b" d="M625 612.4l4.2 2.1 1.5-2.4-4.1-2.1z"/>
<path class="c5a" d="M629.2 614.5l4.2 2.3 1.5-2.4-4.2-2.3z"/>
<path class="c53" d="M633.4 616.8l4.1 2.6 1.5-2.4-4.1-2.6z"/>
<path class="c5f" d="M637.5 619.4l4.1 2.8 1.5-2.4-4.1-2.8z"/>
<path class="c5d" d="M641.6 622.2l4.2 3 1.4-2.4-4.1-3z"/>
<path class="c125" d="M645.8 625.2l4.1 3.3 1.4-2.4-4.1-3.3z"/>
<path class="c66" d="M493.1 583.3l3.5 1.2 3.6 1.1 3.5 1 3.5 1.1 1.9-1.8-3.6-1-3.5-1.1-3.5-1.1-3.5-1.1z"/>
<path class="cea" d="M507.2 587.7l3.6 1 3.6 1.1 3.6 1 3.6 1 3.7 1.1 1.8-1.9-3.7-1.1-3.6-1-3.6-1-3.6-1-3.5-1z"/>
<path class="c129" d="M525.3 592.9l3.6 1.2 3.7 1.1 1.8-2.1-3.7-1-3.6-1.1z"/>
<path class="cea" d="M532.6 595.2l3.7 1.1 3.7 1 3.8 1 1.7-2.1-3.7-1-3.7-1-3.7-1.1z"/>
<path class="cc6" d="M543.8 598.3l3.7 1 1.8-2.1-3.8-1z"/>
<path class="c123" d="M547.5 599.3l3.8 1 3.8 .9 3.8 .9 1.7-2.3-3.8-.8-3.8-.9-3.7-.9z"/>
<path class="cb2" d="M558.9 602.1l3.9 .9 3.8 .8 1.7-2.3-3.8-.8-3.9-.9z"/>
<path class="c122" d="M566.6 603.8l3.9 .8 1.7-2.4-3.9-.7z"/>
<path class="c9a" d="M570.5 604.6l4 .7 3.9 .7 4 .6 4 .7 4 .6 4 .7 4.1 .6 1.7-2.5-4.1-.7-4.1-.6-4-.6-4-.6-3.9-.7-4-.6-3.9-.7z"/>
<path class="c91" d="M598.5 609.2l4.1 .5 4.2 .5 1.6-2.6-4.1-.5-4.1-.4z"/>
<path class="c9a" d="M606.8 610.2l4.2 .6 1.6-2.5-4.2-.7z"/>
<path class="c123" d="M611 610.8l4.1 1 1.6-2.6-4.1-.9z"/>
<path class="c129" d="M615.1 611.8l4.2 1.4 1.6-2.5-4.2-1.5z"/>
<path class="c4e" d="M619.3 613.2l4.2 1.7 1.5-2.5-4.1-1.7z"/>
<path class="c5b" d="M623.5 614.9l4.2 2 1.5-2.4-4.2-2.1z"/>
<path class="c61" d="M627.7 616.9l4.1 2.3 1.6-2.4-4.2-2.3z"/>
<path class="c53" d="M631.8 619.2l4.2 2.6 1.5-2.4-4.1-2.6z"/>
<path class="c5f" d="M636 621.8l4.1 2.8 1.5-2.4-4.1-2.8z"/>
<path class="c5d" d="M640.1 624.6l4.2 3 1.5-2.4-4.2-3z"/>
<path class="c125" d="M644.3 627.6l4.1 3.3 1.5-2.4-4.1-3.3z"/>
<path class="c66" d="M491.2 585.1l3.5 1.1 3.5 1.1 3.6 1.1 3.5 1.1 3.6 1.1 1.9-1.9-3.6-1-3.5-1.1-3.5-1-3.6-1.1-3.5-1.2z"/>
<path class="cea" d="M508.9 590.6l3.6 1.1 3.6 1 1.9-1.9-3.6-1-3.6-1.1z"/>
<path class="c129" d="M516.1 592.7l3.6 1.1 3.7 1.1 3.7 1.2 3.7 1.1 1.8-2-3.7-1.1-3.6-1.2-3.7-1.1-3.6-1z"/>
<path class="cea" d="M530.8 597.2l3.7 1.1 3.7 1.1 3.8 1.1 3.7 1 1.8-2.2-3.7-1-3.8-1-3.7-1-3.7-1.1z"/>
<path class="cc6" d="M545.7 601.5l3.8 1 1.8-2.2-3.8-1z"/>
<path class="c123" d="M549.5 602.5l3.8 1 3.9 .9 3.8 1 1.8-2.4-3.9-.9-3.8-.9-3.8-.9z"/>
<path class="cb2" d="M561 605.4l3.9 .8 3.9 .9 1.7-2.5-3.9-.8-3.8-.8z"/>
<path class="c122" d="M568.8 607.1l3.9 .7 1.8-2.5-4-.7z"/>
<path class="c9a" d="M572.7 607.8l4 .7 4 .6 4 .7 4 .6 4.1 .7 4.1 .7 1.6-2.6-4.1-.6-4-.7-4-.6-4-.7-4-.6-3.9-.7z"/>
<path class="c91" d="M596.9 611.8l4.1 .5 4.1 .4 1.7-2.5-4.2-.5-4.1-.5z"/>
<path class="c9a" d="M605.1 612.7l4.2 .7 1.7-2.6-4.2-.6z"/>
<path class="c123" d="M609.3 613.4l4.2 .9 1.6-2.5-4.1-1z"/>
<path class="c129" d="M613.5 614.3l4.2 1.4 1.6-2.5-4.2-1.4z"/>
<path class="c4e" d="M617.7 615.7l4.2 1.7 1.6-2.5-4.2-1.7z"/>
<path class="c5b" d="M621.9 617.4l4.2 2 1.6-2.5-4.2-2z"/>
<path class="c61" d="M626.1 619.4l4.2 2.3 1.5-2.5-4.1-2.3z"/>
<path class="c53" d="M630.3 621.7l4.1 2.5 1.6-2.4-4.2-2.6z"/>
<path class="c5f" d="M634.4 624.2l4.2 2.8 1.5-2.4-4.1-2.8z"/>
<path class="c5d" d="M638.6 627l4.2 3 1.5-2.4-4.2-3z"/>
<path class="c125" d="M642.8 630l4.1 3.3 1.5-2.4-4.1-3.3z"/>
<path class="c66" d="M489.2 586.9l3.5 1.1 3.6 1.2 3.5 1.1 3.6 1.1 3.6 1.1 3.6 1.1 3.6 1.1 3.6 1.1 3.7 1.2 3.7 1.1 1.9-2-3.7-1.2-3.7-1.1-3.6-1.1-3.6-1-3.6-1.1-3.6-1.1-3.5-1.1-3.6-1.1-3.5-1.1-3.5-1.1z"/>
<path class="c129" d="M525.2 598.1l3.7 1.2 3.7 1.2 1.9-2.2-3.7-1.1-3.7-1.1z"/>
<path class="cea" d="M532.6 600.5l3.8 1.1 3.7 1.1 3.8 1 3.8 1.1 1.8-2.3-3.8-1-3.7-1-3.8-1.1-3.7-1.1z"/>
<path class="cc6" d="M547.7 604.8l3.8 1 1.8-2.3-3.8-1z"/>
<path class="c123" d="M551.5 605.8l3.9 1 3.8 .9 3.9 1 1.8-2.5-3.9-.8-3.8-1-3.9-.9z"/>
<path class="cb2" d="M563.1 608.7l3.9 .8 4 .8 1.7-2.5-3.9-.7-3.9-.9z"/>
<path class="c9a" d="M571 610.3l3.9 .7 4 .7 4 .6 4.1 .7 4 .7 4.2 .7 1.7-2.6-4.1-.7-4.1-.7-4-.6-4-.7-4-.6-4-.7z"/>
<path class="c91" d="M595.2 614.4l4.1 .5 4.2 .4 1.6-2.6-4.1-.4-4.1-.5z"/>
<path class="c9a" d="M603.5 615.3l4.1 .7 1.7-2.6-4.2-.7z"/>
<path class="c123" d="M607.6 616l4.2 .9 1.7-2.6-4.2-.9z"/>
<path class="c129" d="M611.8 616.9l4.3 1.3 1.6-2.5-4.2-1.4z"/>
<path class="c4e" d="M616.1 618.2l4.2 1.8 1.6-2.6-4.2-1.7z"/>
<path class="c5b" d="M620.3 620l4.2 2 1.6-2.6-4.2-2z"/>
<path class="c60" d="M624.5 622l4.2 2.2 1.6-2.5-4.2-2.3z"/>
<path class="c53" d="M628.7 624.2l4.2 2.5 1.5-2.5-4.1-2.5z"/>
<path class="c5f" d="M632.9 626.7l4.1 2.8 1.6-2.5-4.2-2.8z"/>
<path class="c5d" d="M637 629.5l4.2 3 1.6-2.5-4.2-3z"/>
<path class="c125" d="M641.2 632.5l4.2 3.2 1.5-2.4-4.1-3.3z"/>
<path class="c66" d="M487.2 588.8l3.5 1.1 3.5 1.1 3.6 1.2 3.6 1.1 3.6 1.2 3.6 1.1 3.6 1.1 3.7 1.2 3.7 1.1 3.7 1.2 3.7 1.2 1.9-2.1-3.7-1.2-3.7-1.1-3.7-1.2-3.6-1.1-3.6-1.1-3.6-1.1-3.6-1.1-3.6-1.1-3.5-1.1-3.6-1.2-3.5-1.1z"/>
<path class="c129" d="M527 601.4l3.7 1.2 3.7 1.2 2-2.2-3.8-1.1-3.7-1.2z"/>
<path class="cea" d="M534.4 603.8l3.8 1.1 3.8 1.1 3.8 1.1 3.9 1 1.8-2.3-3.8-1-3.8-1.1-3.8-1-3.7-1.1z"/>
<path class="cc6" d="M549.7 608.1l3.8 1.1 1.9-2.4-3.9-1z"/>
<path class="c123" d="M553.5 609.2l3.9 1 3.9 .9 1.8-2.4-3.9-1-3.8-.9z"/>
<path class="cb2" d="M561.3 611.1l3.9 .9 3.9 .8 1.9-2.5-4-.8-3.9-.8z"/>
<path class="c122" d="M569.1 612.8l4 .7 1.8-2.5-3.9-.7z"/>
<path class="c9a" d="M573.1 613.5l4 .7 4.1 .7 4 .7 4.1 .7 4.1 .7 1.8-2.6-4.2-.7-4-.7-4.1-.7-4-.6-4-.7z"/>
<path class="c91" d="M593.4 617l4.1 .5 4.2 .5 1.8-2.7-4.2-.4-4.1-.5z"/>
<path class="c9a" d="M601.7 618l4.2 .6 1.7-2.6-4.1-.7z"/>
<path class="cb2" d="M605.9 618.6l4.2 .9 1.7-2.6-4.2-.9z"/>
<path class="c129" d="M610.1 619.5l4.3 1.3 1.7-2.6-4.3-1.3z"/>
<path class="c4f" d="M614.4 620.8l4.2 1.7 1.7-2.5-4.2-1.8z"/>
<path class="c55" d="M618.6 622.5l4.2 2 1.7-2.5-4.2-2z"/>
<path class="c60" d="M622.8 624.5l4.2 2.3 1.7-2.6-4.2-2.2z"/>
<path class="c5a" d="M627 626.8l4.2 2.5 1.7-2.6-4.2-2.5z"/>
<path class="c5f" d="M631.2 629.3l4.2 2.7 1.6-2.5-4.1-2.8z"/>
<path class="c5d" d="M635.4 632l4.2 3 4.2 3.3 1.6-2.6-4.2-3.2-4.2-3z"/>
<path class="c66" d="M485.1 590.6l3.5 1.2 3.6 1.2 3.5 1.1 3.6 1.2 3.6 1.2 3.7 1.1 3.6 1.2 3.7 1.2 3.7 1.2 3.7 1.2 3.7 1.2 3.7 1.2 2-2.2-3.7-1.2-3.7-1.2-3.7-1.2-3.7-1.1-3.7-1.2-3.6-1.1-3.6-1.1-3.6-1.2-3.6-1.1-3.6-1.2-3.5-1.1-3.5-1.1z"/>
<path class="c129" d="M528.7 604.8l3.8 1.2 1.9-2.2-3.7-1.2z"/>
<path class="cea" d="M532.5 606l3.8 1.1 3.8 1.2 3.8 1.1 3.8 1.1 3.9 1.1 1.9-2.4-3.8-1.1-3.9-1-3.8-1.1-3.8-1.1-3.8-1.1z"/>
<path class="cc6" d="M551.6 611.6l3.9 1 1.9-2.4-3.9-1z"/>
<path class="c123" d="M555.5 612.6l3.9 1 1.9-2.5-3.9-.9z"/>
<path class="cb2" d="M559.4 613.6l3.9 .9 4 .8 4 .8 1.8-2.6-4-.7-3.9-.8-3.9-.9z"/>
<path class="c9a" d="M571.3 616.1l4 .7 4 .7 4.1 .7 4.1 .7 4.1 .7 4.2 .5 1.7-2.6-4.1-.5-4.1-.7-4.1-.7-4-.7-4.1-.7-4-.7z"/>
<path class="c91" d="M595.8 620.1l4.1 .5 1.8-2.6-4.2-.5z"/>
<path class="c9a" d="M599.9 620.6l4.3 .6 1.7-2.6-4.2-.6z"/>
<path class="cb2" d="M604.2 621.2l4.2 .9 1.7-2.6-4.2-.9z"/>
<path class="c129" d="M608.4 622.1l4.2 1.4 1.8-2.7-4.3-1.3z"/>
<path class="c4f" d="M612.6 623.5l4.3 1.7 1.7-2.7-4.2-1.7z"/>
<path class="c55" d="M616.9 625.2l4.2 1.9 1.7-2.6-4.2-2z"/>
<path class="c60" d="M621.1 627.1l4.2 2.3 1.7-2.6-4.2-2.3z"/>
<path class="c5a" d="M625.3 629.4l4.3 2.5 1.6-2.6-4.2-2.5z"/>
<path class="c62" d="M629.6 631.9l4.2 2.7 1.6-2.6-4.2-2.7z"/>
<path class="c5d" d="M633.8 634.6l4.2 3 4.2 3.2 1.6-2.5-4.2-3.3-4.2-3z"/>
<path class="c66" d="M482.9 592.6l3.6 1.2 3.5 1.1 3.6 1.2 3.6 1.2 3.6 1.2 3.7 1.2 3.6 1.2 3.7 1.2 3.7 1.2 3.7 1.3 3.8 1.2 3.7 1.2 3.8 1.3 2-2.3-3.8-1.2-3.7-1.2-3.7-1.2-3.7-1.2-3.7-1.2-3.7-1.2-3.6-1.2-3.7-1.1-3.6-1.2-3.6-1.2-3.5-1.1-3.6-1.2-3.5-1.2z"/>
<path class="c129" d="M530.5 608.3l3.8 1.1 2-2.3-3.8-1.1z"/>
<path class="cea" d="M534.3 609.4l3.8 1.2 3.8 1.1 3.9 1.2 3.9 1.1 1.9-2.4-3.9-1.1-3.8-1.1-3.8-1.1-3.8-1.2z"/>
<path class="cc6" d="M549.7 614l3.9 1.1 1.9-2.5-3.9-1z"/>
<path class="c123" d="M553.6 615.1l3.9 1 3.9 .9 1.9-2.5-3.9-.9-3.9-1z"/>
<path class="cb2" d="M561.4 617l4 .9 4 .8 1.9-2.6-4-.8-4-.8z"/>
<path class="ca2" d="M569.4 618.7l4 .7 1.9-2.6-4-.7z"/>
<path class="c9a" d="M573.4 619.4l4.1 .7 4 .8 4.1 .7 4.2 .7 4.1 .5 1.9-2.7-4.2-.5-4.1-.7-4.1-.7-4.1-.7-4-.7z"/>
<path class="c91" d="M593.9 622.8l4.2 .5 1.8-2.7-4.1-.5z"/>
<path class="c9a" d="M598.1 623.3l4.3 .6 1.8-2.7-4.3-.6z"/>
<path class="cb2" d="M602.4 623.9l4.2 .9 1.8-2.7-4.2-.9z"/>
<path class="c129" d="M606.6 624.8l4.3 1.3 1.7-2.6-4.2-1.4z"/>
<path class="c4f" d="M610.9 626.1l4.2 1.7 1.8-2.6-4.3-1.7z"/>
<path class="c55" d="M615.1 627.8l4.3 2 1.7-2.7-4.2-1.9z"/>
<path class="c60" d="M619.4 629.8l4.2 2.2 1.7-2.6-4.2-2.3z"/>
<path class="c5a" d="M623.6 632l4.3 2.5 1.7-2.6-4.3-2.5z"/>
<path class="c62" d="M627.9 634.5l4.2 2.7 1.7-2.6-4.2-2.7z"/>
<path class="c5f" d="M632.1 637.2l4.2 3 1.7-2.6-4.2-3z"/>
<path class="c5d" d="M636.3 640.2l4.3 3.2 1.6-2.6-4.2-3.2z"/>
<path class="c66" d="M480.7 594.6l3.6 1.2 3.5 1.2 3.6 1.2 3.7 1.2 3.6 1.2 3.6 1.2 3.7 1.2 3.7 1.3 3.7 1.2 3.7 1.3 3.8 1.3 3.8 1.2 3.7 1.3 2.1-2.3-3.8-1.3-3.7-1.2-3.8-1.2-3.7-1.3-3.7-1.2-3.7-1.2-3.6-1.2-3.7-1.2-3.6-1.2-3.6-1.2-3.6-1.2-3.5-1.1-3.6-1.2z"/>
<path class="c129" d="M528.4 610.6l3.8 1.2 3.9 1.2 2-2.4-3.8-1.2-3.8-1.1z"/>
<path class="cea" d="M536.1 613l3.8 1.1 3.9 1.2 3.9 1.2 3.9 1.1 2-2.5-3.9-1.1-3.9-1.1-3.9-1.2-3.8-1.1z"/>
<path class="cc6" d="M551.6 617.6l3.9 1 2-2.5-3.9-1z"/>
<path class="c123" d="M555.5 618.6l4 1 1.9-2.6-3.9-.9z"/>
<path class="cb2" d="M559.5 619.6l3.9 .9 4 .8 4.1 .7 1.9-2.6-4-.7-4-.8-4-.9z"/>
<path class="ca2" d="M571.5 622l4 .8 4.1 .7 4.1 .8 1.9-2.7-4.1-.7-4-.8-4.1-.7z"/>
<path class="c9a" d="M583.7 624.3l4.2 .7 4.2 .5 1.8-2.7-4.1-.5-4.2-.7z"/>
<path class="c91" d="M592.1 625.5l4.2 .5 1.8-2.7-4.2-.5z"/>
<path class="c9a" d="M596.3 626l4.2 .7 1.9-2.8-4.3-.6z"/>
<path class="cb2" d="M600.5 626.7l4.3 .8 1.8-2.7-4.2-.9z"/>
<path class="cea" d="M604.8 627.5l4.2 1.3 1.9-2.7-4.3-1.3z"/>
<path class="c4f" d="M609 628.8l4.3 1.7 1.8-2.7-4.2-1.7z"/>
<path class="c55" d="M613.3 630.5l4.3 2 1.8-2.7-4.3-2z"/>
<path class="c60" d="M617.6 632.5l4.2 2.2 1.8-2.7-4.2-2.2z"/>
<path class="c63" d="M621.8 634.7l4.3 2.5 1.8-2.7-4.3-2.5z"/>
<path class="c62" d="M626.1 637.2l4.3 2.7 1.7-2.7-4.2-2.7z"/>
<path class="c5f" d="M630.4 639.9l4.2 3 1.7-2.7-4.2-3z"/>
<path class="c5d" d="M634.6 642.9l4.3 3.2 1.7-2.7-4.3-3.2z"/>
<path class="c66" d="M478.4 596.6l3.6 1.2 3.6 1.2 3.6 1.3 3.6 1.2 3.7 1.2 3.7 1.3 3.6 1.2 3.7 1.3 3.8 1.3 3.7 1.3 3.8 1.3 3.7 1.2 3.8 1.3 3.9 1.2 2-2.3-3.8-1.2-3.7-1.3-3.8-1.2-3.8-1.3-3.7-1.3-3.7-1.2-3.7-1.3-3.7-1.2-3.6-1.2-3.6-1.2-3.7-1.2-3.6-1.2-3.5-1.2-3.6-1.2z"/>
<path class="c129" d="M530.2 614.1l3.8 1.3 3.8 1.2 2.1-2.5-3.8-1.1-3.9-1.2z"/>
<path class="cea" d="M537.8 616.6l3.9 1.2 3.9 1.2 3.9 1.1 2.1-2.5-3.9-1.1-3.9-1.2-3.9-1.2z"/>
<path class="cc6" d="M549.5 620.1l4 1.1 2-2.6-3.9-1z"/>
<path class="c123" d="M553.5 621.2l4 1 2-2.6-4-1z"/>
<path class="cb2" d="M557.5 622.2l3.9 .9 4.1 .8 4 .8 2-2.7-4.1-.7-4-.8-3.9-.9z"/>
<path class="ca2" d="M569.5 624.7l4.1 .8 4.1 .8 4.1 .7 1.9-2.7-4.1-.8-4.1-.7-4-.8z"/>
<path class="c9a" d="M581.8 627l4.2 .7 1.9-2.7-4.2-.7z"/>
<path class="c91" d="M586 627.7l4.1 .6 4.3 .5 1.9-2.8-4.2-.5-4.2-.5z"/>
<path class="c9a" d="M594.4 628.8l4.2 .6 1.9-2.7-4.2-.7z"/>
<path class="cb2" d="M598.6 629.4l4.3 .9 1.9-2.8-4.3-.8z"/>
<path class="cea" d="M602.9 630.3l4.3 1.3 1.8-2.8-4.2-1.3z"/>
<path class="c4f" d="M607.2 631.6l4.3 1.6 1.8-2.7-4.3-1.7z"/>
<path class="c55" d="M611.5 633.2l4.2 2 1.9-2.7-4.3-2z"/>
<path class="c5b" d="M615.7 635.2l4.3 2.2 1.8-2.7-4.2-2.2z"/>
<path class="c5a" d="M620 637.4l4.3 2.5 1.8-2.7-4.3-2.5z"/>
<path class="c53" d="M624.3 639.9l4.3 2.7 1.8-2.7-4.3-2.7z"/>
<path class="c5f" d="M628.6 642.6l4.3 3 1.7-2.7-4.2-3z"/>
<path class="c5d" d="M632.9 645.6l4.2 3.2 1.8-2.7-4.3-3.2z"/>
<path class="c66" d="M476.1 598.7l3.6 1.2 3.6 1.2 3.6 1.3 3.7 1.3 3.6 1.2 3.7 1.3 3.7 1.3 3.7 1.3 3.8 1.3 2.2-2.3-3.8-1.3-3.7-1.3-3.6-1.2-3.7-1.3-3.7-1.2-3.6-1.2-3.6-1.3-3.6-1.2-3.6-1.2z"/>
<path class="c5e" d="M509.1 610.1l3.7 1.3 2.2-2.3-3.7-1.3z"/>
<path class="c66" d="M512.8 611.4l3.8 1.3 3.8 1.3 3.8 1.3 2.1-2.4-3.8-1.3-3.7-1.2-3.8-1.3z"/>
<path class="c129" d="M524.2 615.3l3.8 1.3 3.9 1.2 3.8 1.3 3.9 1.2 2.1-2.5-3.9-1.2-3.8-1.2-3.8-1.3-3.9-1.2z"/>
<path class="cea" d="M539.6 620.3l3.9 1.2 4 1.2 2-2.6-3.9-1.1-3.9-1.2z"/>
<path class="c123" d="M547.5 622.7l3.9 1.1 4 1 2.1-2.6-4-1-4-1.1z"/>
<path class="cb2" d="M555.4 624.8l4 1 2-2.7-3.9-.9z"/>
<path class="c122" d="M559.4 625.8l4 .8 2.1-2.7-4.1-.8z"/>
<path class="c9a" d="M563.4 626.6l4.1 .8 4.1 .8 4.1 .9 4.1 .9 2-3-4.1-.7-4.1-.8-4.1-.8-4-.8z"/>
<path class="c79" d="M579.8 630l4.2 .8 2-3.1-4.2-.7z"/>
<path class="c100" d="M584 630.8l4.2 .7 4.2 .6 4.3 .7 1.9-3.4-4.2-.6-4.3-.5-4.1-.6z"/>
<path class="c122" d="M596.7 632.8l4.2 .9 2-3.4-4.3-.9z"/>
<path class="c128" d="M600.9 633.7l4.3 1.2 2-3.3-4.3-1.3z"/>
<path class="c57" d="M605.2 634.9l4.3 1.7 2-3.4-4.3-1.6z"/>
<path class="c4e" d="M609.5 636.6l4.3 1.9 1.9-3.3-4.2-2z"/>
<path class="c54" d="M613.8 638.5l4.3 2.1 1.9-3.2-4.3-2.2z"/>
<path class="c51" d="M618.1 640.6l4.4 2.4 1.8-3.1-4.3-2.5z"/>
<path class="c53" d="M622.5 643l4.3 2.6 1.8-3-4.3-2.7z"/>
<path class="c5f" d="M626.8 645.6l4.3 2.8 1.8-2.8-4.3-3z"/>
<path class="c5d" d="M631.1 648.4l4.3 3.1 1.7-2.7-4.2-3.2z"/>
<path class="c66" d="M473.8 600.9l3.6 1.2 3.6 1.2 2.3-2.2-3.6-1.2-3.6-1.2z"/>
<path class="c5e" d="M481 603.3l3.6 1.3 3.7 1.3 3.6 1.3 3.7 1.4 3.7 1.3 3.8 1.3 3.7 1.4 3.8 1.3 3.8 1.4 2.2-2.6-3.8-1.3-3.7-1.3-3.8-1.3-3.7-1.3-3.7-1.3-3.7-1.3-3.6-1.2-3.7-1.3-3.6-1.3z"/>
<path class="c129" d="M514.4 615.3l3.8 1.3 3.8 1.4 3.8 1.3 3.9 1.4 3.9 1.4 2.1-3-3.8-1.3-3.9-1.2-3.8-1.3-3.8-1.3-3.8-1.3z"/>
<path class="c50" d="M533.6 622.1l3.9 1.3 2.1-3.1-3.9-1.2z"/>
<path class="c128" d="M537.5 623.4l3.9 1.4 3.9 1.3 2.2-3.4-4-1.2-3.9-1.2z"/>
<path class="c12a" d="M545.3 626.1l4 1.3 4 1.2 2.1-3.8-4-1-3.9-1.1z"/>
<path class="c126" d="M553.3 628.6l4 1 4 1.1 2.1-4.1-4-.8-4-1z"/>
<path class="c124" d="M561.3 630.7l4.1 1 4.1 .9 4.1 .9 4.1 .9 2.1-4.4-4.1-.9-4.1-.9-4.1-.8-4.1-.8z"/>
<path class="c120" d="M577.7 634.4l4.2 .9 4.2 .6 4.3 .6 4.2 .6 2.1-4.3-4.3-.7-4.2-.6-4.2-.7-4.2-.8z"/>
<path class="c124" d="M594.6 637.1l4.3 .7 2-4.1-4.2-.9z"/>
<path class="ce7" d="M598.9 637.8l4.3 1.1 2-4-4.3-1.2z"/>
<path class="c41" d="M603.2 638.9l4.3 1.5 2-3.8-4.3-1.7z"/>
<path class="c40" d="M607.5 640.4l4.4 1.7 1.9-3.6-4.3-1.9z"/>
<path class="c4d" d="M611.9 642.1l4.3 2 1.9-3.5-4.3-2.1z"/>
<path class="c54" d="M616.2 644.1l4.3 2.2 2-3.3-4.4-2.4z"/>
<path class="c5a" d="M620.5 646.3l4.4 2.4 1.9-3.1-4.3-2.6z"/>
<path class="c53" d="M624.9 648.7l4.3 2.6 1.9-2.9-4.3-2.8z"/>
<path class="c5f" d="M629.2 651.3l4.4 2.9 1.8-2.7-4.3-3.1z"/>
<path class="c66" d="M471.3 603l3.6 1.3 2.5-2.2-3.6-1.2z"/>
<path class="c5e" d="M474.9 604.3l3.7 1.3 3.6 1.3 3.7 1.4 3.7 1.4 3.7 1.4 3.7 1.4 3.8 1.4 3.7 1.5 2.3-2.8-3.7-1.4-3.8-1.3-3.7-1.3-3.7-1.4-3.6-1.3-3.7-1.3-3.6-1.3-3.6-1.2z"/>
<path class="c57" d="M504.5 615.4l3.8 1.4 3.8 1.5 3.8 1.4 3.9 1.4 2.2-3.1-3.8-1.4-3.8-1.3-3.8-1.4-3.8-1.3z"/>
<path class="c129" d="M519.8 621.1l3.8 1.5 3.9 1.4 2.2-3.3-3.9-1.4-3.8-1.3z"/>
<path class="c50" d="M527.5 624l3.9 1.5 3.9 1.6 3.9 1.5 2.2-3.8-3.9-1.4-3.9-1.3-3.9-1.4z"/>
<path class="c127" d="M539.2 628.6l4 1.4 2.1-3.9-3.9-1.3z"/>
<path class="c37" d="M543.2 630l4 1.4 2.1-4-4-1.3z"/>
<path class="ce7" d="M547.2 631.4l4 1.2 2.1-4-4-1.2z"/>
<path class="c6c" d="M551.2 632.6l4 1.2 4 1.1 2.1-4.2-4-1.1-4-1z"/>
<path class="c124" d="M559.2 634.9l4.1 1.1 2.1-4.3-4.1-1z"/>
<path class="c12b" d="M563.3 636l4.1 1 4.1 .9 4.1 1 2.1-4.5-4.1-.9-4.1-.9-4.1-.9z"/>
<path class="c120" d="M575.6 638.9l4.2 .8 2.1-4.4-4.2-.9z"/>
<path class="c116" d="M579.8 639.7l4.2 .7 4.3 .4 2.1-4.3-4.3-.6-4.2-.6z"/>
<path class="cf9" d="M588.3 640.8l4.2 .5 2.1-4.2-4.2-.6z"/>
<path class="c120" d="M592.5 641.3l4.4 .7 2-4.2-4.3-.7z"/>
<path class="c6c" d="M596.9 642l4.3 1 2-4.1-4.3-1.1z"/>
<path class="c127" d="M601.2 643l4.3 1.3 2-3.9-4.3-1.5z"/>
<path class="c50" d="M605.5 644.3l4.4 1.5 2-3.7-4.4-1.7z"/>
<path class="c40" d="M609.9 645.8l4.3 1.8 2-3.5-4.3-2z"/>
<path class="c56" d="M614.2 647.6l4.4 2.1 1.9-3.4-4.3-2.2z"/>
<path class="c54" d="M618.6 649.7l4.4 2.2 1.9-3.2-4.4-2.4z"/>
<path class="c5a" d="M623 651.9l4.3 2.4 1.9-3-4.3-2.6z"/>
<path class="c68" d="M627.3 654.3l4.4 2.7 1.9-2.8-4.4-2.9z"/>
<path class="c66" d="M468.9 605.3l3.6 1.2 2.4-2.2-3.6-1.3z"/>
<path class="c5e" d="M472.5 606.5l3.6 1.4 3.7 1.3 3.7 1.5 2.4-2.4-3.7-1.4-3.6-1.3-3.7-1.3z"/>
<path class="c4f" d="M483.5 610.7l3.7 1.5 3.7 1.5 3.7 1.5 2.4-2.7-3.7-1.4-3.7-1.4-3.7-1.4z"/>
<path class="c5e" d="M494.6 615.2l3.8 1.5 3.8 1.5 3.8 1.5 2.3-2.9-3.8-1.4-3.7-1.5-3.8-1.4z"/>
<path class="c57" d="M506 619.7l3.8 1.5 3.8 1.6 3.9 1.5 3.8 1.5 3.9 1.6 2.3-3.4-3.9-1.4-3.8-1.5-3.9-1.4-3.8-1.4-3.8-1.5z"/>
<path class="c42" d="M525.2 627.4l3.9 1.6 4 1.7 2.2-3.6-3.9-1.6-3.9-1.5z"/>
<path class="c50" d="M533.1 630.7l3.9 1.6 2.2-3.7-3.9-1.5z"/>
<path class="c41" d="M537 632.3l4 1.6 2.2-3.9-4-1.4z"/>
<path class="c127" d="M541 633.9l4 1.4 2.2-3.9-4-1.4z"/>
<path class="ce7" d="M545 635.3l4 1.4 4 1.3 2.2-4.2-4-1.2-4-1.2z"/>
<path class="c6c" d="M553 638l4 1.1 4.1 1.2 2.2-4.3-4.1-1.1-4-1.1z"/>
<path class="c124" d="M561.1 640.3l4.1 1 2.2-4.3-4.1-1z"/>
<path class="c12b" d="M565.2 641.3l4.1 1 4.2 1 2.1-4.4-4.1-1-4.1-.9z"/>
<path class="c120" d="M573.5 643.3l4.2 .8 2.1-4.4-4.2-.8z"/>
<path class="cf9" d="M577.7 644.1l4.2 .6 4.2 .5 4.3 .4 2.1-4.3-4.2-.5-4.3-.4-4.2-.7z"/>
<path class="c120" d="M590.4 645.6l4.4 .5 2.1-4.1-4.4-.7z"/>
<path class="c124" d="M594.8 646.1l4.3 .9 2.1-4-4.3-1z"/>
<path class="c12a" d="M599.1 647l4.3 1.1 2.1-3.8-4.3-1.3z"/>
<path class="c50" d="M603.4 648.1l4.4 1.5 2.1-3.8-4.4-1.5z"/>
<path class="c57" d="M607.8 649.6l4.4 1.6 2-3.6-4.3-1.8z"/>
<path class="c4e" d="M612.2 651.2l4.4 1.9 2-3.4-4.4-2.1z"/>
<path class="c55" d="M616.6 653.1l4.4 2 2-3.2-4.4-2.2z"/>
<path class="c60" d="M621 655.1l4.4 2.3 1.9-3.1-4.3-2.4z"/>
<path class="c63" d="M625.4 657.4l4.4 2.4 1.9-2.8-4.4-2.7z"/>
<path class="c66" d="M466.3 607.6l3.6 1.3 2.6-2.4-3.6-1.2z"/>
<path class="c5e" d="M469.9 608.9l3.7 1.3 3.7 1.4 2.5-2.4-3.7-1.3-3.6-1.4z"/>
<path class="c4f" d="M477.3 611.6l3.7 1.5 3.7 1.6 3.7 1.6 3.8 1.6 3.8 1.6 3.8 1.6 3.8 1.6 3.8 1.6 3.9 1.6 2.3-3.1-3.8-1.6-3.8-1.5-3.8-1.5-3.8-1.5-3.8-1.5-3.7-1.5-3.7-1.5-3.7-1.5-3.7-1.5z"/>
<path class="c40" d="M511.3 625.9l3.8 1.6 3.9 1.6 3.9 1.7 4 1.7 3.9 1.8 2.3-3.6-4-1.7-3.9-1.6-3.9-1.6-3.8-1.5-3.9-1.5z"/>
<path class="c42" d="M530.8 634.3l4 1.7 3.9 1.7 2.3-3.8-4-1.6-3.9-1.6z"/>
<path class="c41" d="M538.7 637.7l4 1.6 2.3-4-4-1.4z"/>
<path class="c127" d="M542.7 639.3l4 1.4 2.3-4-4-1.4z"/>
<path class="ce7" d="M546.7 640.7l4.1 1.4 4 1.2 2.2-4.2-4-1.1-4-1.3z"/>
<path class="c6c" d="M554.8 643.3l4.1 1.2 4.1 1.1 2.2-4.3-4.1-1-4.1-1.2z"/>
<path class="c124" d="M563 645.6l4.1 1.1 4.2 1 2.2-4.4-4.2-1-4.1-1z"/>
<path class="c120" d="M571.3 647.7l4.2 .8 2.2-4.4-4.2-.8z"/>
<path class="cf9" d="M575.5 648.5l4.2 .6 4.3 .4 4.3 .4 4.3 .4 2.2-4.2-4.4-.5-4.3-.4-4.2-.5-4.2-.6z"/>
<path class="c115" d="M592.6 650.3l4.4 .7 2.1-4-4.3-.9z"/>
<path class="c126" d="M597 651l4.3 1 2.1-3.9-4.3-1.1z"/>
<path class="c127" d="M601.3 652l4.4 1.3 2.1-3.7-4.4-1.5z"/>
<path class="c50" d="M605.7 653.3l4.4 1.5 2.1-3.6-4.4-1.6z"/>
<path class="c40" d="M610.1 654.8l4.5 1.7 2-3.4-4.4-1.9z"/>
<path class="c4e" d="M614.6 656.5l4.4 1.9 2-3.3-4.4-2z"/>
<path class="c5b" d="M619 658.4l4.4 2.1 2-3.1-4.4-2.3z"/>
<path class="c67" d="M623.4 660.5l4.5 2.3 1.9-3-4.4-2.4z"/>
<path class="c5e" d="M463.7 609.9l3.6 1.3 3.7 1.4 3.7 1.5 2.6-2.5-3.7-1.4-3.7-1.3-3.6-1.3z"/>
<path class="c64" d="M474.7 614.1l3.7 1.5 2.6-2.5-3.7-1.5z"/>
<path class="c5c" d="M478.4 615.6l3.8 1.7 3.7 1.7 3.8 1.7 2.5-2.8-3.8-1.6-3.7-1.6-3.7-1.6z"/>
<path class="c4e" d="M489.7 620.7l3.8 1.7 2.5-2.9-3.8-1.6z"/>
<path class="c4f" d="M493.5 622.4l3.8 1.6 3.8 1.7 3.9 1.6 3.9 1.7 3.8 1.7 3.9 1.7 4 1.8 2.3-3.4-3.9-1.7-3.9-1.6-3.8-1.6-3.9-1.6-3.8-1.6-3.8-1.6-3.8-1.6z"/>
<path class="c58" d="M520.6 634.2l3.9 1.8 4 1.9 2.3-3.6-3.9-1.8-4-1.7z"/>
<path class="c40" d="M528.5 637.9l3.9 1.9 2.4-3.8-4-1.7z"/>
<path class="c42" d="M532.4 639.8l4 1.8 4 1.6 2.3-3.9-4-1.6-3.9-1.7z"/>
<path class="c41" d="M540.4 643.2l4.1 1.6 2.2-4.1-4-1.4z"/>
<path class="c127" d="M544.5 644.8l4 1.4 2.3-4.1-4.1-1.4z"/>
<path class="ce7" d="M548.5 646.2l4.1 1.3 2.2-4.2-4-1.2z"/>
<path class="c126" d="M552.6 647.5l4.1 1.3 2.2-4.3-4.1-1.2z"/>
<path class="c6c" d="M556.7 648.8l4.1 1.1 4.1 1.1 2.2-4.3-4.1-1.1-4.1-1.1z"/>
<path class="c124" d="M564.9 651l4.2 1 2.2-4.3-4.2-1z"/>
<path class="c115" d="M569.1 652l4.2 .9 2.2-4.4-4.2-.8z"/>
<path class="cf9" d="M573.3 652.9l4.2 .6 4.3 .3 2.2-4.3-4.3-.4-4.2-.6z"/>
<path class="cbe" d="M581.8 653.8l4.3 .3 2.2-4.2-4.3-.4z"/>
<path class="cf9" d="M586.1 654.1l4.3 .3 2.2-4.1-4.3-.4z"/>
<path class="c115" d="M590.4 654.4l4.4 .6 2.2-4-4.4-.7z"/>
<path class="c79" d="M594.8 655l4.4 .9 2.1-3.9-4.3-1z"/>
<path class="c12a" d="M599.2 655.9l4.4 1.2 2.1-3.8-4.4-1.3z"/>
<path class="c128" d="M603.6 657.1l4.4 1.3 2.1-3.6-4.4-1.5z"/>
<path class="c129" d="M608 658.4l4.5 1.6 2.1-3.5-4.5-1.7z"/>
<path class="c4f" d="M612.5 660l4.4 1.7 2.1-3.3-4.4-1.9z"/>
<path class="c5c" d="M616.9 661.7l4.5 1.9 2-3.1-4.4-2.1z"/>
<path class="c55" d="M621.4 663.6l4.5 2.1 2-2.9-4.5-2.3z"/>
<path class="c5e" d="M461 612.4l3.7 1.3 3.7 1.4 2.6-2.5-3.7-1.4-3.6-1.3z"/>
<path class="c4f" d="M468.4 615.1l3.7 1.5 2.6-2.5-3.7-1.5z"/>
<path class="c64" d="M472.1 616.6l3.7 1.6 2.6-2.6-3.7-1.5z"/>
<path class="c5c" d="M475.8 618.2l3.8 1.7 3.8 1.8 3.8 1.8 3.8 1.7 2.5-2.8-3.8-1.7-3.8-1.7-3.7-1.7-3.8-1.7z"/>
<path class="c4e" d="M491 625.2l3.8 1.8 3.9 1.7 3.8 1.7 3.9 1.7 3.9 1.8 3.9 1.8 3.9 1.9 4 2 4 2 2.4-3.7-4-1.9-3.9-1.8-4-1.8-3.9-1.7-3.8-1.7-3.9-1.7-3.9-1.6-3.8-1.7-3.8-1.6z"/>
<path class="c43" d="M526.1 641.6l4 1.9 2.3-3.7-3.9-1.9z"/>
<path class="c40" d="M530.1 643.5l4 1.9 2.3-3.8-4-1.8z"/>
<path class="c42" d="M534.1 645.4l4 1.8 2.3-4-4-1.6z"/>
<path class="c50" d="M538.1 647.2l4 1.6 2.4-4-4.1-1.6z"/>
<path class="c127" d="M542.1 648.8l4.1 1.5 4.1 1.4 2.3-4.2-4.1-1.3-4-1.4z"/>
<path class="ce7" d="M550.3 651.7l4.1 1.3 2.3-4.2-4.1-1.3z"/>
<path class="c126" d="M554.4 653l4.1 1.2 2.3-4.3-4.1-1.1z"/>
<path class="c6c" d="M558.5 654.2l4.1 1.1 2.3-4.3-4.1-1.1z"/>
<path class="c124" d="M562.6 655.3l4.2 1.1 2.3-4.4-4.2-1z"/>
<path class="c115" d="M566.8 656.4l4.2 .8 2.3-4.3-4.2-.9z"/>
<path class="cf9" d="M571 657.2l4.2 .6 2.3-4.3-4.2-.6z"/>
<path class="cbe" d="M575.2 657.8l4.3 .3 4.3 .2 4.4 .3 2.2-4.2-4.3-.3-4.3-.3-4.3-.3z"/>
<path class="cc7" d="M588.2 658.6l4.4 .4 2.2-4-4.4-.6z"/>
<path class="c79" d="M592.6 659l4.4 .8 2.2-3.9-4.4-.9z"/>
<path class="c122" d="M597 659.8l4.4 1.1 2.2-3.8-4.4-1.2z"/>
<path class="c123" d="M601.4 660.9l4.5 1.2 2.1-3.7-4.4-1.3z"/>
<path class="cea" d="M605.9 662.1l4.4 1.4 2.2-3.5-4.5-1.6z"/>
<path class="c57" d="M610.3 663.5l4.5 1.6 2.1-3.4-4.4-1.7z"/>
<path class="c4f" d="M614.8 665.1l4.5 1.7 2.1-3.2-4.5-1.9z"/>
<path class="c5c" d="M619.3 666.8l4.5 2 2.1-3.1-4.5-2.1z"/>
<path class="c5e" d="M458.3 614.8l3.7 1.3 3.7 1.5 2.7-2.5-3.7-1.4-3.7-1.3z"/>
<path class="c64" d="M465.7 617.6l3.7 1.5 2.7-2.5-3.7-1.5z"/>
<path class="c5c" d="M469.4 619.1l3.8 1.7 3.7 1.8 2.7-2.7-3.8-1.7-3.7-1.6z"/>
<path class="c55" d="M476.9 622.6l3.8 1.9 3.9 1.8 2.6-2.8-3.8-1.8-3.8-1.8z"/>
<path class="c5c" d="M484.6 626.3l3.8 1.9 3.8 1.7 2.6-2.9-3.8-1.8-3.8-1.7z"/>
<path class="c4e" d="M492.2 629.9l3.9 1.8 3.9 1.8 3.9 1.8 3.9 1.9 3.9 1.8 2.5-3.3-3.9-1.8-3.9-1.8-3.9-1.7-3.8-1.7-3.9-1.7z"/>
<path class="c56" d="M511.7 639l4 2 4 2.1 2.4-3.5-4-2-3.9-1.9z"/>
<path class="c4d" d="M519.7 643.1l3.9 2.1 4.1 2.1 2.4-3.8-4-1.9-4-2z"/>
<path class="c43" d="M527.7 647.3l4 2 2.4-3.9-4-1.9z"/>
<path class="c40" d="M531.7 649.3l4 1.8 2.4-3.9-4-1.8z"/>
<path class="c42" d="M535.7 651.1l4.1 1.7 2.3-4-4-1.6z"/>
<path class="c41" d="M539.8 652.8l4 1.6 2.4-4.1-4.1-1.5z"/>
<path class="c127" d="M543.8 654.4l4.1 1.5 2.4-4.2-4.1-1.4z"/>
<path class="ce7" d="M547.9 655.9l4.1 1.3 4.1 1.3 2.4-4.3-4.1-1.2-4.1-1.3z"/>
<path class="c126" d="M556.1 658.5l4.2 1.1 2.3-4.3-4.1-1.1z"/>
<path class="c124" d="M560.3 659.6l4.2 1.1 2.3-4.3-4.2-1.1z"/>
<path class="c115" d="M564.5 660.7l4.2 .9 2.3-4.4-4.2-.8z"/>
<path class="cc7" d="M568.7 661.6l4.2 .6 2.3-4.4-4.2-.6z"/>
<path class="cbe" d="M572.9 662.2l4.3 .2 4.3 .2 4.4 .2 2.3-4.2-4.4-.3-4.3-.2-4.3-.3z"/>
<path class="cc7" d="M585.9 662.8l4.4 .3 2.3-4.1-4.4-.4z"/>
<path class="c100" d="M590.3 663.1l4.4 .6 2.3-3.9-4.4-.8z"/>
<path class="c9a" d="M594.7 663.7l4.5 1 2.2-3.8-4.4-1.1z"/>
<path class="cb2" d="M599.2 664.7l4.5 1.1 2.2-3.7-4.5-1.2z"/>
<path class="c123" d="M603.7 665.8l4.5 1.3 2.1-3.6-4.4-1.4z"/>
<path class="c129" d="M608.2 667.1l4.5 1.4 2.1-3.4-4.5-1.6z"/>
<path class="c5e" d="M612.7 668.5l4.5 1.6 2.1-3.3-4.5-1.7z"/>
<path class="c4f" d="M617.2 670.1l4.5 1.8 2.1-3.1-4.5-2z"/>
<path class="c5e" d="M455.5 617.3l3.7 1.4 3.7 1.5 2.8-2.6-3.7-1.5-3.7-1.3z"/>
<path class="c64" d="M462.9 620.2l3.7 1.5 2.8-2.6-3.7-1.5z"/>
<path class="c5c" d="M466.6 621.7l3.8 1.7 2.8-2.6-3.8-1.7z"/>
<path class="c55" d="M470.4 623.4l3.8 1.9 3.9 2 3.8 1.9 3.8 1.9 3.9 1.9 2.6-3.1-3.8-1.7-3.8-1.9-3.9-1.8-3.8-1.9-3.7-1.8z"/>
<path class="c5c" d="M489.6 633l3.9 1.8 3.9 1.9 3.9 1.8 2.6-3.2-3.9-1.8-3.9-1.8-3.9-1.8z"/>
<path class="c56" d="M501.3 638.5l3.9 2 2.6-3.3-3.9-1.9z"/>
<path class="c55" d="M505.2 640.5l4 1.9 3.9 2.1 2.6-3.5-4-2-3.9-1.8z"/>
<path class="c54" d="M513.1 644.5l4 2.2 2.6-3.6-4-2.1z"/>
<path class="c4c" d="M517.1 646.7l4.1 2.2 2.4-3.7-3.9-2.1z"/>
<path class="c4d" d="M521.2 648.9l4 2.2 4 2.1 2.5-3.9-4-2-4.1-2.1z"/>
<path class="c40" d="M529.2 653.2l4.1 1.9 2.4-4-4-1.8z"/>
<path class="c42" d="M533.3 655.1l4 1.8 2.5-4.1-4.1-1.7z"/>
<path class="c50" d="M537.3 656.9l4.1 1.6 2.4-4.1-4-1.6z"/>
<path class="c127" d="M541.4 658.5l4.1 1.5 4.1 1.4 2.4-4.2-4.1-1.3-4.1-1.5z"/>
<path class="ce7" d="M549.6 661.4l4.2 1.4 2.3-4.3-4.1-1.3z"/>
<path class="c126" d="M553.8 662.8l4.1 1.2 2.4-4.4-4.2-1.1z"/>
<path class="c79" d="M557.9 664l4.2 1 2.4-4.3-4.2-1.1z"/>
<path class="c115" d="M562.1 665l4.2 .9 2.4-4.3-4.2-.9z"/>
<path class="cc7" d="M566.3 665.9l4.3 .6 2.3-4.3-4.2-.6z"/>
<path class="cbe" d="M570.6 666.5l4.3 .3 4.3 .1 4.4 0 2.3-4.1-4.4-.2-4.3-.2-4.3-.2z"/>
<path class="cc7" d="M583.6 666.9l4.4 .3 2.3-4.1-4.4-.3z"/>
<path class="c100" d="M588 667.2l4.4 .5 2.3-4-4.4-.6z"/>
<path class="c79" d="M592.4 667.7l4.5 .8 2.3-3.8-4.5-1z"/>
<path class="c122" d="M596.9 668.5l4.5 1 2.3-3.7-4.5-1.1z"/>
<path class="c123" d="M601.4 669.5l4.5 1.2 2.3-3.6-4.5-1.3z"/>
<path class="cea" d="M605.9 670.7l4.6 1.3 2.2-3.5-4.5-1.4z"/>
<path class="c129" d="M610.5 672l4.5 1.5 2.2-3.4-4.5-1.6z"/>
<path class="c5e" d="M615 673.5l4.6 1.6 2.1-3.2-4.5-1.8z"/>
<path class="c5e" d="M452.7 619.9l3.7 1.4 3.7 1.5 2.8-2.6-3.7-1.5-3.7-1.4z"/>
<path class="c64" d="M460.1 622.8l3.7 1.6 2.8-2.7-3.7-1.5z"/>
<path class="c5c" d="M463.8 624.4l3.8 1.8 2.8-2.8-3.8-1.7z"/>
<path class="c55" d="M467.6 626.2l3.9 1.9 2.7-2.8-3.8-1.9z"/>
<path class="c5b" d="M471.5 628.1l3.8 2.1 3.9 2 2.7-3-3.8-1.9-3.9-2z"/>
<path class="c55" d="M479.2 632.2l3.8 1.9 3.9 2 3.9 1.9 3.9 1.9 4 1.9 3.9 2 4 2 2.6-3.4-4-1.9-3.9-2-3.9-1.8-3.9-1.9-3.9-1.8-3.9-1.9-3.8-1.9z"/>
<path class="c5b" d="M506.6 645.8l4 2.2 2.5-3.5-3.9-2.1z"/>
<path class="c54" d="M510.6 648l4 2.3 4 2.3 2.6-3.7-4.1-2.2-4-2.2z"/>
<path class="c4c" d="M518.6 652.6l4.1 2.3 2.5-3.8-4-2.2z"/>
<path class="c4d" d="M522.7 654.9l4 2.2 2.5-3.9-4-2.1z"/>
<path class="c43" d="M526.7 657.1l4.1 2 2.5-4-4.1-1.9z"/>
<path class="c40" d="M530.8 659.1l4 1.8 2.5-4-4-1.8z"/>
<path class="c42" d="M534.8 660.9l4.1 1.7 2.5-4.1-4.1-1.6z"/>
<path class="c50" d="M538.9 662.6l4.1 1.6 2.5-4.2-4.1-1.5z"/>
<path class="c127" d="M543 664.2l4.2 1.5 2.4-4.3-4.1-1.4z"/>
<path class="c12a" d="M547.2 665.7l4.1 1.3 2.5-4.2-4.2-1.4z"/>
<path class="c126" d="M551.3 667l4.2 1.3 4.2 1.1 2.4-4.4-4.2-1-4.1-1.2z"/>
<path class="c115" d="M559.7 669.4l4.2 .9 2.4-4.4-4.2-.9z"/>
<path class="cc7" d="M563.9 670.3l4.3 .6 2.4-4.4-4.3-.6z"/>
<path class="cbe" d="M568.2 670.9l4.3 .2 4.3 0 4.4 .1 2.4-4.3-4.4 0-4.3-.1-4.3-.3z"/>
<path class="ca8" d="M581.2 671.2l4.4 .1 2.4-4.1-4.4-.3z"/>
<path class="cb3" d="M585.6 671.3l4.5 .4 2.3-4-4.4-.5z"/>
<path class="c100" d="M590.1 671.7l4.5 .8 2.3-4-4.5-.8z"/>
<path class="c9a" d="M594.6 672.5l4.5 .8 2.3-3.8-4.5-1z"/>
<path class="cb2" d="M599.1 673.3l4.5 1.1 2.3-3.7-4.5-1.2z"/>
<path class="c123" d="M603.6 674.4l4.6 1.2 2.3-3.6-4.6-1.3z"/>
<path class="cea" d="M608.2 675.6l4.6 1.3 2.2-3.4-4.5-1.5z"/>
<path class="c8e" d="M612.8 676.9l4.6 1.5 2.2-3.3-4.6-1.6z"/>
<path class="c5e" d="M449.7 622.6l3.7 1.3 3.8 1.6 2.9-2.7-3.7-1.5-3.7-1.4z"/>
<path class="c64" d="M457.2 625.5l3.8 1.6 2.8-2.7-3.7-1.6z"/>
<path class="c5c" d="M461 627.1l3.8 1.8 2.8-2.7-3.8-1.8z"/>
<path class="c55" d="M464.8 628.9l3.8 2.1 2.9-2.9-3.9-1.9z"/>
<path class="c67" d="M468.6 631l3.9 2.1 2.8-2.9-3.8-2.1z"/>
<path class="c5b" d="M472.5 633.1l3.9 2.1 3.9 2 2.7-3.1-3.8-1.9-3.9-2z"/>
<path class="c55" d="M480.3 637.2l3.9 2 3.9 1.9 3.9 2 3.9 2 4 2.1 2.7-3.4-3.9-2-4-1.9-3.9-1.9-3.9-1.9-3.9-2z"/>
<path class="c5b" d="M499.9 647.2l4 2.1 2.7-3.5-4-2z"/>
<path class="c54" d="M503.9 649.3l4 2.2 2.7-3.5-4-2.2z"/>
<path class="c51" d="M507.9 651.5l4.1 2.4 4 2.4 4.1 2.4 2.6-3.8-4.1-2.3-4-2.3-4-2.3z"/>
<path class="c4c" d="M520.1 658.7l4 2.3 2.6-3.9-4-2.2z"/>
<path class="c4d" d="M524.1 661l4.1 2.1 2.6-4-4.1-2z"/>
<path class="c40" d="M528.2 663.1l4.1 1.9 2.5-4.1-4-1.8z"/>
<path class="c42" d="M532.3 665l4.1 1.8 2.5-4.2-4.1-1.7z"/>
<path class="c50" d="M536.4 666.8l4.1 1.6 2.5-4.2-4.1-1.6z"/>
<path class="c127" d="M540.5 668.4l4.2 1.5 2.5-4.2-4.2-1.5z"/>
<path class="c12a" d="M544.7 669.9l4.1 1.4 4.2 1.3 2.5-4.3-4.2-1.3-4.1-1.3z"/>
<path class="c126" d="M553 672.6l4.2 1.2 2.5-4.4-4.2-1.1z"/>
<path class="c79" d="M557.2 673.8l4.3 .9 2.4-4.4-4.2-.9z"/>
<path class="cc7" d="M561.5 674.7l4.2 .6 2.5-4.4-4.3-.6z"/>
<path class="cbe" d="M565.7 675.3l4.3 .2 4.4 0 4.4-.1 2.4-4.2-4.4-.1-4.3 0-4.3-.2z"/>
<path class="ca8" d="M578.8 675.4l4.4 .1 2.4-4.2-4.4-.1z"/>
<path class="cc7" d="M583.2 675.5l4.5 .3 2.4-4.1-4.5-.4z"/>
<path class="c100" d="M587.7 675.8l4.5 .6 2.4-3.9-4.5-.8z"/>
<path class="c9a" d="M592.2 676.4l4.5 .8 4.6 .9 2.3-3.7-4.5-1.1-4.5-.8z"/>
<path class="cb2" d="M601.3 678.1l4.6 1.1 2.3-3.6-4.6-1.2z"/>
<path class="cc6" d="M605.9 679.2l4.6 1.2 2.3-3.5-4.6-1.3z"/>
<path class="cea" d="M610.5 680.4l4.7 1.3 2.2-3.3-4.6-1.5z"/>
<path class="c5e" d="M446.7 625.3l3.8 1.4 2.9-2.8-3.7-1.3z"/>
<path class="c4f" d="M450.5 626.7l3.7 1.5 3-2.7-3.8-1.6z"/>
<path class="c5c" d="M454.2 628.2l3.8 1.7 3-2.8-3.8-1.6z"/>
<path class="c55" d="M458 629.9l3.8 1.9 3-2.9-3.8-1.8z"/>
<path class="c67" d="M461.8 631.8l3.9 2.1 3.9 2.2 3.9 2.1 2.9-3-3.9-2.1-3.9-2.1-3.8-2.1z"/>
<path class="c5b" d="M473.5 638.2l3.9 2.1 3.9 2.1 2.9-3.2-3.9-2-3.9-2z"/>
<path class="c55" d="M481.3 642.4l4 2 3.9 2 4 2.1 2.7-3.4-3.9-2-3.9-2-3.9-1.9z"/>
<path class="c5b" d="M493.2 648.5l4 2.1 4 2.2 2.7-3.5-4-2.1-4-2.1z"/>
<path class="c51" d="M501.2 652.8l4 2.3 4.1 2.4 4 2.6 4.1 2.4 2.7-3.8-4.1-2.4-4-2.4-4.1-2.4-4-2.2z"/>
<path class="c54" d="M517.4 662.5l4.1 2.4 2.6-3.9-4-2.3z"/>
<path class="c4d" d="M521.5 664.9l4.1 2.2 2.6-4-4.1-2.1z"/>
<path class="c58" d="M525.6 667.1l4.1 2 2.6-4.1-4.1-1.9z"/>
<path class="c40" d="M529.7 669.1l4.1 1.8 2.6-4.1-4.1-1.8z"/>
<path class="c50" d="M533.8 670.9l4.2 1.8 2.5-4.3-4.1-1.6z"/>
<path class="c128" d="M538 672.7l4.1 1.5 2.6-4.3-4.2-1.5z"/>
<path class="c127" d="M542.1 674.2l4.2 1.5 2.5-4.4-4.1-1.4z"/>
<path class="c12a" d="M546.3 675.7l4.2 1.3 2.5-4.4-4.2-1.3z"/>
<path class="c126" d="M550.5 677l4.2 1.1 2.5-4.3-4.2-1.2z"/>
<path class="c79" d="M554.7 678.1l4.3 1 2.5-4.4-4.3-.9z"/>
<path class="cc7" d="M559 679.1l4.2 .6 2.5-4.4-4.2-.6z"/>
<path class="cbe" d="M563.2 679.7l4.4 .1 2.4-4.3-4.3-.2z"/>
<path class="c9b" d="M567.6 679.8l4.3 0 4.4-.1 2.5-4.3-4.4 .1-4.4 0z"/>
<path class="ca8" d="M576.3 679.7l4.5-.1 2.4-4.1-4.4-.1z"/>
<path class="cc7" d="M580.8 679.6l4.5 .3 2.4-4.1-4.5-.3z"/>
<path class="cb3" d="M585.3 679.9l4.5 .5 2.4-4-4.5-.6z"/>
<path class="c91" d="M589.8 680.4l4.5 .7 2.4-3.9-4.5-.8z"/>
<path class="c9a" d="M594.3 681.1l4.6 .8 2.4-3.8-4.6-.9z"/>
<path class="ca2" d="M598.9 681.9l4.6 1 2.4-3.7-4.6-1.1z"/>
<path class="cb2" d="M603.5 682.9l4.7 1 2.3-3.5-4.6-1.2z"/>
<path class="cc6" d="M608.2 683.9l4.6 1.3 2.4-3.5-4.7-1.3z"/>
<path class="c5e" d="M443.7 628l3.7 1.5 3.1-2.8-3.8-1.4z"/>
<path class="c4f" d="M447.4 629.5l3.8 1.5 3-2.8-3.7-1.5z"/>
<path class="c5c" d="M451.2 631l3.8 1.8 3-2.9-3.8-1.7z"/>
<path class="c55" d="M455 632.8l3.8 1.9 3-2.9-3.8-1.9z"/>
<path class="c67" d="M458.8 634.7l3.9 2.1 3-2.9-3.9-2.1z"/>
<path class="c60" d="M462.7 636.8l4 2.3 3.9 2.2 2.9-3.1-3.9-2.1-3.9-2.2z"/>
<path class="c67" d="M470.6 641.3l3.9 2.2 2.9-3.2-3.9-2.1z"/>
<path class="c5b" d="M474.5 643.5l3.9 2.1 4 2.1 4 2.1 4 2.1 4 2.2 4 2.2 2.8-3.5-4-2.2-4-2.1-4-2.1-3.9-2-4-2-3.9-2.1z"/>
<path class="c51" d="M498.4 656.3l4 2.4 2.8-3.6-4-2.3z"/>
<path class="c5a" d="M502.4 658.7l4.1 2.6 4.1 2.6 2.7-3.8-4-2.6-4.1-2.4z"/>
<path class="c4b" d="M510.6 663.9l4.1 2.5 2.7-3.9-4.1-2.4z"/>
<path class="c51" d="M514.7 666.4l4.1 2.5 2.7-4-4.1-2.4z"/>
<path class="c4c" d="M518.8 668.9l4.1 2.3 2.7-4.1-4.1-2.2z"/>
<path class="c4e" d="M522.9 671.2l4.2 2 2.6-4.1-4.1-2z"/>
<path class="c40" d="M527.1 673.2l4.1 1.9 2.6-4.2-4.1-1.8z"/>
<path class="c57" d="M531.2 675.1l4.1 1.8 2.7-4.2-4.2-1.8z"/>
<path class="c50" d="M535.3 676.9l4.2 1.6 2.6-4.3-4.1-1.5z"/>
<path class="c128" d="M539.5 678.5l4.2 1.5 2.6-4.3-4.2-1.5z"/>
<path class="c12a" d="M543.7 680l4.2 1.4 2.6-4.4-4.2-1.3z"/>
<path class="c122" d="M547.9 681.4l4.2 1.2 2.6-4.5-4.2-1.1z"/>
<path class="c79" d="M552.1 682.6l4.3 .9 2.6-4.4-4.3-1z"/>
<path class="cc7" d="M556.4 683.5l4.3 .6 2.5-4.4-4.2-.6z"/>
<path class="ca8" d="M560.7 684.1l4.3 .2 2.6-4.5-4.4-.1z"/>
<path class="c9b" d="M565 684.3l4.4-.1 4.4-.2 2.5-4.3-4.4 .1-4.3 0z"/>
<path class="ca8" d="M573.8 684l4.5-.1 4.5 .1 2.5-4.1-4.5-.3-4.5 .1z"/>
<path class="cb3" d="M582.8 684l4.5 .5 2.5-4.1-4.5-.5z"/>
<path class="c100" d="M587.3 684.5l4.6 .6 2.4-4-4.5-.7z"/>
<path class="c91" d="M591.9 685.1l4.6 .7 2.4-3.9-4.6-.8z"/>
<path class="c9a" d="M596.5 685.8l4.6 .8 2.4-3.7-4.6-1z"/>
<path class="ca2" d="M601.1 686.6l4.7 1 2.4-3.7-4.7-1z"/>
<path class="cb2" d="M605.8 687.6l4.7 1.1 2.3-3.5-4.6-1.3z"/>
<path class="c5e" d="M440.6 630.9l3.7 1.4 3.1-2.8-3.7-1.5z"/>
<path class="c64" d="M444.3 632.3l3.8 1.6 3.1-2.9-3.8-1.5z"/>
<path class="c5c" d="M448.1 633.9l3.8 1.8 3.1-2.9-3.8-1.8z"/>
<path class="c55" d="M451.9 635.7l3.9 2 3-3-3.8-1.9z"/>
<path class="c67" d="M455.8 637.7l3.9 2.2 3-3.1-3.9-2.1z"/>
<path class="c60" d="M459.7 639.9l3.9 2.3 4 2.3 3-3.2-3.9-2.2-4-2.3z"/>
<path class="c67" d="M467.6 644.5l3.9 2.2 3-3.2-3.9-2.2z"/>
<path class="c5b" d="M471.5 646.7l4 2.2 4 2.1 4 2.2 4 2.1 4 2.3 2.9-3.5-4-2.2-4-2.1-4-2.1-4-2.1-3.9-2.1z"/>
<path class="c12c" d="M491.5 657.6l4 2.3 2.9-3.6-4-2.2z"/>
<path class="c61" d="M495.5 659.9l4.1 2.5 2.8-3.7-4-2.4z"/>
<path class="c5a" d="M499.6 662.4l4.1 2.6 4.1 2.7 4.1 2.7 2.8-4-4.1-2.5-4.1-2.6-4.1-2.6z"/>
<path class="c51" d="M511.9 670.4l4.2 2.5 2.7-4-4.1-2.5z"/>
<path class="c54" d="M516.1 672.9l4.1 2.4 2.7-4.1-4.1-2.3z"/>
<path class="c56" d="M520.2 675.3l4.1 2.1 2.8-4.2-4.2-2z"/>
<path class="c40" d="M524.3 677.4l4.2 2 2.7-4.3-4.1-1.9z"/>
<path class="c57" d="M528.5 679.4l4.2 1.8 2.6-4.3-4.1-1.8z"/>
<path class="c50" d="M532.7 681.2l4.1 1.7 2.7-4.4-4.2-1.6z"/>
<path class="c128" d="M536.8 682.9l4.2 1.5 2.7-4.4-4.2-1.5z"/>
<path class="c12a" d="M541 684.4l4.3 1.4 2.6-4.4-4.2-1.4z"/>
<path class="c122" d="M545.3 685.8l4.2 1.2 2.6-4.4-4.2-1.2z"/>
<path class="c79" d="M549.5 687l4.3 1 2.6-4.5-4.3-.9z"/>
<path class="cc7" d="M553.8 688l4.3 .6 2.6-4.5-4.3-.6z"/>
<path class="ca8" d="M558.1 688.6l4.3 .1 2.6-4.4-4.3-.2z"/>
<path class="c9b" d="M562.4 688.7l4.4-.1 4.4-.3 2.6-4.3-4.4 .2-4.4 .1z"/>
<path class="c12d" d="M571.2 688.3l4.5-.1 2.6-4.3-4.5 .1z"/>
<path class="ca8" d="M575.7 688.2l4.5 0 2.6-4.2-4.5-.1z"/>
<path class="cb3" d="M580.2 688.2l4.6 .4 4.5 .5 2.6-4-4.6-.6-4.5-.5z"/>
<path class="c91" d="M589.3 689.1l4.7 .6 4.6 .8 2.5-3.9-4.6-.8-4.6-.7z"/>
<path class="ca2" d="M598.6 690.5l4.7 .8 4.8 1 2.4-3.6-4.7-1.1-4.7-1z"/>
<path class="c5e" d="M437.4 633.8l3.7 1.4 3.2-2.9-3.7-1.4z"/>
<path class="c64" d="M441.1 635.2l3.8 1.7 3.2-3-3.8-1.6z"/>
<path class="c5c" d="M444.9 636.9l3.9 1.8 3.1-3-3.8-1.8z"/>
<path class="c55" d="M448.8 638.7l3.8 2 3.2-3-3.9-2z"/>
<path class="c60" d="M452.6 640.7l4 2.3 3.9 2.4 4 2.3 4 2.3 3-3.3-3.9-2.2-4-2.3-3.9-2.3-3.9-2.2z"/>
<path class="c67" d="M468.5 650l4 2.2 3-3.3-4-2.2z"/>
<path class="c5b" d="M472.5 652.2l4 2.2 4 2.2 4 2.2 3-3.5-4-2.1-4-2.2-4-2.1z"/>
<path class="c12c" d="M484.5 658.8l4 2.3 3-3.5-4-2.3z"/>
<path class="c60" d="M488.5 661.1l4.1 2.4 2.9-3.6-4-2.3z"/>
<path class="c5a" d="M492.6 663.5l4.1 2.6 4.1 2.7 2.9-3.8-4.1-2.6-4.1-2.5z"/>
<path class="c53" d="M500.8 668.8l4.2 2.8 2.8-3.9-4.1-2.7z"/>
<path class="c5a" d="M505 671.6l4.1 2.7 2.8-3.9-4.1-2.7z"/>
<path class="c4b" d="M509.1 674.3l4.2 2.7 2.8-4.1-4.2-2.5z"/>
<path class="c54" d="M513.3 677l4.1 2.4 2.8-4.1-4.1-2.4z"/>
<path class="c56" d="M517.4 679.4l4.2 2.2 2.7-4.2-4.1-2.1z"/>
<path class="c4e" d="M521.6 681.6l4.1 2 2.8-4.2-4.2-2z"/>
<path class="c40" d="M525.7 683.6l4.2 1.9 2.8-4.3-4.2-1.8z"/>
<path class="c50" d="M529.9 685.5l4.2 1.7 2.7-4.3-4.1-1.7z"/>
<path class="c128" d="M534.1 687.2l4.2 1.6 2.7-4.4-4.2-1.5z"/>
<path class="c12a" d="M538.3 688.8l4.3 1.4 2.7-4.4-4.3-1.4z"/>
<path class="c122" d="M542.6 690.2l4.2 1.3 2.7-4.5-4.2-1.2z"/>
<path class="c79" d="M546.8 691.5l4.3 1 2.7-4.5-4.3-1z"/>
<path class="cc7" d="M551.1 692.5l4.3 .6 2.7-4.5-4.3-.6z"/>
<path class="ca8" d="M555.4 693.1l4.4 .1 2.6-4.5-4.3-.1z"/>
<path class="c9b" d="M559.8 693.2l4.3-.2 4.5-.3 4.5-.2 2.6-4.3-4.5 .1-4.4 .3-4.4 .1z"/>
<path class="ca8" d="M573.1 692.5l4.5 0 2.6-4.3-4.5 0z"/>
<path class="c12e" d="M577.6 692.5l4.6 .3 2.6-4.2-4.6-.4z"/>
<path class="cb3" d="M582.2 692.8l4.6 .4 2.5-4.1-4.5-.5z"/>
<path class="c12f" d="M586.8 693.2l4.6 .5 2.6-4-4.7-.6z"/>
<path class="c91" d="M591.4 693.7l4.7 .7 4.7 .7 2.5-3.8-4.7-.8-4.6-.8z"/>
<path class="ca2" d="M600.8 695.1l4.8 .9 2.5-3.7-4.8-1z"/>
<path class="c5e" d="M434.1 636.7l3.7 1.5 3.3-3-3.7-1.4z"/>
<path class="c64" d="M437.8 638.2l3.9 1.7 3.2-3-3.8-1.7z"/>
<path class="c5c" d="M441.7 639.9l3.8 1.8 3.3-3-3.9-1.8z"/>
<path class="c6b" d="M445.5 641.7l3.9 2.1 3.2-3.1-3.8-2z"/>
<path class="c60" d="M449.4 643.8l4 2.3 4 2.5 4 2.4 4 2.3 3.1-3.3-4-2.3-4-2.3-3.9-2.4-4-2.3z"/>
<path class="c67" d="M465.4 653.3l4 2.3 4 2.3 4 2.2 4.1 2.3 3-3.6-4-2.2-4-2.2-4-2.2-4-2.2z"/>
<path class="c60" d="M481.5 662.4l4 2.4 3-3.7-4-2.3z"/>
<path class="c61" d="M485.5 664.8l4.1 2.4 3-3.7-4.1-2.4z"/>
<path class="c5a" d="M489.6 667.2l4.1 2.7 3-3.8-4.1-2.6z"/>
<path class="c53" d="M493.7 669.9l4.2 2.8 4.1 2.8 4.2 2.9 2.9-4.1-4.1-2.7-4.2-2.8-4.1-2.7z"/>
<path class="c5a" d="M506.2 678.4l4.2 2.7 2.9-4.1-4.2-2.7z"/>
<path class="c51" d="M510.4 681.1l4.2 2.5 2.8-4.2-4.1-2.4z"/>
<path class="c4d" d="M514.6 683.6l4.1 2.2 2.9-4.2-4.2-2.2z"/>
<path class="c4e" d="M518.7 685.8l4.2 2.1 2.8-4.3-4.1-2z"/>
<path class="c40" d="M522.9 687.9l4.2 2 2.8-4.4-4.2-1.9z"/>
<path class="c57" d="M527.1 689.9l4.2 1.7 2.8-4.4-4.2-1.7z"/>
<path class="c128" d="M531.3 691.6l4.2 1.7 2.8-4.5-4.2-1.6z"/>
<path class="c123" d="M535.5 693.3l4.3 1.4 2.8-4.5-4.3-1.4z"/>
<path class="c122" d="M539.8 694.7l4.3 1.3 2.7-4.5-4.2-1.3z"/>
<path class="c79" d="M544.1 696l4.3 1 2.7-4.5-4.3-1z"/>
<path class="cc7" d="M548.4 697l4.3 .6 2.7-4.5-4.3-.6z"/>
<path class="ca8" d="M552.7 697.6l4.3 .1 2.8-4.5-4.4-.1z"/>
<path class="c9b" d="M557 697.7l4.4-.2 4.5-.3 4.5-.3 2.7-4.4-4.5 .2-4.5 .3-4.3 .2z"/>
<path class="c12d" d="M570.4 696.9l4.5-.1 2.7-4.3-4.5 0z"/>
<path class="c12e" d="M574.9 696.8l4.6 .2 2.7-4.2-4.6-.3z"/>
<path class="cb3" d="M579.5 697l4.6 .4 4.7 .4 2.6-4.1-4.6-.5-4.6-.4z"/>
<path class="c91" d="M588.8 697.8l4.7 .5 4.8 .7 2.5-3.9-4.7-.7-4.7-.7z"/>
<path class="c130" d="M598.3 699l4.7 .8 2.6-3.8-4.8-.9z"/>
<path d="M434.1 636.7l95.6-86.4 M434.1 636.7l7.6 3.2 6.8 3.3 14.9 9 21.1 12 8.2 5 14.6 9.9 7.3 4.5 10.4 5.3 10.5 4.4 8.6 2.7 4.3 1 3.2 .5 6.5 .2 12.3-.8 5.7-.1 12.7 1 14.2 2 M443.6 640.8l64.8-60.8 19.5-18.5 3.8-3.8 3.2-3.8 1.8-2.5 1.2-2.6 M441.2 630.2l8.5 3.5 7.7 3.8 11.8 6.9 26.9 14.7 18.5 11.7 6.2 3.6 9.3 4.5 9.4 3.8 9.5 3.1 7.5 1.6 6.5 .4 12.1-.5 6.8 .1 6.8 .7 7 .9 12.9 2.5 M453.4 646.1l22.7-22.7 16.6-17 26.3-25.8 13.5-13.9 5.7-6.3 2-2.5 1.7-2.6 1.7-4.1 .9-3.6 .7-3.3 .9-8.5 M448.2 623.9l8.4 3.4 7.6 3.6 11.7 6.4 26.6 13.8 17.2 10.2 6.1 3.3 8.2 3.9 8.3 3.3 10.5 3.4 4.2 1.1 4.2 .8 6.5 .6 13.2-.1 6.7 .4 6.8 1 6.8 1.3 7 1.6 5.8 1.6 M463.4 652.2l22.3-24.1 16.3-18.5 15.4-15.7 11-11.8 12.8-14.4 5.3-6.8 1.6-2.5 1.8-3.7 .8-2.2 1.2-4.7 .8-4.5 .7-5.5 1-13.2 M455 617.8l8.3 3.2 7.6 3.4 11.5 5.9 26.3 12.7 17 9.3 6.1 3.1 7.1 3.1 7.2 2.7 11.4 3.6 5.2 1.3 4.3 .8 6.4 .6 14.2 .4 4.4 .6 4.5 .8 11.3 2.7 5.7 1.7 5.7 2 M473.4 657.9l21.9-25.2 8.8-10.6 7.3-9.2 14.5-15.5 11-12.3 11.4-14 4.5-6.1 3.5-5.7 1.2-3.5 1.4-5 1.8-9.7 1.4-13.9 M461.6 611.8l7.3 2.7 7.5 3.1 39.3 17.8 18.9 9.2 6 2.6 7.1 2.6 12.3 3.8 10.4 2.5 6.4 .9 15.2 1 7.7 1.5 5.5 1.5 6.7 2.1 6.7 2.6 5.7 2.4 M483.5 663.6l11.3-13.6 10.3-12.8 8.6-11.2 7.1-9.8 15-16.7 10.2-12.1 5.7-7.4 6-8.5 4.4-7.4 1.8-3.7 1.6-4.2 1.5-5.5 1.2-5.3 .8-5.2 1-8.8 M468.1 606l14.6 5.4 39.9 16.2 15.7 6.7 9 3.3 12.1 3.7 15.5 3.8 6.3 1 14 1.5 3.2 .6 4.4 1.1 6.6 2.2 6.6 2.6 6.6 3.1 6.6 3.5 M493.7 669.9l11.1-14.3 10.1-13.5 8.5-12 7-10.6 12.8-15 8.7-10.6 7-9.5 5.8-8.6 3-5.1 2.4-4.6 2.2-5.1 1.7-4.7 1.3-4.4 1.5-6.8 1.1-6.6 .6-5 M474.4 600.3l49.1 17.2 18.4 6.3 8.9 2.9 11.1 2.9 17.4 3.9 5.2 1 12.8 1.8 4.3 1 3.2 1 7.6 2.9 7.6 3.7 7.5 4.3 6.5 4.3 M504.1 677l10.9-15.1 9.9-14.5 7.5-11.7 8.5-14 10.6-12.9 8.1-10.5 6.6-9.4 5-7.8 3.7-6.1 2.5-4.7 2.3-5 2.2-5.5 2.7-8.6 2.5-13.1 M480.5 594.8l47.8 16 15.3 4.7 9.8 2.8 7.9 2 9 1.8 16.4 3 13.7 1.8 4.2 .9 3.2 .9 7.5 3 7.5 3.8 8.5 5.3 7.4 5.5 M514.6 683.6l10.6-15.9 9.8-15.4 8.2-13.8 7.6-13.9 9.7-12.5 8.1-11 6.6-9.8 5-8.3 6.2-11.5 2.4-5.1 1.8-4.6 2.1-6.2 1.7-5.8 1.9-10.1 M486.5 589.3l46.4 14.9 13.3 3.9 10.6 2.8 7.8 1.9 8 1.5 19.2 3.3 12.5 1.6 4.2 .9 3.2 .8 7.4 2.9 8.5 4.4 8.4 5.3 7.3 5.6 M525 688.9l10.5-16.5 9.6-16 8.2-14.5 7.5-14.7 10.2-13.9 6.8-9.6 6.1-9.3 5-8.6 6.3-12.1 4-8.9 1.8-5 1.7-5.4 1.7-6.1 .9-4.4 M492.4 584.1l13.2 4.1 32.8 9.7 20.8 5.4 8.7 1.9 6.8 1.3 22.1 3.6 12.5 1.6 6.2 1.4 3.2 1.1 4.1 1.7 4.2 2 4.2 2.3 8.3 5.3 8.3 6.3 M535.5 693.3l10.4-17 9.5-16.5 8.1-15 8.2-16.7 8.7-12.2 7.3-10.6 6-9.6 5-8.8 6.3-12.5 3.6-8.3 3.2-9.3 3-11.1 M498.1 578.9l13.1 3.9 13.3 3.5 17.3 4.8 15 3.6 19.1 3.7 25.9 3.9 11.3 1.4 6.2 1.4 3.1 1 4.1 1.8 8.3 4.3 4.1 2.5 5.1 3.5 8.2 6.4 M546.2 696.5l11.1-18.7 9.4-16.8 7.9-15.3 7.4-15.5 9.2-13.4 6.6-9.9 6-9.7 4.9-8.8 5.8-11.9 3.6-8.3 3.3-9.3 2.7-9.4 M503.6 573.8l13.1 3.7 13.2 3 18.1 4.4 7.3 1.6 22.7 3.7 28.6 3.9 9.2 1.1 6.2 1.2 3 1 4.1 1.7 5.1 2.5 4.1 2.3 4.1 2.6 5.1 3.6 9 7.2 M557 697.7l11.1-18.7 9.2-16.8 7.9-15.1 8-16.6 7.8-11.5 7.1-10.9 5.3-8.8 5-8.8 4.5-9 4.9-11 3.3-9 2.7-8.9 M509.1 568.9l6 1.7 6.9 1.6 13.1 2.3 15.2 3.2 7.3 1.3 7.4 .9 36.5 3.8 18 2.4 5.1 1 3.1 .9 4 1.7 5.1 2.6 5 2.9 4.1 2.7 5 3.6 4.9 4 5 4.3 M568.1 697l10.9-18.2 9.2-16.1 8.5-15.8 7.2-14.3 8.3-12.4 6.8-10.7 5.8-9.4 4.7-8.5 4.8-9.5 4.3-9.9 3.2-8.7 3-9.8 M514.4 564.1l6 1.6 6.8 1.4 24.6 3.3 12.6 1 39.9 2.2 18 2.1 6.1 1.1 3 1 4 1.8 5 2.8 5 3.2 3.9 2.8 5 3.9 10.7 9.5 M579.5 697l10.8-17.4 9-15.1 8.3-14.6 7-12.9 15.4-23.7 5.5-9.2 4.6-8.1 5.3-10.6 4.1-9.5 3.8-10.4 3-10.5 M519.6 559.4l5.9 1.5 6.8 1.1 19.1 1.1 5.3-.1 10.8-1.1 7.3-.4 9.4-.2 19.1 .2 5.9 .2 5.9 .4 12 1.6 4.1 .7 4 1.3 4 1.8 4.9 3 5 3.4 4.8 3.9 4.9 4.3 4.8 4.6 5.8 6 M591.2 698.1l19.3-30.5 15.5-25.7 14.3-22.4 5.9-9.7 5.2-9.2 5.1-10 4.8-11.5 3.9-11.6 3.1-11.5 M524.7 554.8l4.2 .9 4.2 .4 5 .1 5.1-.5 5.2-1.1 5.2-1.5 5.2-2 12.7-5.4 3.6-1.2 4.7-1.2 4.7-.8 5.7-.5 4.7 0 10.7 .6M648.2 553.9l5.9 4.8 5.7 5.7 6.7 7.4 7.4 9.3 M603 699.8l33.7-50.3 14.4-23 10.2-17.6 3.8-7.2 2.5-5.1 2.9-6.6 2.4-6 2.1-6.2 2.1-6.9 2.5-10.8 M529.7 550.3l1.7 .3 1.6 .1 2.5-.5 2.4-1.4 2.5-2.4 1.6-2.2 1.7-3 5.8-13 2.6-4.9M677.8 556.8l1.8 3.3" fill="none" stroke="#3a3f44" stroke-width=".7" stroke-linejoin="round"/>
<path d="M434.1 636.7l7.6 3.2 6.8 3.3 14.9 9 21.1 12 8.2 5 14.6 9.9 7.3 4.5 10.4 5.3 10.5 4.4 8.6 2.7 4.3 1 3.2 .5 6.5 .2 12.3-.8 5.7-.1 12.7 1 14.2 2 M603 699.8l33.7-50.3 14.4-23 10.2-17.6 3.8-7.2 2.5-5.1 2.9-6.6 2.4-6 2.1-6.2 2.1-6.9 2.5-10.8 M529.7 550.3l1.7 .3 1.6 .1 2.5-.5 2.4-1.4 2.5-2.4 1.6-2.2 1.7-3 6.7-14.8 1.7-3.1 .9-.8 124 32.8 2.6 4.8 M434.1 636.7l95.6-86.4" fill="none" stroke="#2a3038" stroke-width=".7"/>
<path d="M429.9 657.4l171.9 66.9 M601.8 724.3l73.3-113 M675.1 611.3l-12.2-3.7 M446 642.4l-16.1 15 M420.3 595.8l184.8 63.9 M605.1 659.7l77.5-107 M682.6 552.7l-157.8-41.3 M524.8 511.4l-104.5 84.4 M429.9 657.4l-9.6-61.6 M601.8 724.3l3.3-64.6 M675.1 611.3l7.5-58.6 M526.4 553.5l-1.6-42.1" fill="none" stroke="#7d7d7d" stroke-width=".75"/>
<path d="M434.5 659.2L438.0 655.9M460.7 669.4L462.7 667.3M487.9 680.0L491.2 676.4M516.3 691.0L518.1 688.8M545.8 702.5L548.8 698.6M576.5 714.5L578.2 712.0M602.9 722.6L597.1 720.4M616.4 701.8L613.0 700.5M629.0 682.4L623.5 680.4M640.8 664.3L637.6 663.2M651.7 647.3L646.5 645.6M662.0 631.5L659.0 630.5M671.7 616.6L666.7 615.1M429.7 656.3L432.5 657.3M429.1 652.6L431.9 653.7M428.6 649.0L433.2 650.8M428.0 645.3L430.8 646.4M427.4 641.6L430.2 642.7M426.9 637.9L429.7 638.9M426.3 634.1L431.0 635.8M425.7 630.3L428.5 631.3M425.1 626.4L427.9 627.5M424.5 622.6L427.3 623.6M423.9 618.7L428.6 620.4M423.3 614.7L426.1 615.8M422.6 610.7L425.5 611.8M422.0 606.7L424.9 607.8M421.4 602.7L426.2 604.4M420.8 598.6L423.7 599.6" stroke="#555" stroke-width=".6" fill="none"/>
<text x="95.5" y="39.8" font-size="9.2" letter-spacing="0.33" font-family="Liberation Sans, sans-serif" fill="#1a1a1a" xml:space="preserve"><tspan font-style="italic">ν</tspan>=3/4,&#160;&#160;<tspan font-style="italic">ξ</tspan>=1/8,&#160;&#160;<tspan font-style="italic">β</tspan>=1</text>
<line x1="15" y1="68" x2="15" y2="217.7" stroke="#333" stroke-width="1"/>
<line x1="15" y1="216.60" x2="17.2" y2="216.60" stroke="#333" stroke-width="0.8"/>
<line x1="15" y1="212.40" x2="17.2" y2="212.40" stroke="#333" stroke-width="0.8"/>
<line x1="15" y1="208.20" x2="19" y2="208.20" stroke="#333" stroke-width="0.8"/>
<line x1="15" y1="204.00" x2="17.2" y2="204.00" stroke="#333" stroke-width="0.8"/>
<line x1="15" y1="199.80" x2="17.2" y2="199.80" stroke="#333" stroke-width="0.8"/>
<line x1="15" y1="195.60" x2="17.2" y2="195.60" stroke="#333" stroke-width="0.8"/>
<line x1="15" y1="191.40" x2="17.2" y2="191.40" stroke="#333" stroke-width="0.8"/>
<line x1="15" y1="187.20" x2="19" y2="187.20" stroke="#333" stroke-width="0.8"/>
<line x1="15" y1="183.00" x2="17.2" y2="183.00" stroke="#333" stroke-width="0.8"/>
<line x1="15" y1="178.80" x2="17.2" y2="178.80" stroke="#333" stroke-width="0.8"/>
<line x1="15" y1="174.60" x2="17.2" y2="174.60" stroke="#333" stroke-width="0.8"/>
<line x1="15" y1="170.40" x2="17.2" y2="170.40" stroke="#333" stroke-width="0.8"/>
<line x1="15" y1="166.20" x2="19" y2="166.20" stroke="#333" stroke-width="0.8"/>
<line x1="15" y1="162.00" x2="17.2" y2="162.00" stroke="#333" stroke-width="0.8"/>
<line x1="15" y1="157.80" x2="17.2" y2="157.80" stroke="#333" stroke-width="0.8"/>
<line x1="15" y1="153.60" x2="17.2" y2="153.60" stroke="#333" stroke-width="0.8"/>
<line x1="15" y1="149.40" x2="17.2" y2="149.40" stroke="#333" stroke-width="0.8"/>
<line x1="15" y1="145.20" x2="19" y2="145.20" stroke="#333" stroke-width="0.8"/>
<line x1="15" y1="141.00" x2="17.2" y2="141.00" stroke="#333" stroke-width="0.8"/>
<line x1="15" y1="136.80" x2="17.2" y2="136.80" stroke="#333" stroke-width="0.8"/>
<line x1="15" y1="132.60" x2="17.2" y2="132.60" stroke="#333" stroke-width="0.8"/>
<line x1="15" y1="128.40" x2="17.2" y2="128.40" stroke="#333" stroke-width="0.8"/>
<line x1="15" y1="124.20" x2="19" y2="124.20" stroke="#333" stroke-width="0.8"/>
<line x1="15" y1="120.00" x2="17.2" y2="120.00" stroke="#333" stroke-width="0.8"/>
<line x1="15" y1="115.80" x2="17.2" y2="115.80" stroke="#333" stroke-width="0.8"/>
<line x1="15" y1="111.60" x2="17.2" y2="111.60" stroke="#333" stroke-width="0.8"/>
<line x1="15" y1="107.40" x2="17.2" y2="107.40" stroke="#333" stroke-width="0.8"/>
<line x1="15" y1="103.20" x2="19" y2="103.20" stroke="#333" stroke-width="0.8"/>
<line x1="15" y1="99.00" x2="17.2" y2="99.00" stroke="#333" stroke-width="0.8"/>
<line x1="15" y1="94.80" x2="17.2" y2="94.80" stroke="#333" stroke-width="0.8"/>
<line x1="15" y1="90.60" x2="17.2" y2="90.60" stroke="#333" stroke-width="0.8"/>
<line x1="15" y1="86.40" x2="17.2" y2="86.40" stroke="#333" stroke-width="0.8"/>
<line x1="15" y1="82.20" x2="19" y2="82.20" stroke="#333" stroke-width="0.8"/>
<line x1="15" y1="78.00" x2="17.2" y2="78.00" stroke="#333" stroke-width="0.8"/>
<line x1="15" y1="73.80" x2="17.2" y2="73.80" stroke="#333" stroke-width="0.8"/>
<line x1="15" y1="69.60" x2="17.2" y2="69.60" stroke="#333" stroke-width="0.8"/>
<text x="12.3" y="211.10" text-anchor="end" font-size="9.5" letter-spacing="0.15" font-family="Liberation Sans, sans-serif" fill="#1a1a1a">0.0</text>
<text x="12.3" y="190.10" text-anchor="end" font-size="9.5" letter-spacing="0.15" font-family="Liberation Sans, sans-serif" fill="#1a1a1a">0.1</text>
<text x="12.3" y="169.10" text-anchor="end" font-size="9.5" letter-spacing="0.15" font-family="Liberation Sans, sans-serif" fill="#1a1a1a">0.2</text>
<text x="12.3" y="148.10" text-anchor="end" font-size="9.5" letter-spacing="0.15" font-family="Liberation Sans, sans-serif" fill="#1a1a1a">0.3</text>
<text x="12.3" y="127.10" text-anchor="end" font-size="9.5" letter-spacing="0.15" font-family="Liberation Sans, sans-serif" fill="#1a1a1a">0.4</text>
<text x="12.3" y="106.10" text-anchor="end" font-size="9.5" letter-spacing="0.15" font-family="Liberation Sans, sans-serif" fill="#1a1a1a">0.5</text>
<text x="12.3" y="85.10" text-anchor="end" font-size="9.5" letter-spacing="0.15" font-family="Liberation Sans, sans-serif" fill="#1a1a1a">0.6</text>
<line x1="15" y1="208.4" x2="257.7" y2="208.4" stroke="#333" stroke-width="1.0"/>
<line x1="99.3" y1="208.4" x2="99.3" y2="205.4" stroke="#333" stroke-width="0.8"/>
<line x1="183.6" y1="208.4" x2="183.6" y2="205.4" stroke="#333" stroke-width="0.8"/>
<text x="99.3" y="216.70" text-anchor="middle" font-size="11.0" font-style="italic" font-family="Liberation Sans, sans-serif" fill="#1a1a1a">π</text>
<line x1="95.70" y1="219.10" x2="102.70" y2="219.10" stroke="#1a1a1a" stroke-width="1.1"/>
<text x="99.3" y="229.90" text-anchor="middle" font-size="10.4" font-family="Liberation Sans, sans-serif" fill="#1a1a1a">6</text>
<text x="183.6" y="216.70" text-anchor="middle" font-size="11.0" font-style="italic" font-family="Liberation Sans, sans-serif" fill="#1a1a1a">π</text>
<line x1="180.00" y1="219.10" x2="187.00" y2="219.10" stroke="#1a1a1a" stroke-width="1.1"/>
<text x="183.6" y="229.90" text-anchor="middle" font-size="10.4" font-family="Liberation Sans, sans-serif" fill="#1a1a1a">3</text>
<text x="263.8" y="214.2" font-size="10" font-style="italic" font-family="Liberation Sans, sans-serif" fill="#222">ρ</text>
<path d="M15.00,139.36 L17.00,139.40 L19.01,139.46 L21.01,139.56 L23.01,139.68 L25.01,139.84 L27.02,140.02 L29.02,140.24 L31.02,140.49 L33.02,140.77 L35.03,141.07 L37.03,141.41 L39.03,141.78 L41.03,142.18 L43.04,142.61 L45.04,143.07 L47.04,143.56 L49.04,144.08 L51.05,144.63 L53.05,145.21 L55.05,145.83 L57.05,146.47 L59.06,147.14 L61.06,147.84 L63.06,148.56 L65.06,149.31 L67.07,150.09 L69.07,150.89 L71.07,151.71 L73.07,152.56 L75.08,153.43 L77.08,154.31 L79.08,155.22 L81.08,156.14 L83.09,157.08 L85.09,158.04 L87.09,159.01 L89.09,159.99 L91.10,160.99 L93.10,162.00 L95.10,163.02 L97.10,164.05 L99.11,165.08 L101.11,166.13 L103.11,167.18 L105.11,168.24 L107.12,169.30 L109.12,170.37 L111.12,171.43 L113.12,172.50 L115.13,173.57 L117.13,174.64 L119.13,175.71 L121.13,176.77 L123.14,177.84 L125.14,178.89 L127.14,179.94 L129.14,180.99 L131.15,182.02 L133.15,183.05 L135.15,184.07 L137.15,185.07 L139.16,186.07 L141.16,187.05 L143.16,188.02 L145.16,188.97 L147.17,189.91 L149.17,190.83 L151.17,191.73 L153.17,192.61 L155.18,193.48 L157.18,194.32 L159.18,195.14 L161.18,195.94 L163.19,196.71 L165.19,197.46 L167.19,198.19 L169.19,198.90 L171.20,199.59 L173.20,200.25 L175.20,200.89 L177.20,201.51 L179.21,202.10 L181.21,202.67 L183.21,203.22 L185.21,203.75 L187.22,204.25 L189.22,204.73 L191.22,205.19 L193.22,205.63 L195.23,206.04 L197.23,206.43 L199.23,206.79 L201.23,207.14 L203.24,207.46 L205.24,207.75 L207.24,208.03 L209.24,208.28 L211.25,208.51 L213.25,208.71 L215.25,208.89 L217.25,209.05 L219.26,209.19 L221.26,209.31 L223.26,209.40 L225.26,209.47 L227.27,209.53 L229.27,209.56 L231.27,209.58 L233.27,209.57 L235.28,209.55 L237.28,209.51 L239.28,209.45 L241.28,209.37 L243.29,209.28 L245.29,209.17 L247.29,209.04 L249.29,208.90 L251.30,208.74 L253.30,208.57" fill="none" stroke="#5D9EC7" stroke-width="1.3" stroke-dasharray="2.4,3.0"/>
<path d="M15.00,135.07 L17.00,135.11 L19.01,135.19 L21.01,135.31 L23.01,135.45 L25.01,135.63 L27.02,135.84 L29.02,136.08 L31.02,136.36 L33.02,136.66 L35.03,137.00 L37.03,137.36 L39.03,137.76 L41.03,138.19 L43.04,138.64 L45.04,139.13 L47.04,139.64 L49.04,140.18 L51.05,140.75 L53.05,141.35 L55.05,141.98 L57.05,142.63 L59.06,143.31 L61.06,144.02 L63.06,144.75 L65.06,145.50 L67.07,146.28 L69.07,147.08 L71.07,147.90 L73.07,148.74 L75.08,149.59 L77.08,150.47 L79.08,151.37 L81.08,152.28 L83.09,153.20 L85.09,154.14 L87.09,155.10 L89.09,156.06 L91.10,157.04 L93.10,158.03 L95.10,159.03 L97.10,160.04 L99.11,161.06 L101.11,162.09 L103.11,163.12 L105.11,164.15 L107.12,165.20 L109.12,166.24 L111.12,167.29 L113.12,168.34 L115.13,169.39 L117.13,170.45 L119.13,171.50 L121.13,172.55 L123.14,173.59 L125.14,174.64 L127.14,175.68 L129.14,176.71 L131.15,177.74 L133.15,178.76 L135.15,179.77 L137.15,180.78 L139.16,181.77 L141.16,182.76 L143.16,183.73 L145.16,184.69 L147.17,185.63 L149.17,186.57 L151.17,187.48 L153.17,188.38 L155.18,189.27 L157.18,190.14 L159.18,190.98 L161.18,191.81 L163.19,192.62 L165.19,193.41 L167.19,194.18 L169.19,194.93 L171.20,195.66 L173.20,196.38 L175.20,197.07 L177.20,197.74 L179.21,198.39 L181.21,199.02 L183.21,199.63 L185.21,200.21 L187.22,200.78 L189.22,201.33 L191.22,201.85 L193.22,202.36 L195.23,202.84 L197.23,203.30 L199.23,203.73 L201.23,204.15 L203.24,204.54 L205.24,204.91 L207.24,205.26 L209.24,205.59 L211.25,205.89 L213.25,206.17 L215.25,206.43 L217.25,206.66 L219.26,206.87 L221.26,207.06 L223.26,207.22 L225.26,207.36 L227.27,207.47 L229.27,207.56 L231.27,207.62 L233.27,207.67 L235.28,207.68 L237.28,207.67 L239.28,207.64 L241.28,207.58 L243.29,207.49 L245.29,207.38 L247.29,207.25 L249.29,207.09 L251.30,206.90 L253.30,206.68" fill="none" stroke="#5E81B5" stroke-width="1.3"/>
<path d="M15.00,128.30 L17.00,128.35 L19.01,128.45 L21.01,128.57 L23.01,128.73 L25.01,128.92 L27.02,129.15 L29.02,129.40 L31.02,129.69 L33.02,130.01 L35.03,130.36 L37.03,130.75 L39.03,131.16 L41.03,131.60 L43.04,132.07 L45.04,132.58 L47.04,133.11 L49.04,133.67 L51.05,134.26 L53.05,134.87 L55.05,135.52 L57.05,136.19 L59.06,136.88 L61.06,137.61 L63.06,138.36 L65.06,139.13 L67.07,139.92 L69.07,140.74 L71.07,141.58 L73.07,142.44 L75.08,143.32 L77.08,144.21 L79.08,145.13 L81.08,146.06 L83.09,147.01 L85.09,147.97 L87.09,148.95 L89.09,149.94 L91.10,150.95 L93.10,151.97 L95.10,152.99 L97.10,154.03 L99.11,155.08 L101.11,156.13 L103.11,157.20 L105.11,158.27 L107.12,159.34 L109.12,160.42 L111.12,161.51 L113.12,162.60 L115.13,163.69 L117.13,164.78 L119.13,165.87 L121.13,166.97 L123.14,168.06 L125.14,169.15 L127.14,170.23 L129.14,171.32 L131.15,172.40 L133.15,173.47 L135.15,174.54 L137.15,175.60 L139.16,176.65 L141.16,177.70 L143.16,178.73 L145.16,179.76 L147.17,180.77 L149.17,181.77 L151.17,182.76 L153.17,183.73 L155.18,184.69 L157.18,185.63 L159.18,186.56 L161.18,187.47 L163.19,188.36 L165.19,189.24 L167.19,190.10 L169.19,190.94 L171.20,191.76 L173.20,192.56 L175.20,193.34 L177.20,194.11 L179.21,194.85 L181.21,195.58 L183.21,196.28 L185.21,196.97 L187.22,197.63 L189.22,198.27 L191.22,198.89 L193.22,199.49 L195.23,200.07 L197.23,200.63 L199.23,201.16 L201.23,201.67 L203.24,202.16 L205.24,202.62 L207.24,203.06 L209.24,203.47 L211.25,203.86 L213.25,204.23 L215.25,204.57 L217.25,204.89 L219.26,205.18 L221.26,205.44 L223.26,205.68 L225.26,205.89 L227.27,206.08 L229.27,206.24 L231.27,206.37 L233.27,206.47 L235.28,206.54 L237.28,206.59 L239.28,206.61 L241.28,206.60 L243.29,206.56 L245.29,206.49 L247.29,206.39 L249.29,206.26 L251.30,206.10 L253.30,205.91" fill="none" stroke="#8FB032" stroke-width="1.3"/>
<path d="M15.00,113.36 L17.00,113.40 L19.01,113.47 L21.01,113.58 L23.01,113.73 L25.01,113.91 L27.02,114.13 L29.02,114.39 L31.02,114.68 L33.02,115.01 L35.03,115.37 L37.03,115.77 L39.03,116.20 L41.03,116.66 L43.04,117.16 L45.04,117.69 L47.04,118.26 L49.04,118.85 L51.05,119.48 L53.05,120.14 L55.05,120.82 L57.05,121.54 L59.06,122.29 L61.06,123.07 L63.06,123.87 L65.06,124.70 L67.07,125.56 L69.07,126.44 L71.07,127.34 L73.07,128.27 L75.08,129.22 L77.08,130.19 L79.08,131.18 L81.08,132.19 L83.09,133.21 L85.09,134.26 L87.09,135.31 L89.09,136.39 L91.10,137.48 L93.10,138.58 L95.10,139.69 L97.10,140.81 L99.11,141.95 L101.11,143.09 L103.11,144.24 L105.11,145.40 L107.12,146.57 L109.12,147.74 L111.12,148.92 L113.12,150.10 L115.13,151.28 L117.13,152.46 L119.13,153.65 L121.13,154.83 L123.14,156.02 L125.14,157.20 L127.14,158.37 L129.14,159.55 L131.15,160.72 L133.15,161.88 L135.15,163.04 L137.15,164.18 L139.16,165.32 L141.16,166.45 L143.16,167.57 L145.16,168.68 L147.17,169.77 L149.17,170.85 L151.17,171.92 L153.17,172.97 L155.18,174.00 L157.18,175.02 L159.18,176.02 L161.18,177.00 L163.19,177.96 L165.19,178.90 L167.19,179.83 L169.19,180.74 L171.20,181.62 L173.20,182.49 L175.20,183.35 L177.20,184.18 L179.21,185.00 L181.21,185.79 L183.21,186.57 L185.21,187.34 L187.22,188.08 L189.22,188.81 L191.22,189.51 L193.22,190.20 L195.23,190.88 L197.23,191.53 L199.23,192.17 L201.23,192.79 L203.24,193.39 L205.24,193.98 L207.24,194.54 L209.24,195.10 L211.25,195.63 L213.25,196.14 L215.25,196.64 L217.25,197.12 L219.26,197.59 L221.26,198.03 L223.26,198.46 L225.26,198.88 L227.27,199.27 L229.27,199.65 L231.27,200.01 L233.27,200.36 L235.28,200.69 L237.28,201.00 L239.28,201.30 L241.28,201.57 L243.29,201.84 L245.29,202.08 L247.29,202.31 L249.29,202.52 L251.30,202.72 L253.30,202.90" fill="none" stroke="#EB6235" stroke-width="1.3"/>
<path d="M15.00,97.38 L17.00,97.43 L19.01,97.53 L21.01,97.66 L23.01,97.83 L25.01,98.04 L27.02,98.29 L29.02,98.58 L31.02,98.90 L33.02,99.26 L35.03,99.66 L37.03,100.10 L39.03,100.57 L41.03,101.08 L43.04,101.62 L45.04,102.20 L47.04,102.82 L49.04,103.46 L51.05,104.15 L53.05,104.86 L55.05,105.61 L57.05,106.39 L59.06,107.21 L61.06,108.05 L63.06,108.92 L65.06,109.83 L67.07,110.76 L69.07,111.71 L71.07,112.69 L73.07,113.70 L75.08,114.73 L77.08,115.78 L79.08,116.86 L81.08,117.95 L83.09,119.07 L85.09,120.20 L87.09,121.35 L89.09,122.51 L91.10,123.69 L93.10,124.89 L95.10,126.10 L97.10,127.32 L99.11,128.55 L101.11,129.79 L103.11,131.04 L105.11,132.30 L107.12,133.56 L109.12,134.83 L111.12,136.10 L113.12,137.38 L115.13,138.66 L117.13,139.95 L119.13,141.23 L121.13,142.51 L123.14,143.80 L125.14,145.08 L127.14,146.35 L129.14,147.62 L131.15,148.89 L133.15,150.15 L135.15,151.40 L137.15,152.64 L139.16,153.87 L141.16,155.09 L143.16,156.30 L145.16,157.50 L147.17,158.69 L149.17,159.86 L151.17,161.03 L153.17,162.18 L155.18,163.31 L157.18,164.44 L159.18,165.55 L161.18,166.65 L163.19,167.73 L165.19,168.80 L167.19,169.85 L169.19,170.89 L171.20,171.92 L173.20,172.93 L175.20,173.93 L177.20,174.91 L179.21,175.87 L181.21,176.82 L183.21,177.76 L185.21,178.67 L187.22,179.57 L189.22,180.46 L191.22,181.33 L193.22,182.17 L195.23,183.01 L197.23,183.82 L199.23,184.62 L201.23,185.40 L203.24,186.16 L205.24,186.90 L207.24,187.62 L209.24,188.32 L211.25,189.01 L213.25,189.67 L215.25,190.31 L217.25,190.94 L219.26,191.54 L221.26,192.13 L223.26,192.69 L225.26,193.23 L227.27,193.75 L229.27,194.25 L231.27,194.73 L233.27,195.19 L235.28,195.62 L237.28,196.03 L239.28,196.42 L241.28,196.79 L243.29,197.13 L245.29,197.45 L247.29,197.74 L249.29,198.02 L251.30,198.27 L253.30,198.49" fill="none" stroke="#5D9EC7" stroke-width="1.3" stroke-dasharray="6,4.2"/>
<path d="M15.00,74.85 L17.00,74.92 L19.01,75.03 L21.01,75.18 L23.01,75.38 L25.01,75.61 L27.02,75.89 L29.02,76.21 L31.02,76.57 L33.02,76.96 L35.03,77.40 L37.03,77.88 L39.03,78.39 L41.03,78.95 L43.04,79.54 L45.04,80.16 L47.04,80.83 L49.04,81.53 L51.05,82.27 L53.05,83.04 L55.05,83.84 L57.05,84.68 L59.06,85.56 L61.06,86.47 L63.06,87.41 L65.06,88.37 L67.07,89.37 L69.07,90.40 L71.07,91.46 L73.07,92.54 L75.08,93.65 L77.08,94.78 L79.08,95.94 L81.08,97.12 L83.09,98.32 L85.09,99.54 L87.09,100.79 L89.09,102.05 L91.10,103.33 L93.10,104.63 L95.10,105.94 L97.10,107.27 L99.11,108.62 L101.11,109.98 L103.11,111.35 L105.11,112.73 L107.12,114.12 L109.12,115.53 L111.12,116.94 L113.12,118.36 L115.13,119.78 L117.13,121.22 L119.13,122.65 L121.13,124.09 L123.14,125.54 L125.14,126.99 L127.14,128.43 L129.14,129.88 L131.15,131.33 L133.15,132.77 L135.15,134.22 L137.15,135.66 L139.16,137.09 L141.16,138.52 L143.16,139.95 L145.16,141.36 L147.17,142.77 L149.17,144.17 L151.17,145.56 L153.17,146.93 L155.18,148.30 L157.18,149.65 L159.18,150.99 L161.18,152.31 L163.19,153.62 L165.19,154.91 L167.19,156.19 L169.19,157.45 L171.20,158.69 L173.20,159.92 L175.20,161.13 L177.20,162.33 L179.21,163.51 L181.21,164.68 L183.21,165.82 L185.21,166.96 L187.22,168.07 L189.22,169.17 L191.22,170.25 L193.22,171.31 L195.23,172.36 L197.23,173.39 L199.23,174.40 L201.23,175.40 L203.24,176.37 L205.24,177.33 L207.24,178.27 L209.24,179.20 L211.25,180.10 L213.25,180.99 L215.25,181.86 L217.25,182.71 L219.26,183.55 L221.26,184.36 L223.26,185.16 L225.26,185.93 L227.27,186.69 L229.27,187.43 L231.27,188.15 L233.27,188.85 L235.28,189.54 L237.28,190.20 L239.28,190.84 L241.28,191.47 L243.29,192.07 L245.29,192.65 L247.29,193.22 L249.29,193.76 L251.30,194.29 L253.30,194.79" fill="none" stroke="#8778B3" stroke-width="1.3"/>
<rect x="275.3" y="74.3" width="96.89999999999998" height="112.00000000000001" fill="none" stroke="#111" stroke-width="1"/>
<line x1="282.5" y1="87.3" x2="312.1" y2="87.3" stroke="#5D9EC7" stroke-width="1.3" stroke-dasharray="2.4,3.0"/>
<text x="317.8" y="90.50" font-size="9.1" letter-spacing="0.28" font-family="Liberation Sans, sans-serif" fill="#1a1a1a"><tspan font-style="italic" font-size="9.6">ζ</tspan>=0</text>
<line x1="282.5" y1="104.5" x2="312.1" y2="104.5" stroke="#5E81B5" stroke-width="1.3"/>
<text x="317.8" y="107.70" font-size="9.1" letter-spacing="0.28" font-family="Liberation Sans, sans-serif" fill="#1a1a1a"><tspan font-style="italic" font-size="9.6">ζ</tspan>=15<tspan font-style="italic">π</tspan>/100</text>
<line x1="282.5" y1="121.5" x2="312.1" y2="121.5" stroke="#8FB032" stroke-width="1.3"/>
<text x="317.8" y="124.70" font-size="9.1" letter-spacing="0.28" font-family="Liberation Sans, sans-serif" fill="#1a1a1a"><tspan font-style="italic" font-size="9.6">ζ</tspan>=38<tspan font-style="italic">π</tspan>/100</text>
<line x1="282.5" y1="138.4" x2="312.1" y2="138.4" stroke="#EB6235" stroke-width="1.3"/>
<text x="317.8" y="141.60" font-size="9.1" letter-spacing="0.28" font-family="Liberation Sans, sans-serif" fill="#1a1a1a"><tspan font-style="italic" font-size="9.6">ζ</tspan>=48<tspan font-style="italic">π</tspan>/100</text>
<line x1="282.5" y1="155.8" x2="312.1" y2="155.8" stroke="#5D9EC7" stroke-width="1.3" stroke-dasharray="6,4.2"/>
<text x="317.8" y="159.00" font-size="9.1" letter-spacing="0.28" font-family="Liberation Sans, sans-serif" fill="#1a1a1a"><tspan font-style="italic" font-size="9.6">ζ</tspan>=π/2</text>
<line x1="282.5" y1="173.0" x2="312.1" y2="173.0" stroke="#8778B3" stroke-width="1.3"/>
<text x="317.8" y="176.20" font-size="9.1" letter-spacing="0.28" font-family="Liberation Sans, sans-serif" fill="#1a1a1a"><tspan font-style="italic" font-size="9.6">ζ</tspan>=51<tspan font-style="italic">π</tspan>/100</text>
<text x="103.4" y="312.8" font-size="9.2" letter-spacing="0.33" font-family="Liberation Sans, sans-serif" fill="#1a1a1a" xml:space="preserve"><tspan font-style="italic">ν</tspan>=3/4,&#160;<tspan font-style="italic">ξ</tspan>=1/8,&#160;<tspan font-style="italic">β</tspan>=1</text>
<path d="M25.00,348.02 L26.92,348.04 L28.84,348.09 L30.76,348.19 L32.67,348.32 L34.59,348.49 L36.51,348.70 L38.43,348.94 L40.35,349.21 L42.27,349.52 L44.18,349.87 L46.10,350.24 L48.02,350.64 L49.94,351.08 L51.86,351.54 L53.78,352.03 L55.70,352.55 L57.61,353.10 L59.53,353.67 L61.45,354.27 L63.37,354.89 L65.29,355.53 L67.21,356.20 L69.13,356.89 L71.04,357.59 L72.96,358.32 L74.88,359.07 L76.80,359.83 L78.72,360.61 L80.64,361.41 L82.55,362.22 L84.47,363.05 L86.39,363.89 L88.31,364.74 L90.23,365.60 L92.15,366.48 L94.07,367.37 L95.98,368.26 L97.90,369.16 L99.82,370.07 L101.74,370.99 L103.66,371.91 L105.58,372.84 L107.49,373.77 L109.41,374.71 L111.33,375.65 L113.25,376.59 L115.17,377.53 L117.09,378.47 L119.01,379.41 L120.92,380.35 L122.84,381.29 L124.76,382.23 L126.68,383.17 L128.60,384.10 L130.52,385.03 L132.44,385.95 L134.35,386.87 L136.27,387.78 L138.19,388.68 L140.11,389.58 L142.03,390.47 L143.95,391.35 L145.86,392.22 L147.78,393.09 L149.70,393.94 L151.62,394.78 L153.54,395.60 L155.46,396.42 L157.38,397.22 L159.29,398.01 L161.21,398.78 L163.13,399.54 L165.05,400.28 L166.97,401.00 L168.89,401.71 L170.81,402.40 L172.72,403.07 L174.64,403.72 L176.56,404.35 L178.48,404.96 L180.40,405.55 L182.32,406.12 L184.23,406.66 L186.15,407.18 L188.07,407.68 L189.99,408.15 L191.91,408.61 L193.83,409.03 L195.75,409.44 L197.66,409.83 L199.58,410.19 L201.50,410.54 L203.42,410.86 L205.34,411.17 L207.26,411.45 L209.17,411.72 L211.09,411.97 L213.01,412.20 L214.93,412.41 L216.85,412.61 L218.77,412.78 L220.69,412.95 L222.60,413.09 L224.52,413.22 L226.44,413.34 L228.36,413.44 L230.28,413.53 L232.20,413.60 L234.12,413.66 L236.03,413.70 L237.95,413.74 L239.87,413.76 L241.79,413.77 L243.71,413.77 L245.63,413.75 L247.54,413.73 L249.46,413.70 L251.38,413.65 L253.30,413.60" fill="none" stroke="#5D9EC7" stroke-width="1.3" stroke-dasharray="2.4,3.0"/>
<path d="M25.00,347.51 L26.92,347.55 L28.84,347.63 L30.76,347.74 L32.67,347.90 L34.59,348.08 L36.51,348.31 L38.43,348.56 L40.35,348.85 L42.27,349.18 L44.18,349.53 L46.10,349.92 L48.02,350.34 L49.94,350.78 L51.86,351.26 L53.78,351.76 L55.70,352.29 L57.61,352.85 L59.53,353.43 L61.45,354.03 L63.37,354.66 L65.29,355.32 L67.21,355.99 L69.13,356.69 L71.04,357.41 L72.96,358.14 L74.88,358.90 L76.80,359.67 L78.72,360.47 L80.64,361.27 L82.55,362.10 L84.47,362.94 L86.39,363.79 L88.31,364.66 L90.23,365.54 L92.15,366.43 L94.07,367.33 L95.98,368.24 L97.90,369.16 L99.82,370.09 L101.74,371.03 L103.66,371.97 L105.58,372.92 L107.49,373.88 L109.41,374.84 L111.33,375.81 L113.25,376.77 L115.17,377.74 L117.09,378.72 L119.01,379.69 L120.92,380.67 L122.84,381.64 L124.76,382.61 L126.68,383.59 L128.60,384.56 L130.52,385.52 L132.44,386.49 L134.35,387.45 L136.27,388.41 L138.19,389.36 L140.11,390.30 L142.03,391.24 L143.95,392.17 L145.86,393.09 L147.78,394.00 L149.70,394.91 L151.62,395.80 L153.54,396.68 L155.46,397.56 L157.38,398.42 L159.29,399.26 L161.21,400.10 L163.13,400.92 L165.05,401.72 L166.97,402.51 L168.89,403.28 L170.81,404.04 L172.72,404.78 L174.64,405.50 L176.56,406.20 L178.48,406.89 L180.40,407.55 L182.32,408.19 L184.23,408.81 L186.15,409.41 L188.07,409.99 L189.99,410.54 L191.91,411.07 L193.83,411.59 L195.75,412.08 L197.66,412.54 L199.58,412.99 L201.50,413.42 L203.42,413.83 L205.34,414.22 L207.26,414.58 L209.17,414.93 L211.09,415.26 L213.01,415.57 L214.93,415.86 L216.85,416.14 L218.77,416.39 L220.69,416.63 L222.60,416.85 L224.52,417.05 L226.44,417.24 L228.36,417.40 L230.28,417.55 L232.20,417.69 L234.12,417.81 L236.03,417.91 L237.95,418.00 L239.87,418.07 L241.79,418.13 L243.71,418.17 L245.63,418.20 L247.54,418.21 L249.46,418.21 L251.38,418.19 L253.30,418.16" fill="none" stroke="#5E81B5" stroke-width="1.3"/>
<path d="M25.00,352.37 L26.92,352.40 L28.84,352.46 L30.76,352.56 L32.67,352.70 L34.59,352.88 L36.51,353.09 L38.43,353.34 L40.35,353.63 L42.27,353.95 L44.18,354.30 L46.10,354.68 L48.02,355.10 L49.94,355.55 L51.86,356.02 L53.78,356.53 L55.70,357.07 L57.61,357.63 L59.53,358.22 L61.45,358.83 L63.37,359.47 L65.29,360.14 L67.21,360.82 L69.13,361.53 L71.04,362.27 L72.96,363.02 L74.88,363.79 L76.80,364.58 L78.72,365.39 L80.64,366.22 L82.55,367.07 L84.47,367.93 L86.39,368.80 L88.31,369.70 L90.23,370.60 L92.15,371.52 L94.07,372.44 L95.98,373.38 L97.90,374.33 L99.82,375.29 L101.74,376.26 L103.66,377.23 L105.58,378.21 L107.49,379.20 L109.41,380.19 L111.33,381.19 L113.25,382.19 L115.17,383.20 L117.09,384.21 L119.01,385.21 L120.92,386.22 L122.84,387.23 L124.76,388.24 L126.68,389.25 L128.60,390.25 L130.52,391.26 L132.44,392.26 L134.35,393.25 L136.27,394.24 L138.19,395.23 L140.11,396.20 L142.03,397.17 L143.95,398.14 L145.86,399.09 L147.78,400.03 L149.70,400.97 L151.62,401.89 L153.54,402.80 L155.46,403.70 L157.38,404.59 L159.29,405.46 L161.21,406.32 L163.13,407.16 L165.05,407.98 L166.97,408.79 L168.89,409.58 L170.81,410.36 L172.72,411.11 L174.64,411.84 L176.56,412.56 L178.48,413.25 L180.40,413.92 L182.32,414.57 L184.23,415.19 L186.15,415.79 L188.07,416.37 L189.99,416.92 L191.91,417.44 L193.83,417.95 L195.75,418.42 L197.66,418.88 L199.58,419.31 L201.50,419.72 L203.42,420.10 L205.34,420.46 L207.26,420.79 L209.17,421.11 L211.09,421.40 L213.01,421.66 L214.93,421.90 L216.85,422.12 L218.77,422.32 L220.69,422.50 L222.60,422.65 L224.52,422.78 L226.44,422.88 L228.36,422.97 L230.28,423.03 L232.20,423.07 L234.12,423.09 L236.03,423.08 L237.95,423.05 L239.87,423.01 L241.79,422.94 L243.71,422.84 L245.63,422.73 L247.54,422.60 L249.46,422.44 L251.38,422.26 L253.30,422.07" fill="none" stroke="#8FB032" stroke-width="1.3"/>
<path d="M25.00,367.11 L26.92,367.16 L28.84,367.24 L30.76,367.36 L32.67,367.51 L34.59,367.70 L36.51,367.92 L38.43,368.17 L40.35,368.46 L42.27,368.78 L44.18,369.13 L46.10,369.51 L48.02,369.93 L49.94,370.37 L51.86,370.85 L53.78,371.35 L55.70,371.89 L57.61,372.46 L59.53,373.05 L61.45,373.67 L63.37,374.32 L65.29,375.00 L67.21,375.71 L69.13,376.44 L71.04,377.20 L72.96,377.98 L74.88,378.79 L76.80,379.62 L78.72,380.47 L80.64,381.34 L82.55,382.23 L84.47,383.14 L86.39,384.06 L88.31,385.00 L90.23,385.96 L92.15,386.93 L94.07,387.92 L95.98,388.91 L97.90,389.92 L99.82,390.94 L101.74,391.96 L103.66,393.00 L105.58,394.04 L107.49,395.09 L109.41,396.14 L111.33,397.20 L113.25,398.26 L115.17,399.33 L117.09,400.39 L119.01,401.45 L120.92,402.52 L122.84,403.58 L124.76,404.64 L126.68,405.69 L128.60,406.74 L130.52,407.78 L132.44,408.82 L134.35,409.85 L136.27,410.87 L138.19,411.88 L140.11,412.87 L142.03,413.86 L143.95,414.83 L145.86,415.79 L147.78,416.73 L149.70,417.66 L151.62,418.57 L153.54,419.47 L155.46,420.35 L157.38,421.21 L159.29,422.05 L161.21,422.88 L163.13,423.68 L165.05,424.46 L166.97,425.23 L168.89,425.97 L170.81,426.69 L172.72,427.39 L174.64,428.07 L176.56,428.72 L178.48,429.35 L180.40,429.96 L182.32,430.54 L184.23,431.09 L186.15,431.62 L188.07,432.12 L189.99,432.60 L191.91,433.04 L193.83,433.46 L195.75,433.85 L197.66,434.21 L199.58,434.55 L201.50,434.85 L203.42,435.12 L205.34,435.35 L207.26,435.56 L209.17,435.73 L211.09,435.87 L213.01,435.98 L214.93,436.05 L216.85,436.09 L218.77,436.09 L220.69,436.06 L222.60,435.98 L224.52,435.88 L226.44,435.73 L228.36,435.55 L230.28,435.32 L232.20,435.06 L234.12,434.76 L236.03,434.42 L237.95,434.04 L239.87,433.61 L241.79,433.14 L243.71,432.63 L245.63,432.08 L247.54,431.49 L249.46,430.84 L251.38,430.16 L253.30,429.43" fill="none" stroke="#EB6235" stroke-width="1.3"/>
<path d="M25.00,385.75 L26.92,385.81 L28.84,385.92 L30.76,386.06 L32.67,386.23 L34.59,386.45 L36.51,386.70 L38.43,386.98 L40.35,387.30 L42.27,387.66 L44.18,388.04 L46.10,388.47 L48.02,388.92 L49.94,389.41 L51.86,389.92 L53.78,390.47 L55.70,391.05 L57.61,391.66 L59.53,392.30 L61.45,392.98 L63.37,393.68 L65.29,394.40 L67.21,395.16 L69.13,395.94 L71.04,396.75 L72.96,397.59 L74.88,398.44 L76.80,399.32 L78.72,400.22 L80.64,401.14 L82.55,402.08 L84.47,403.04 L86.39,404.01 L88.31,405.00 L90.23,406.01 L92.15,407.02 L94.07,408.05 L95.98,409.09 L97.90,410.14 L99.82,411.20 L101.74,412.26 L103.66,413.33 L105.58,414.41 L107.49,415.49 L109.41,416.57 L111.33,417.65 L113.25,418.74 L115.17,419.82 L117.09,420.90 L119.01,421.98 L120.92,423.06 L122.84,424.13 L124.76,425.19 L126.68,426.25 L128.60,427.29 L130.52,428.33 L132.44,429.36 L134.35,430.37 L136.27,431.37 L138.19,432.36 L140.11,433.33 L142.03,434.28 L143.95,435.22 L145.86,436.13 L147.78,437.03 L149.70,437.91 L151.62,438.76 L153.54,439.60 L155.46,440.41 L157.38,441.20 L159.29,441.96 L161.21,442.70 L163.13,443.42 L165.05,444.11 L166.97,444.78 L168.89,445.42 L170.81,446.04 L172.72,446.63 L174.64,447.19 L176.56,447.72 L178.48,448.22 L180.40,448.70 L182.32,449.14 L184.23,449.56 L186.15,449.94 L188.07,450.29 L189.99,450.61 L191.91,450.90 L193.83,451.16 L195.75,451.38 L197.66,451.57 L199.58,451.72 L201.50,451.84 L203.42,451.92 L205.34,451.97 L207.26,451.98 L209.17,451.95 L211.09,451.89 L213.01,451.78 L214.93,451.64 L216.85,451.46 L218.77,451.24 L220.69,450.98 L222.60,450.67 L224.52,450.33 L226.44,449.94 L228.36,449.51 L230.28,449.04 L232.20,448.52 L234.12,447.96 L236.03,447.36 L237.95,446.71 L239.87,446.01 L241.79,445.27 L243.71,444.48 L245.63,443.64 L247.54,442.75 L249.46,441.82 L251.38,440.84 L253.30,439.80" fill="none" stroke="#5D9EC7" stroke-width="1.3" stroke-dasharray="6,4.2"/>
<path d="M25.00,413.05 L26.92,413.08 L28.84,413.16 L30.76,413.29 L32.67,413.47 L34.59,413.70 L36.51,413.97 L38.43,414.29 L40.35,414.65 L42.27,415.05 L44.18,415.48 L46.10,415.96 L48.02,416.47 L49.94,417.01 L51.86,417.58 L53.78,418.19 L55.70,418.82 L57.61,419.48 L59.53,420.16 L61.45,420.87 L63.37,421.60 L65.29,422.35 L67.21,423.12 L69.13,423.90 L71.04,424.70 L72.96,425.52 L74.88,426.35 L76.80,427.20 L78.72,428.06 L80.64,428.93 L82.55,429.82 L84.47,430.72 L86.39,431.62 L88.31,432.54 L90.23,433.47 L92.15,434.41 L94.07,435.36 L95.98,436.31 L97.90,437.28 L99.82,438.24 L101.74,439.22 L103.66,440.20 L105.58,441.18 L107.49,442.16 L109.41,443.15 L111.33,444.14 L113.25,445.14 L115.17,446.13 L117.09,447.12 L119.01,448.12 L120.92,449.11 L122.84,450.09 L124.76,451.08 L126.68,452.06 L128.60,453.04 L130.52,454.01 L132.44,454.98 L134.35,455.94 L136.27,456.90 L138.19,457.85 L140.11,458.78 L142.03,459.71 L143.95,460.63 L145.86,461.54 L147.78,462.44 L149.70,463.32 L151.62,464.19 L153.54,465.05 L155.46,465.88 L157.38,466.70 L159.29,467.49 L161.21,468.26 L163.13,469.01 L165.05,469.73 L166.97,470.42 L168.89,471.08 L170.81,471.72 L172.72,472.31 L174.64,472.88 L176.56,473.41 L178.48,473.90 L180.40,474.35 L182.32,474.76 L184.23,475.13 L186.15,475.46 L188.07,475.74 L189.99,475.97 L191.91,476.16 L193.83,476.29 L195.75,476.37 L197.66,476.40 L199.58,476.37 L201.50,476.28 L203.42,476.14 L205.34,475.94 L207.26,475.67 L209.17,475.34 L211.09,474.96 L213.01,474.51 L214.93,474.00 L216.85,473.43 L218.77,472.80 L220.69,472.11 L222.60,471.36 L224.52,470.55 L226.44,469.69 L228.36,468.76 L230.28,467.77 L232.20,466.73 L234.12,465.63 L236.03,464.47 L237.95,463.25 L239.87,461.97 L241.79,460.64 L243.71,459.25 L245.63,457.80 L247.54,456.30 L249.46,454.74 L251.38,453.12 L253.30,451.45" fill="none" stroke="#8778B3" stroke-width="1.3"/>
<line x1="25" y1="416.8" x2="257.4" y2="416.8" stroke="#999" stroke-width="1.4"/>
<line x1="105.6" y1="416.8" x2="105.6" y2="413.8" stroke="#333" stroke-width="0.8"/>
<line x1="186.4" y1="416.8" x2="186.4" y2="413.8" stroke="#333" stroke-width="0.8"/>
<line x1="25" y1="340.5" x2="25" y2="490" stroke="#333" stroke-width="1"/>
<line x1="25" y1="489.66" x2="27.2" y2="489.66" stroke="#333" stroke-width="0.8"/>
<line x1="25" y1="485.38" x2="27.2" y2="485.38" stroke="#333" stroke-width="0.8"/>
<line x1="25" y1="481.10" x2="29" y2="481.10" stroke="#333" stroke-width="0.8"/>
<line x1="25" y1="476.82" x2="27.2" y2="476.82" stroke="#333" stroke-width="0.8"/>
<line x1="25" y1="472.54" x2="27.2" y2="472.54" stroke="#333" stroke-width="0.8"/>
<line x1="25" y1="468.26" x2="27.2" y2="468.26" stroke="#333" stroke-width="0.8"/>
<line x1="25" y1="463.98" x2="27.2" y2="463.98" stroke="#333" stroke-width="0.8"/>
<line x1="25" y1="459.70" x2="29" y2="459.70" stroke="#333" stroke-width="0.8"/>
<line x1="25" y1="455.42" x2="27.2" y2="455.42" stroke="#333" stroke-width="0.8"/>
<line x1="25" y1="451.14" x2="27.2" y2="451.14" stroke="#333" stroke-width="0.8"/>
<line x1="25" y1="446.86" x2="27.2" y2="446.86" stroke="#333" stroke-width="0.8"/>
<line x1="25" y1="442.58" x2="27.2" y2="442.58" stroke="#333" stroke-width="0.8"/>
<line x1="25" y1="438.30" x2="29" y2="438.30" stroke="#333" stroke-width="0.8"/>
<line x1="25" y1="434.02" x2="27.2" y2="434.02" stroke="#333" stroke-width="0.8"/>
<line x1="25" y1="429.74" x2="27.2" y2="429.74" stroke="#333" stroke-width="0.8"/>
<line x1="25" y1="425.46" x2="27.2" y2="425.46" stroke="#333" stroke-width="0.8"/>
<line x1="25" y1="421.18" x2="27.2" y2="421.18" stroke="#333" stroke-width="0.8"/>
<line x1="25" y1="416.90" x2="29" y2="416.90" stroke="#333" stroke-width="0.8"/>
<line x1="25" y1="412.62" x2="27.2" y2="412.62" stroke="#333" stroke-width="0.8"/>
<line x1="25" y1="408.34" x2="27.2" y2="408.34" stroke="#333" stroke-width="0.8"/>
<line x1="25" y1="404.06" x2="27.2" y2="404.06" stroke="#333" stroke-width="0.8"/>
<line x1="25" y1="399.78" x2="27.2" y2="399.78" stroke="#333" stroke-width="0.8"/>
<line x1="25" y1="395.50" x2="29" y2="395.50" stroke="#333" stroke-width="0.8"/>
<line x1="25" y1="391.22" x2="27.2" y2="391.22" stroke="#333" stroke-width="0.8"/>
<line x1="25" y1="386.94" x2="27.2" y2="386.94" stroke="#333" stroke-width="0.8"/>
<line x1="25" y1="382.66" x2="27.2" y2="382.66" stroke="#333" stroke-width="0.8"/>
<line x1="25" y1="378.38" x2="27.2" y2="378.38" stroke="#333" stroke-width="0.8"/>
<line x1="25" y1="374.10" x2="29" y2="374.10" stroke="#333" stroke-width="0.8"/>
<line x1="25" y1="369.82" x2="27.2" y2="369.82" stroke="#333" stroke-width="0.8"/>
<line x1="25" y1="365.54" x2="27.2" y2="365.54" stroke="#333" stroke-width="0.8"/>
<line x1="25" y1="361.26" x2="27.2" y2="361.26" stroke="#333" stroke-width="0.8"/>
<line x1="25" y1="356.98" x2="27.2" y2="356.98" stroke="#333" stroke-width="0.8"/>
<line x1="25" y1="352.70" x2="29" y2="352.70" stroke="#333" stroke-width="0.8"/>
<line x1="25" y1="348.42" x2="27.2" y2="348.42" stroke="#333" stroke-width="0.8"/>
<line x1="25" y1="344.14" x2="27.2" y2="344.14" stroke="#333" stroke-width="0.8"/>
<text x="22.8" y="355.80" text-anchor="end" font-size="8.8" letter-spacing="0.25" font-family="Liberation Sans, sans-serif" fill="#1a1a1a">0.15</text>
<text x="22.8" y="377.20" text-anchor="end" font-size="8.8" letter-spacing="0.25" font-family="Liberation Sans, sans-serif" fill="#1a1a1a">0.10</text>
<text x="22.8" y="398.60" text-anchor="end" font-size="8.8" letter-spacing="0.25" font-family="Liberation Sans, sans-serif" fill="#1a1a1a">0.05</text>
<text x="22.8" y="420.00" text-anchor="end" font-size="8.8" letter-spacing="0.25" font-family="Liberation Sans, sans-serif" fill="#1a1a1a">0.00</text>
<text x="22.8" y="441.40" text-anchor="end" font-size="8.8" letter-spacing="0.25" font-family="Liberation Sans, sans-serif" fill="#1a1a1a">−0.05</text>
<text x="22.8" y="462.80" text-anchor="end" font-size="8.8" letter-spacing="0.25" font-family="Liberation Sans, sans-serif" fill="#1a1a1a">−0.10</text>
<text x="22.8" y="484.20" text-anchor="end" font-size="8.8" letter-spacing="0.25" font-family="Liberation Sans, sans-serif" fill="#1a1a1a">−0.15</text>
<text x="105.6" y="424.70" text-anchor="middle" font-size="11.0" font-style="italic" font-family="Liberation Sans, sans-serif" fill="#1a1a1a">π</text>
<line x1="102.00" y1="427.10" x2="109.00" y2="427.10" stroke="#1a1a1a" stroke-width="1.1"/>
<text x="105.6" y="437.90" text-anchor="middle" font-size="10.4" font-family="Liberation Sans, sans-serif" fill="#1a1a1a">6</text>
<text x="186.4" y="424.70" text-anchor="middle" font-size="11.0" font-style="italic" font-family="Liberation Sans, sans-serif" fill="#1a1a1a">π</text>
<line x1="182.80" y1="427.10" x2="189.80" y2="427.10" stroke="#1a1a1a" stroke-width="1.1"/>
<text x="186.4" y="437.90" text-anchor="middle" font-size="10.4" font-family="Liberation Sans, sans-serif" fill="#1a1a1a">3</text>
<text x="263.8" y="422.5" font-size="10" font-style="italic" font-family="Liberation Sans, sans-serif" fill="#222">ρ</text>
<rect x="275.3" y="338.1" width="96.89999999999998" height="112.59999999999997" fill="none" stroke="#111" stroke-width="1"/>
<line x1="282.5" y1="351.1" x2="312.1" y2="351.1" stroke="#5D9EC7" stroke-width="1.3" stroke-dasharray="2.4,3.0"/>
<text x="317.8" y="354.30" font-size="9.1" letter-spacing="0.28" font-family="Liberation Sans, sans-serif" fill="#1a1a1a"><tspan font-style="italic" font-size="9.6">ζ</tspan>=0</text>
<line x1="282.5" y1="368.5" x2="312.1" y2="368.5" stroke="#5E81B5" stroke-width="1.3"/>
<text x="317.8" y="371.70" font-size="9.1" letter-spacing="0.28" font-family="Liberation Sans, sans-serif" fill="#1a1a1a"><tspan font-style="italic" font-size="9.6">ζ</tspan>=<tspan font-style="italic">π</tspan>/5</text>
<line x1="282.5" y1="385.5" x2="312.1" y2="385.5" stroke="#8FB032" stroke-width="1.3"/>
<text x="317.8" y="388.70" font-size="9.1" letter-spacing="0.28" font-family="Liberation Sans, sans-serif" fill="#1a1a1a"><tspan font-style="italic" font-size="9.6">ζ</tspan>=2<tspan font-style="italic">π</tspan>/5</text>
<line x1="282.5" y1="402.6" x2="312.1" y2="402.6" stroke="#EB6235" stroke-width="1.3"/>
<text x="317.8" y="405.80" font-size="9.1" letter-spacing="0.28" font-family="Liberation Sans, sans-serif" fill="#1a1a1a"><tspan font-style="italic" font-size="9.6">ζ</tspan>=48<tspan font-style="italic">π</tspan>/100</text>
<line x1="282.5" y1="419.6" x2="312.1" y2="419.6" stroke="#5D9EC7" stroke-width="1.3" stroke-dasharray="6,4.2"/>
<text x="317.8" y="422.80" font-size="9.1" letter-spacing="0.28" font-family="Liberation Sans, sans-serif" fill="#1a1a1a"><tspan font-style="italic" font-size="9.6">ζ</tspan>=π/2</text>
<line x1="282.5" y1="436.6" x2="312.1" y2="436.6" stroke="#8778B3" stroke-width="1.3"/>
<text x="317.8" y="439.80" font-size="9.1" letter-spacing="0.28" font-family="Liberation Sans, sans-serif" fill="#1a1a1a"><tspan font-style="italic" font-size="9.6">ζ</tspan>=51<tspan font-style="italic">π</tspan>/100</text>
<text x="103.4" y="561.5" font-size="9.2" letter-spacing="0.33" font-family="Liberation Sans, sans-serif" fill="#1a1a1a" xml:space="preserve"><tspan font-style="italic">ν</tspan>=3/4,&#160;<tspan font-style="italic">ξ</tspan>=1/8,&#160;<tspan font-style="italic">β</tspan>=1</text>
<path d="M25.00,707.31 L26.92,707.33 L28.83,707.37 L30.75,707.43 L32.66,707.51 L34.58,707.59 L36.50,707.70 L38.41,707.82 L40.33,707.95 L42.24,708.09 L44.16,708.25 L46.08,708.43 L47.99,708.61 L49.91,708.81 L51.82,709.01 L53.74,709.23 L55.66,709.46 L57.57,709.70 L59.49,709.95 L61.40,710.21 L63.32,710.48 L65.24,710.75 L67.15,711.04 L69.07,711.33 L70.98,711.63 L72.90,711.93 L74.82,712.25 L76.73,712.57 L78.65,712.89 L80.56,713.22 L82.48,713.55 L84.39,713.89 L86.31,714.23 L88.23,714.57 L90.14,714.92 L92.06,715.27 L93.97,715.63 L95.89,715.98 L97.81,716.33 L99.72,716.69 L101.64,717.05 L103.55,717.40 L105.47,717.76 L107.39,718.12 L109.30,718.47 L111.22,718.82 L113.13,719.17 L115.05,719.51 L116.97,719.85 L118.88,720.19 L120.80,720.52 L122.71,720.84 L124.63,721.15 L126.55,721.46 L128.46,721.76 L130.38,722.05 L132.29,722.32 L134.21,722.59 L136.13,722.85 L138.04,723.09 L139.96,723.32 L141.87,723.54 L143.79,723.74 L145.71,723.93 L147.62,724.10 L149.54,724.25 L151.45,724.39 L153.37,724.51 L155.29,724.61 L157.20,724.69 L159.12,724.75 L161.03,724.79 L162.95,724.81 L164.87,724.81 L166.78,724.78 L168.70,724.73 L170.61,724.66 L172.53,724.56 L174.45,724.44 L176.36,724.28 L178.28,724.11 L180.19,723.90 L182.11,723.66 L184.03,723.40 L185.94,723.10 L187.86,722.78 L189.77,722.43 L191.69,722.05 L193.61,721.64 L195.52,721.21 L197.44,720.76 L199.35,720.29 L201.27,719.80 L203.18,719.30 L205.10,718.78 L207.02,718.25 L208.93,717.71 L210.85,717.17 L212.76,716.61 L214.68,716.05 L216.60,715.49 L218.51,714.93 L220.43,714.38 L222.34,713.82 L224.26,713.27 L226.18,712.73 L228.09,712.19 L230.01,711.67 L231.92,711.16 L233.84,710.66 L235.76,710.18 L237.67,709.72 L239.59,709.28 L241.50,708.86 L243.42,708.47 L245.34,708.10 L247.25,707.76 L249.17,707.45 L251.08,707.17 L253.00,706.92" fill="none" stroke="#5D9EC7" stroke-width="1.3" stroke-dasharray="2.4,3.0"/>
<path d="M25.00,707.25 L26.92,707.27 L28.83,707.28 L30.75,707.29 L32.66,707.31 L34.58,707.33 L36.50,707.34 L38.41,707.36 L40.33,707.38 L42.24,707.40 L44.16,707.42 L46.08,707.45 L47.99,707.47 L49.91,707.49 L51.82,707.52 L53.74,707.54 L55.66,707.57 L57.57,707.60 L59.49,707.62 L61.40,707.65 L63.32,707.68 L65.24,707.71 L67.15,707.74 L69.07,707.77 L70.98,707.80 L72.90,707.83 L74.82,707.87 L76.73,707.90 L78.65,707.92 L80.56,707.95 L82.48,707.98 L84.39,708.00 L86.31,708.03 L88.23,708.05 L90.14,708.06 L92.06,708.08 L93.97,708.09 L95.89,708.10 L97.81,708.11 L99.72,708.11 L101.64,708.11 L103.55,708.10 L105.47,708.09 L107.39,708.08 L109.30,708.06 L111.22,708.03 L113.13,708.00 L115.05,707.96 L116.97,707.92 L118.88,707.87 L120.80,707.81 L122.71,707.75 L124.63,707.68 L126.55,707.61 L128.46,707.52 L130.38,707.43 L132.29,707.33 L134.21,707.22 L136.13,707.10 L138.04,706.98 L139.96,706.84 L141.87,706.70 L143.79,706.54 L145.71,706.38 L147.62,706.21 L149.54,706.04 L151.45,705.86 L153.37,705.67 L155.29,705.48 L157.20,705.28 L159.12,705.09 L161.03,704.89 L162.95,704.69 L164.87,704.48 L166.78,704.28 L168.70,704.08 L170.61,703.88 L172.53,703.68 L174.45,703.48 L176.36,703.29 L178.28,703.10 L180.19,702.91 L182.11,702.73 L184.03,702.56 L185.94,702.39 L187.86,702.23 L189.77,702.08 L191.69,701.94 L193.61,701.80 L195.52,701.68 L197.44,701.57 L199.35,701.47 L201.27,701.38 L203.18,701.31 L205.10,701.25 L207.02,701.20 L208.93,701.17 L210.85,701.15 L212.76,701.15 L214.68,701.17 L216.60,701.21 L218.51,701.27 L220.43,701.34 L222.34,701.44 L224.26,701.56 L226.18,701.70 L228.09,701.87 L230.01,702.06 L231.92,702.27 L233.84,702.51 L235.76,702.78 L237.67,703.08 L239.59,703.41 L241.50,703.77 L243.42,704.16 L245.34,704.58 L247.25,705.03 L249.17,705.52 L251.08,706.05 L253.00,706.61" fill="none" stroke="#5E81B5" stroke-width="1.3"/>
<path d="M25.00,706.82 L26.92,706.81 L28.83,706.79 L30.75,706.77 L32.66,706.73 L34.58,706.70 L36.50,706.66 L38.41,706.62 L40.33,706.57 L42.24,706.52 L44.16,706.46 L46.08,706.41 L47.99,706.35 L49.91,706.29 L51.82,706.22 L53.74,706.15 L55.66,706.08 L57.57,706.01 L59.49,705.93 L61.40,705.84 L63.32,705.76 L65.24,705.66 L67.15,705.56 L69.07,705.46 L70.98,705.35 L72.90,705.23 L74.82,705.11 L76.73,704.98 L78.65,704.85 L80.56,704.70 L82.48,704.55 L84.39,704.39 L86.31,704.23 L88.23,704.05 L90.14,703.87 L92.06,703.68 L93.97,703.48 L95.89,703.27 L97.81,703.05 L99.72,702.82 L101.64,702.58 L103.55,702.33 L105.47,702.06 L107.39,701.79 L109.30,701.51 L111.22,701.22 L113.13,700.92 L115.05,700.61 L116.97,700.29 L118.88,699.97 L120.80,699.64 L122.71,699.30 L124.63,698.96 L126.55,698.62 L128.46,698.27 L130.38,697.92 L132.29,697.56 L134.21,697.21 L136.13,696.85 L138.04,696.49 L139.96,696.14 L141.87,695.78 L143.79,695.42 L145.71,695.07 L147.62,694.72 L149.54,694.37 L151.45,694.03 L153.37,693.69 L155.29,693.35 L157.20,693.03 L159.12,692.70 L161.03,692.39 L162.95,692.08 L164.87,691.78 L166.78,691.49 L168.70,691.22 L170.61,690.95 L172.53,690.69 L174.45,690.44 L176.36,690.21 L178.28,689.98 L180.19,689.78 L182.11,689.58 L184.03,689.40 L185.94,689.24 L187.86,689.09 L189.77,688.96 L191.69,688.85 L193.61,688.75 L195.52,688.68 L197.44,688.62 L199.35,688.58 L201.27,688.56 L203.18,688.57 L205.10,688.59 L207.02,688.64 L208.93,688.71 L210.85,688.81 L212.76,688.94 L214.68,689.09 L216.60,689.27 L218.51,689.48 L220.43,689.72 L222.34,690.00 L224.26,690.31 L226.18,690.66 L228.09,691.04 L230.01,691.46 L231.92,691.93 L233.84,692.43 L235.76,692.97 L237.67,693.56 L239.59,694.20 L241.50,694.88 L243.42,695.60 L245.34,696.38 L247.25,697.21 L249.17,698.09 L251.08,699.02 L253.00,700.00" fill="none" stroke="#8FB032" stroke-width="1.3"/>
<path d="M25.00,707.02 L26.92,706.99 L28.83,706.94 L30.75,706.88 L32.66,706.79 L34.58,706.68 L36.50,706.55 L38.41,706.40 L40.33,706.24 L42.24,706.05 L44.16,705.84 L46.08,705.62 L47.99,705.38 L49.91,705.12 L51.82,704.84 L53.74,704.55 L55.66,704.24 L57.57,703.91 L59.49,703.56 L61.40,703.20 L63.32,702.83 L65.24,702.44 L67.15,702.03 L69.07,701.61 L70.98,701.17 L72.90,700.72 L74.82,700.26 L76.73,699.78 L78.65,699.29 L80.56,698.79 L82.48,698.27 L84.39,697.74 L86.31,697.20 L88.23,696.65 L90.14,696.09 L92.06,695.51 L93.97,694.93 L95.89,694.33 L97.81,693.73 L99.72,693.11 L101.64,692.48 L103.55,691.85 L105.47,691.21 L107.39,690.55 L109.30,689.89 L111.22,689.22 L113.13,688.55 L115.05,687.87 L116.97,687.18 L118.88,686.49 L120.80,685.80 L122.71,685.10 L124.63,684.40 L126.55,683.70 L128.46,683.00 L130.38,682.29 L132.29,681.59 L134.21,680.89 L136.13,680.19 L138.04,679.50 L139.96,678.81 L141.87,678.12 L143.79,677.44 L145.71,676.76 L147.62,676.09 L149.54,675.43 L151.45,674.77 L153.37,674.12 L155.29,673.49 L157.20,672.86 L159.12,672.24 L161.03,671.64 L162.95,671.05 L164.87,670.47 L166.78,669.91 L168.70,669.36 L170.61,668.82 L172.53,668.30 L174.45,667.80 L176.36,667.32 L178.28,666.85 L180.19,666.40 L182.11,665.98 L184.03,665.57 L185.94,665.19 L187.86,664.84 L189.77,664.52 L191.69,664.23 L193.61,663.97 L195.52,663.76 L197.44,663.58 L199.35,663.44 L201.27,663.35 L203.18,663.31 L205.10,663.32 L207.02,663.38 L208.93,663.49 L210.85,663.66 L212.76,663.88 L214.68,664.16 L216.60,664.51 L218.51,664.91 L220.43,665.38 L222.34,665.91 L224.26,666.51 L226.18,667.18 L228.09,667.92 L230.01,668.73 L231.92,669.62 L233.84,670.58 L235.76,671.62 L237.67,672.73 L239.59,673.93 L241.50,675.22 L243.42,676.58 L245.34,678.04 L247.25,679.58 L249.17,681.21 L251.08,682.93 L253.00,684.75" fill="none" stroke="#EB6235" stroke-width="1.3"/>
<path d="M25.00,706.92 L26.92,706.87 L28.83,706.77 L30.75,706.65 L32.66,706.49 L34.58,706.29 L36.50,706.07 L38.41,705.81 L40.33,705.52 L42.24,705.19 L44.16,704.84 L46.08,704.45 L47.99,704.04 L49.91,703.60 L51.82,703.12 L53.74,702.62 L55.66,702.09 L57.57,701.54 L59.49,700.95 L61.40,700.34 L63.32,699.71 L65.24,699.05 L67.15,698.36 L69.07,697.66 L70.98,696.92 L72.90,696.17 L74.82,695.39 L76.73,694.59 L78.65,693.77 L80.56,692.92 L82.48,692.06 L84.39,691.18 L86.31,690.27 L88.23,689.35 L90.14,688.41 L92.06,687.45 L93.97,686.48 L95.89,685.48 L97.81,684.48 L99.72,683.45 L101.64,682.41 L103.55,681.36 L105.47,680.29 L107.39,679.21 L109.30,678.11 L111.22,677.00 L113.13,675.89 L115.05,674.76 L116.97,673.63 L118.88,672.49 L120.80,671.34 L122.71,670.19 L124.63,669.04 L126.55,667.88 L128.46,666.73 L130.38,665.58 L132.29,664.43 L134.21,663.28 L136.13,662.14 L138.04,661.00 L139.96,659.87 L141.87,658.75 L143.79,657.64 L145.71,656.55 L147.62,655.46 L149.54,654.39 L151.45,653.33 L153.37,652.29 L155.29,651.27 L157.20,650.26 L159.12,649.28 L161.03,648.32 L162.95,647.38 L164.87,646.46 L166.78,645.57 L168.70,644.71 L170.61,643.87 L172.53,643.07 L174.45,642.29 L176.36,641.55 L178.28,640.84 L180.19,640.16 L182.11,639.52 L184.03,638.91 L185.94,638.34 L187.86,637.82 L189.77,637.33 L191.69,636.88 L193.61,636.48 L195.52,636.12 L197.44,635.81 L199.35,635.55 L201.27,635.33 L203.18,635.16 L205.10,635.05 L207.02,635.01 L208.93,635.05 L210.85,635.18 L212.76,635.41 L214.68,635.76 L216.60,636.24 L218.51,636.85 L220.43,637.61 L222.34,638.53 L224.26,639.59 L226.18,640.79 L228.09,642.11 L230.01,643.56 L231.92,645.11 L233.84,646.76 L235.76,648.49 L237.67,650.31 L239.59,652.19 L241.50,654.13 L243.42,656.11 L245.34,658.13 L247.25,660.15 L249.17,662.18 L251.08,664.19 L253.00,666.18" fill="none" stroke="#5D9EC7" stroke-width="1.3" stroke-dasharray="6,4.2"/>
<path d="M25.00,707.05 L26.92,707.00 L28.83,706.89 L30.75,706.73 L32.66,706.52 L34.58,706.25 L36.50,705.93 L38.41,705.57 L40.33,705.15 L42.24,704.68 L44.16,704.16 L46.08,703.59 L47.99,702.98 L49.91,702.32 L51.82,701.62 L53.74,700.87 L55.66,700.07 L57.57,699.23 L59.49,698.35 L61.40,697.43 L63.32,696.46 L65.24,695.46 L67.15,694.41 L69.07,693.33 L70.98,692.20 L72.90,691.04 L74.82,689.84 L76.73,688.61 L78.65,687.33 L80.56,686.03 L82.48,684.69 L84.39,683.32 L86.31,681.91 L88.23,680.47 L90.14,679.00 L92.06,677.50 L93.97,675.97 L95.89,674.41 L97.81,672.82 L99.72,671.21 L101.64,669.57 L103.55,667.90 L105.47,666.21 L107.39,664.49 L109.30,662.75 L111.22,660.98 L113.13,659.20 L115.05,657.40 L116.97,655.59 L118.88,653.77 L120.80,651.93 L122.71,650.09 L124.63,648.25 L126.55,646.40 L128.46,644.55 L130.38,642.70 L132.29,640.86 L134.21,639.02 L136.13,637.19 L138.04,635.37 L139.96,633.57 L141.87,631.78 L143.79,630.01 L145.71,628.26 L147.62,626.54 L149.54,624.83 L151.45,623.16 L153.37,621.51 L155.29,619.90 L157.20,618.32 L159.12,616.78 L161.03,615.27 L162.95,613.81 L164.87,612.39 L166.78,611.01 L168.70,609.69 L170.61,608.41 L172.53,607.19 L174.45,606.02 L176.36,604.91 L178.28,603.85 L180.19,602.86 L182.11,601.94 L184.03,601.08 L185.94,600.29 L187.86,599.57 L189.77,598.94 L191.69,598.38 L193.61,597.90 L195.52,597.51 L197.44,597.22 L199.35,597.01 L201.27,596.90 L203.18,596.89 L205.10,596.98 L207.02,597.18 L208.93,597.48 L210.85,597.90 L212.76,598.44 L214.68,599.09 L216.60,599.86 L218.51,600.76 L220.43,601.79 L222.34,602.94 L224.26,604.24 L226.18,605.67 L228.09,607.24 L230.01,608.95 L231.92,610.81 L233.84,612.82 L235.76,614.99 L237.67,617.31 L239.59,619.79 L241.50,622.44 L243.42,625.25 L245.34,628.23 L247.25,631.39 L249.17,634.72 L251.08,638.23 L253.00,641.92" fill="none" stroke="#8778B3" stroke-width="1.3"/>
<line x1="25" y1="707.3" x2="257.7" y2="707.3" stroke="#333" stroke-width="1.0"/>
<line x1="105.3" y1="707.3" x2="105.3" y2="704.3" stroke="#333" stroke-width="0.8"/>
<line x1="186.4" y1="707.3" x2="186.4" y2="704.3" stroke="#333" stroke-width="0.8"/>
<line x1="25" y1="589.4" x2="25" y2="733" stroke="#333" stroke-width="1"/>
<line x1="25" y1="727.80" x2="27.2" y2="727.80" stroke="#333" stroke-width="0.8"/>
<line x1="25" y1="720.90" x2="27.2" y2="720.90" stroke="#333" stroke-width="0.8"/>
<line x1="25" y1="714.00" x2="27.2" y2="714.00" stroke="#333" stroke-width="0.8"/>
<line x1="25" y1="707.10" x2="29" y2="707.10" stroke="#333" stroke-width="0.8"/>
<line x1="25" y1="700.20" x2="27.2" y2="700.20" stroke="#333" stroke-width="0.8"/>
<line x1="25" y1="693.30" x2="27.2" y2="693.30" stroke="#333" stroke-width="0.8"/>
<line x1="25" y1="686.40" x2="27.2" y2="686.40" stroke="#333" stroke-width="0.8"/>
<line x1="25" y1="679.50" x2="27.2" y2="679.50" stroke="#333" stroke-width="0.8"/>
<line x1="25" y1="672.60" x2="29" y2="672.60" stroke="#333" stroke-width="0.8"/>
<line x1="25" y1="665.70" x2="27.2" y2="665.70" stroke="#333" stroke-width="0.8"/>
<line x1="25" y1="658.80" x2="27.2" y2="658.80" stroke="#333" stroke-width="0.8"/>
<line x1="25" y1="651.90" x2="27.2" y2="651.90" stroke="#333" stroke-width="0.8"/>
<line x1="25" y1="645.00" x2="27.2" y2="645.00" stroke="#333" stroke-width="0.8"/>
<line x1="25" y1="638.10" x2="29" y2="638.10" stroke="#333" stroke-width="0.8"/>
<line x1="25" y1="631.20" x2="27.2" y2="631.20" stroke="#333" stroke-width="0.8"/>
<line x1="25" y1="624.30" x2="27.2" y2="624.30" stroke="#333" stroke-width="0.8"/>
<line x1="25" y1="617.40" x2="27.2" y2="617.40" stroke="#333" stroke-width="0.8"/>
<line x1="25" y1="610.50" x2="27.2" y2="610.50" stroke="#333" stroke-width="0.8"/>
<line x1="25" y1="603.60" x2="29" y2="603.60" stroke="#333" stroke-width="0.8"/>
<line x1="25" y1="596.70" x2="27.2" y2="596.70" stroke="#333" stroke-width="0.8"/>
<line x1="25" y1="589.80" x2="27.2" y2="589.80" stroke="#333" stroke-width="0.8"/>
<text x="22.8" y="606.70" text-anchor="end" font-size="8.8" letter-spacing="0.25" font-family="Liberation Sans, sans-serif" fill="#1a1a1a">0.015</text>
<text x="22.8" y="641.20" text-anchor="end" font-size="8.8" letter-spacing="0.25" font-family="Liberation Sans, sans-serif" fill="#1a1a1a">0.010</text>
<text x="22.8" y="675.70" text-anchor="end" font-size="8.8" letter-spacing="0.25" font-family="Liberation Sans, sans-serif" fill="#1a1a1a">0.005</text>
<text x="22.8" y="710.20" text-anchor="end" font-size="8.8" letter-spacing="0.25" font-family="Liberation Sans, sans-serif" fill="#1a1a1a">0.000</text>
<text x="105.3" y="715.20" text-anchor="middle" font-size="11.0" font-style="italic" font-family="Liberation Sans, sans-serif" fill="#1a1a1a">π</text>
<line x1="101.70" y1="717.60" x2="108.70" y2="717.60" stroke="#1a1a1a" stroke-width="1.1"/>
<text x="105.3" y="728.40" text-anchor="middle" font-size="10.4" font-family="Liberation Sans, sans-serif" fill="#1a1a1a">6</text>
<text x="186.4" y="715.20" text-anchor="middle" font-size="11.0" font-style="italic" font-family="Liberation Sans, sans-serif" fill="#1a1a1a">π</text>
<line x1="182.80" y1="717.60" x2="189.80" y2="717.60" stroke="#1a1a1a" stroke-width="1.1"/>
<text x="186.4" y="728.40" text-anchor="middle" font-size="10.4" font-family="Liberation Sans, sans-serif" fill="#1a1a1a">3</text>
<text x="263.8" y="713.2" font-size="10" font-style="italic" font-family="Liberation Sans, sans-serif" fill="#222">ρ</text>
<rect x="275.3" y="585.6" width="96.89999999999998" height="112.60000000000002" fill="none" stroke="#111" stroke-width="1"/>
<line x1="282.5" y1="599" x2="312.1" y2="599" stroke="#5D9EC7" stroke-width="1.3" stroke-dasharray="2.4,3.0"/>
<text x="317.8" y="602.20" font-size="9.1" letter-spacing="0.28" font-family="Liberation Sans, sans-serif" fill="#1a1a1a"><tspan font-style="italic" font-size="9.6">ζ</tspan>=0</text>
<line x1="282.5" y1="616" x2="312.1" y2="616" stroke="#5E81B5" stroke-width="1.3"/>
<text x="317.8" y="619.20" font-size="9.1" letter-spacing="0.28" font-family="Liberation Sans, sans-serif" fill="#1a1a1a"><tspan font-style="italic" font-size="9.6">ζ</tspan>=<tspan font-style="italic">π</tspan>/5</text>
<line x1="282.5" y1="633" x2="312.1" y2="633" stroke="#8FB032" stroke-width="1.3"/>
<text x="317.8" y="636.20" font-size="9.1" letter-spacing="0.28" font-family="Liberation Sans, sans-serif" fill="#1a1a1a"><tspan font-style="italic" font-size="9.6">ζ</tspan>=4<tspan font-style="italic">π</tspan>/10</text>
<line x1="282.5" y1="650.2" x2="312.1" y2="650.2" stroke="#EB6235" stroke-width="1.3"/>
<text x="317.8" y="653.40" font-size="9.1" letter-spacing="0.28" font-family="Liberation Sans, sans-serif" fill="#1a1a1a"><tspan font-style="italic" font-size="9.6">ζ</tspan>=48<tspan font-style="italic">π</tspan>/100</text>
<line x1="282.5" y1="667.7" x2="312.1" y2="667.7" stroke="#5D9EC7" stroke-width="1.3" stroke-dasharray="6,4.2"/>
<text x="317.8" y="670.90" font-size="9.1" letter-spacing="0.28" font-family="Liberation Sans, sans-serif" fill="#1a1a1a"><tspan font-style="italic" font-size="9.6">ζ</tspan>=π/2</text>
<line x1="282.5" y1="684.5" x2="312.1" y2="684.5" stroke="#8778B3" stroke-width="1.3"/>
<text x="317.8" y="687.70" font-size="9.1" letter-spacing="0.28" font-family="Liberation Sans, sans-serif" fill="#1a1a1a"><tspan font-style="italic" font-size="9.6">ζ</tspan>=51<tspan font-style="italic">π</tspan>/100</text>
<line x1="0.20" y1="53.40" x2="4.70" y2="53.40" stroke="#262626" stroke-width="0.85"/>
<polyline points="8.90,49.20 5.90,53.90 8.90,58.60" fill="none" stroke="#262626" stroke-width="0.80"/>
<polyline points="21.10,49.20 24.00,53.90 21.10,58.60" fill="none" stroke="#262626" stroke-width="0.80"/>
<text x="9.60" y="56.60" font-size="10.60" font-style="italic" font-family="Liberation Serif, serif" fill="#262626">T</text>
<polyline points="11.90,48.40 13.40,46.10 14.90,48.40" fill="none" stroke="#262626" stroke-width="0.75"/>
<text x="17.70" y="48.60" font-size="7.20" font-style="italic" font-family="Liberation Serif, serif" fill="#262626">τ</text>
<text x="16.60" y="59.20" font-size="7.20" font-style="italic" font-family="Liberation Serif, serif" fill="#262626">τ</text>
<text x="24.60" y="50.00" font-size="7.60" font-style="italic" font-family="Liberation Serif, serif" fill="#262626">ζ</text>
<text x="24.00" y="58.00" font-size="7.60" font-style="italic" font-family="Liberation Serif, serif" fill="#262626">β</text>
<polyline points="15.50,321.55 12.50,326.25 15.50,330.95" fill="none" stroke="#262626" stroke-width="0.80"/>
<polyline points="27.70,321.55 30.60,326.25 27.70,330.95" fill="none" stroke="#262626" stroke-width="0.80"/>
<text x="16.20" y="328.95" font-size="10.60" font-style="italic" font-family="Liberation Serif, serif" fill="#262626">T</text>
<polyline points="18.50,320.75 20.00,318.45 21.50,320.75" fill="none" stroke="#262626" stroke-width="0.75"/>
<text x="24.30" y="320.95" font-size="7.20" font-style="italic" font-family="Liberation Serif, serif" fill="#262626">ρ</text>
<text x="23.20" y="331.55" font-size="7.20" font-style="italic" font-family="Liberation Serif, serif" fill="#262626">ρ</text>
<text x="31.20" y="322.35" font-size="7.60" font-style="italic" font-family="Liberation Serif, serif" fill="#262626">ζ</text>
<text x="30.60" y="330.35" font-size="7.60" font-style="italic" font-family="Liberation Serif, serif" fill="#262626">β</text>
<line x1="15.7" y1="575.3" x2="20.4" y2="575.3" stroke="#262626" stroke-width="0.85"/>
<text x="21.30" y="577.50" font-size="10.01" font-family="Liberation Sans, sans-serif" fill="#262626">Π</text>
<text x="29.00" y="571.60" font-size="7.40" font-style="italic" font-family="Liberation Serif, serif" fill="#262626">ζ</text>
<text x="28.30" y="580.60" font-size="7.40" font-style="italic" font-family="Liberation Serif, serif" fill="#262626">β</text>
<line x1="400.80" y1="50.77" x2="405.53" y2="50.77" stroke="#262626" stroke-width="0.89"/>
<polyline points="409.94,46.37 406.79,51.30 409.94,56.23" fill="none" stroke="#262626" stroke-width="0.84"/>
<polyline points="422.75,46.37 425.79,51.30 422.75,56.23" fill="none" stroke="#262626" stroke-width="0.84"/>
<text x="410.67" y="54.13" font-size="11.13" font-style="italic" font-family="Liberation Serif, serif" fill="#262626">T</text>
<polyline points="413.09,45.52 414.66,43.11 416.24,45.52" fill="none" stroke="#262626" stroke-width="0.79"/>
<text x="419.18" y="45.73" font-size="7.56" font-style="italic" font-family="Liberation Serif, serif" fill="#262626">τ</text>
<text x="418.02" y="56.87" font-size="7.56" font-style="italic" font-family="Liberation Serif, serif" fill="#262626">τ</text>
<text x="426.42" y="47.20" font-size="7.98" font-style="italic" font-family="Liberation Serif, serif" fill="#262626">ζ</text>
<text x="425.79" y="55.60" font-size="7.98" font-style="italic" font-family="Liberation Serif, serif" fill="#262626">β</text>
<polyline points="401.80,301.30 398.80,306.00 401.80,310.70" fill="none" stroke="#262626" stroke-width="0.80"/>
<polyline points="414.00,301.30 416.90,306.00 414.00,310.70" fill="none" stroke="#262626" stroke-width="0.80"/>
<text x="402.50" y="308.70" font-size="10.60" font-style="italic" font-family="Liberation Serif, serif" fill="#262626">T</text>
<polyline points="404.80,300.50 406.30,298.20 407.80,300.50" fill="none" stroke="#262626" stroke-width="0.75"/>
<text x="410.60" y="300.70" font-size="7.20" font-style="italic" font-family="Liberation Serif, serif" fill="#262626">ρ</text>
<text x="409.50" y="311.30" font-size="7.20" font-style="italic" font-family="Liberation Serif, serif" fill="#262626">ρ</text>
<text x="417.50" y="302.10" font-size="7.60" font-style="italic" font-family="Liberation Serif, serif" fill="#262626">ζ</text>
<text x="416.90" y="310.10" font-size="7.60" font-style="italic" font-family="Liberation Serif, serif" fill="#262626">β</text>
<line x1="401" y1="560.4" x2="406.4" y2="560.4" stroke="#262626" stroke-width="0.81"/>
<text x="407.33" y="563.70" font-size="11.93" font-family="Liberation Sans, sans-serif" fill="#262626">Π</text>
<text x="415.70" y="556.80" font-size="7.03" font-style="italic" font-family="Liberation Serif, serif" fill="#262626">ζ</text>
<text x="415.00" y="566.80" font-size="7.03" font-style="italic" font-family="Liberation Serif, serif" fill="#262626">β</text>
<text x="408.40" y="106.80" font-size="7.6" text-anchor="end" font-family="Liberation Sans, sans-serif" fill="#262626">0.4</text>
<text x="412.20" y="129.10" font-size="7.6" text-anchor="end" font-family="Liberation Sans, sans-serif" fill="#262626">0.2</text>
<text x="415.70" y="150.10" font-size="7.6" text-anchor="end" font-family="Liberation Sans, sans-serif" fill="#262626">0.0</text>
<text x="417.50" y="163.20" font-size="7.6" text-anchor="middle" font-family="Liberation Sans, sans-serif" fill="#262626">0</text>
<text x="472.40" y="183.80" font-size="7.6000000000000005" text-anchor="middle" font-family="Liberation Sans, sans-serif" fill="#262626">π</text>
<line x1="469.80" y1="189.70" x2="475.00" y2="189.70" stroke="#262626" stroke-width=".7"/>
<text x="472.40" y="200.00" font-size="7.2" text-anchor="middle" font-family="Liberation Sans, sans-serif" fill="#262626">6</text>
<text x="504.60" y="207.40" font-size="9.5" text-anchor="middle" font-style="italic" font-family="Liberation Sans, sans-serif" fill="#262626">ρ</text>
<text x="535.00" y="208.30" font-size="7.6000000000000005" text-anchor="middle" font-family="Liberation Sans, sans-serif" fill="#262626">π</text>
<line x1="532.40" y1="213.00" x2="537.60" y2="213.00" stroke="#262626" stroke-width=".7"/>
<text x="535.00" y="223.40" font-size="7.2" text-anchor="middle" font-family="Liberation Sans, sans-serif" fill="#262626">3</text>
<text x="605.70" y="225.10" font-size="7.6" text-anchor="middle" font-family="Liberation Sans, sans-serif" fill="#262626">0</text>
<text x="634.80" y="177.30" font-size="7.6000000000000005" text-anchor="middle" font-family="Liberation Sans, sans-serif" fill="#262626">π</text>
<line x1="632.20" y1="183.60" x2="637.40" y2="183.60" stroke="#262626" stroke-width=".7"/>
<text x="634.80" y="193.80" font-size="7.2" text-anchor="middle" font-family="Liberation Sans, sans-serif" fill="#262626">6</text>
<text x="658.30" y="141.60" font-size="7.6000000000000005" text-anchor="middle" font-family="Liberation Sans, sans-serif" fill="#262626">π</text>
<line x1="655.70" y1="146.70" x2="660.90" y2="146.70" stroke="#262626" stroke-width=".7"/>
<text x="658.30" y="157.60" font-size="7.2" text-anchor="middle" font-family="Liberation Sans, sans-serif" fill="#262626">3</text>
<text x="679.30" y="108.50" font-size="7.6000000000000005" text-anchor="middle" font-family="Liberation Sans, sans-serif" fill="#262626">π</text>
<line x1="676.70" y1="114.50" x2="681.90" y2="114.50" stroke="#262626" stroke-width=".7"/>
<text x="679.30" y="125.10" font-size="7.2" text-anchor="middle" font-family="Liberation Sans, sans-serif" fill="#262626">2</text>
<text x="663.00" y="182.00" font-size="10" text-anchor="middle" font-style="italic" font-family="Liberation Serif, serif" fill="#262626">ζ</text>
<text x="410.50" y="355.50" font-size="7.6" text-anchor="end" font-family="Liberation Sans, sans-serif" fill="#262626">0.1</text>
<text x="414.00" y="371.80" font-size="7.6" text-anchor="end" font-family="Liberation Sans, sans-serif" fill="#262626">0.0</text>
<text x="415.20" y="388.20" font-size="7.6" text-anchor="end" font-family="Liberation Sans, sans-serif" fill="#262626">−0.1</text>
<text x="418.70" y="403.40" font-size="7.6" text-anchor="end" font-family="Liberation Sans, sans-serif" fill="#262626">−0.2</text>
<text x="421.10" y="416.60" font-size="7.6" text-anchor="middle" font-family="Liberation Sans, sans-serif" fill="#262626">0</text>
<text x="474.90" y="437.00" font-size="7.6000000000000005" text-anchor="middle" font-family="Liberation Sans, sans-serif" fill="#262626">π</text>
<line x1="472.30" y1="442.30" x2="477.50" y2="442.30" stroke="#262626" stroke-width=".7"/>
<text x="474.90" y="452.60" font-size="7.2" text-anchor="middle" font-family="Liberation Sans, sans-serif" fill="#262626">6</text>
<text x="505.50" y="462.10" font-size="9.5" text-anchor="middle" font-style="italic" font-family="Liberation Sans, sans-serif" fill="#262626">ρ</text>
<text x="536.20" y="460.50" font-size="7.6000000000000005" text-anchor="middle" font-family="Liberation Sans, sans-serif" fill="#262626">π</text>
<line x1="533.60" y1="466.00" x2="538.80" y2="466.00" stroke="#262626" stroke-width=".7"/>
<text x="536.20" y="475.80" font-size="7.2" text-anchor="middle" font-family="Liberation Sans, sans-serif" fill="#262626">3</text>
<text x="605.70" y="477.50" font-size="7.6" text-anchor="middle" font-family="Liberation Sans, sans-serif" fill="#262626">0</text>
<text x="634.50" y="430.70" font-size="7.6000000000000005" text-anchor="middle" font-family="Liberation Sans, sans-serif" fill="#262626">π</text>
<line x1="631.90" y1="436.30" x2="637.10" y2="436.30" stroke="#262626" stroke-width=".7"/>
<text x="634.50" y="446.70" font-size="7.2" text-anchor="middle" font-family="Liberation Sans, sans-serif" fill="#262626">6</text>
<text x="657.80" y="395.40" font-size="7.6000000000000005" text-anchor="middle" font-family="Liberation Sans, sans-serif" fill="#262626">π</text>
<line x1="655.20" y1="400.60" x2="660.40" y2="400.60" stroke="#262626" stroke-width=".7"/>
<text x="657.80" y="410.70" font-size="7.2" text-anchor="middle" font-family="Liberation Sans, sans-serif" fill="#262626">3</text>
<text x="678.10" y="363.10" font-size="7.6000000000000005" text-anchor="middle" font-family="Liberation Sans, sans-serif" fill="#262626">π</text>
<line x1="675.50" y1="368.30" x2="680.70" y2="368.30" stroke="#262626" stroke-width=".7"/>
<text x="678.10" y="379.10" font-size="7.2" text-anchor="middle" font-family="Liberation Sans, sans-serif" fill="#262626">2</text>
<text x="666.00" y="439.80" font-size="10" text-anchor="middle" font-style="italic" font-family="Liberation Serif, serif" fill="#262626">ζ</text>
<text x="418.10" y="605.30" font-size="7.6" text-anchor="end" font-family="Liberation Sans, sans-serif" fill="#262626">0.004</text>
<text x="420.70" y="621.00" font-size="7.6" text-anchor="end" font-family="Liberation Sans, sans-serif" fill="#262626">0.002</text>
<text x="422.60" y="636.80" font-size="7.6" text-anchor="end" font-family="Liberation Sans, sans-serif" fill="#262626">0.000</text>
<text x="425.20" y="651.50" font-size="7.6" text-anchor="end" font-family="Liberation Sans, sans-serif" fill="#262626">−0.002</text>
<text x="427.80" y="667.80" font-size="7.6" text-anchor="middle" font-family="Liberation Sans, sans-serif" fill="#262626">0</text>
<text x="479.80" y="687.10" font-size="7.6000000000000005" text-anchor="middle" font-family="Liberation Sans, sans-serif" fill="#262626">π</text>
<line x1="477.20" y1="691.40" x2="482.40" y2="691.40" stroke="#262626" stroke-width=".7"/>
<text x="479.80" y="701.90" font-size="7.2" text-anchor="middle" font-family="Liberation Sans, sans-serif" fill="#262626">6</text>
<text x="508.70" y="710.30" font-size="9.5" text-anchor="middle" font-style="italic" font-family="Liberation Sans, sans-serif" fill="#262626">ρ</text>
<text x="539.70" y="710.70" font-size="7.6000000000000005" text-anchor="middle" font-family="Liberation Sans, sans-serif" fill="#262626">π</text>
<line x1="537.10" y1="715.50" x2="542.30" y2="715.50" stroke="#262626" stroke-width=".7"/>
<text x="539.70" y="725.50" font-size="7.2" text-anchor="middle" font-family="Liberation Sans, sans-serif" fill="#262626">3</text>
<text x="607.70" y="727.60" font-size="7.6" text-anchor="middle" font-family="Liberation Sans, sans-serif" fill="#262626">0</text>
<text x="636.20" y="681.30" font-size="7.6000000000000005" text-anchor="middle" font-family="Liberation Sans, sans-serif" fill="#262626">π</text>
<line x1="633.60" y1="686.80" x2="638.80" y2="686.80" stroke="#262626" stroke-width=".7"/>
<text x="636.20" y="697.00" font-size="7.2" text-anchor="middle" font-family="Liberation Sans, sans-serif" fill="#262626">6</text>
<text x="658.50" y="645.90" font-size="7.6000000000000005" text-anchor="middle" font-family="Liberation Sans, sans-serif" fill="#262626">π</text>
<line x1="655.90" y1="651.70" x2="661.10" y2="651.70" stroke="#262626" stroke-width=".7"/>
<text x="658.50" y="661.60" font-size="7.2" text-anchor="middle" font-family="Liberation Sans, sans-serif" fill="#262626">3</text>
<text x="678.50" y="615.40" font-size="7.6000000000000005" text-anchor="middle" font-family="Liberation Sans, sans-serif" fill="#262626">π</text>
<line x1="675.90" y1="620.50" x2="681.10" y2="620.50" stroke="#262626" stroke-width=".7"/>
<text x="678.50" y="630.70" font-size="7.2" text-anchor="middle" font-family="Liberation Sans, sans-serif" fill="#262626">2</text>
<text x="666.30" y="685.80" font-size="10" text-anchor="middle" font-style="italic" font-family="Liberation Serif, serif" fill="#262626">ζ</text>
</svg>
</body></html>
